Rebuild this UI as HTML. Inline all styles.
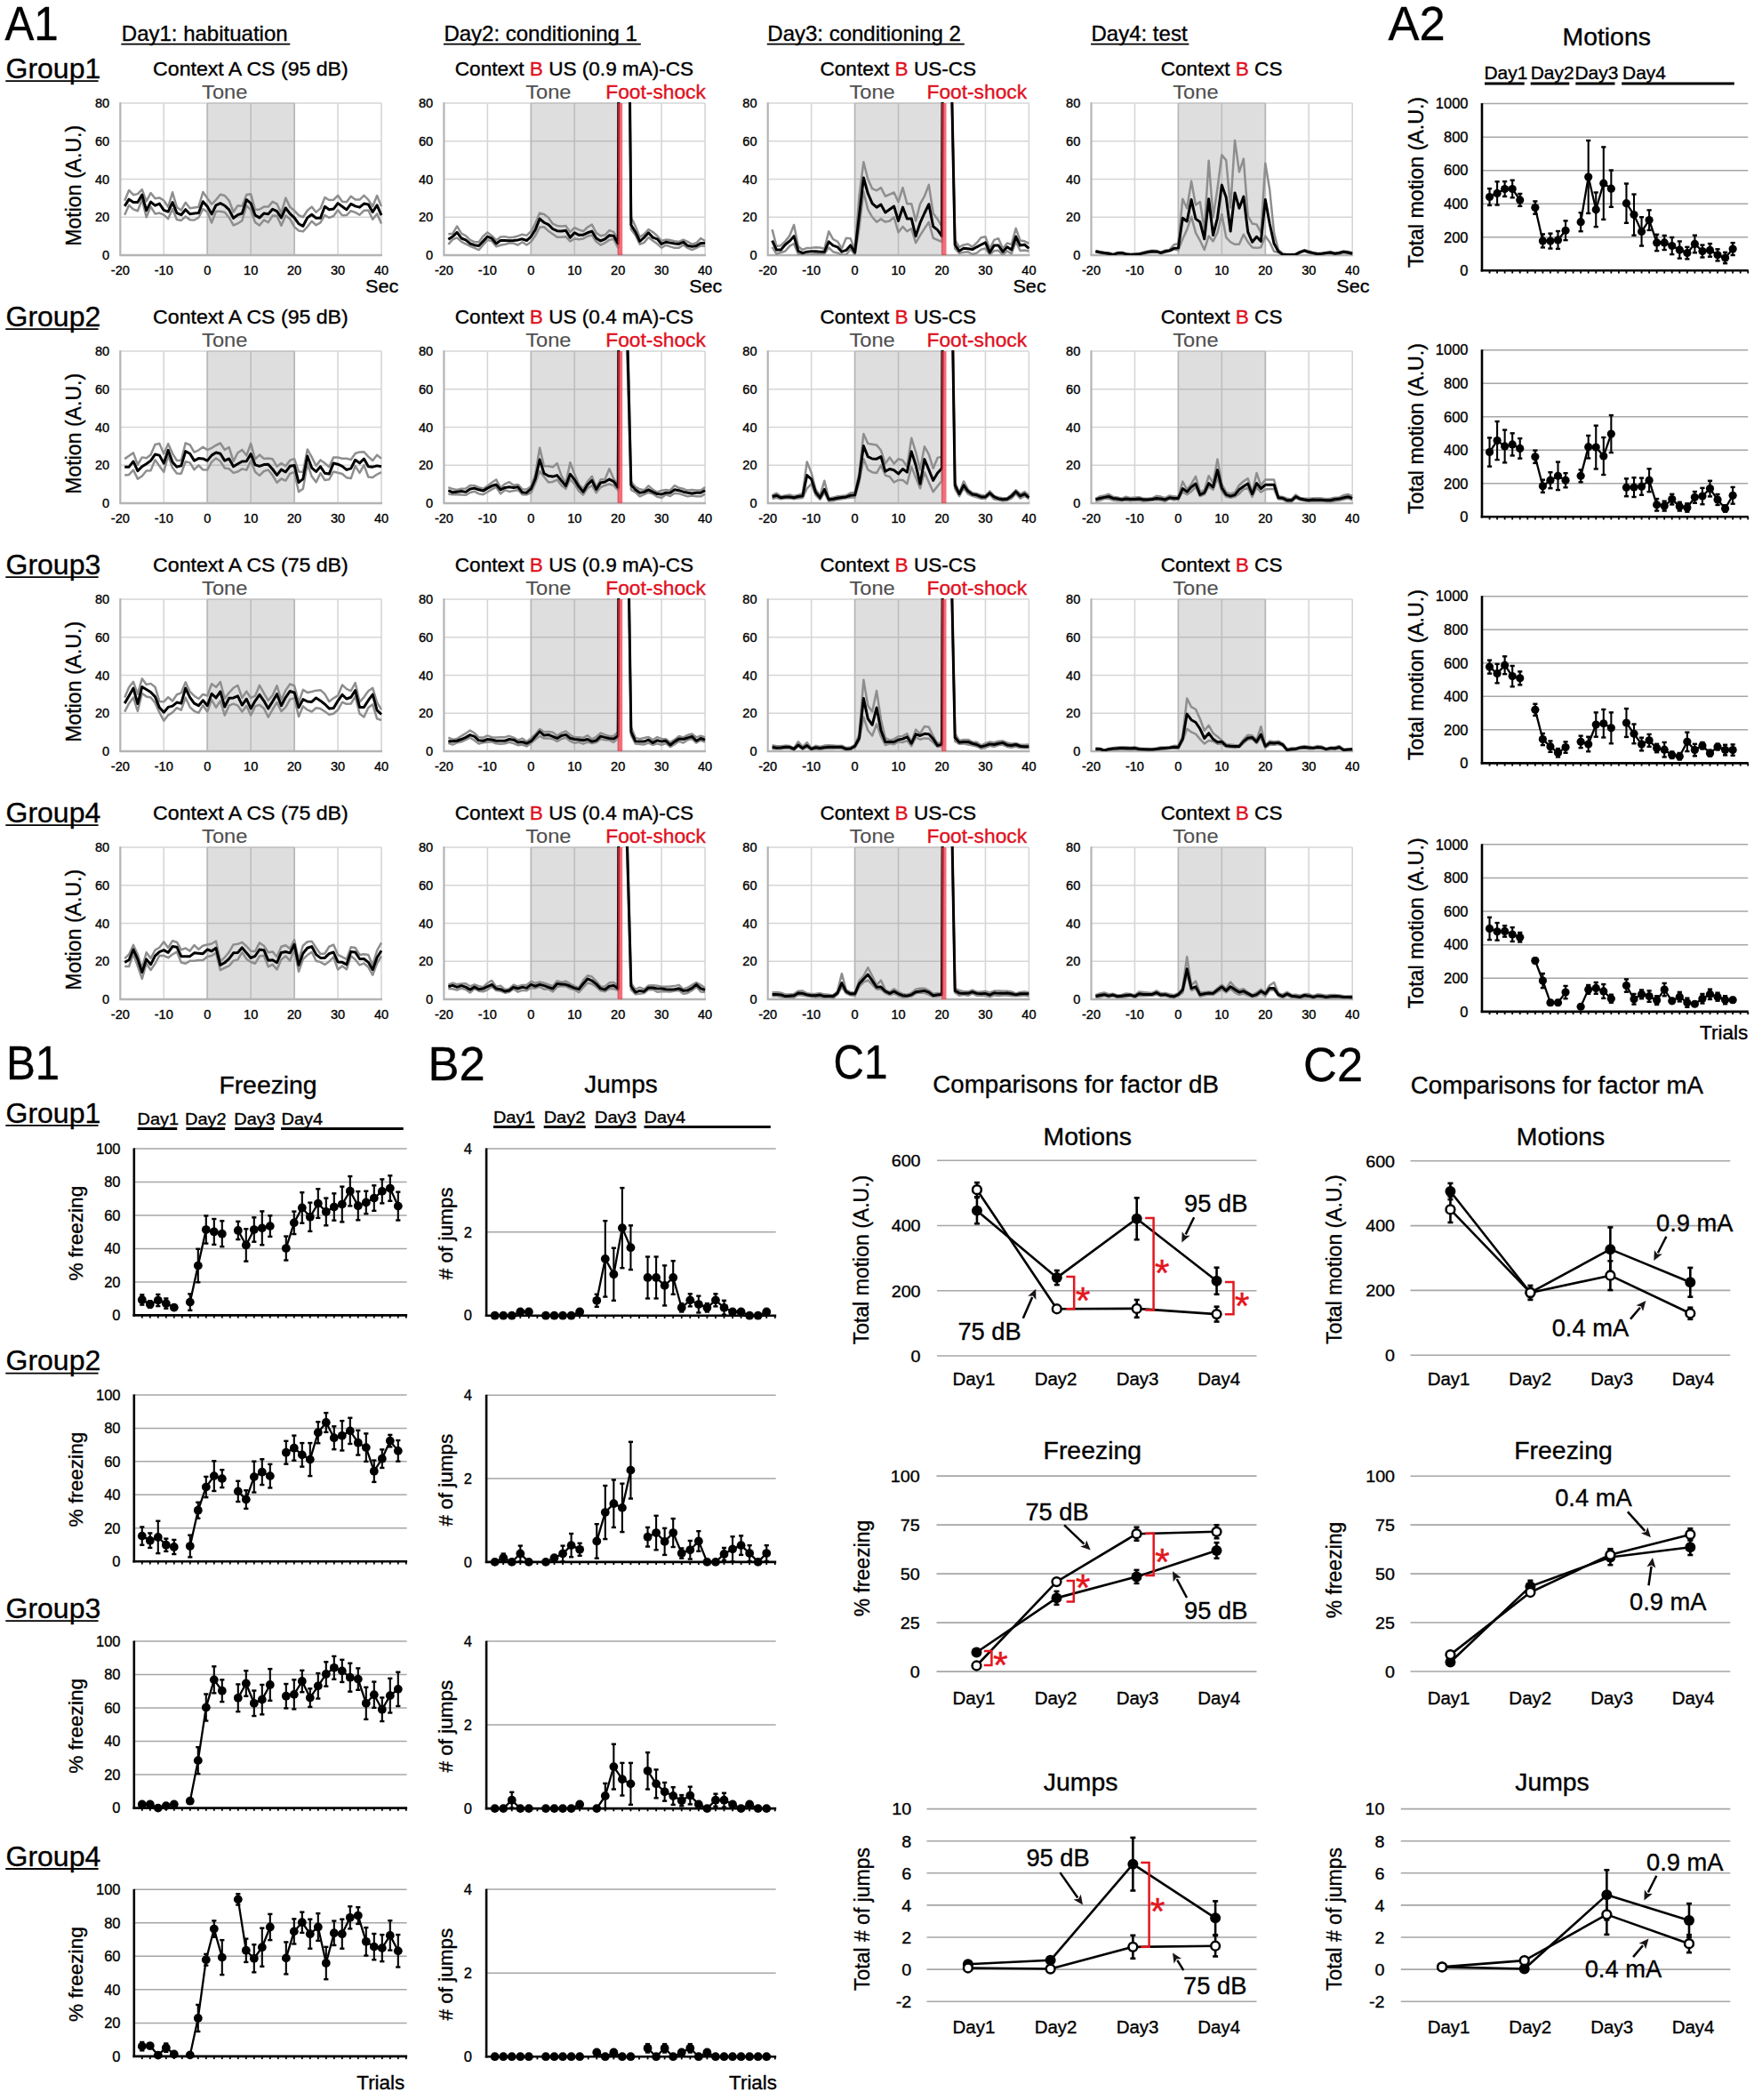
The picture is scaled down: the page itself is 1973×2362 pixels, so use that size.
<!DOCTYPE html>
<html><head><meta charset="utf-8"><title>Figure</title><style>html,body{margin:0;padding:0;background:#fff;}svg{display:block;}</style></head><body>
<svg width="1973" height="2362" viewBox="0 0 1973 2362" font-family="'Liberation Sans', Arial, Helvetica, sans-serif">
<rect x="0" y="0" width="1973" height="2362" fill="#fff"/>
<text transform="translate(5.5,45.4) scale(0.93,1)" font-size="53" text-anchor="start" fill="#000" stroke="#000" stroke-width="0.35">A1</text>
<text x="136.8" y="45.6" font-size="24" text-anchor="start" fill="#000" stroke="#000" stroke-width="0.35">Day1: habituation</text>
<line x1="136.3" y1="49.6" x2="326.3" y2="49.6" stroke="#000" stroke-width="1.6"/>
<text x="499.4" y="45.6" font-size="24" text-anchor="start" fill="#000" stroke="#000" stroke-width="0.35">Day2: conditioning 1</text>
<line x1="498.9" y1="49.6" x2="720.8" y2="49.6" stroke="#000" stroke-width="1.6"/>
<text x="863.3" y="45.6" font-size="24" text-anchor="start" fill="#000" stroke="#000" stroke-width="0.35">Day3: conditioning 2</text>
<line x1="862.8" y1="49.6" x2="1084.8" y2="49.6" stroke="#000" stroke-width="1.6"/>
<text x="1227.5" y="45.6" font-size="24" text-anchor="start" fill="#000" stroke="#000" stroke-width="0.35">Day4: test</text>
<line x1="1227" y1="49.6" x2="1337.4" y2="49.6" stroke="#000" stroke-width="1.6"/>
<text x="6.5" y="87.8" font-size="32" text-anchor="start" fill="#000" stroke="#000" stroke-width="0.35">Group1</text>
<line x1="6.3" y1="91.1" x2="110.6" y2="91.1" stroke="#000" stroke-width="1.8"/>
<rect x="233.2" y="116" width="97.9" height="171" fill="#dedede"/>
<line x1="184.25" y1="116" x2="184.25" y2="287" stroke="#d6d6d6" stroke-width="1.6"/>
<line x1="380.05" y1="116" x2="380.05" y2="287" stroke="#d6d6d6" stroke-width="1.6"/>
<line x1="282.15" y1="116" x2="282.15" y2="287" stroke="#bdbdbd" stroke-width="1.6"/>
<line x1="135.3" y1="244.25" x2="233.2" y2="244.25" stroke="#d6d6d6" stroke-width="1.6"/>
<line x1="233.2" y1="244.25" x2="331.1" y2="244.25" stroke="#bdbdbd" stroke-width="1.6"/>
<line x1="331.1" y1="244.25" x2="429" y2="244.25" stroke="#d6d6d6" stroke-width="1.6"/>
<line x1="135.3" y1="201.5" x2="233.2" y2="201.5" stroke="#d6d6d6" stroke-width="1.6"/>
<line x1="233.2" y1="201.5" x2="331.1" y2="201.5" stroke="#bdbdbd" stroke-width="1.6"/>
<line x1="331.1" y1="201.5" x2="429" y2="201.5" stroke="#d6d6d6" stroke-width="1.6"/>
<line x1="135.3" y1="158.75" x2="233.2" y2="158.75" stroke="#d6d6d6" stroke-width="1.6"/>
<line x1="233.2" y1="158.75" x2="331.1" y2="158.75" stroke="#bdbdbd" stroke-width="1.6"/>
<line x1="331.1" y1="158.75" x2="429" y2="158.75" stroke="#d6d6d6" stroke-width="1.6"/>
<line x1="135.3" y1="116" x2="233.2" y2="116" stroke="#d6d6d6" stroke-width="1.6"/>
<line x1="233.2" y1="116" x2="331.1" y2="116" stroke="#bdbdbd" stroke-width="1.6"/>
<line x1="331.1" y1="116" x2="429" y2="116" stroke="#d6d6d6" stroke-width="1.6"/>
<line x1="429" y1="116" x2="429" y2="287" stroke="#d6d6d6" stroke-width="1.6"/>
<line x1="233.2" y1="116" x2="233.2" y2="287" stroke="#b8b8b8" stroke-width="1.8"/>
<line x1="331.1" y1="116" x2="331.1" y2="287" stroke="#b8b8b8" stroke-width="1.8"/>
<line x1="135.3" y1="115.2" x2="135.3" y2="287" stroke="#b4b4b4" stroke-width="2.2"/>
<line x1="134.3" y1="287" x2="430" y2="287" stroke="#b4b4b4" stroke-width="2.4"/>
<clipPath id="cp00"><rect x="135.3" y="115" width="295.7" height="172"/></clipPath>
<polyline points="140.2,225.83 145.09,213.92 149.99,219.16 154.88,218.15 159.78,213.08 164.67,226.39 169.56,216.99 174.46,223.19 179.36,222.4 184.25,225.54 189.15,232.81 194.04,216.29 198.94,233.13 203.83,236.47 208.73,227.81 213.62,234.33 218.51,233.55 223.41,232.67 228.31,216.07 233.2,223.02 238.09,229.58 242.99,224.83 247.88,218.79 252.78,220.04 257.68,225.55 262.57,238.46 267.47,231.15 272.36,231.75 277.25,219.1 282.15,218.3 287.04,236.01 291.94,235.55 296.84,232.57 301.73,232.61 306.62,226.85 311.52,229.45 316.41,239.63 321.31,222.6 326.2,232.89 331.1,236.79 336,242.15 340.89,244.24 345.78,236.72 350.68,232.61 355.57,238.67 360.47,234.42 365.37,222.12 370.26,224.98 375.15,224.81 380.05,219.82 384.94,226.76 389.84,227.2 394.74,220.84 399.63,224.41 404.52,224.56 409.42,219.93 414.31,224.56 419.21,232.29 424.1,220.09 429,232.12" fill="none" stroke="#8e8e8e" stroke-width="2.5" stroke-linejoin="round" clip-path="url(#cp00)"/>
<polyline points="140.2,241.73 145.09,230.87 149.99,235.32 154.88,237.23 159.78,224.52 164.67,244.24 169.56,232.39 174.46,240.4 179.36,239.57 184.25,241.61 189.15,246.1 194.04,234.94 198.94,246.91 203.83,247.92 208.73,243.54 213.62,247.13 218.51,247.54 223.41,244.73 228.31,235.09 233.2,238.47 238.09,250.55 242.99,237.82 247.88,237.84 252.78,238.73 257.68,244.71 262.57,253.46 267.47,251.31 272.36,248.24 277.25,231.22 282.15,236.17 287.04,250.11 291.94,253.51 296.84,247.42 301.73,250.11 306.62,242.56 311.52,242.87 316.41,253.67 321.31,242.41 326.2,246.38 331.1,255.17 336,259.49 340.89,260.39 345.78,255.01 350.68,248.79 355.57,253.25 360.47,250.34 365.37,241.99 370.26,244.89 375.15,243.04 380.05,236.24 384.94,242.27 389.84,242.12 394.74,237.2 399.63,238.94 404.52,241.74 409.42,236.84 414.31,236.4 419.21,246.75 424.1,240.41 429,251.56" fill="none" stroke="#8e8e8e" stroke-width="2.5" stroke-linejoin="round" clip-path="url(#cp00)"/>
<polyline points="140.2,231.85 145.09,224.16 149.99,227.58 154.88,227.58 159.78,219.03 164.67,236.77 169.56,227.15 174.46,231.21 179.36,229.07 184.25,236.34 189.15,238.05 194.04,227.58 198.94,239.55 203.83,241.69 208.73,235.7 213.62,240.83 218.51,239.97 223.41,239.55 228.31,226.72 233.2,232.28 238.09,240.83 242.99,230.78 247.88,228.65 252.78,231.21 257.68,235.91 262.57,245.32 267.47,241.69 272.36,239.97 277.25,224.58 282.15,228.65 287.04,242.11 291.94,244.89 296.84,239.97 301.73,240.83 306.62,235.27 311.52,237.62 316.41,244.89 321.31,233.99 326.2,240.4 331.1,244.89 336,251.73 340.89,254.3 345.78,244.89 350.68,241.26 355.57,245.32 360.47,245.32 365.37,232.28 370.26,235.7 375.15,235.06 380.05,228.65 384.94,232.28 389.84,235.91 394.74,229.29 399.63,231.85 404.52,233.13 409.42,229.07 414.31,229.93 419.21,238.48 424.1,230.78 429,242.11" fill="none" stroke="#000" stroke-width="3.0" stroke-linejoin="round" clip-path="url(#cp00)"/>
<text transform="translate(123.1,292) scale(1.04,1)" font-size="14" text-anchor="end" fill="#000" stroke="#000" stroke-width="0.35">0</text>
<text transform="translate(123.1,249.25) scale(1.04,1)" font-size="14" text-anchor="end" fill="#000" stroke="#000" stroke-width="0.35">20</text>
<text transform="translate(123.1,206.5) scale(1.04,1)" font-size="14" text-anchor="end" fill="#000" stroke="#000" stroke-width="0.35">40</text>
<text transform="translate(123.1,163.75) scale(1.04,1)" font-size="14" text-anchor="end" fill="#000" stroke="#000" stroke-width="0.35">60</text>
<text transform="translate(123.1,121) scale(1.04,1)" font-size="14" text-anchor="end" fill="#000" stroke="#000" stroke-width="0.35">80</text>
<text transform="translate(135.3,308.7) scale(1.04,1)" font-size="14" text-anchor="middle" fill="#000" stroke="#000" stroke-width="0.35">-20</text>
<text transform="translate(184.25,308.7) scale(1.04,1)" font-size="14" text-anchor="middle" fill="#000" stroke="#000" stroke-width="0.35">-10</text>
<text transform="translate(233.2,308.7) scale(1.04,1)" font-size="14" text-anchor="middle" fill="#000" stroke="#000" stroke-width="0.35">0</text>
<text transform="translate(282.15,308.7) scale(1.04,1)" font-size="14" text-anchor="middle" fill="#000" stroke="#000" stroke-width="0.35">10</text>
<text transform="translate(331.1,308.7) scale(1.04,1)" font-size="14" text-anchor="middle" fill="#000" stroke="#000" stroke-width="0.35">20</text>
<text transform="translate(380.05,308.7) scale(1.04,1)" font-size="14" text-anchor="middle" fill="#000" stroke="#000" stroke-width="0.35">30</text>
<text transform="translate(429,308.7) scale(1.04,1)" font-size="14" text-anchor="middle" fill="#000" stroke="#000" stroke-width="0.35">40</text>
<text transform="translate(448.3,329.2) scale(1.03,1)" font-size="21" text-anchor="end" fill="#000" stroke="#000" stroke-width="0.35">Sec</text>
<text transform="translate(281.9,84.9) scale(1.075,1)" font-size="21.5" text-anchor="middle" fill="#000" stroke="#000" stroke-width="0.35">Context A CS (95 dB)</text>
<text transform="translate(227.1,110.9) scale(1.06,1)" font-size="22.3" text-anchor="start" fill="#4f4f4f" stroke="#4f4f4f" stroke-width="0.15">Tone</text>
<text transform="translate(91,208.8) rotate(-90) scale(1.0,1)" font-size="23.1" text-anchor="middle" fill="#000" stroke="#000" stroke-width="0.35">Motion (A.U.)</text>
<rect x="597.3" y="116" width="97.9" height="171" fill="#dedede"/>
<line x1="548.35" y1="116" x2="548.35" y2="287" stroke="#d6d6d6" stroke-width="1.6"/>
<line x1="744.15" y1="116" x2="744.15" y2="287" stroke="#d6d6d6" stroke-width="1.6"/>
<line x1="646.25" y1="116" x2="646.25" y2="287" stroke="#bdbdbd" stroke-width="1.6"/>
<line x1="499.4" y1="244.25" x2="597.3" y2="244.25" stroke="#d6d6d6" stroke-width="1.6"/>
<line x1="597.3" y1="244.25" x2="695.2" y2="244.25" stroke="#bdbdbd" stroke-width="1.6"/>
<line x1="695.2" y1="244.25" x2="793.1" y2="244.25" stroke="#d6d6d6" stroke-width="1.6"/>
<line x1="499.4" y1="201.5" x2="597.3" y2="201.5" stroke="#d6d6d6" stroke-width="1.6"/>
<line x1="597.3" y1="201.5" x2="695.2" y2="201.5" stroke="#bdbdbd" stroke-width="1.6"/>
<line x1="695.2" y1="201.5" x2="793.1" y2="201.5" stroke="#d6d6d6" stroke-width="1.6"/>
<line x1="499.4" y1="158.75" x2="597.3" y2="158.75" stroke="#d6d6d6" stroke-width="1.6"/>
<line x1="597.3" y1="158.75" x2="695.2" y2="158.75" stroke="#bdbdbd" stroke-width="1.6"/>
<line x1="695.2" y1="158.75" x2="793.1" y2="158.75" stroke="#d6d6d6" stroke-width="1.6"/>
<line x1="499.4" y1="116" x2="597.3" y2="116" stroke="#d6d6d6" stroke-width="1.6"/>
<line x1="597.3" y1="116" x2="695.2" y2="116" stroke="#bdbdbd" stroke-width="1.6"/>
<line x1="695.2" y1="116" x2="793.1" y2="116" stroke="#d6d6d6" stroke-width="1.6"/>
<line x1="793.1" y1="116" x2="793.1" y2="287" stroke="#d6d6d6" stroke-width="1.6"/>
<line x1="597.3" y1="116" x2="597.3" y2="287" stroke="#b8b8b8" stroke-width="1.8"/>
<line x1="695.2" y1="116" x2="695.2" y2="287" stroke="#b8b8b8" stroke-width="1.8"/>
<line x1="499.4" y1="115.2" x2="499.4" y2="287" stroke="#b4b4b4" stroke-width="2.2"/>
<line x1="498.4" y1="287" x2="794.1" y2="287" stroke="#b4b4b4" stroke-width="2.4"/>
<clipPath id="cp01"><rect x="499.4" y="115" width="295.7" height="172"/></clipPath>
<polyline points="504.29,263.2 509.19,262.82 514.08,254.45 518.98,262.72 523.88,265.13 528.77,269.82 533.66,272.19 538.56,272.34 543.45,265.73 548.35,261.36 553.25,265.21 558.14,270.17 563.03,266.61 567.93,266.13 572.82,267.32 577.72,266.79 582.62,265.46 587.51,263.68 592.4,264.91 597.3,260.28 602.19,251.31 607.09,239.6 611.99,240.91 616.88,244.71 621.77,251.7 626.67,253.98 631.56,254.41 636.46,254.1 641.36,260.91 646.25,256.06 651.14,258.36 656.04,260.08 660.93,255.51 665.83,252.65 670.72,261.86 675.62,265.2 680.51,264.27 685.41,259.13 690.3,260.91 695.2,270.03 700.1,-995.5 704.99,-253.79 709.88,244.43 714.78,254.34 719.67,266.68 724.57,263.36 729.46,257.98 734.36,261.07 739.25,265.29 744.15,270.77 749.04,269.61 753.94,270.11 758.84,271.31 763.73,271.94 768.62,269.64 773.52,271.85 778.41,274.75 783.31,273.27 788.2,268.1 793.1,270.98" fill="none" stroke="#8e8e8e" stroke-width="2.5" stroke-linejoin="round" clip-path="url(#cp01)"/>
<polyline points="504.29,274.86 509.19,269.35 514.08,267.43 518.98,271.8 523.88,274.4 528.77,276.78 533.66,278.91 538.56,281.1 543.45,275.53 548.35,269.95 553.25,271.13 558.14,277.19 563.03,275.78 567.93,274.83 572.82,273.48 577.72,273.61 582.62,275.55 587.51,272.19 592.4,275.51 597.3,272.03 602.19,265.06 607.09,255.58 611.99,255.23 616.88,259.8 621.77,263.3 626.67,266.67 631.56,266.68 636.46,266.15 641.36,271.52 646.25,268.46 651.14,269.15 656.04,268.41 660.93,265.73 665.83,264.57 670.72,271.81 675.62,275.62 680.51,273.2 685.41,269.87 690.3,268.98 695.2,278.79 700.1,-995.5 704.99,-253.79 709.88,257.89 714.78,264.56 719.67,274.77 724.57,272.83 729.46,267.02 734.36,270.84 739.25,274.3 744.15,278.59 749.04,275.78 753.94,277.37 758.84,278.84 763.73,278.63 768.62,275.49 773.52,278.91 778.41,281.11 783.31,278.84 788.2,276.37 793.1,276.88" fill="none" stroke="#8e8e8e" stroke-width="2.5" stroke-linejoin="round" clip-path="url(#cp01)"/>
<polyline points="504.29,269.26 509.19,266.05 514.08,261.35 518.98,267.98 523.88,269.9 528.77,273.96 533.66,275.67 538.56,276.53 543.45,271.4 548.35,266.05 553.25,268.19 558.14,273.96 563.03,270.54 567.93,270.54 572.82,270.75 577.72,270.54 582.62,269.9 587.51,268.83 592.4,270.54 597.3,266.05 602.19,258.36 607.09,246.17 611.99,250.24 616.88,252.59 621.77,257.5 626.67,259.64 631.56,260.07 636.46,259.21 641.36,267.12 646.25,261.78 651.14,264.34 656.04,264.13 660.93,261.78 665.83,260.07 670.72,267.98 675.62,270.97 680.51,268.83 685.41,264.77 690.3,265.2 695.2,273.96 700.1,-995.5 704.99,-253.79 709.88,253.01 714.78,260.92 719.67,271.4 724.57,267.12 729.46,261.78 734.36,267.12 739.25,268.83 744.15,274.39 749.04,272.25 753.94,273.11 758.84,273.96 763.73,274.39 768.62,272.25 773.52,276.31 778.41,277.38 783.31,276.53 788.2,273.53 793.1,273.53" fill="none" stroke="#000" stroke-width="3.0" stroke-linejoin="round" clip-path="url(#cp01)"/>
<rect x="694.8" y="116" width="5.4" height="171" fill="#ee3344" fill-opacity="0.72"/>
<text transform="translate(487.2,292) scale(1.04,1)" font-size="14" text-anchor="end" fill="#000" stroke="#000" stroke-width="0.35">0</text>
<text transform="translate(487.2,249.25) scale(1.04,1)" font-size="14" text-anchor="end" fill="#000" stroke="#000" stroke-width="0.35">20</text>
<text transform="translate(487.2,206.5) scale(1.04,1)" font-size="14" text-anchor="end" fill="#000" stroke="#000" stroke-width="0.35">40</text>
<text transform="translate(487.2,163.75) scale(1.04,1)" font-size="14" text-anchor="end" fill="#000" stroke="#000" stroke-width="0.35">60</text>
<text transform="translate(487.2,121) scale(1.04,1)" font-size="14" text-anchor="end" fill="#000" stroke="#000" stroke-width="0.35">80</text>
<text transform="translate(499.4,308.7) scale(1.04,1)" font-size="14" text-anchor="middle" fill="#000" stroke="#000" stroke-width="0.35">-20</text>
<text transform="translate(548.35,308.7) scale(1.04,1)" font-size="14" text-anchor="middle" fill="#000" stroke="#000" stroke-width="0.35">-10</text>
<text transform="translate(597.3,308.7) scale(1.04,1)" font-size="14" text-anchor="middle" fill="#000" stroke="#000" stroke-width="0.35">0</text>
<text transform="translate(646.25,308.7) scale(1.04,1)" font-size="14" text-anchor="middle" fill="#000" stroke="#000" stroke-width="0.35">10</text>
<text transform="translate(695.2,308.7) scale(1.04,1)" font-size="14" text-anchor="middle" fill="#000" stroke="#000" stroke-width="0.35">20</text>
<text transform="translate(744.15,308.7) scale(1.04,1)" font-size="14" text-anchor="middle" fill="#000" stroke="#000" stroke-width="0.35">30</text>
<text transform="translate(793.1,308.7) scale(1.04,1)" font-size="14" text-anchor="middle" fill="#000" stroke="#000" stroke-width="0.35">40</text>
<text transform="translate(812.4,329.2) scale(1.03,1)" font-size="21" text-anchor="end" fill="#000" stroke="#000" stroke-width="0.35">Sec</text>
<text transform="translate(646,84.9) scale(1.05,1)" font-size="21.5" text-anchor="middle" fill="#000" stroke="#000" stroke-width="0.35">Context <tspan fill="#e0101e" stroke="#e0101e">B</tspan> US (0.9 mA)-CS</text>
<text transform="translate(591.2,110.9) scale(1.06,1)" font-size="22.3" text-anchor="start" fill="#4f4f4f" stroke="#4f4f4f" stroke-width="0.15">Tone</text>
<text transform="translate(681.3,111.1) scale(1.035,1)" font-size="22" text-anchor="start" fill="#e0101e" stroke="#e0101e" stroke-width="0.35">Foot-shock</text>
<rect x="961.6" y="116" width="97.9" height="171" fill="#dedede"/>
<line x1="912.65" y1="116" x2="912.65" y2="287" stroke="#d6d6d6" stroke-width="1.6"/>
<line x1="1108.45" y1="116" x2="1108.45" y2="287" stroke="#d6d6d6" stroke-width="1.6"/>
<line x1="1010.55" y1="116" x2="1010.55" y2="287" stroke="#bdbdbd" stroke-width="1.6"/>
<line x1="863.7" y1="244.25" x2="961.6" y2="244.25" stroke="#d6d6d6" stroke-width="1.6"/>
<line x1="961.6" y1="244.25" x2="1059.5" y2="244.25" stroke="#bdbdbd" stroke-width="1.6"/>
<line x1="1059.5" y1="244.25" x2="1157.4" y2="244.25" stroke="#d6d6d6" stroke-width="1.6"/>
<line x1="863.7" y1="201.5" x2="961.6" y2="201.5" stroke="#d6d6d6" stroke-width="1.6"/>
<line x1="961.6" y1="201.5" x2="1059.5" y2="201.5" stroke="#bdbdbd" stroke-width="1.6"/>
<line x1="1059.5" y1="201.5" x2="1157.4" y2="201.5" stroke="#d6d6d6" stroke-width="1.6"/>
<line x1="863.7" y1="158.75" x2="961.6" y2="158.75" stroke="#d6d6d6" stroke-width="1.6"/>
<line x1="961.6" y1="158.75" x2="1059.5" y2="158.75" stroke="#bdbdbd" stroke-width="1.6"/>
<line x1="1059.5" y1="158.75" x2="1157.4" y2="158.75" stroke="#d6d6d6" stroke-width="1.6"/>
<line x1="863.7" y1="116" x2="961.6" y2="116" stroke="#d6d6d6" stroke-width="1.6"/>
<line x1="961.6" y1="116" x2="1059.5" y2="116" stroke="#bdbdbd" stroke-width="1.6"/>
<line x1="1059.5" y1="116" x2="1157.4" y2="116" stroke="#d6d6d6" stroke-width="1.6"/>
<line x1="1157.4" y1="116" x2="1157.4" y2="287" stroke="#d6d6d6" stroke-width="1.6"/>
<line x1="961.6" y1="116" x2="961.6" y2="287" stroke="#b8b8b8" stroke-width="1.8"/>
<line x1="1059.5" y1="116" x2="1059.5" y2="287" stroke="#b8b8b8" stroke-width="1.8"/>
<line x1="863.7" y1="115.2" x2="863.7" y2="287" stroke="#b4b4b4" stroke-width="2.2"/>
<line x1="862.7" y1="287" x2="1158.4" y2="287" stroke="#b4b4b4" stroke-width="2.4"/>
<clipPath id="cp02"><rect x="863.7" y="115" width="295.7" height="172"/></clipPath>
<polyline points="868.6,258.14 873.49,277 878.38,276.12 883.28,271.37 888.18,265.18 893.07,253.01 897.97,277.16 902.86,280.9 907.75,278.92 912.65,278.7 917.55,278.25 922.44,278.56 927.34,279.9 932.23,260.28 937.12,269.2 942.02,271.51 946.92,279.63 951.81,267.76 956.71,268.18 961.6,281.42 966.5,220.51 971.39,182.26 976.29,201.5 981.18,212.19 986.08,214.32 990.97,211.12 995.87,220.74 1000.76,218.6 1005.65,216.46 1010.55,227.15 1015.45,211.12 1020.34,229.29 1025.24,229.29 1030.13,248.53 1035.03,229.29 1039.92,220.74 1044.82,207.91 1049.71,239.97 1054.61,246.39 1059.5,254.94 1064.39,-995.5 1069.29,36.91 1074.18,269.98 1079.08,277.9 1083.97,275.49 1088.87,274.48 1093.77,277.6 1098.66,273.17 1103.56,267.21 1108.45,266.24 1113.35,280.03 1118.24,269.92 1123.13,268.19 1128.03,279.52 1132.92,273.49 1137.82,274.92 1142.72,256.85 1147.61,270.57 1152.51,271.34 1157.4,273.84" fill="none" stroke="#8e8e8e" stroke-width="2.5" stroke-linejoin="round" clip-path="url(#cp02)"/>
<polyline points="868.6,277.94 873.49,285.56 878.38,283.97 883.28,282.48 888.18,276.88 893.07,274 897.97,286.11 902.86,286.57 907.75,286.57 912.65,286.57 917.55,285.34 922.44,286.57 927.34,285.6 932.23,278.51 937.12,283.21 942.02,284.46 946.92,286.57 951.81,286.57 956.71,279.96 961.6,286.57 966.5,256.57 971.39,215.61 976.29,235.7 981.18,244.25 986.08,249.59 990.97,246.39 995.87,249.59 1000.76,248.53 1005.65,244.25 1010.55,261.35 1015.45,254.94 1020.34,260.28 1025.24,257.07 1030.13,273.11 1035.03,264.56 1039.92,257.07 1044.82,249.81 1049.71,267.76 1054.61,269.9 1059.5,272.04 1064.39,-995.5 1069.29,36.91 1074.18,279.37 1079.08,284.91 1083.97,283.72 1088.87,283.23 1093.77,286.07 1098.66,284.6 1103.56,280.6 1108.45,279.5 1113.35,286.57 1118.24,282.19 1123.13,281.74 1128.03,286.57 1132.92,282.23 1137.82,285.32 1142.72,271.6 1147.61,282.03 1152.51,281.58 1157.4,282.57" fill="none" stroke="#8e8e8e" stroke-width="2.5" stroke-linejoin="round" clip-path="url(#cp02)"/>
<polyline points="868.6,270.54 873.49,281.01 878.38,281.01 883.28,275.24 888.18,271.18 893.07,265.62 897.97,282.3 902.86,284.65 907.75,283.15 912.65,282.73 917.55,282.73 922.44,283.15 927.34,283.15 932.23,271.82 937.12,276.1 942.02,277.81 946.92,283.15 951.81,281.44 956.71,275.88 961.6,284.01 966.5,242.11 971.39,200 976.29,217.53 981.18,228.86 986.08,233.13 990.97,230.14 995.87,238.91 1000.76,235.49 1005.65,232.07 1010.55,248.53 1015.45,233.13 1020.34,245.96 1025.24,245.96 1030.13,265.62 1035.03,250.66 1039.92,239.76 1044.82,229.72 1049.71,254.72 1054.61,258.57 1059.5,265.62 1064.39,-995.5 1069.29,36.91 1074.18,275.24 1079.08,282.3 1083.97,279.31 1088.87,279.73 1093.77,280.59 1098.66,277.81 1103.56,275.24 1108.45,272.89 1113.35,284.01 1118.24,276.1 1123.13,276.1 1128.03,283.15 1132.92,277.81 1137.82,281.01 1142.72,266.05 1147.61,276.1 1152.51,275.24 1157.4,279.31" fill="none" stroke="#000" stroke-width="3.0" stroke-linejoin="round" clip-path="url(#cp02)"/>
<rect x="1059.1" y="116" width="5.4" height="171" fill="#ee3344" fill-opacity="0.72"/>
<text transform="translate(851.5,292) scale(1.04,1)" font-size="14" text-anchor="end" fill="#000" stroke="#000" stroke-width="0.35">0</text>
<text transform="translate(851.5,249.25) scale(1.04,1)" font-size="14" text-anchor="end" fill="#000" stroke="#000" stroke-width="0.35">20</text>
<text transform="translate(851.5,206.5) scale(1.04,1)" font-size="14" text-anchor="end" fill="#000" stroke="#000" stroke-width="0.35">40</text>
<text transform="translate(851.5,163.75) scale(1.04,1)" font-size="14" text-anchor="end" fill="#000" stroke="#000" stroke-width="0.35">60</text>
<text transform="translate(851.5,121) scale(1.04,1)" font-size="14" text-anchor="end" fill="#000" stroke="#000" stroke-width="0.35">80</text>
<text transform="translate(863.7,308.7) scale(1.04,1)" font-size="14" text-anchor="middle" fill="#000" stroke="#000" stroke-width="0.35">-20</text>
<text transform="translate(912.65,308.7) scale(1.04,1)" font-size="14" text-anchor="middle" fill="#000" stroke="#000" stroke-width="0.35">-10</text>
<text transform="translate(961.6,308.7) scale(1.04,1)" font-size="14" text-anchor="middle" fill="#000" stroke="#000" stroke-width="0.35">0</text>
<text transform="translate(1010.55,308.7) scale(1.04,1)" font-size="14" text-anchor="middle" fill="#000" stroke="#000" stroke-width="0.35">10</text>
<text transform="translate(1059.5,308.7) scale(1.04,1)" font-size="14" text-anchor="middle" fill="#000" stroke="#000" stroke-width="0.35">20</text>
<text transform="translate(1108.45,308.7) scale(1.04,1)" font-size="14" text-anchor="middle" fill="#000" stroke="#000" stroke-width="0.35">30</text>
<text transform="translate(1157.4,308.7) scale(1.04,1)" font-size="14" text-anchor="middle" fill="#000" stroke="#000" stroke-width="0.35">40</text>
<text transform="translate(1176.7,329.2) scale(1.03,1)" font-size="21" text-anchor="end" fill="#000" stroke="#000" stroke-width="0.35">Sec</text>
<text transform="translate(1010.3,84.9) scale(1.05,1)" font-size="21.5" text-anchor="middle" fill="#000" stroke="#000" stroke-width="0.35">Context <tspan fill="#e0101e" stroke="#e0101e">B</tspan> US-CS</text>
<text transform="translate(955.5,110.9) scale(1.06,1)" font-size="22.3" text-anchor="start" fill="#4f4f4f" stroke="#4f4f4f" stroke-width="0.15">Tone</text>
<text transform="translate(1042.5,111.1) scale(1.035,1)" font-size="22" text-anchor="start" fill="#e0101e" stroke="#e0101e" stroke-width="0.35">Foot-shock</text>
<rect x="1325.4" y="116" width="97.9" height="171" fill="#dedede"/>
<line x1="1276.45" y1="116" x2="1276.45" y2="287" stroke="#d6d6d6" stroke-width="1.6"/>
<line x1="1472.25" y1="116" x2="1472.25" y2="287" stroke="#d6d6d6" stroke-width="1.6"/>
<line x1="1374.35" y1="116" x2="1374.35" y2="287" stroke="#bdbdbd" stroke-width="1.6"/>
<line x1="1227.5" y1="244.25" x2="1325.4" y2="244.25" stroke="#d6d6d6" stroke-width="1.6"/>
<line x1="1325.4" y1="244.25" x2="1423.3" y2="244.25" stroke="#bdbdbd" stroke-width="1.6"/>
<line x1="1423.3" y1="244.25" x2="1521.2" y2="244.25" stroke="#d6d6d6" stroke-width="1.6"/>
<line x1="1227.5" y1="201.5" x2="1325.4" y2="201.5" stroke="#d6d6d6" stroke-width="1.6"/>
<line x1="1325.4" y1="201.5" x2="1423.3" y2="201.5" stroke="#bdbdbd" stroke-width="1.6"/>
<line x1="1423.3" y1="201.5" x2="1521.2" y2="201.5" stroke="#d6d6d6" stroke-width="1.6"/>
<line x1="1227.5" y1="158.75" x2="1325.4" y2="158.75" stroke="#d6d6d6" stroke-width="1.6"/>
<line x1="1325.4" y1="158.75" x2="1423.3" y2="158.75" stroke="#bdbdbd" stroke-width="1.6"/>
<line x1="1423.3" y1="158.75" x2="1521.2" y2="158.75" stroke="#d6d6d6" stroke-width="1.6"/>
<line x1="1227.5" y1="116" x2="1325.4" y2="116" stroke="#d6d6d6" stroke-width="1.6"/>
<line x1="1325.4" y1="116" x2="1423.3" y2="116" stroke="#bdbdbd" stroke-width="1.6"/>
<line x1="1423.3" y1="116" x2="1521.2" y2="116" stroke="#d6d6d6" stroke-width="1.6"/>
<line x1="1521.2" y1="116" x2="1521.2" y2="287" stroke="#d6d6d6" stroke-width="1.6"/>
<line x1="1325.4" y1="116" x2="1325.4" y2="287" stroke="#b8b8b8" stroke-width="1.8"/>
<line x1="1423.3" y1="116" x2="1423.3" y2="287" stroke="#b8b8b8" stroke-width="1.8"/>
<line x1="1227.5" y1="115.2" x2="1227.5" y2="287" stroke="#b4b4b4" stroke-width="2.2"/>
<line x1="1226.5" y1="287" x2="1522.2" y2="287" stroke="#b4b4b4" stroke-width="2.4"/>
<clipPath id="cp03"><rect x="1227.5" y="115" width="295.7" height="172"/></clipPath>
<polyline points="1232.39,282.01 1237.29,283.02 1242.18,283.89 1247.08,284.28 1251.97,285.73 1256.87,284.05 1261.77,283.83 1266.66,285.14 1271.56,285.7 1276.45,285.26 1281.35,285.08 1286.24,283.71 1291.13,282.48 1296.03,281.75 1300.92,282.05 1305.82,283.64 1310.71,281.53 1315.61,280.89 1320.51,275.24 1325.4,273.96 1330.3,223.73 1335.19,234.2 1340.09,203.85 1344.98,230.57 1349.88,227.15 1354.77,258.36 1359.66,180.77 1364.56,244.46 1369.45,212.19 1374.35,174.35 1379.24,180.34 1384.14,233.56 1389.04,157.89 1393.93,193.38 1398.83,178.63 1403.72,242.75 1408.62,251.52 1413.51,252.37 1418.4,261.78 1423.3,183.76 1428.19,213.26 1433.09,261.78 1437.98,281.01 1442.88,285.36 1447.78,285.99 1452.67,285.9 1457.57,285.49 1462.46,282.84 1467.36,281.25 1472.25,282.54 1477.14,283.98 1482.04,284.7 1486.93,284.7 1491.83,283.9 1496.72,283.06 1501.62,284.79 1506.51,283.78 1511.41,282.53 1516.3,283 1521.2,284.24" fill="none" stroke="#8e8e8e" stroke-width="2.5" stroke-linejoin="round" clip-path="url(#cp03)"/>
<polyline points="1232.39,283.34 1237.29,284.4 1242.18,285.15 1247.08,286.17 1251.97,286.57 1256.87,285.49 1261.77,284.99 1266.66,286.57 1271.56,286.57 1276.45,286.57 1281.35,286.49 1286.24,285.6 1291.13,284.16 1296.03,283.68 1300.92,283.59 1305.82,284.98 1310.71,283.8 1315.61,282.64 1320.51,280.38 1325.4,281.66 1330.3,268.83 1335.19,258.36 1340.09,243.61 1344.98,261.78 1349.88,270.54 1354.77,281.01 1359.66,265.41 1364.56,271.4 1369.45,261.78 1374.35,241.04 1379.24,267.12 1384.14,272.25 1389.04,274.82 1393.93,274.82 1398.83,263.7 1403.72,272.25 1408.62,278.24 1413.51,278.88 1418.4,278.24 1423.3,265.41 1428.19,272.25 1433.09,282.73 1437.98,283.85 1442.88,286.57 1447.78,286.57 1452.67,286.57 1457.57,286.57 1462.46,284.11 1467.36,282.56 1472.25,284.31 1477.14,285.19 1482.04,286.39 1486.93,285.79 1491.83,285.03 1496.72,284.6 1501.62,286.01 1506.51,285.47 1511.41,284 1516.3,284.75 1521.2,286.01" fill="none" stroke="#8e8e8e" stroke-width="2.5" stroke-linejoin="round" clip-path="url(#cp03)"/>
<polyline points="1232.39,282.73 1237.29,283.79 1242.18,284.44 1247.08,285.29 1251.97,286.57 1256.87,284.86 1261.77,284.44 1266.66,285.72 1271.56,286.57 1276.45,286.14 1281.35,285.72 1286.24,284.65 1291.13,283.58 1296.03,282.73 1300.92,282.94 1305.82,284.44 1310.71,282.73 1315.61,281.87 1320.51,279.31 1325.4,278.88 1330.3,245.32 1335.19,248.95 1340.09,224.58 1344.98,246.17 1349.88,249.81 1354.77,268.83 1359.66,223.73 1364.56,264.56 1369.45,245.32 1374.35,208.13 1379.24,222.02 1384.14,260.07 1389.04,216.89 1393.93,234.2 1398.83,221.16 1403.72,260.92 1408.62,272.25 1413.51,266.27 1418.4,271.4 1423.3,224.58 1428.19,251.52 1433.09,273.96 1437.98,282.73 1442.88,286.14 1447.78,286.57 1452.67,286.57 1457.57,286.14 1462.46,283.58 1467.36,281.87 1472.25,283.58 1477.14,284.65 1482.04,285.72 1486.93,285.29 1491.83,284.44 1496.72,284.01 1501.62,285.29 1506.51,284.44 1511.41,283.15 1516.3,284.01 1521.2,285.29" fill="none" stroke="#000" stroke-width="3.0" stroke-linejoin="round" clip-path="url(#cp03)"/>
<text transform="translate(1215.3,292) scale(1.04,1)" font-size="14" text-anchor="end" fill="#000" stroke="#000" stroke-width="0.35">0</text>
<text transform="translate(1215.3,249.25) scale(1.04,1)" font-size="14" text-anchor="end" fill="#000" stroke="#000" stroke-width="0.35">20</text>
<text transform="translate(1215.3,206.5) scale(1.04,1)" font-size="14" text-anchor="end" fill="#000" stroke="#000" stroke-width="0.35">40</text>
<text transform="translate(1215.3,163.75) scale(1.04,1)" font-size="14" text-anchor="end" fill="#000" stroke="#000" stroke-width="0.35">60</text>
<text transform="translate(1215.3,121) scale(1.04,1)" font-size="14" text-anchor="end" fill="#000" stroke="#000" stroke-width="0.35">80</text>
<text transform="translate(1227.5,308.7) scale(1.04,1)" font-size="14" text-anchor="middle" fill="#000" stroke="#000" stroke-width="0.35">-20</text>
<text transform="translate(1276.45,308.7) scale(1.04,1)" font-size="14" text-anchor="middle" fill="#000" stroke="#000" stroke-width="0.35">-10</text>
<text transform="translate(1325.4,308.7) scale(1.04,1)" font-size="14" text-anchor="middle" fill="#000" stroke="#000" stroke-width="0.35">0</text>
<text transform="translate(1374.35,308.7) scale(1.04,1)" font-size="14" text-anchor="middle" fill="#000" stroke="#000" stroke-width="0.35">10</text>
<text transform="translate(1423.3,308.7) scale(1.04,1)" font-size="14" text-anchor="middle" fill="#000" stroke="#000" stroke-width="0.35">20</text>
<text transform="translate(1472.25,308.7) scale(1.04,1)" font-size="14" text-anchor="middle" fill="#000" stroke="#000" stroke-width="0.35">30</text>
<text transform="translate(1521.2,308.7) scale(1.04,1)" font-size="14" text-anchor="middle" fill="#000" stroke="#000" stroke-width="0.35">40</text>
<text transform="translate(1540.5,329.2) scale(1.03,1)" font-size="21" text-anchor="end" fill="#000" stroke="#000" stroke-width="0.35">Sec</text>
<text transform="translate(1374.1,84.9) scale(1.05,1)" font-size="21.5" text-anchor="middle" fill="#000" stroke="#000" stroke-width="0.35">Context <tspan fill="#e0101e" stroke="#e0101e">B</tspan> CS</text>
<text transform="translate(1319.3,110.9) scale(1.06,1)" font-size="22.3" text-anchor="start" fill="#4f4f4f" stroke="#4f4f4f" stroke-width="0.15">Tone</text>
<text x="6.5" y="366.8" font-size="32" text-anchor="start" fill="#000" stroke="#000" stroke-width="0.35">Group2</text>
<line x1="6.3" y1="370.1" x2="110.6" y2="370.1" stroke="#000" stroke-width="1.8"/>
<rect x="233.2" y="395" width="97.9" height="171" fill="#dedede"/>
<line x1="184.25" y1="395" x2="184.25" y2="566" stroke="#d6d6d6" stroke-width="1.6"/>
<line x1="380.05" y1="395" x2="380.05" y2="566" stroke="#d6d6d6" stroke-width="1.6"/>
<line x1="282.15" y1="395" x2="282.15" y2="566" stroke="#bdbdbd" stroke-width="1.6"/>
<line x1="135.3" y1="523.25" x2="233.2" y2="523.25" stroke="#d6d6d6" stroke-width="1.6"/>
<line x1="233.2" y1="523.25" x2="331.1" y2="523.25" stroke="#bdbdbd" stroke-width="1.6"/>
<line x1="331.1" y1="523.25" x2="429" y2="523.25" stroke="#d6d6d6" stroke-width="1.6"/>
<line x1="135.3" y1="480.5" x2="233.2" y2="480.5" stroke="#d6d6d6" stroke-width="1.6"/>
<line x1="233.2" y1="480.5" x2="331.1" y2="480.5" stroke="#bdbdbd" stroke-width="1.6"/>
<line x1="331.1" y1="480.5" x2="429" y2="480.5" stroke="#d6d6d6" stroke-width="1.6"/>
<line x1="135.3" y1="437.75" x2="233.2" y2="437.75" stroke="#d6d6d6" stroke-width="1.6"/>
<line x1="233.2" y1="437.75" x2="331.1" y2="437.75" stroke="#bdbdbd" stroke-width="1.6"/>
<line x1="331.1" y1="437.75" x2="429" y2="437.75" stroke="#d6d6d6" stroke-width="1.6"/>
<line x1="135.3" y1="395" x2="233.2" y2="395" stroke="#d6d6d6" stroke-width="1.6"/>
<line x1="233.2" y1="395" x2="331.1" y2="395" stroke="#bdbdbd" stroke-width="1.6"/>
<line x1="331.1" y1="395" x2="429" y2="395" stroke="#d6d6d6" stroke-width="1.6"/>
<line x1="429" y1="395" x2="429" y2="566" stroke="#d6d6d6" stroke-width="1.6"/>
<line x1="233.2" y1="395" x2="233.2" y2="566" stroke="#b8b8b8" stroke-width="1.8"/>
<line x1="331.1" y1="395" x2="331.1" y2="566" stroke="#b8b8b8" stroke-width="1.8"/>
<line x1="135.3" y1="394.2" x2="135.3" y2="566" stroke="#b4b4b4" stroke-width="2.2"/>
<line x1="134.3" y1="566" x2="430" y2="566" stroke="#b4b4b4" stroke-width="2.4"/>
<clipPath id="cp10"><rect x="135.3" y="394" width="295.7" height="172"/></clipPath>
<polyline points="140.2,516.11 145.09,512.71 149.99,509.38 154.88,522.6 159.78,514.39 164.67,515.22 169.56,511.56 174.46,499.93 179.36,498.88 184.25,510.5 189.15,499.13 194.04,510.1 198.94,517.99 203.83,517.85 208.73,498.31 213.62,500.35 218.51,508.56 223.41,506.26 228.31,502.73 233.2,506.08 238.09,503.82 242.99,500.75 247.88,498.51 252.78,506.03 257.68,503.02 262.57,518.93 267.47,509.3 272.36,505.93 277.25,512.33 282.15,498.86 287.04,516.35 291.94,511.55 296.84,515.91 301.73,515.6 306.62,516.26 311.52,524.73 316.41,521.03 321.31,524.28 326.2,517.66 331.1,516.09 336,530.41 340.89,530.88 345.78,505.46 350.68,514.09 355.57,524.06 360.47,517.39 365.37,521.04 370.26,525.28 375.15,514.38 380.05,514.57 384.94,515.82 389.84,515.76 394.74,516.98 399.63,510.01 404.52,508.43 409.42,508.22 414.31,513.6 419.21,517.95 424.1,511.7 429,515.89" fill="none" stroke="#8e8e8e" stroke-width="2.5" stroke-linejoin="round" clip-path="url(#cp10)"/>
<polyline points="140.2,534.49 145.09,533.9 149.99,528.59 154.88,538.59 159.78,535.53 164.67,529.52 169.56,529.17 174.46,517.33 179.36,524.33 184.25,530.86 189.15,512.52 194.04,526.09 198.94,532.5 203.83,532.63 208.73,519.16 213.62,520.36 218.51,528.23 223.41,523.27 228.31,528.27 233.2,528.52 238.09,519.59 242.99,515.41 247.88,518.81 252.78,526.48 257.68,527.32 262.57,531.88 267.47,530.57 272.36,527.39 277.25,528.65 282.15,518.38 287.04,530.76 291.94,534.89 296.84,530 301.73,528.41 306.62,534.62 311.52,542.8 316.41,538.49 321.31,540.66 326.2,532.78 331.1,530.99 336,553.11 340.89,549.65 345.78,521.49 350.68,535.84 355.57,542.37 360.47,532.18 365.37,539.97 370.26,539.24 375.15,530.45 380.05,531.82 384.94,532.98 389.84,537.15 394.74,538.07 399.63,524.16 404.52,531.93 409.42,523.12 414.31,536.45 419.21,536.93 424.1,533.51 429,531.21" fill="none" stroke="#8e8e8e" stroke-width="2.5" stroke-linejoin="round" clip-path="url(#cp10)"/>
<polyline points="140.2,525.17 145.09,525.17 149.99,518.98 154.88,529.66 159.78,524.75 164.67,521.75 169.56,518.12 174.46,511.07 179.36,512.13 184.25,521.11 189.15,506.36 194.04,519.83 198.94,525.17 203.83,523.89 208.73,507.65 213.62,510.21 218.51,518.12 223.41,515.55 228.31,515.98 233.2,518.12 238.09,512.13 242.99,508.93 247.88,510.21 252.78,518.12 257.68,515.98 262.57,524.75 267.47,521.75 272.36,518.98 277.25,518.76 282.15,510.64 287.04,522.82 291.94,524.32 296.84,522.61 301.73,522.18 306.62,527.74 311.52,534.37 316.41,528.17 321.31,530.95 326.2,524.32 331.1,523.46 336,542.7 340.89,538.64 345.78,512.99 350.68,526.03 355.57,530.52 360.47,524.75 365.37,532.23 370.26,533.08 375.15,520.9 380.05,522.18 384.94,524.32 389.84,528.38 394.74,526.88 399.63,517.26 404.52,520.9 409.42,515.98 414.31,524.75 419.21,525.17 424.1,523.89 429,524.75" fill="none" stroke="#000" stroke-width="3.0" stroke-linejoin="round" clip-path="url(#cp10)"/>
<text transform="translate(123.1,571) scale(1.04,1)" font-size="14" text-anchor="end" fill="#000" stroke="#000" stroke-width="0.35">0</text>
<text transform="translate(123.1,528.25) scale(1.04,1)" font-size="14" text-anchor="end" fill="#000" stroke="#000" stroke-width="0.35">20</text>
<text transform="translate(123.1,485.5) scale(1.04,1)" font-size="14" text-anchor="end" fill="#000" stroke="#000" stroke-width="0.35">40</text>
<text transform="translate(123.1,442.75) scale(1.04,1)" font-size="14" text-anchor="end" fill="#000" stroke="#000" stroke-width="0.35">60</text>
<text transform="translate(123.1,400) scale(1.04,1)" font-size="14" text-anchor="end" fill="#000" stroke="#000" stroke-width="0.35">80</text>
<text transform="translate(135.3,587.7) scale(1.04,1)" font-size="14" text-anchor="middle" fill="#000" stroke="#000" stroke-width="0.35">-20</text>
<text transform="translate(184.25,587.7) scale(1.04,1)" font-size="14" text-anchor="middle" fill="#000" stroke="#000" stroke-width="0.35">-10</text>
<text transform="translate(233.2,587.7) scale(1.04,1)" font-size="14" text-anchor="middle" fill="#000" stroke="#000" stroke-width="0.35">0</text>
<text transform="translate(282.15,587.7) scale(1.04,1)" font-size="14" text-anchor="middle" fill="#000" stroke="#000" stroke-width="0.35">10</text>
<text transform="translate(331.1,587.7) scale(1.04,1)" font-size="14" text-anchor="middle" fill="#000" stroke="#000" stroke-width="0.35">20</text>
<text transform="translate(380.05,587.7) scale(1.04,1)" font-size="14" text-anchor="middle" fill="#000" stroke="#000" stroke-width="0.35">30</text>
<text transform="translate(429,587.7) scale(1.04,1)" font-size="14" text-anchor="middle" fill="#000" stroke="#000" stroke-width="0.35">40</text>
<text transform="translate(281.9,363.9) scale(1.075,1)" font-size="21.5" text-anchor="middle" fill="#000" stroke="#000" stroke-width="0.35">Context A CS (95 dB)</text>
<text transform="translate(227.1,389.9) scale(1.06,1)" font-size="22.3" text-anchor="start" fill="#4f4f4f" stroke="#4f4f4f" stroke-width="0.15">Tone</text>
<text transform="translate(91,487.8) rotate(-90) scale(1.0,1)" font-size="23.1" text-anchor="middle" fill="#000" stroke="#000" stroke-width="0.35">Motion (A.U.)</text>
<rect x="597.3" y="395" width="97.9" height="171" fill="#dedede"/>
<line x1="548.35" y1="395" x2="548.35" y2="566" stroke="#d6d6d6" stroke-width="1.6"/>
<line x1="744.15" y1="395" x2="744.15" y2="566" stroke="#d6d6d6" stroke-width="1.6"/>
<line x1="646.25" y1="395" x2="646.25" y2="566" stroke="#bdbdbd" stroke-width="1.6"/>
<line x1="499.4" y1="523.25" x2="597.3" y2="523.25" stroke="#d6d6d6" stroke-width="1.6"/>
<line x1="597.3" y1="523.25" x2="695.2" y2="523.25" stroke="#bdbdbd" stroke-width="1.6"/>
<line x1="695.2" y1="523.25" x2="793.1" y2="523.25" stroke="#d6d6d6" stroke-width="1.6"/>
<line x1="499.4" y1="480.5" x2="597.3" y2="480.5" stroke="#d6d6d6" stroke-width="1.6"/>
<line x1="597.3" y1="480.5" x2="695.2" y2="480.5" stroke="#bdbdbd" stroke-width="1.6"/>
<line x1="695.2" y1="480.5" x2="793.1" y2="480.5" stroke="#d6d6d6" stroke-width="1.6"/>
<line x1="499.4" y1="437.75" x2="597.3" y2="437.75" stroke="#d6d6d6" stroke-width="1.6"/>
<line x1="597.3" y1="437.75" x2="695.2" y2="437.75" stroke="#bdbdbd" stroke-width="1.6"/>
<line x1="695.2" y1="437.75" x2="793.1" y2="437.75" stroke="#d6d6d6" stroke-width="1.6"/>
<line x1="499.4" y1="395" x2="597.3" y2="395" stroke="#d6d6d6" stroke-width="1.6"/>
<line x1="597.3" y1="395" x2="695.2" y2="395" stroke="#bdbdbd" stroke-width="1.6"/>
<line x1="695.2" y1="395" x2="793.1" y2="395" stroke="#d6d6d6" stroke-width="1.6"/>
<line x1="793.1" y1="395" x2="793.1" y2="566" stroke="#d6d6d6" stroke-width="1.6"/>
<line x1="597.3" y1="395" x2="597.3" y2="566" stroke="#b8b8b8" stroke-width="1.8"/>
<line x1="695.2" y1="395" x2="695.2" y2="566" stroke="#b8b8b8" stroke-width="1.8"/>
<line x1="499.4" y1="394.2" x2="499.4" y2="566" stroke="#b4b4b4" stroke-width="2.2"/>
<line x1="498.4" y1="566" x2="794.1" y2="566" stroke="#b4b4b4" stroke-width="2.4"/>
<clipPath id="cp11"><rect x="499.4" y="394" width="295.7" height="172"/></clipPath>
<polyline points="504.29,548.14 509.19,550.05 514.08,551.03 518.98,549.64 523.88,549.5 528.77,545.97 533.66,546.25 538.56,548.07 543.45,549.75 548.35,546.46 553.25,542.82 558.14,539.44 563.03,548.36 567.93,544.43 572.82,542.21 577.72,545.65 582.62,544.88 587.51,550.17 592.4,550.46 597.3,547.11 602.19,533.78 607.09,503.8 611.99,524.32 616.88,524.32 621.77,525.39 626.67,521.11 631.56,535.07 636.46,543.55 641.36,520.26 646.25,533.13 651.14,544.75 656.04,549.94 660.93,541.55 665.83,535.74 670.72,547.77 675.62,539.36 680.51,538.95 685.41,527.31 690.3,538.43 695.2,545.12 700.1,-716.5 704.99,329.19 709.88,542.21 714.78,547.49 719.67,550.33 724.57,551.28 729.46,546.34 734.36,550.67 739.25,553.5 744.15,551.75 749.04,550.95 753.94,551.41 758.84,546.16 763.73,548.82 768.62,549.81 773.52,551.56 778.41,550.96 783.31,551.48 788.2,551.52 793.1,548.03" fill="none" stroke="#8e8e8e" stroke-width="2.5" stroke-linejoin="round" clip-path="url(#cp11)"/>
<polyline points="504.29,555.49 509.19,556.19 514.08,556.14 518.98,556.58 523.88,556.84 528.77,554.01 533.66,552.69 538.56,555.36 543.45,556.24 548.35,553.34 553.25,550.32 558.14,547.85 563.03,555.38 567.93,551.19 572.82,552.94 577.72,552.08 582.62,551.21 587.51,556.24 592.4,556.38 597.3,554.41 602.19,543.35 607.09,529.88 611.99,536.29 616.88,542.39 621.77,541.98 626.67,539.53 631.56,546.09 636.46,549.84 641.36,538.98 646.25,544.39 651.14,552.24 656.04,556.47 660.93,549.06 665.83,546.05 670.72,554.1 675.62,548.01 680.51,545.93 685.41,544.48 690.3,546.13 695.2,551.51 700.1,-716.5 704.99,381.57 709.88,550.89 714.78,553.59 719.67,558.26 724.57,556.09 729.46,553.96 734.36,555.5 739.25,558.74 744.15,559.89 749.04,556.32 753.94,557.99 758.84,554.7 763.73,555.17 768.62,556.71 773.52,558.34 778.41,557.4 783.31,558.18 788.2,558.33 793.1,555.58" fill="none" stroke="#8e8e8e" stroke-width="2.5" stroke-linejoin="round" clip-path="url(#cp11)"/>
<polyline points="504.29,551.68 509.19,553.82 514.08,553.17 518.98,552.53 523.88,553.39 528.77,549.97 533.66,549.11 538.56,550.82 543.45,552.11 548.35,549.11 553.25,546.55 558.14,545.05 563.03,550.82 567.93,548.47 572.82,547.83 577.72,548.47 582.62,547.83 587.51,553.82 592.4,554.24 597.3,549.97 602.19,538.64 607.09,516.84 611.99,532.44 616.88,535.22 621.77,536.08 626.67,534.58 631.56,540.78 636.46,546.55 641.36,533.3 646.25,539.5 651.14,547.4 656.04,553.17 660.93,545.05 665.83,540.35 670.72,550.4 675.62,542.91 680.51,542.06 685.41,539.07 690.3,541.63 695.2,548.26 700.1,-716.5 704.99,352.25 709.88,545.48 714.78,550.82 719.67,554.24 724.57,553.39 729.46,550.82 734.36,553.39 739.25,555.53 744.15,555.95 749.04,554.24 753.94,554.24 758.84,550.82 763.73,551.68 768.62,553.17 773.52,554.24 778.41,555.1 783.31,554.24 788.2,554.24 793.1,551.68" fill="none" stroke="#000" stroke-width="3.0" stroke-linejoin="round" clip-path="url(#cp11)"/>
<rect x="694.8" y="395" width="5.4" height="171" fill="#ee3344" fill-opacity="0.72"/>
<text transform="translate(487.2,571) scale(1.04,1)" font-size="14" text-anchor="end" fill="#000" stroke="#000" stroke-width="0.35">0</text>
<text transform="translate(487.2,528.25) scale(1.04,1)" font-size="14" text-anchor="end" fill="#000" stroke="#000" stroke-width="0.35">20</text>
<text transform="translate(487.2,485.5) scale(1.04,1)" font-size="14" text-anchor="end" fill="#000" stroke="#000" stroke-width="0.35">40</text>
<text transform="translate(487.2,442.75) scale(1.04,1)" font-size="14" text-anchor="end" fill="#000" stroke="#000" stroke-width="0.35">60</text>
<text transform="translate(487.2,400) scale(1.04,1)" font-size="14" text-anchor="end" fill="#000" stroke="#000" stroke-width="0.35">80</text>
<text transform="translate(499.4,587.7) scale(1.04,1)" font-size="14" text-anchor="middle" fill="#000" stroke="#000" stroke-width="0.35">-20</text>
<text transform="translate(548.35,587.7) scale(1.04,1)" font-size="14" text-anchor="middle" fill="#000" stroke="#000" stroke-width="0.35">-10</text>
<text transform="translate(597.3,587.7) scale(1.04,1)" font-size="14" text-anchor="middle" fill="#000" stroke="#000" stroke-width="0.35">0</text>
<text transform="translate(646.25,587.7) scale(1.04,1)" font-size="14" text-anchor="middle" fill="#000" stroke="#000" stroke-width="0.35">10</text>
<text transform="translate(695.2,587.7) scale(1.04,1)" font-size="14" text-anchor="middle" fill="#000" stroke="#000" stroke-width="0.35">20</text>
<text transform="translate(744.15,587.7) scale(1.04,1)" font-size="14" text-anchor="middle" fill="#000" stroke="#000" stroke-width="0.35">30</text>
<text transform="translate(793.1,587.7) scale(1.04,1)" font-size="14" text-anchor="middle" fill="#000" stroke="#000" stroke-width="0.35">40</text>
<text transform="translate(646,363.9) scale(1.05,1)" font-size="21.5" text-anchor="middle" fill="#000" stroke="#000" stroke-width="0.35">Context <tspan fill="#e0101e" stroke="#e0101e">B</tspan> US (0.4 mA)-CS</text>
<text transform="translate(591.2,389.9) scale(1.06,1)" font-size="22.3" text-anchor="start" fill="#4f4f4f" stroke="#4f4f4f" stroke-width="0.15">Tone</text>
<text transform="translate(681.3,390.1) scale(1.035,1)" font-size="22" text-anchor="start" fill="#e0101e" stroke="#e0101e" stroke-width="0.35">Foot-shock</text>
<rect x="961.6" y="395" width="97.9" height="171" fill="#dedede"/>
<line x1="912.65" y1="395" x2="912.65" y2="566" stroke="#d6d6d6" stroke-width="1.6"/>
<line x1="1108.45" y1="395" x2="1108.45" y2="566" stroke="#d6d6d6" stroke-width="1.6"/>
<line x1="1010.55" y1="395" x2="1010.55" y2="566" stroke="#bdbdbd" stroke-width="1.6"/>
<line x1="863.7" y1="523.25" x2="961.6" y2="523.25" stroke="#d6d6d6" stroke-width="1.6"/>
<line x1="961.6" y1="523.25" x2="1059.5" y2="523.25" stroke="#bdbdbd" stroke-width="1.6"/>
<line x1="1059.5" y1="523.25" x2="1157.4" y2="523.25" stroke="#d6d6d6" stroke-width="1.6"/>
<line x1="863.7" y1="480.5" x2="961.6" y2="480.5" stroke="#d6d6d6" stroke-width="1.6"/>
<line x1="961.6" y1="480.5" x2="1059.5" y2="480.5" stroke="#bdbdbd" stroke-width="1.6"/>
<line x1="1059.5" y1="480.5" x2="1157.4" y2="480.5" stroke="#d6d6d6" stroke-width="1.6"/>
<line x1="863.7" y1="437.75" x2="961.6" y2="437.75" stroke="#d6d6d6" stroke-width="1.6"/>
<line x1="961.6" y1="437.75" x2="1059.5" y2="437.75" stroke="#bdbdbd" stroke-width="1.6"/>
<line x1="1059.5" y1="437.75" x2="1157.4" y2="437.75" stroke="#d6d6d6" stroke-width="1.6"/>
<line x1="863.7" y1="395" x2="961.6" y2="395" stroke="#d6d6d6" stroke-width="1.6"/>
<line x1="961.6" y1="395" x2="1059.5" y2="395" stroke="#bdbdbd" stroke-width="1.6"/>
<line x1="1059.5" y1="395" x2="1157.4" y2="395" stroke="#d6d6d6" stroke-width="1.6"/>
<line x1="1157.4" y1="395" x2="1157.4" y2="566" stroke="#d6d6d6" stroke-width="1.6"/>
<line x1="961.6" y1="395" x2="961.6" y2="566" stroke="#b8b8b8" stroke-width="1.8"/>
<line x1="1059.5" y1="395" x2="1059.5" y2="566" stroke="#b8b8b8" stroke-width="1.8"/>
<line x1="863.7" y1="394.2" x2="863.7" y2="566" stroke="#b4b4b4" stroke-width="2.2"/>
<line x1="862.7" y1="566" x2="1158.4" y2="566" stroke="#b4b4b4" stroke-width="2.4"/>
<clipPath id="cp12"><rect x="863.7" y="394" width="295.7" height="172"/></clipPath>
<polyline points="868.6,557.07 873.49,554.69 878.38,558.35 883.28,557.47 888.18,556.57 893.07,557.85 897.97,556.77 902.86,555.17 907.75,519.4 912.65,531.8 917.55,550.52 922.44,557.42 927.34,540.78 932.23,560.37 937.12,559.6 942.02,558.28 946.92,557.85 951.81,557.22 956.71,554.46 961.6,553.67 966.5,532.18 971.39,487.98 976.29,498.88 981.18,499.74 986.08,500.59 990.97,506.58 995.87,521.54 1000.76,514.49 1005.65,521.54 1010.55,516.2 1015.45,517.69 1020.34,524.96 1025.24,492.68 1030.13,508.5 1035.03,528.38 1039.92,502.3 1044.82,511.07 1049.71,526.67 1054.61,514.91 1059.5,513.63 1064.39,-716.5 1069.29,226.14 1074.18,542.02 1079.08,554.24 1083.97,541.42 1088.87,550.43 1093.77,554.27 1098.66,555.28 1103.56,556.84 1108.45,557.64 1113.35,552.42 1118.24,557.7 1123.13,559.61 1128.03,560.35 1132.92,560.13 1137.82,556.18 1142.72,551.24 1147.61,555.73 1152.51,553.05 1157.4,557.4" fill="none" stroke="#8e8e8e" stroke-width="2.5" stroke-linejoin="round" clip-path="url(#cp12)"/>
<polyline points="868.6,560.93 873.49,559.88 878.38,561.27 883.28,560.49 888.18,560.37 893.07,561.25 897.97,560.39 902.86,560.08 907.75,549.33 912.65,544.3 917.55,556.89 922.44,561.92 927.34,553.94 932.23,563.69 937.12,563.22 942.02,561.9 946.92,561.34 951.81,560.35 956.71,559.8 961.6,559.27 966.5,542.46 971.39,516.2 976.29,528.38 981.18,531.16 986.08,532.01 990.97,523.25 995.87,534.58 1000.76,536.29 1005.65,542.49 1010.55,539.92 1015.45,539.92 1020.34,544.2 1025.24,524.96 1030.13,537.14 1035.03,549.33 1039.92,531.16 1044.82,542.49 1049.71,553.17 1054.61,546.76 1059.5,540.78 1064.39,-716.5 1069.29,226.14 1074.18,549.61 1079.08,558.22 1083.97,548.89 1088.87,555.56 1093.77,557.79 1098.66,559.2 1103.56,560.92 1108.45,560.78 1113.35,556.41 1118.24,561.53 1123.13,562.32 1128.03,563.41 1132.92,562.9 1137.82,560.58 1142.72,555.29 1147.61,560.59 1152.51,557.81 1157.4,561.16" fill="none" stroke="#8e8e8e" stroke-width="2.5" stroke-linejoin="round" clip-path="url(#cp12)"/>
<polyline points="868.6,558.73 873.49,557.24 878.38,559.8 883.28,558.95 888.18,558.95 893.07,559.8 897.97,558.52 902.86,557.88 907.75,534.58 912.65,538.85 917.55,553.82 922.44,559.8 927.34,550.4 932.23,561.73 937.12,561.3 942.02,560.23 946.92,559.59 951.81,558.95 956.71,557.24 961.6,556.81 966.5,537.14 971.39,501.45 976.29,513.63 981.18,515.98 986.08,516.2 990.97,513.63 995.87,530.3 1000.76,527.52 1005.65,528.81 1010.55,532.87 1015.45,527.52 1020.34,531.16 1025.24,507.86 1030.13,523.25 1035.03,544.2 1039.92,516.62 1044.82,528.38 1049.71,540.35 1054.61,532.01 1059.5,526.67 1064.39,-716.5 1069.29,226.14 1074.18,545.91 1079.08,555.53 1083.97,545.91 1088.87,552.53 1093.77,555.95 1098.66,556.81 1103.56,558.95 1108.45,558.95 1113.35,554.67 1118.24,558.95 1123.13,560.87 1128.03,561.73 1132.92,561.3 1137.82,558.09 1142.72,552.96 1147.61,557.88 1152.51,555.53 1157.4,559.59" fill="none" stroke="#000" stroke-width="3.0" stroke-linejoin="round" clip-path="url(#cp12)"/>
<rect x="1059.1" y="395" width="5.4" height="171" fill="#ee3344" fill-opacity="0.72"/>
<text transform="translate(851.5,571) scale(1.04,1)" font-size="14" text-anchor="end" fill="#000" stroke="#000" stroke-width="0.35">0</text>
<text transform="translate(851.5,528.25) scale(1.04,1)" font-size="14" text-anchor="end" fill="#000" stroke="#000" stroke-width="0.35">20</text>
<text transform="translate(851.5,485.5) scale(1.04,1)" font-size="14" text-anchor="end" fill="#000" stroke="#000" stroke-width="0.35">40</text>
<text transform="translate(851.5,442.75) scale(1.04,1)" font-size="14" text-anchor="end" fill="#000" stroke="#000" stroke-width="0.35">60</text>
<text transform="translate(851.5,400) scale(1.04,1)" font-size="14" text-anchor="end" fill="#000" stroke="#000" stroke-width="0.35">80</text>
<text transform="translate(863.7,587.7) scale(1.04,1)" font-size="14" text-anchor="middle" fill="#000" stroke="#000" stroke-width="0.35">-20</text>
<text transform="translate(912.65,587.7) scale(1.04,1)" font-size="14" text-anchor="middle" fill="#000" stroke="#000" stroke-width="0.35">-10</text>
<text transform="translate(961.6,587.7) scale(1.04,1)" font-size="14" text-anchor="middle" fill="#000" stroke="#000" stroke-width="0.35">0</text>
<text transform="translate(1010.55,587.7) scale(1.04,1)" font-size="14" text-anchor="middle" fill="#000" stroke="#000" stroke-width="0.35">10</text>
<text transform="translate(1059.5,587.7) scale(1.04,1)" font-size="14" text-anchor="middle" fill="#000" stroke="#000" stroke-width="0.35">20</text>
<text transform="translate(1108.45,587.7) scale(1.04,1)" font-size="14" text-anchor="middle" fill="#000" stroke="#000" stroke-width="0.35">30</text>
<text transform="translate(1157.4,587.7) scale(1.04,1)" font-size="14" text-anchor="middle" fill="#000" stroke="#000" stroke-width="0.35">40</text>
<text transform="translate(1010.3,363.9) scale(1.05,1)" font-size="21.5" text-anchor="middle" fill="#000" stroke="#000" stroke-width="0.35">Context <tspan fill="#e0101e" stroke="#e0101e">B</tspan> US-CS</text>
<text transform="translate(955.5,389.9) scale(1.06,1)" font-size="22.3" text-anchor="start" fill="#4f4f4f" stroke="#4f4f4f" stroke-width="0.15">Tone</text>
<text transform="translate(1042.5,390.1) scale(1.035,1)" font-size="22" text-anchor="start" fill="#e0101e" stroke="#e0101e" stroke-width="0.35">Foot-shock</text>
<rect x="1325.4" y="395" width="97.9" height="171" fill="#dedede"/>
<line x1="1276.45" y1="395" x2="1276.45" y2="566" stroke="#d6d6d6" stroke-width="1.6"/>
<line x1="1472.25" y1="395" x2="1472.25" y2="566" stroke="#d6d6d6" stroke-width="1.6"/>
<line x1="1374.35" y1="395" x2="1374.35" y2="566" stroke="#bdbdbd" stroke-width="1.6"/>
<line x1="1227.5" y1="523.25" x2="1325.4" y2="523.25" stroke="#d6d6d6" stroke-width="1.6"/>
<line x1="1325.4" y1="523.25" x2="1423.3" y2="523.25" stroke="#bdbdbd" stroke-width="1.6"/>
<line x1="1423.3" y1="523.25" x2="1521.2" y2="523.25" stroke="#d6d6d6" stroke-width="1.6"/>
<line x1="1227.5" y1="480.5" x2="1325.4" y2="480.5" stroke="#d6d6d6" stroke-width="1.6"/>
<line x1="1325.4" y1="480.5" x2="1423.3" y2="480.5" stroke="#bdbdbd" stroke-width="1.6"/>
<line x1="1423.3" y1="480.5" x2="1521.2" y2="480.5" stroke="#d6d6d6" stroke-width="1.6"/>
<line x1="1227.5" y1="437.75" x2="1325.4" y2="437.75" stroke="#d6d6d6" stroke-width="1.6"/>
<line x1="1325.4" y1="437.75" x2="1423.3" y2="437.75" stroke="#bdbdbd" stroke-width="1.6"/>
<line x1="1423.3" y1="437.75" x2="1521.2" y2="437.75" stroke="#d6d6d6" stroke-width="1.6"/>
<line x1="1227.5" y1="395" x2="1325.4" y2="395" stroke="#d6d6d6" stroke-width="1.6"/>
<line x1="1325.4" y1="395" x2="1423.3" y2="395" stroke="#bdbdbd" stroke-width="1.6"/>
<line x1="1423.3" y1="395" x2="1521.2" y2="395" stroke="#d6d6d6" stroke-width="1.6"/>
<line x1="1521.2" y1="395" x2="1521.2" y2="566" stroke="#d6d6d6" stroke-width="1.6"/>
<line x1="1325.4" y1="395" x2="1325.4" y2="566" stroke="#b8b8b8" stroke-width="1.8"/>
<line x1="1423.3" y1="395" x2="1423.3" y2="566" stroke="#b8b8b8" stroke-width="1.8"/>
<line x1="1227.5" y1="394.2" x2="1227.5" y2="566" stroke="#b4b4b4" stroke-width="2.2"/>
<line x1="1226.5" y1="566" x2="1522.2" y2="566" stroke="#b4b4b4" stroke-width="2.4"/>
<clipPath id="cp13"><rect x="1227.5" y="394" width="295.7" height="172"/></clipPath>
<polyline points="1232.39,560.77 1237.29,558.26 1242.18,557.6 1247.08,555.79 1251.97,558.78 1256.87,559.4 1261.77,560.76 1266.66,558.69 1271.56,560.08 1276.45,559.58 1281.35,559.18 1286.24,560.7 1291.13,560.75 1296.03,560.32 1300.92,557.78 1305.82,558.57 1310.71,560.13 1315.61,557.43 1320.51,558.36 1325.4,558.97 1330.3,541.63 1335.19,550.63 1340.09,544.43 1344.98,535.86 1349.88,553 1354.77,551.39 1359.66,535.22 1364.56,543.4 1369.45,516.62 1374.35,544.39 1379.24,553.69 1384.14,555.52 1389.04,553.97 1393.93,545.73 1398.83,541.21 1403.72,538.12 1408.62,553.94 1413.51,532.01 1418.4,545.99 1423.3,539.5 1428.19,539.5 1433.09,539.5 1437.98,558.11 1442.88,558.94 1447.78,560.73 1452.67,561.54 1457.57,556.45 1462.46,559.9 1467.36,560.65 1472.25,560.86 1477.14,560.59 1482.04,560.27 1486.93,560.46 1491.83,561.22 1496.72,560.78 1501.62,559.75 1506.51,559.44 1511.41,557 1516.3,555.98 1521.2,557.87" fill="none" stroke="#8e8e8e" stroke-width="2.5" stroke-linejoin="round" clip-path="url(#cp13)"/>
<polyline points="1232.39,563.75 1237.29,562.87 1242.18,561.07 1247.08,560.96 1251.97,562.54 1256.87,563.16 1261.77,563.22 1266.66,562.65 1271.56,563.53 1276.45,562.77 1281.35,563.02 1286.24,563.69 1291.13,563.34 1296.03,562.83 1300.92,562.17 1305.82,562.75 1310.71,563.94 1315.61,561.24 1320.51,562.47 1325.4,561.77 1330.3,553.4 1335.19,556.23 1340.09,552.82 1344.98,547.46 1349.88,558.22 1354.77,556.05 1359.66,547.13 1364.56,550.78 1369.45,537.17 1374.35,552.53 1379.24,558.85 1384.14,559.72 1389.04,558.67 1393.93,555.35 1398.83,550.19 1403.72,549.04 1408.62,558.83 1413.51,548.19 1418.4,553.54 1423.3,550.4 1428.19,549.97 1433.09,549.97 1437.98,561.62 1442.88,561.87 1447.78,564.31 1452.67,564.66 1457.57,560.34 1462.46,562.39 1467.36,563.23 1472.25,563.99 1477.14,563.64 1482.04,563.65 1486.93,563.74 1491.83,564.32 1496.72,564.48 1501.62,563.57 1506.51,562.68 1511.41,561.84 1516.3,560.61 1521.2,562.44" fill="none" stroke="#8e8e8e" stroke-width="2.5" stroke-linejoin="round" clip-path="url(#cp13)"/>
<polyline points="1232.39,561.94 1237.29,560.44 1242.18,559.37 1247.08,558.52 1251.97,560.44 1256.87,561.08 1261.77,561.94 1266.66,561.08 1271.56,561.51 1276.45,561.51 1281.35,561.08 1286.24,561.94 1291.13,561.94 1296.03,561.51 1300.92,560.44 1305.82,561.08 1310.71,561.94 1315.61,559.8 1320.51,560.44 1325.4,560.44 1330.3,549.54 1335.19,553.17 1340.09,547.83 1344.98,543.98 1349.88,556.38 1354.77,554.03 1359.66,543.56 1364.56,547.83 1369.45,528.59 1374.35,548.69 1379.24,556.38 1384.14,558.09 1389.04,556.6 1393.93,550.61 1398.83,546.98 1403.72,543.98 1408.62,555.74 1413.51,543.56 1418.4,549.54 1423.3,545.27 1428.19,545.27 1433.09,545.27 1437.98,559.8 1442.88,560.23 1447.78,562.79 1452.67,562.79 1457.57,558.52 1462.46,561.08 1467.36,561.94 1472.25,562.79 1477.14,561.94 1482.04,562.37 1486.93,562.37 1491.83,562.79 1496.72,562.79 1501.62,561.51 1506.51,561.08 1511.41,559.8 1516.3,558.73 1521.2,560.44" fill="none" stroke="#000" stroke-width="3.0" stroke-linejoin="round" clip-path="url(#cp13)"/>
<text transform="translate(1215.3,571) scale(1.04,1)" font-size="14" text-anchor="end" fill="#000" stroke="#000" stroke-width="0.35">0</text>
<text transform="translate(1215.3,528.25) scale(1.04,1)" font-size="14" text-anchor="end" fill="#000" stroke="#000" stroke-width="0.35">20</text>
<text transform="translate(1215.3,485.5) scale(1.04,1)" font-size="14" text-anchor="end" fill="#000" stroke="#000" stroke-width="0.35">40</text>
<text transform="translate(1215.3,442.75) scale(1.04,1)" font-size="14" text-anchor="end" fill="#000" stroke="#000" stroke-width="0.35">60</text>
<text transform="translate(1215.3,400) scale(1.04,1)" font-size="14" text-anchor="end" fill="#000" stroke="#000" stroke-width="0.35">80</text>
<text transform="translate(1227.5,587.7) scale(1.04,1)" font-size="14" text-anchor="middle" fill="#000" stroke="#000" stroke-width="0.35">-20</text>
<text transform="translate(1276.45,587.7) scale(1.04,1)" font-size="14" text-anchor="middle" fill="#000" stroke="#000" stroke-width="0.35">-10</text>
<text transform="translate(1325.4,587.7) scale(1.04,1)" font-size="14" text-anchor="middle" fill="#000" stroke="#000" stroke-width="0.35">0</text>
<text transform="translate(1374.35,587.7) scale(1.04,1)" font-size="14" text-anchor="middle" fill="#000" stroke="#000" stroke-width="0.35">10</text>
<text transform="translate(1423.3,587.7) scale(1.04,1)" font-size="14" text-anchor="middle" fill="#000" stroke="#000" stroke-width="0.35">20</text>
<text transform="translate(1472.25,587.7) scale(1.04,1)" font-size="14" text-anchor="middle" fill="#000" stroke="#000" stroke-width="0.35">30</text>
<text transform="translate(1521.2,587.7) scale(1.04,1)" font-size="14" text-anchor="middle" fill="#000" stroke="#000" stroke-width="0.35">40</text>
<text transform="translate(1374.1,363.9) scale(1.05,1)" font-size="21.5" text-anchor="middle" fill="#000" stroke="#000" stroke-width="0.35">Context <tspan fill="#e0101e" stroke="#e0101e">B</tspan> CS</text>
<text transform="translate(1319.3,389.9) scale(1.06,1)" font-size="22.3" text-anchor="start" fill="#4f4f4f" stroke="#4f4f4f" stroke-width="0.15">Tone</text>
<text x="6.5" y="645.8" font-size="32" text-anchor="start" fill="#000" stroke="#000" stroke-width="0.35">Group3</text>
<line x1="6.3" y1="649.1" x2="110.6" y2="649.1" stroke="#000" stroke-width="1.8"/>
<rect x="233.2" y="674" width="97.9" height="171" fill="#dedede"/>
<line x1="184.25" y1="674" x2="184.25" y2="845" stroke="#d6d6d6" stroke-width="1.6"/>
<line x1="380.05" y1="674" x2="380.05" y2="845" stroke="#d6d6d6" stroke-width="1.6"/>
<line x1="282.15" y1="674" x2="282.15" y2="845" stroke="#bdbdbd" stroke-width="1.6"/>
<line x1="135.3" y1="802.25" x2="233.2" y2="802.25" stroke="#d6d6d6" stroke-width="1.6"/>
<line x1="233.2" y1="802.25" x2="331.1" y2="802.25" stroke="#bdbdbd" stroke-width="1.6"/>
<line x1="331.1" y1="802.25" x2="429" y2="802.25" stroke="#d6d6d6" stroke-width="1.6"/>
<line x1="135.3" y1="759.5" x2="233.2" y2="759.5" stroke="#d6d6d6" stroke-width="1.6"/>
<line x1="233.2" y1="759.5" x2="331.1" y2="759.5" stroke="#bdbdbd" stroke-width="1.6"/>
<line x1="331.1" y1="759.5" x2="429" y2="759.5" stroke="#d6d6d6" stroke-width="1.6"/>
<line x1="135.3" y1="716.75" x2="233.2" y2="716.75" stroke="#d6d6d6" stroke-width="1.6"/>
<line x1="233.2" y1="716.75" x2="331.1" y2="716.75" stroke="#bdbdbd" stroke-width="1.6"/>
<line x1="331.1" y1="716.75" x2="429" y2="716.75" stroke="#d6d6d6" stroke-width="1.6"/>
<line x1="135.3" y1="674" x2="233.2" y2="674" stroke="#d6d6d6" stroke-width="1.6"/>
<line x1="233.2" y1="674" x2="331.1" y2="674" stroke="#bdbdbd" stroke-width="1.6"/>
<line x1="331.1" y1="674" x2="429" y2="674" stroke="#d6d6d6" stroke-width="1.6"/>
<line x1="429" y1="674" x2="429" y2="845" stroke="#d6d6d6" stroke-width="1.6"/>
<line x1="233.2" y1="674" x2="233.2" y2="845" stroke="#b8b8b8" stroke-width="1.8"/>
<line x1="331.1" y1="674" x2="331.1" y2="845" stroke="#b8b8b8" stroke-width="1.8"/>
<line x1="135.3" y1="673.2" x2="135.3" y2="845" stroke="#b4b4b4" stroke-width="2.2"/>
<line x1="134.3" y1="845" x2="430" y2="845" stroke="#b4b4b4" stroke-width="2.4"/>
<clipPath id="cp20"><rect x="135.3" y="673" width="295.7" height="172"/></clipPath>
<polyline points="140.2,784.6 145.09,772.92 149.99,766.88 154.88,780.72 159.78,763.33 164.67,769.88 169.56,768.88 174.46,772.7 179.36,788.93 184.25,789.35 189.15,784.22 194.04,788.52 198.94,781.28 203.83,779.32 208.73,767.31 213.62,777.93 218.51,782.67 223.41,786.02 228.31,780.98 233.2,782.53 238.09,769.29 242.99,772.83 247.88,767.05 252.78,785.74 257.68,779.03 262.57,773.79 267.47,770.94 272.36,784.92 277.25,777.66 282.15,784.97 287.04,782.71 291.94,770.81 296.84,779.54 301.73,787.91 306.62,782.05 311.52,771.27 316.41,787.1 321.31,776.4 326.2,769.45 331.1,771.25 336,790.04 340.89,775.89 345.78,778.93 350.68,777.92 355.57,776.66 360.47,776.17 365.37,780.66 370.26,789.07 375.15,785.31 380.05,782.43 384.94,770.43 389.84,774.82 394.74,777.02 399.63,768.07 404.52,789.58 409.42,784.06 414.31,777.2 419.21,773.8 424.1,790.04 429,798.09" fill="none" stroke="#8e8e8e" stroke-width="2.5" stroke-linejoin="round" clip-path="url(#cp20)"/>
<polyline points="140.2,800.59 145.09,791.19 149.99,784.5 154.88,799.97 159.78,779.64 164.67,783.41 169.56,784.53 174.46,790.56 179.36,801.44 184.25,810.69 189.15,804.34 194.04,801.42 198.94,796.18 203.83,798.71 208.73,784.65 213.62,795.32 218.51,799.78 223.41,801.9 228.31,793.4 233.2,800.45 238.09,787.05 242.99,795.74 247.88,788.08 252.78,804.58 257.68,793.68 262.57,791.63 267.47,793.62 272.36,800.58 277.25,793.99 282.15,804.48 287.04,794.36 291.94,792.79 296.84,796.71 301.73,806.57 306.62,798.02 311.52,789.95 316.41,800.08 321.31,795.31 326.2,786.66 331.1,785.15 336,805.9 340.89,794.34 345.78,798.42 350.68,800.49 355.57,796.3 360.47,797.08 365.37,800.26 370.26,803.68 375.15,802.77 380.05,798.55 384.94,789.74 389.84,791.8 394.74,791.53 399.63,783.24 404.52,802.73 409.42,806.46 414.31,796 419.21,792.38 424.1,808.33 429,810" fill="none" stroke="#8e8e8e" stroke-width="2.5" stroke-linejoin="round" clip-path="url(#cp20)"/>
<polyline points="140.2,791.13 145.09,782.8 149.99,774.03 154.88,791.56 159.78,772.54 164.67,775.53 169.56,778.52 174.46,783.65 179.36,795.84 184.25,801.18 189.15,795.41 194.04,794.13 198.94,790.07 203.83,791.13 208.73,774.03 213.62,784.29 218.51,791.13 223.41,793.7 228.31,787.72 233.2,793.7 238.09,780.23 242.99,784.94 247.88,777.88 252.78,794.98 257.68,785.36 262.57,784.94 267.47,782.8 272.36,793.06 277.25,786.22 282.15,796.91 287.04,788.36 291.94,781.3 296.84,788.36 301.73,796.91 306.62,789 311.52,780.66 316.41,793.7 321.31,784.29 326.2,777.46 331.1,778.95 336,795.84 340.89,786.65 345.78,789 350.68,789.42 355.57,784.94 360.47,788.14 365.37,791.99 370.26,796.91 375.15,796.48 380.05,788.36 384.94,781.3 389.84,786 394.74,784.29 399.63,776.6 404.52,795.41 409.42,795.41 414.31,787.72 419.21,781.09 424.1,798.83 429,803.53" fill="none" stroke="#000" stroke-width="3.0" stroke-linejoin="round" clip-path="url(#cp20)"/>
<text transform="translate(123.1,850) scale(1.04,1)" font-size="14" text-anchor="end" fill="#000" stroke="#000" stroke-width="0.35">0</text>
<text transform="translate(123.1,807.25) scale(1.04,1)" font-size="14" text-anchor="end" fill="#000" stroke="#000" stroke-width="0.35">20</text>
<text transform="translate(123.1,764.5) scale(1.04,1)" font-size="14" text-anchor="end" fill="#000" stroke="#000" stroke-width="0.35">40</text>
<text transform="translate(123.1,721.75) scale(1.04,1)" font-size="14" text-anchor="end" fill="#000" stroke="#000" stroke-width="0.35">60</text>
<text transform="translate(123.1,679) scale(1.04,1)" font-size="14" text-anchor="end" fill="#000" stroke="#000" stroke-width="0.35">80</text>
<text transform="translate(135.3,866.7) scale(1.04,1)" font-size="14" text-anchor="middle" fill="#000" stroke="#000" stroke-width="0.35">-20</text>
<text transform="translate(184.25,866.7) scale(1.04,1)" font-size="14" text-anchor="middle" fill="#000" stroke="#000" stroke-width="0.35">-10</text>
<text transform="translate(233.2,866.7) scale(1.04,1)" font-size="14" text-anchor="middle" fill="#000" stroke="#000" stroke-width="0.35">0</text>
<text transform="translate(282.15,866.7) scale(1.04,1)" font-size="14" text-anchor="middle" fill="#000" stroke="#000" stroke-width="0.35">10</text>
<text transform="translate(331.1,866.7) scale(1.04,1)" font-size="14" text-anchor="middle" fill="#000" stroke="#000" stroke-width="0.35">20</text>
<text transform="translate(380.05,866.7) scale(1.04,1)" font-size="14" text-anchor="middle" fill="#000" stroke="#000" stroke-width="0.35">30</text>
<text transform="translate(429,866.7) scale(1.04,1)" font-size="14" text-anchor="middle" fill="#000" stroke="#000" stroke-width="0.35">40</text>
<text transform="translate(281.9,642.9) scale(1.075,1)" font-size="21.5" text-anchor="middle" fill="#000" stroke="#000" stroke-width="0.35">Context A CS (75 dB)</text>
<text transform="translate(227.1,668.9) scale(1.06,1)" font-size="22.3" text-anchor="start" fill="#4f4f4f" stroke="#4f4f4f" stroke-width="0.15">Tone</text>
<text transform="translate(91,766.8) rotate(-90) scale(1.0,1)" font-size="23.1" text-anchor="middle" fill="#000" stroke="#000" stroke-width="0.35">Motion (A.U.)</text>
<rect x="597.3" y="674" width="97.9" height="171" fill="#dedede"/>
<line x1="548.35" y1="674" x2="548.35" y2="845" stroke="#d6d6d6" stroke-width="1.6"/>
<line x1="744.15" y1="674" x2="744.15" y2="845" stroke="#d6d6d6" stroke-width="1.6"/>
<line x1="646.25" y1="674" x2="646.25" y2="845" stroke="#bdbdbd" stroke-width="1.6"/>
<line x1="499.4" y1="802.25" x2="597.3" y2="802.25" stroke="#d6d6d6" stroke-width="1.6"/>
<line x1="597.3" y1="802.25" x2="695.2" y2="802.25" stroke="#bdbdbd" stroke-width="1.6"/>
<line x1="695.2" y1="802.25" x2="793.1" y2="802.25" stroke="#d6d6d6" stroke-width="1.6"/>
<line x1="499.4" y1="759.5" x2="597.3" y2="759.5" stroke="#d6d6d6" stroke-width="1.6"/>
<line x1="597.3" y1="759.5" x2="695.2" y2="759.5" stroke="#bdbdbd" stroke-width="1.6"/>
<line x1="695.2" y1="759.5" x2="793.1" y2="759.5" stroke="#d6d6d6" stroke-width="1.6"/>
<line x1="499.4" y1="716.75" x2="597.3" y2="716.75" stroke="#d6d6d6" stroke-width="1.6"/>
<line x1="597.3" y1="716.75" x2="695.2" y2="716.75" stroke="#bdbdbd" stroke-width="1.6"/>
<line x1="695.2" y1="716.75" x2="793.1" y2="716.75" stroke="#d6d6d6" stroke-width="1.6"/>
<line x1="499.4" y1="674" x2="597.3" y2="674" stroke="#d6d6d6" stroke-width="1.6"/>
<line x1="597.3" y1="674" x2="695.2" y2="674" stroke="#bdbdbd" stroke-width="1.6"/>
<line x1="695.2" y1="674" x2="793.1" y2="674" stroke="#d6d6d6" stroke-width="1.6"/>
<line x1="793.1" y1="674" x2="793.1" y2="845" stroke="#d6d6d6" stroke-width="1.6"/>
<line x1="597.3" y1="674" x2="597.3" y2="845" stroke="#b8b8b8" stroke-width="1.8"/>
<line x1="695.2" y1="674" x2="695.2" y2="845" stroke="#b8b8b8" stroke-width="1.8"/>
<line x1="499.4" y1="673.2" x2="499.4" y2="845" stroke="#b4b4b4" stroke-width="2.2"/>
<line x1="498.4" y1="845" x2="794.1" y2="845" stroke="#b4b4b4" stroke-width="2.4"/>
<clipPath id="cp21"><rect x="499.4" y="673" width="295.7" height="172"/></clipPath>
<polyline points="504.29,829.63 509.19,831.77 514.08,830.94 518.98,827.94 523.88,824.93 528.77,821.57 533.66,824.5 538.56,829.3 543.45,829.72 548.35,827.38 553.25,829.25 558.14,829.39 563.03,829.19 567.93,829.14 572.82,827.83 577.72,829.61 582.62,832.51 587.51,830.61 592.4,834.26 597.3,830.3 602.19,826 607.09,820.11 611.99,823.34 616.88,822.91 621.77,823.64 626.67,827.46 631.56,824.39 636.46,822.52 641.36,826.46 646.25,829.33 651.14,829.14 656.04,829.96 660.93,827.2 665.83,831.38 670.72,828.8 675.62,824.41 680.51,826.41 685.41,827.92 690.3,827.76 695.2,823.42 700.1,-437.5 704.99,505.14 709.88,817.78 714.78,829.89 719.67,831.1 724.57,830.04 729.46,829.09 734.36,832.26 739.25,829.06 744.15,830.91 749.04,831.33 753.94,835.14 758.84,831.89 763.73,828.01 768.62,829.44 773.52,826.81 778.41,825.54 783.31,829.36 788.2,827.7 793.1,829.1" fill="none" stroke="#8e8e8e" stroke-width="2.5" stroke-linejoin="round" clip-path="url(#cp21)"/>
<polyline points="504.29,835.8 509.19,837.51 514.08,835.36 518.98,834.26 523.88,832.05 528.77,829.72 533.66,832.73 538.56,836.61 543.45,835.22 548.35,834.78 553.25,834.32 558.14,836.3 563.03,836.68 567.93,836.26 572.82,834.83 577.72,836.12 582.62,838.2 587.51,837.57 592.4,839.41 597.3,835.89 602.19,831.78 607.09,827.87 611.99,830.59 616.88,830.38 621.77,831.25 626.67,833.81 631.56,831.17 636.46,829.81 641.36,833.5 646.25,835.65 651.14,834.83 656.04,836.63 660.93,834.62 665.83,836.11 670.72,835.07 675.62,831.15 680.51,832.34 685.41,832.6 690.3,834.85 695.2,830.21 700.1,-437.5 704.99,505.14 709.88,826.98 714.78,836.51 719.67,837.06 724.57,837.38 729.46,835.64 734.36,837.78 739.25,836.4 744.15,837.77 749.04,836.13 753.94,840.09 758.84,837.28 763.73,833.7 768.62,835.59 773.52,832.19 778.41,831.13 783.31,835.48 788.2,832.74 793.1,834.56" fill="none" stroke="#8e8e8e" stroke-width="2.5" stroke-linejoin="round" clip-path="url(#cp21)"/>
<polyline points="504.29,833.67 509.19,833.67 514.08,833.24 518.98,831.53 523.88,829.4 528.77,826.62 533.66,828.33 538.56,832.82 543.45,833.24 548.35,831.53 553.25,831.96 558.14,833.24 563.03,833.24 567.93,833.24 572.82,831.53 577.72,832.17 582.62,834.95 587.51,834.53 592.4,836.24 597.3,833.67 602.19,828.33 607.09,822.77 611.99,827.04 616.88,826.4 621.77,828.33 626.67,830.47 631.56,827.47 636.46,826.4 641.36,830.25 646.25,831.53 651.14,831.96 656.04,832.82 660.93,831.53 665.83,834.1 670.72,832.82 675.62,828.11 680.51,829.4 685.41,830.47 690.3,831.11 695.2,827.47 700.1,-437.5 704.99,505.14 709.88,823.2 714.78,833.67 719.67,834.1 724.57,834.1 729.46,832.17 734.36,835.38 739.25,832.82 744.15,834.1 749.04,833.24 753.94,837.95 758.84,834.1 763.73,831.11 768.62,831.53 773.52,829.82 778.41,828.33 783.31,833.24 788.2,830.47 793.1,832.17" fill="none" stroke="#000" stroke-width="3.0" stroke-linejoin="round" clip-path="url(#cp21)"/>
<rect x="694.8" y="674" width="5.4" height="171" fill="#ee3344" fill-opacity="0.72"/>
<text transform="translate(487.2,850) scale(1.04,1)" font-size="14" text-anchor="end" fill="#000" stroke="#000" stroke-width="0.35">0</text>
<text transform="translate(487.2,807.25) scale(1.04,1)" font-size="14" text-anchor="end" fill="#000" stroke="#000" stroke-width="0.35">20</text>
<text transform="translate(487.2,764.5) scale(1.04,1)" font-size="14" text-anchor="end" fill="#000" stroke="#000" stroke-width="0.35">40</text>
<text transform="translate(487.2,721.75) scale(1.04,1)" font-size="14" text-anchor="end" fill="#000" stroke="#000" stroke-width="0.35">60</text>
<text transform="translate(487.2,679) scale(1.04,1)" font-size="14" text-anchor="end" fill="#000" stroke="#000" stroke-width="0.35">80</text>
<text transform="translate(499.4,866.7) scale(1.04,1)" font-size="14" text-anchor="middle" fill="#000" stroke="#000" stroke-width="0.35">-20</text>
<text transform="translate(548.35,866.7) scale(1.04,1)" font-size="14" text-anchor="middle" fill="#000" stroke="#000" stroke-width="0.35">-10</text>
<text transform="translate(597.3,866.7) scale(1.04,1)" font-size="14" text-anchor="middle" fill="#000" stroke="#000" stroke-width="0.35">0</text>
<text transform="translate(646.25,866.7) scale(1.04,1)" font-size="14" text-anchor="middle" fill="#000" stroke="#000" stroke-width="0.35">10</text>
<text transform="translate(695.2,866.7) scale(1.04,1)" font-size="14" text-anchor="middle" fill="#000" stroke="#000" stroke-width="0.35">20</text>
<text transform="translate(744.15,866.7) scale(1.04,1)" font-size="14" text-anchor="middle" fill="#000" stroke="#000" stroke-width="0.35">30</text>
<text transform="translate(793.1,866.7) scale(1.04,1)" font-size="14" text-anchor="middle" fill="#000" stroke="#000" stroke-width="0.35">40</text>
<text transform="translate(646,642.9) scale(1.05,1)" font-size="21.5" text-anchor="middle" fill="#000" stroke="#000" stroke-width="0.35">Context <tspan fill="#e0101e" stroke="#e0101e">B</tspan> US (0.9 mA)-CS</text>
<text transform="translate(591.2,668.9) scale(1.06,1)" font-size="22.3" text-anchor="start" fill="#4f4f4f" stroke="#4f4f4f" stroke-width="0.15">Tone</text>
<text transform="translate(681.3,669.1) scale(1.035,1)" font-size="22" text-anchor="start" fill="#e0101e" stroke="#e0101e" stroke-width="0.35">Foot-shock</text>
<rect x="961.6" y="674" width="97.9" height="171" fill="#dedede"/>
<line x1="912.65" y1="674" x2="912.65" y2="845" stroke="#d6d6d6" stroke-width="1.6"/>
<line x1="1108.45" y1="674" x2="1108.45" y2="845" stroke="#d6d6d6" stroke-width="1.6"/>
<line x1="1010.55" y1="674" x2="1010.55" y2="845" stroke="#bdbdbd" stroke-width="1.6"/>
<line x1="863.7" y1="802.25" x2="961.6" y2="802.25" stroke="#d6d6d6" stroke-width="1.6"/>
<line x1="961.6" y1="802.25" x2="1059.5" y2="802.25" stroke="#bdbdbd" stroke-width="1.6"/>
<line x1="1059.5" y1="802.25" x2="1157.4" y2="802.25" stroke="#d6d6d6" stroke-width="1.6"/>
<line x1="863.7" y1="759.5" x2="961.6" y2="759.5" stroke="#d6d6d6" stroke-width="1.6"/>
<line x1="961.6" y1="759.5" x2="1059.5" y2="759.5" stroke="#bdbdbd" stroke-width="1.6"/>
<line x1="1059.5" y1="759.5" x2="1157.4" y2="759.5" stroke="#d6d6d6" stroke-width="1.6"/>
<line x1="863.7" y1="716.75" x2="961.6" y2="716.75" stroke="#d6d6d6" stroke-width="1.6"/>
<line x1="961.6" y1="716.75" x2="1059.5" y2="716.75" stroke="#bdbdbd" stroke-width="1.6"/>
<line x1="1059.5" y1="716.75" x2="1157.4" y2="716.75" stroke="#d6d6d6" stroke-width="1.6"/>
<line x1="863.7" y1="674" x2="961.6" y2="674" stroke="#d6d6d6" stroke-width="1.6"/>
<line x1="961.6" y1="674" x2="1059.5" y2="674" stroke="#bdbdbd" stroke-width="1.6"/>
<line x1="1059.5" y1="674" x2="1157.4" y2="674" stroke="#d6d6d6" stroke-width="1.6"/>
<line x1="1157.4" y1="674" x2="1157.4" y2="845" stroke="#d6d6d6" stroke-width="1.6"/>
<line x1="961.6" y1="674" x2="961.6" y2="845" stroke="#b8b8b8" stroke-width="1.8"/>
<line x1="1059.5" y1="674" x2="1059.5" y2="845" stroke="#b8b8b8" stroke-width="1.8"/>
<line x1="863.7" y1="673.2" x2="863.7" y2="845" stroke="#b4b4b4" stroke-width="2.2"/>
<line x1="862.7" y1="845" x2="1158.4" y2="845" stroke="#b4b4b4" stroke-width="2.4"/>
<clipPath id="cp22"><rect x="863.7" y="673" width="295.7" height="172"/></clipPath>
<polyline points="868.6,838.12 873.49,839.19 878.38,839.29 883.28,838.62 888.18,839.04 893.07,841.41 897.97,834.31 902.86,839.91 907.75,835.17 912.65,841.27 917.55,838.81 922.44,839.97 927.34,838.58 932.23,838.33 937.12,838.56 942.02,838.89 946.92,838.69 951.81,841.04 956.71,840.49 961.6,837.86 966.5,826.24 971.39,764.63 976.29,793.7 981.18,800.54 986.08,777.03 990.97,809.3 995.87,830.25 1000.76,832.44 1005.65,831.42 1010.55,828.26 1015.45,827.91 1020.34,825.04 1025.24,834.53 1030.13,820.63 1035.03,825.14 1039.92,817 1044.82,817.85 1049.71,827.92 1054.61,836.31 1059.5,834.16 1064.39,-437.5 1069.29,597.05 1074.18,824.92 1079.08,833.01 1083.97,831.92 1088.87,831.89 1093.77,834.38 1098.66,834.8 1103.56,838.37 1108.45,836.22 1113.35,834.38 1118.24,835.13 1123.13,833.71 1128.03,833.34 1132.92,835.51 1137.82,836.6 1142.72,836.06 1147.61,837.65 1152.51,837.72 1157.4,837.57" fill="none" stroke="#8e8e8e" stroke-width="2.5" stroke-linejoin="round" clip-path="url(#cp22)"/>
<polyline points="868.6,842.35 873.49,842.17 878.38,842.32 883.28,841.45 888.18,841.8 893.07,843.64 897.97,839.3 902.86,842.87 907.75,840.7 912.65,843.29 917.55,842.31 922.44,843.06 927.34,842.08 932.23,841.71 937.12,842.03 942.02,841.41 946.92,842.1 951.81,843.63 956.71,843.02 961.6,840.74 966.5,832.66 971.39,806.52 976.29,821.49 981.18,827.47 986.08,814.43 990.97,828.33 995.87,837.95 1000.76,836.29 1005.65,837.3 1010.55,834.26 1015.45,834.91 1020.34,833.07 1025.24,839.13 1030.13,829.28 1035.03,831.71 1039.92,830.4 1044.82,830.68 1049.71,835.05 1054.61,840.21 1059.5,838.96 1064.39,-437.5 1069.29,597.05 1074.18,833.6 1079.08,836.66 1083.97,836.39 1088.87,837.48 1093.77,838.29 1098.66,839.42 1103.56,841.94 1108.45,840.91 1113.35,838.82 1118.24,839.95 1123.13,838.01 1128.03,837.53 1132.92,839.94 1137.82,840.82 1142.72,839.68 1147.61,841.02 1152.51,841.21 1157.4,841.02" fill="none" stroke="#8e8e8e" stroke-width="2.5" stroke-linejoin="round" clip-path="url(#cp22)"/>
<polyline points="868.6,840.3 873.49,841.15 878.38,840.94 883.28,840.3 888.18,840.3 893.07,842.43 897.97,837.95 902.86,841.58 907.75,838.59 912.65,842.43 917.55,840.73 922.44,841.58 927.34,840.73 932.23,840.3 937.12,840.3 942.02,840.3 946.92,840.3 951.81,842.43 956.71,842.01 961.6,839.23 966.5,830.25 971.39,785.58 976.29,808.45 981.18,815.29 986.08,796.05 990.97,821.49 995.87,834.53 1000.76,834.53 1005.65,834.53 1010.55,831.96 1015.45,831.11 1020.34,828.75 1025.24,836.24 1030.13,825.76 1035.03,827.47 1039.92,825.34 1044.82,825.76 1049.71,831.11 1054.61,838.59 1059.5,837.09 1064.39,-437.5 1069.29,597.05 1074.18,829.4 1079.08,834.95 1083.97,834.53 1088.87,834.53 1093.77,836.24 1098.66,837.52 1103.56,839.87 1108.45,838.59 1113.35,836.88 1118.24,837.52 1123.13,836.24 1128.03,835.38 1132.92,837.95 1137.82,838.59 1142.72,837.52 1147.61,839.23 1152.51,839.87 1157.4,839.87" fill="none" stroke="#000" stroke-width="3.0" stroke-linejoin="round" clip-path="url(#cp22)"/>
<rect x="1059.1" y="674" width="5.4" height="171" fill="#ee3344" fill-opacity="0.72"/>
<text transform="translate(851.5,850) scale(1.04,1)" font-size="14" text-anchor="end" fill="#000" stroke="#000" stroke-width="0.35">0</text>
<text transform="translate(851.5,807.25) scale(1.04,1)" font-size="14" text-anchor="end" fill="#000" stroke="#000" stroke-width="0.35">20</text>
<text transform="translate(851.5,764.5) scale(1.04,1)" font-size="14" text-anchor="end" fill="#000" stroke="#000" stroke-width="0.35">40</text>
<text transform="translate(851.5,721.75) scale(1.04,1)" font-size="14" text-anchor="end" fill="#000" stroke="#000" stroke-width="0.35">60</text>
<text transform="translate(851.5,679) scale(1.04,1)" font-size="14" text-anchor="end" fill="#000" stroke="#000" stroke-width="0.35">80</text>
<text transform="translate(863.7,866.7) scale(1.04,1)" font-size="14" text-anchor="middle" fill="#000" stroke="#000" stroke-width="0.35">-20</text>
<text transform="translate(912.65,866.7) scale(1.04,1)" font-size="14" text-anchor="middle" fill="#000" stroke="#000" stroke-width="0.35">-10</text>
<text transform="translate(961.6,866.7) scale(1.04,1)" font-size="14" text-anchor="middle" fill="#000" stroke="#000" stroke-width="0.35">0</text>
<text transform="translate(1010.55,866.7) scale(1.04,1)" font-size="14" text-anchor="middle" fill="#000" stroke="#000" stroke-width="0.35">10</text>
<text transform="translate(1059.5,866.7) scale(1.04,1)" font-size="14" text-anchor="middle" fill="#000" stroke="#000" stroke-width="0.35">20</text>
<text transform="translate(1108.45,866.7) scale(1.04,1)" font-size="14" text-anchor="middle" fill="#000" stroke="#000" stroke-width="0.35">30</text>
<text transform="translate(1157.4,866.7) scale(1.04,1)" font-size="14" text-anchor="middle" fill="#000" stroke="#000" stroke-width="0.35">40</text>
<text transform="translate(1010.3,642.9) scale(1.05,1)" font-size="21.5" text-anchor="middle" fill="#000" stroke="#000" stroke-width="0.35">Context <tspan fill="#e0101e" stroke="#e0101e">B</tspan> US-CS</text>
<text transform="translate(955.5,668.9) scale(1.06,1)" font-size="22.3" text-anchor="start" fill="#4f4f4f" stroke="#4f4f4f" stroke-width="0.15">Tone</text>
<text transform="translate(1042.5,669.1) scale(1.035,1)" font-size="22" text-anchor="start" fill="#e0101e" stroke="#e0101e" stroke-width="0.35">Foot-shock</text>
<rect x="1325.4" y="674" width="97.9" height="171" fill="#dedede"/>
<line x1="1276.45" y1="674" x2="1276.45" y2="845" stroke="#d6d6d6" stroke-width="1.6"/>
<line x1="1472.25" y1="674" x2="1472.25" y2="845" stroke="#d6d6d6" stroke-width="1.6"/>
<line x1="1374.35" y1="674" x2="1374.35" y2="845" stroke="#bdbdbd" stroke-width="1.6"/>
<line x1="1227.5" y1="802.25" x2="1325.4" y2="802.25" stroke="#d6d6d6" stroke-width="1.6"/>
<line x1="1325.4" y1="802.25" x2="1423.3" y2="802.25" stroke="#bdbdbd" stroke-width="1.6"/>
<line x1="1423.3" y1="802.25" x2="1521.2" y2="802.25" stroke="#d6d6d6" stroke-width="1.6"/>
<line x1="1227.5" y1="759.5" x2="1325.4" y2="759.5" stroke="#d6d6d6" stroke-width="1.6"/>
<line x1="1325.4" y1="759.5" x2="1423.3" y2="759.5" stroke="#bdbdbd" stroke-width="1.6"/>
<line x1="1423.3" y1="759.5" x2="1521.2" y2="759.5" stroke="#d6d6d6" stroke-width="1.6"/>
<line x1="1227.5" y1="716.75" x2="1325.4" y2="716.75" stroke="#d6d6d6" stroke-width="1.6"/>
<line x1="1325.4" y1="716.75" x2="1423.3" y2="716.75" stroke="#bdbdbd" stroke-width="1.6"/>
<line x1="1423.3" y1="716.75" x2="1521.2" y2="716.75" stroke="#d6d6d6" stroke-width="1.6"/>
<line x1="1227.5" y1="674" x2="1325.4" y2="674" stroke="#d6d6d6" stroke-width="1.6"/>
<line x1="1325.4" y1="674" x2="1423.3" y2="674" stroke="#bdbdbd" stroke-width="1.6"/>
<line x1="1423.3" y1="674" x2="1521.2" y2="674" stroke="#d6d6d6" stroke-width="1.6"/>
<line x1="1521.2" y1="674" x2="1521.2" y2="845" stroke="#d6d6d6" stroke-width="1.6"/>
<line x1="1325.4" y1="674" x2="1325.4" y2="845" stroke="#b8b8b8" stroke-width="1.8"/>
<line x1="1423.3" y1="674" x2="1423.3" y2="845" stroke="#b8b8b8" stroke-width="1.8"/>
<line x1="1227.5" y1="673.2" x2="1227.5" y2="845" stroke="#b4b4b4" stroke-width="2.2"/>
<line x1="1226.5" y1="845" x2="1522.2" y2="845" stroke="#b4b4b4" stroke-width="2.4"/>
<clipPath id="cp23"><rect x="1227.5" y="673" width="295.7" height="172"/></clipPath>
<polyline points="1232.39,841.27 1237.29,841.68 1242.18,843.55 1247.08,841.98 1251.97,841.24 1256.87,840.53 1261.77,840.28 1266.66,840.31 1271.56,840.7 1276.45,840.27 1281.35,841.59 1286.24,841.99 1291.13,841.92 1296.03,842.28 1300.92,841.4 1305.82,840.39 1310.71,840.39 1315.61,840.14 1320.51,838.87 1325.4,838.97 1330.3,828.26 1335.19,785.58 1340.09,795.2 1344.98,797.76 1349.88,808.45 1354.77,821.7 1359.66,815.93 1364.56,824.69 1369.45,828.54 1374.35,832.66 1379.24,837.18 1384.14,837.51 1389.04,838.1 1393.93,838.33 1398.83,831.69 1403.72,826.74 1408.62,827.25 1413.51,832.36 1418.4,817.21 1423.3,838.32 1428.19,833.43 1433.09,834.16 1437.98,833.62 1442.88,836.24 1447.78,842.78 1452.67,841.37 1457.57,841.33 1462.46,839.97 1467.36,839.09 1472.25,839.63 1477.14,840.43 1482.04,839.02 1486.93,839.55 1491.83,842.03 1496.72,840.61 1501.62,840.43 1506.51,838.89 1511.41,842.68 1516.3,842.48 1521.2,842.01" fill="none" stroke="#8e8e8e" stroke-width="2.5" stroke-linejoin="round" clip-path="url(#cp23)"/>
<polyline points="1232.39,843.61 1237.29,843.72 1242.18,844.57 1247.08,843.74 1251.97,843.15 1256.87,843.01 1261.77,842.72 1266.66,842.54 1271.56,843.15 1276.45,842.59 1281.35,843.69 1286.24,843.74 1291.13,843.74 1296.03,843.83 1300.92,843.3 1305.82,843.12 1310.71,842.74 1315.61,841.75 1320.51,841.76 1325.4,842.1 1330.3,833.23 1335.19,819.78 1340.09,823.41 1344.98,825.55 1349.88,831.32 1354.77,836.45 1359.66,833.03 1364.56,833.65 1369.45,836.78 1374.35,836.43 1379.24,840.08 1384.14,840.47 1389.04,841.05 1393.93,840.46 1398.83,835.77 1403.72,832.05 1408.62,831.33 1413.51,835.98 1418.4,829.44 1423.3,841.02 1428.19,837.75 1433.09,837.83 1437.98,837.05 1442.88,838.85 1447.78,844.23 1452.67,843.77 1457.57,843.06 1462.46,842.1 1467.36,841.62 1472.25,842.39 1477.14,842.35 1482.04,841.54 1486.93,841.99 1491.83,843.55 1496.72,842.66 1501.62,842.84 1506.51,841.45 1511.41,844.14 1516.3,844.15 1521.2,843.85" fill="none" stroke="#8e8e8e" stroke-width="2.5" stroke-linejoin="round" clip-path="url(#cp23)"/>
<polyline points="1232.39,842.43 1237.29,842.43 1242.18,844.14 1247.08,842.65 1251.97,842.01 1256.87,841.79 1261.77,841.37 1266.66,841.79 1271.56,841.79 1276.45,841.58 1281.35,842.43 1286.24,842.65 1291.13,843.08 1296.03,843.08 1300.92,842.43 1305.82,841.79 1310.71,841.37 1315.61,840.94 1320.51,840.3 1325.4,840.51 1330.3,831.32 1335.19,803.11 1340.09,809.73 1344.98,812.51 1349.88,819.78 1354.77,830.47 1359.66,824.69 1364.56,831.32 1369.45,834.74 1374.35,834.31 1379.24,838.8 1384.14,839.23 1389.04,839.44 1393.93,839.44 1398.83,833.88 1403.72,830.04 1408.62,829.61 1413.51,834.31 1418.4,825.98 1423.3,839.23 1428.19,835.6 1433.09,836.02 1437.98,835.38 1442.88,837.52 1447.78,843.5 1452.67,842.65 1457.57,842.43 1462.46,840.94 1467.36,840.51 1472.25,840.94 1477.14,841.37 1482.04,840.51 1486.93,840.94 1491.83,842.65 1496.72,841.37 1501.62,841.79 1506.51,840.51 1511.41,843.5 1516.3,843.08 1521.2,842.65" fill="none" stroke="#000" stroke-width="3.0" stroke-linejoin="round" clip-path="url(#cp23)"/>
<text transform="translate(1215.3,850) scale(1.04,1)" font-size="14" text-anchor="end" fill="#000" stroke="#000" stroke-width="0.35">0</text>
<text transform="translate(1215.3,807.25) scale(1.04,1)" font-size="14" text-anchor="end" fill="#000" stroke="#000" stroke-width="0.35">20</text>
<text transform="translate(1215.3,764.5) scale(1.04,1)" font-size="14" text-anchor="end" fill="#000" stroke="#000" stroke-width="0.35">40</text>
<text transform="translate(1215.3,721.75) scale(1.04,1)" font-size="14" text-anchor="end" fill="#000" stroke="#000" stroke-width="0.35">60</text>
<text transform="translate(1215.3,679) scale(1.04,1)" font-size="14" text-anchor="end" fill="#000" stroke="#000" stroke-width="0.35">80</text>
<text transform="translate(1227.5,866.7) scale(1.04,1)" font-size="14" text-anchor="middle" fill="#000" stroke="#000" stroke-width="0.35">-20</text>
<text transform="translate(1276.45,866.7) scale(1.04,1)" font-size="14" text-anchor="middle" fill="#000" stroke="#000" stroke-width="0.35">-10</text>
<text transform="translate(1325.4,866.7) scale(1.04,1)" font-size="14" text-anchor="middle" fill="#000" stroke="#000" stroke-width="0.35">0</text>
<text transform="translate(1374.35,866.7) scale(1.04,1)" font-size="14" text-anchor="middle" fill="#000" stroke="#000" stroke-width="0.35">10</text>
<text transform="translate(1423.3,866.7) scale(1.04,1)" font-size="14" text-anchor="middle" fill="#000" stroke="#000" stroke-width="0.35">20</text>
<text transform="translate(1472.25,866.7) scale(1.04,1)" font-size="14" text-anchor="middle" fill="#000" stroke="#000" stroke-width="0.35">30</text>
<text transform="translate(1521.2,866.7) scale(1.04,1)" font-size="14" text-anchor="middle" fill="#000" stroke="#000" stroke-width="0.35">40</text>
<text transform="translate(1374.1,642.9) scale(1.05,1)" font-size="21.5" text-anchor="middle" fill="#000" stroke="#000" stroke-width="0.35">Context <tspan fill="#e0101e" stroke="#e0101e">B</tspan> CS</text>
<text transform="translate(1319.3,668.9) scale(1.06,1)" font-size="22.3" text-anchor="start" fill="#4f4f4f" stroke="#4f4f4f" stroke-width="0.15">Tone</text>
<text x="6.5" y="924.8" font-size="32" text-anchor="start" fill="#000" stroke="#000" stroke-width="0.35">Group4</text>
<line x1="6.3" y1="928.1" x2="110.6" y2="928.1" stroke="#000" stroke-width="1.8"/>
<rect x="233.2" y="953" width="97.9" height="171" fill="#dedede"/>
<line x1="184.25" y1="953" x2="184.25" y2="1124" stroke="#d6d6d6" stroke-width="1.6"/>
<line x1="380.05" y1="953" x2="380.05" y2="1124" stroke="#d6d6d6" stroke-width="1.6"/>
<line x1="282.15" y1="953" x2="282.15" y2="1124" stroke="#bdbdbd" stroke-width="1.6"/>
<line x1="135.3" y1="1081.25" x2="233.2" y2="1081.25" stroke="#d6d6d6" stroke-width="1.6"/>
<line x1="233.2" y1="1081.25" x2="331.1" y2="1081.25" stroke="#bdbdbd" stroke-width="1.6"/>
<line x1="331.1" y1="1081.25" x2="429" y2="1081.25" stroke="#d6d6d6" stroke-width="1.6"/>
<line x1="135.3" y1="1038.5" x2="233.2" y2="1038.5" stroke="#d6d6d6" stroke-width="1.6"/>
<line x1="233.2" y1="1038.5" x2="331.1" y2="1038.5" stroke="#bdbdbd" stroke-width="1.6"/>
<line x1="331.1" y1="1038.5" x2="429" y2="1038.5" stroke="#d6d6d6" stroke-width="1.6"/>
<line x1="135.3" y1="995.75" x2="233.2" y2="995.75" stroke="#d6d6d6" stroke-width="1.6"/>
<line x1="233.2" y1="995.75" x2="331.1" y2="995.75" stroke="#bdbdbd" stroke-width="1.6"/>
<line x1="331.1" y1="995.75" x2="429" y2="995.75" stroke="#d6d6d6" stroke-width="1.6"/>
<line x1="135.3" y1="953" x2="233.2" y2="953" stroke="#d6d6d6" stroke-width="1.6"/>
<line x1="233.2" y1="953" x2="331.1" y2="953" stroke="#bdbdbd" stroke-width="1.6"/>
<line x1="331.1" y1="953" x2="429" y2="953" stroke="#d6d6d6" stroke-width="1.6"/>
<line x1="429" y1="953" x2="429" y2="1124" stroke="#d6d6d6" stroke-width="1.6"/>
<line x1="233.2" y1="953" x2="233.2" y2="1124" stroke="#b8b8b8" stroke-width="1.8"/>
<line x1="331.1" y1="953" x2="331.1" y2="1124" stroke="#b8b8b8" stroke-width="1.8"/>
<line x1="135.3" y1="952.2" x2="135.3" y2="1124" stroke="#b4b4b4" stroke-width="2.2"/>
<line x1="134.3" y1="1124" x2="430" y2="1124" stroke="#b4b4b4" stroke-width="2.4"/>
<clipPath id="cp30"><rect x="135.3" y="952" width="295.7" height="172"/></clipPath>
<polyline points="140.2,1078.1 145.09,1073.53 149.99,1062.91 154.88,1073.49 159.78,1088.91 164.67,1071.26 169.56,1078.03 174.46,1068.63 179.36,1065.76 184.25,1059.26 189.15,1066.07 194.04,1058.21 198.94,1059.7 203.83,1068.38 208.73,1066.44 213.62,1069.59 218.51,1063.11 223.41,1067.83 228.31,1063.82 233.2,1062.48 238.09,1061.49 242.99,1058.46 247.88,1081.2 252.78,1076.88 257.68,1070.9 262.57,1062.45 267.47,1061.84 272.36,1059.83 277.25,1064.24 282.15,1069.66 287.04,1070.01 291.94,1060.42 296.84,1063.79 301.73,1071.29 306.62,1070.42 311.52,1076.26 316.41,1064.76 321.31,1063.26 326.2,1067.03 331.1,1057.16 336,1079.71 340.89,1063.46 345.78,1059.23 350.68,1058.68 355.57,1066.05 360.47,1072.99 365.37,1072.46 370.26,1064.75 375.15,1062.6 380.05,1073.79 384.94,1076.37 389.84,1078.85 394.74,1065.32 399.63,1066.02 404.52,1074.01 409.42,1073.19 414.31,1073.94 419.21,1085.69 424.1,1069.12 429,1060.35" fill="none" stroke="#8e8e8e" stroke-width="2.5" stroke-linejoin="round" clip-path="url(#cp30)"/>
<polyline points="140.2,1086.98 145.09,1087.03 149.99,1072.86 154.88,1086.52 159.78,1100.85 164.67,1083.72 169.56,1090.99 174.46,1083.86 179.36,1074.96 184.25,1074.85 189.15,1077.24 194.04,1073.47 198.94,1070.62 203.83,1082.43 208.73,1083.76 213.62,1080.86 218.51,1080.7 223.41,1079.95 228.31,1079.98 233.2,1076.06 238.09,1074.93 242.99,1071.68 247.88,1091.13 252.78,1088.66 257.68,1086.46 262.57,1080.65 267.47,1079.37 272.36,1071.06 277.25,1078.66 282.15,1082.05 287.04,1083.72 291.94,1075.59 296.84,1074.83 301.73,1087.29 306.62,1084.83 311.52,1090.47 316.41,1079.36 321.31,1075.42 326.2,1080.68 331.1,1067.56 336,1092.8 340.89,1078.75 345.78,1074.35 350.68,1070.72 355.57,1080.75 360.47,1082.13 365.37,1084.91 370.26,1081.46 375.15,1076.47 380.05,1090.46 384.94,1086.52 389.84,1090.26 394.74,1075.08 399.63,1079.3 404.52,1085.46 409.42,1083.55 414.31,1087.81 419.21,1096.68 424.1,1083.58 429,1075.47" fill="none" stroke="#8e8e8e" stroke-width="2.5" stroke-linejoin="round" clip-path="url(#cp30)"/>
<polyline points="140.2,1082.32 145.09,1079.75 149.99,1068 154.88,1078.9 159.78,1093.65 164.67,1078.9 169.56,1084.88 174.46,1075.05 179.36,1070.56 184.25,1068.64 189.15,1071.42 194.04,1064.58 198.94,1065.22 203.83,1075.69 208.73,1075.69 213.62,1075.69 218.51,1071.85 223.41,1072.27 228.31,1072.7 233.2,1068 238.09,1069.71 242.99,1066.29 247.88,1085.53 252.78,1082.75 257.68,1078.47 262.57,1071.85 267.47,1071.42 272.36,1065.86 277.25,1071.85 282.15,1077.4 287.04,1075.27 291.94,1068 296.84,1068.64 301.73,1080.18 306.62,1079.75 311.52,1082.75 316.41,1071.42 321.31,1070.56 326.2,1071.85 331.1,1062.23 336,1085.53 340.89,1072.27 345.78,1066.29 350.68,1064.58 355.57,1073.56 360.47,1077.4 365.37,1077.4 370.26,1072.7 375.15,1070.99 380.05,1081.89 384.94,1082.32 389.84,1084.88 394.74,1070.56 399.63,1070.99 404.52,1078.47 409.42,1078.47 414.31,1082.32 419.21,1090.65 424.1,1076.97 429,1069.28" fill="none" stroke="#000" stroke-width="3.0" stroke-linejoin="round" clip-path="url(#cp30)"/>
<text transform="translate(123.1,1129) scale(1.04,1)" font-size="14" text-anchor="end" fill="#000" stroke="#000" stroke-width="0.35">0</text>
<text transform="translate(123.1,1086.25) scale(1.04,1)" font-size="14" text-anchor="end" fill="#000" stroke="#000" stroke-width="0.35">20</text>
<text transform="translate(123.1,1043.5) scale(1.04,1)" font-size="14" text-anchor="end" fill="#000" stroke="#000" stroke-width="0.35">40</text>
<text transform="translate(123.1,1000.75) scale(1.04,1)" font-size="14" text-anchor="end" fill="#000" stroke="#000" stroke-width="0.35">60</text>
<text transform="translate(123.1,958) scale(1.04,1)" font-size="14" text-anchor="end" fill="#000" stroke="#000" stroke-width="0.35">80</text>
<text transform="translate(135.3,1145.7) scale(1.04,1)" font-size="14" text-anchor="middle" fill="#000" stroke="#000" stroke-width="0.35">-20</text>
<text transform="translate(184.25,1145.7) scale(1.04,1)" font-size="14" text-anchor="middle" fill="#000" stroke="#000" stroke-width="0.35">-10</text>
<text transform="translate(233.2,1145.7) scale(1.04,1)" font-size="14" text-anchor="middle" fill="#000" stroke="#000" stroke-width="0.35">0</text>
<text transform="translate(282.15,1145.7) scale(1.04,1)" font-size="14" text-anchor="middle" fill="#000" stroke="#000" stroke-width="0.35">10</text>
<text transform="translate(331.1,1145.7) scale(1.04,1)" font-size="14" text-anchor="middle" fill="#000" stroke="#000" stroke-width="0.35">20</text>
<text transform="translate(380.05,1145.7) scale(1.04,1)" font-size="14" text-anchor="middle" fill="#000" stroke="#000" stroke-width="0.35">30</text>
<text transform="translate(429,1145.7) scale(1.04,1)" font-size="14" text-anchor="middle" fill="#000" stroke="#000" stroke-width="0.35">40</text>
<text transform="translate(281.9,921.9) scale(1.075,1)" font-size="21.5" text-anchor="middle" fill="#000" stroke="#000" stroke-width="0.35">Context A CS (75 dB)</text>
<text transform="translate(227.1,947.9) scale(1.06,1)" font-size="22.3" text-anchor="start" fill="#4f4f4f" stroke="#4f4f4f" stroke-width="0.15">Tone</text>
<text transform="translate(91,1045.8) rotate(-90) scale(1.0,1)" font-size="23.1" text-anchor="middle" fill="#000" stroke="#000" stroke-width="0.35">Motion (A.U.)</text>
<rect x="597.3" y="953" width="97.9" height="171" fill="#dedede"/>
<line x1="548.35" y1="953" x2="548.35" y2="1124" stroke="#d6d6d6" stroke-width="1.6"/>
<line x1="744.15" y1="953" x2="744.15" y2="1124" stroke="#d6d6d6" stroke-width="1.6"/>
<line x1="646.25" y1="953" x2="646.25" y2="1124" stroke="#bdbdbd" stroke-width="1.6"/>
<line x1="499.4" y1="1081.25" x2="597.3" y2="1081.25" stroke="#d6d6d6" stroke-width="1.6"/>
<line x1="597.3" y1="1081.25" x2="695.2" y2="1081.25" stroke="#bdbdbd" stroke-width="1.6"/>
<line x1="695.2" y1="1081.25" x2="793.1" y2="1081.25" stroke="#d6d6d6" stroke-width="1.6"/>
<line x1="499.4" y1="1038.5" x2="597.3" y2="1038.5" stroke="#d6d6d6" stroke-width="1.6"/>
<line x1="597.3" y1="1038.5" x2="695.2" y2="1038.5" stroke="#bdbdbd" stroke-width="1.6"/>
<line x1="695.2" y1="1038.5" x2="793.1" y2="1038.5" stroke="#d6d6d6" stroke-width="1.6"/>
<line x1="499.4" y1="995.75" x2="597.3" y2="995.75" stroke="#d6d6d6" stroke-width="1.6"/>
<line x1="597.3" y1="995.75" x2="695.2" y2="995.75" stroke="#bdbdbd" stroke-width="1.6"/>
<line x1="695.2" y1="995.75" x2="793.1" y2="995.75" stroke="#d6d6d6" stroke-width="1.6"/>
<line x1="499.4" y1="953" x2="597.3" y2="953" stroke="#d6d6d6" stroke-width="1.6"/>
<line x1="597.3" y1="953" x2="695.2" y2="953" stroke="#bdbdbd" stroke-width="1.6"/>
<line x1="695.2" y1="953" x2="793.1" y2="953" stroke="#d6d6d6" stroke-width="1.6"/>
<line x1="793.1" y1="953" x2="793.1" y2="1124" stroke="#d6d6d6" stroke-width="1.6"/>
<line x1="597.3" y1="953" x2="597.3" y2="1124" stroke="#b8b8b8" stroke-width="1.8"/>
<line x1="695.2" y1="953" x2="695.2" y2="1124" stroke="#b8b8b8" stroke-width="1.8"/>
<line x1="499.4" y1="952.2" x2="499.4" y2="1124" stroke="#b4b4b4" stroke-width="2.2"/>
<line x1="498.4" y1="1124" x2="794.1" y2="1124" stroke="#b4b4b4" stroke-width="2.4"/>
<clipPath id="cp31"><rect x="499.4" y="952" width="295.7" height="172"/></clipPath>
<polyline points="504.29,1107.59 509.19,1105.7 514.08,1107.3 518.98,1106.42 523.88,1106.26 528.77,1109.31 533.66,1107.36 538.56,1109.25 543.45,1110.21 548.35,1105.79 553.25,1102.95 558.14,1110.05 563.03,1108.77 567.93,1113.04 572.82,1112.14 577.72,1107.63 582.62,1109.55 587.51,1108.06 592.4,1107.9 597.3,1103.89 602.19,1105.93 607.09,1104.5 611.99,1105.69 616.88,1107.46 621.77,1109.18 626.67,1103.29 631.56,1104.64 636.46,1103.67 641.36,1106.61 646.25,1109.13 651.14,1110.89 656.04,1102.68 660.93,1097.21 665.83,1098.5 670.72,1103.55 675.62,1109.51 680.51,1109.79 685.41,1105.31 690.3,1104.97 695.2,1108.8 700.1,-158.5 704.99,922.29 709.88,1105.92 714.78,1112.92 719.67,1110.67 724.57,1112.66 729.46,1108.39 734.36,1108.28 739.25,1108.65 744.15,1109.77 749.04,1109.63 753.94,1109.39 758.84,1109.11 763.73,1107.85 768.62,1112.69 773.52,1110.72 778.41,1107.83 783.31,1105.03 788.2,1107.88 793.1,1111.31" fill="none" stroke="#8e8e8e" stroke-width="2.5" stroke-linejoin="round" clip-path="url(#cp31)"/>
<polyline points="504.29,1112.02 509.19,1112.26 514.08,1113.65 518.98,1111.63 523.88,1113.05 528.77,1116.5 533.66,1111.99 538.56,1114.68 543.45,1115.24 548.35,1113.29 553.25,1109.77 558.14,1114.06 563.03,1114.65 567.93,1116.72 572.82,1115.73 577.72,1112.52 582.62,1115.62 587.51,1113.84 592.4,1114.33 597.3,1111 602.19,1111.65 607.09,1109.86 611.99,1112.63 616.88,1112.33 621.77,1115.4 626.67,1110.07 631.56,1109.06 636.46,1109.44 641.36,1111.97 646.25,1113.28 651.14,1116.25 656.04,1110.62 660.93,1105.58 665.83,1106.72 670.72,1110.04 675.62,1114.35 680.51,1115.21 685.41,1112.23 690.3,1112.09 695.2,1114.09 700.1,-158.5 704.99,949.91 709.88,1113.18 714.78,1118.25 719.67,1117.75 724.57,1117.03 729.46,1113.14 734.36,1112.97 739.25,1115.72 744.15,1115.33 749.04,1115.36 753.94,1115.55 758.84,1114.5 763.73,1113.98 768.62,1117.67 773.52,1116.9 778.41,1113.95 783.31,1110.02 788.2,1115.53 793.1,1116.08" fill="none" stroke="#8e8e8e" stroke-width="2.5" stroke-linejoin="round" clip-path="url(#cp31)"/>
<polyline points="504.29,1109.68 509.19,1108.4 514.08,1110.32 518.98,1108.61 523.88,1110.11 528.77,1113.1 533.66,1110.11 538.56,1112.67 543.45,1112.03 548.35,1109.68 553.25,1107.33 558.14,1112.03 563.03,1112.67 567.93,1115.02 572.82,1113.95 577.72,1110.32 582.62,1112.03 587.51,1110.32 592.4,1111.39 597.3,1107.33 602.19,1109.25 607.09,1107.33 611.99,1108.61 616.88,1110.32 621.77,1112.03 626.67,1106.47 631.56,1106.9 636.46,1107.33 641.36,1109.25 646.25,1111.39 651.14,1112.67 656.04,1106.47 660.93,1100.91 665.83,1103.05 670.72,1106.9 675.62,1111.82 680.51,1113.1 685.41,1109.25 690.3,1108.4 695.2,1112.03 700.1,-158.5 704.99,931.62 709.88,1109.25 714.78,1116.09 719.67,1114.38 724.57,1115.24 729.46,1110.96 734.36,1110.96 739.25,1112.03 744.15,1112.03 749.04,1112.67 753.94,1113.1 758.84,1112.67 763.73,1111.82 768.62,1114.38 773.52,1113.95 778.41,1111.39 783.31,1107.33 788.2,1111.82 793.1,1113.53" fill="none" stroke="#000" stroke-width="3.0" stroke-linejoin="round" clip-path="url(#cp31)"/>
<rect x="694.8" y="953" width="5.4" height="171" fill="#ee3344" fill-opacity="0.72"/>
<text transform="translate(487.2,1129) scale(1.04,1)" font-size="14" text-anchor="end" fill="#000" stroke="#000" stroke-width="0.35">0</text>
<text transform="translate(487.2,1086.25) scale(1.04,1)" font-size="14" text-anchor="end" fill="#000" stroke="#000" stroke-width="0.35">20</text>
<text transform="translate(487.2,1043.5) scale(1.04,1)" font-size="14" text-anchor="end" fill="#000" stroke="#000" stroke-width="0.35">40</text>
<text transform="translate(487.2,1000.75) scale(1.04,1)" font-size="14" text-anchor="end" fill="#000" stroke="#000" stroke-width="0.35">60</text>
<text transform="translate(487.2,958) scale(1.04,1)" font-size="14" text-anchor="end" fill="#000" stroke="#000" stroke-width="0.35">80</text>
<text transform="translate(499.4,1145.7) scale(1.04,1)" font-size="14" text-anchor="middle" fill="#000" stroke="#000" stroke-width="0.35">-20</text>
<text transform="translate(548.35,1145.7) scale(1.04,1)" font-size="14" text-anchor="middle" fill="#000" stroke="#000" stroke-width="0.35">-10</text>
<text transform="translate(597.3,1145.7) scale(1.04,1)" font-size="14" text-anchor="middle" fill="#000" stroke="#000" stroke-width="0.35">0</text>
<text transform="translate(646.25,1145.7) scale(1.04,1)" font-size="14" text-anchor="middle" fill="#000" stroke="#000" stroke-width="0.35">10</text>
<text transform="translate(695.2,1145.7) scale(1.04,1)" font-size="14" text-anchor="middle" fill="#000" stroke="#000" stroke-width="0.35">20</text>
<text transform="translate(744.15,1145.7) scale(1.04,1)" font-size="14" text-anchor="middle" fill="#000" stroke="#000" stroke-width="0.35">30</text>
<text transform="translate(793.1,1145.7) scale(1.04,1)" font-size="14" text-anchor="middle" fill="#000" stroke="#000" stroke-width="0.35">40</text>
<text transform="translate(646,921.9) scale(1.05,1)" font-size="21.5" text-anchor="middle" fill="#000" stroke="#000" stroke-width="0.35">Context <tspan fill="#e0101e" stroke="#e0101e">B</tspan> US (0.4 mA)-CS</text>
<text transform="translate(591.2,947.9) scale(1.06,1)" font-size="22.3" text-anchor="start" fill="#4f4f4f" stroke="#4f4f4f" stroke-width="0.15">Tone</text>
<text transform="translate(681.3,948.1) scale(1.035,1)" font-size="22" text-anchor="start" fill="#e0101e" stroke="#e0101e" stroke-width="0.35">Foot-shock</text>
<rect x="961.6" y="953" width="97.9" height="171" fill="#dedede"/>
<line x1="912.65" y1="953" x2="912.65" y2="1124" stroke="#d6d6d6" stroke-width="1.6"/>
<line x1="1108.45" y1="953" x2="1108.45" y2="1124" stroke="#d6d6d6" stroke-width="1.6"/>
<line x1="1010.55" y1="953" x2="1010.55" y2="1124" stroke="#bdbdbd" stroke-width="1.6"/>
<line x1="863.7" y1="1081.25" x2="961.6" y2="1081.25" stroke="#d6d6d6" stroke-width="1.6"/>
<line x1="961.6" y1="1081.25" x2="1059.5" y2="1081.25" stroke="#bdbdbd" stroke-width="1.6"/>
<line x1="1059.5" y1="1081.25" x2="1157.4" y2="1081.25" stroke="#d6d6d6" stroke-width="1.6"/>
<line x1="863.7" y1="1038.5" x2="961.6" y2="1038.5" stroke="#d6d6d6" stroke-width="1.6"/>
<line x1="961.6" y1="1038.5" x2="1059.5" y2="1038.5" stroke="#bdbdbd" stroke-width="1.6"/>
<line x1="1059.5" y1="1038.5" x2="1157.4" y2="1038.5" stroke="#d6d6d6" stroke-width="1.6"/>
<line x1="863.7" y1="995.75" x2="961.6" y2="995.75" stroke="#d6d6d6" stroke-width="1.6"/>
<line x1="961.6" y1="995.75" x2="1059.5" y2="995.75" stroke="#bdbdbd" stroke-width="1.6"/>
<line x1="1059.5" y1="995.75" x2="1157.4" y2="995.75" stroke="#d6d6d6" stroke-width="1.6"/>
<line x1="863.7" y1="953" x2="961.6" y2="953" stroke="#d6d6d6" stroke-width="1.6"/>
<line x1="961.6" y1="953" x2="1059.5" y2="953" stroke="#bdbdbd" stroke-width="1.6"/>
<line x1="1059.5" y1="953" x2="1157.4" y2="953" stroke="#d6d6d6" stroke-width="1.6"/>
<line x1="1157.4" y1="953" x2="1157.4" y2="1124" stroke="#d6d6d6" stroke-width="1.6"/>
<line x1="961.6" y1="953" x2="961.6" y2="1124" stroke="#b8b8b8" stroke-width="1.8"/>
<line x1="1059.5" y1="953" x2="1059.5" y2="1124" stroke="#b8b8b8" stroke-width="1.8"/>
<line x1="863.7" y1="952.2" x2="863.7" y2="1124" stroke="#b4b4b4" stroke-width="2.2"/>
<line x1="862.7" y1="1124" x2="1158.4" y2="1124" stroke="#b4b4b4" stroke-width="2.4"/>
<clipPath id="cp32"><rect x="863.7" y="952" width="295.7" height="172"/></clipPath>
<polyline points="868.6,1116.33 873.49,1115.95 878.38,1116.71 883.28,1118.39 888.18,1118.22 893.07,1117.92 897.97,1114.66 902.86,1114.47 907.75,1117.23 912.65,1117.93 917.55,1117.78 922.44,1117.29 927.34,1118.37 932.23,1118.68 937.12,1119.48 942.02,1115.08 946.92,1095.14 951.81,1113.45 956.71,1116.11 961.6,1116.49 966.5,1103.16 971.39,1097.77 976.29,1088.3 981.18,1097.78 986.08,1107.98 990.97,1102.62 995.87,1113.34 1000.76,1115.7 1005.65,1112.18 1010.55,1115.74 1015.45,1117.87 1020.34,1118.67 1025.24,1116.96 1030.13,1112.7 1035.03,1111.76 1039.92,1111.65 1044.82,1114.05 1049.71,1117.65 1054.61,1116.94 1059.5,1117.15 1064.39,-158.5 1069.29,850.4 1074.18,1111.72 1079.08,1114.06 1083.97,1115.23 1088.87,1115.37 1093.77,1113.55 1098.66,1115.73 1103.56,1115.5 1108.45,1115 1113.35,1116.51 1118.24,1114.58 1123.13,1114.5 1128.03,1114.79 1132.92,1114.69 1137.82,1115.5 1142.72,1117.34 1147.61,1116.07 1152.51,1115.58 1157.4,1116.2" fill="none" stroke="#8e8e8e" stroke-width="2.5" stroke-linejoin="round" clip-path="url(#cp32)"/>
<polyline points="868.6,1120.52 873.49,1120.05 878.38,1121.21 883.28,1121.81 888.18,1121.93 893.07,1121.99 897.97,1118.99 902.86,1119.63 907.75,1120.46 912.65,1120.9 917.55,1121.72 922.44,1121.33 927.34,1122.22 932.23,1121.74 937.12,1122.69 942.02,1118.65 946.92,1110.11 951.81,1117.32 956.71,1119.48 961.6,1119.83 966.5,1109.9 971.39,1104.59 976.29,1102.64 981.18,1107.44 986.08,1112.67 990.97,1112.85 995.87,1117.06 1000.76,1118.99 1005.65,1117.37 1010.55,1119.6 1015.45,1121.78 1020.34,1121.3 1025.24,1120.55 1030.13,1117.35 1035.03,1116.62 1039.92,1116.79 1044.82,1118.96 1049.71,1121.03 1054.61,1120.85 1059.5,1119.8 1064.39,-158.5 1069.29,850.4 1074.18,1116.47 1079.08,1119.76 1083.97,1118.74 1088.87,1119.87 1093.77,1117.34 1098.66,1119.74 1103.56,1119.5 1108.45,1119.81 1113.35,1121.31 1118.24,1119.36 1123.13,1119.97 1128.03,1119.56 1132.92,1119.59 1137.82,1120.11 1142.72,1120.18 1147.61,1119.92 1152.51,1119.38 1157.4,1120.43" fill="none" stroke="#8e8e8e" stroke-width="2.5" stroke-linejoin="round" clip-path="url(#cp32)"/>
<polyline points="868.6,1118.44 873.49,1118.44 878.38,1118.87 883.28,1120.58 888.18,1120.15 893.07,1119.72 897.97,1116.95 902.86,1117.37 907.75,1118.87 912.65,1119.72 917.55,1119.72 922.44,1119.08 927.34,1120.58 932.23,1120.58 937.12,1120.58 942.02,1116.95 946.92,1105.62 951.81,1115.24 956.71,1117.8 961.6,1117.8 966.5,1106.47 971.39,1101.34 976.29,1096 981.18,1103.05 986.08,1110.32 990.97,1110.11 995.87,1115.02 1000.76,1117.37 1005.65,1115.02 1010.55,1117.8 1015.45,1119.72 1020.34,1120.15 1025.24,1118.87 1030.13,1115.66 1035.03,1115.02 1039.92,1114.38 1044.82,1116.09 1049.71,1119.72 1054.61,1118.87 1059.5,1118.44 1064.39,-158.5 1069.29,850.4 1074.18,1114.38 1079.08,1116.95 1083.97,1117.37 1088.87,1117.37 1093.77,1115.66 1098.66,1117.37 1103.56,1117.8 1108.45,1117.37 1113.35,1119.08 1118.24,1116.73 1123.13,1117.37 1128.03,1117.37 1132.92,1116.95 1137.82,1117.8 1142.72,1118.87 1147.61,1117.8 1152.51,1117.8 1157.4,1117.8" fill="none" stroke="#000" stroke-width="3.0" stroke-linejoin="round" clip-path="url(#cp32)"/>
<rect x="1059.1" y="953" width="5.4" height="171" fill="#ee3344" fill-opacity="0.72"/>
<text transform="translate(851.5,1129) scale(1.04,1)" font-size="14" text-anchor="end" fill="#000" stroke="#000" stroke-width="0.35">0</text>
<text transform="translate(851.5,1086.25) scale(1.04,1)" font-size="14" text-anchor="end" fill="#000" stroke="#000" stroke-width="0.35">20</text>
<text transform="translate(851.5,1043.5) scale(1.04,1)" font-size="14" text-anchor="end" fill="#000" stroke="#000" stroke-width="0.35">40</text>
<text transform="translate(851.5,1000.75) scale(1.04,1)" font-size="14" text-anchor="end" fill="#000" stroke="#000" stroke-width="0.35">60</text>
<text transform="translate(851.5,958) scale(1.04,1)" font-size="14" text-anchor="end" fill="#000" stroke="#000" stroke-width="0.35">80</text>
<text transform="translate(863.7,1145.7) scale(1.04,1)" font-size="14" text-anchor="middle" fill="#000" stroke="#000" stroke-width="0.35">-20</text>
<text transform="translate(912.65,1145.7) scale(1.04,1)" font-size="14" text-anchor="middle" fill="#000" stroke="#000" stroke-width="0.35">-10</text>
<text transform="translate(961.6,1145.7) scale(1.04,1)" font-size="14" text-anchor="middle" fill="#000" stroke="#000" stroke-width="0.35">0</text>
<text transform="translate(1010.55,1145.7) scale(1.04,1)" font-size="14" text-anchor="middle" fill="#000" stroke="#000" stroke-width="0.35">10</text>
<text transform="translate(1059.5,1145.7) scale(1.04,1)" font-size="14" text-anchor="middle" fill="#000" stroke="#000" stroke-width="0.35">20</text>
<text transform="translate(1108.45,1145.7) scale(1.04,1)" font-size="14" text-anchor="middle" fill="#000" stroke="#000" stroke-width="0.35">30</text>
<text transform="translate(1157.4,1145.7) scale(1.04,1)" font-size="14" text-anchor="middle" fill="#000" stroke="#000" stroke-width="0.35">40</text>
<text transform="translate(1010.3,921.9) scale(1.05,1)" font-size="21.5" text-anchor="middle" fill="#000" stroke="#000" stroke-width="0.35">Context <tspan fill="#e0101e" stroke="#e0101e">B</tspan> US-CS</text>
<text transform="translate(955.5,947.9) scale(1.06,1)" font-size="22.3" text-anchor="start" fill="#4f4f4f" stroke="#4f4f4f" stroke-width="0.15">Tone</text>
<text transform="translate(1042.5,948.1) scale(1.035,1)" font-size="22" text-anchor="start" fill="#e0101e" stroke="#e0101e" stroke-width="0.35">Foot-shock</text>
<rect x="1325.4" y="953" width="97.9" height="171" fill="#dedede"/>
<line x1="1276.45" y1="953" x2="1276.45" y2="1124" stroke="#d6d6d6" stroke-width="1.6"/>
<line x1="1472.25" y1="953" x2="1472.25" y2="1124" stroke="#d6d6d6" stroke-width="1.6"/>
<line x1="1374.35" y1="953" x2="1374.35" y2="1124" stroke="#bdbdbd" stroke-width="1.6"/>
<line x1="1227.5" y1="1081.25" x2="1325.4" y2="1081.25" stroke="#d6d6d6" stroke-width="1.6"/>
<line x1="1325.4" y1="1081.25" x2="1423.3" y2="1081.25" stroke="#bdbdbd" stroke-width="1.6"/>
<line x1="1423.3" y1="1081.25" x2="1521.2" y2="1081.25" stroke="#d6d6d6" stroke-width="1.6"/>
<line x1="1227.5" y1="1038.5" x2="1325.4" y2="1038.5" stroke="#d6d6d6" stroke-width="1.6"/>
<line x1="1325.4" y1="1038.5" x2="1423.3" y2="1038.5" stroke="#bdbdbd" stroke-width="1.6"/>
<line x1="1423.3" y1="1038.5" x2="1521.2" y2="1038.5" stroke="#d6d6d6" stroke-width="1.6"/>
<line x1="1227.5" y1="995.75" x2="1325.4" y2="995.75" stroke="#d6d6d6" stroke-width="1.6"/>
<line x1="1325.4" y1="995.75" x2="1423.3" y2="995.75" stroke="#bdbdbd" stroke-width="1.6"/>
<line x1="1423.3" y1="995.75" x2="1521.2" y2="995.75" stroke="#d6d6d6" stroke-width="1.6"/>
<line x1="1227.5" y1="953" x2="1325.4" y2="953" stroke="#d6d6d6" stroke-width="1.6"/>
<line x1="1325.4" y1="953" x2="1423.3" y2="953" stroke="#bdbdbd" stroke-width="1.6"/>
<line x1="1423.3" y1="953" x2="1521.2" y2="953" stroke="#d6d6d6" stroke-width="1.6"/>
<line x1="1521.2" y1="953" x2="1521.2" y2="1124" stroke="#d6d6d6" stroke-width="1.6"/>
<line x1="1325.4" y1="953" x2="1325.4" y2="1124" stroke="#b8b8b8" stroke-width="1.8"/>
<line x1="1423.3" y1="953" x2="1423.3" y2="1124" stroke="#b8b8b8" stroke-width="1.8"/>
<line x1="1227.5" y1="952.2" x2="1227.5" y2="1124" stroke="#b4b4b4" stroke-width="2.2"/>
<line x1="1226.5" y1="1124" x2="1522.2" y2="1124" stroke="#b4b4b4" stroke-width="2.4"/>
<clipPath id="cp33"><rect x="1227.5" y="952" width="295.7" height="172"/></clipPath>
<polyline points="1232.39,1119.11 1237.29,1117.48 1242.18,1116.4 1247.08,1118.13 1251.97,1117.66 1256.87,1119.38 1261.77,1118.91 1266.66,1117.56 1271.56,1117.94 1276.45,1119.41 1281.35,1115.44 1286.24,1116.08 1291.13,1116.48 1296.03,1116.92 1300.92,1114.38 1305.82,1117.31 1310.71,1117.01 1315.61,1118.28 1320.51,1119.12 1325.4,1117.2 1330.3,1111.4 1335.19,1076.12 1340.09,1108.14 1344.98,1103.69 1349.88,1116.59 1354.77,1116.04 1359.66,1115.5 1364.56,1115.82 1369.45,1111.82 1374.35,1107.71 1379.24,1112.14 1384.14,1104.55 1389.04,1110.41 1393.93,1113.52 1398.83,1112.26 1403.72,1116.08 1408.62,1118.83 1413.51,1116.55 1418.4,1112.74 1423.3,1116.24 1428.19,1108.24 1433.09,1104.98 1437.98,1117.22 1442.88,1118.62 1447.78,1115.85 1452.67,1118.93 1457.57,1118.85 1462.46,1119.7 1467.36,1118.07 1472.25,1118.08 1477.14,1120.17 1482.04,1118.31 1486.93,1118.86 1491.83,1119.77 1496.72,1119 1501.62,1119.09 1506.51,1119.49 1511.41,1120.14 1516.3,1120.48 1521.2,1120.2" fill="none" stroke="#8e8e8e" stroke-width="2.5" stroke-linejoin="round" clip-path="url(#cp33)"/>
<polyline points="1232.39,1122.03 1237.29,1121.47 1242.18,1120.16 1247.08,1121.51 1251.97,1120.22 1256.87,1121.81 1261.77,1121.7 1266.66,1121.31 1271.56,1120.19 1276.45,1122 1281.35,1119.96 1286.24,1120.24 1291.13,1119.89 1296.03,1119.78 1300.92,1118.64 1305.82,1120.56 1310.71,1120.02 1315.61,1121.67 1320.51,1122.42 1325.4,1119.87 1330.3,1116.64 1335.19,1095.39 1340.09,1114.02 1344.98,1112.01 1349.88,1120.87 1354.77,1119.54 1359.66,1118.56 1364.56,1118.96 1369.45,1115.61 1374.35,1112.91 1379.24,1116.24 1384.14,1112.28 1389.04,1116.28 1393.93,1118.8 1398.83,1117.62 1403.72,1119.53 1408.62,1121.41 1413.51,1120.59 1418.4,1116.83 1423.3,1120.13 1428.19,1113.67 1433.09,1113.48 1437.98,1120.31 1442.88,1122.29 1447.78,1119.91 1452.67,1121.78 1457.57,1121.81 1462.46,1123.1 1467.36,1121.38 1472.25,1121.23 1477.14,1122.76 1482.04,1121.35 1486.93,1122.14 1491.83,1122.88 1496.72,1122.23 1501.62,1121.91 1506.51,1122.09 1511.41,1122.58 1516.3,1122.59 1521.2,1122.88" fill="none" stroke="#8e8e8e" stroke-width="2.5" stroke-linejoin="round" clip-path="url(#cp33)"/>
<polyline points="1232.39,1120.58 1237.29,1119.51 1242.18,1118.66 1247.08,1120.15 1251.97,1119.08 1256.87,1120.79 1261.77,1120.15 1266.66,1119.51 1271.56,1119.08 1276.45,1120.58 1281.35,1117.8 1286.24,1118.44 1291.13,1118.44 1296.03,1118.44 1300.92,1116.52 1305.82,1119.08 1310.71,1118.66 1315.61,1120.15 1320.51,1120.79 1325.4,1118.66 1330.3,1113.53 1335.19,1089.8 1340.09,1111.6 1344.98,1109.89 1349.88,1118.66 1354.77,1117.8 1359.66,1116.95 1364.56,1117.37 1369.45,1113.53 1374.35,1109.89 1379.24,1114.38 1384.14,1109.68 1389.04,1113.1 1393.93,1116.09 1398.83,1114.81 1403.72,1117.37 1408.62,1120.15 1413.51,1118.66 1418.4,1114.81 1423.3,1117.8 1428.19,1111.39 1433.09,1111.6 1437.98,1118.66 1442.88,1120.58 1447.78,1117.8 1452.67,1120.15 1457.57,1120.79 1462.46,1121.43 1467.36,1119.51 1472.25,1120.15 1477.14,1121.43 1482.04,1120.15 1486.93,1120.58 1491.83,1121.43 1496.72,1120.79 1501.62,1120.58 1506.51,1120.79 1511.41,1121.43 1516.3,1121.43 1521.2,1121.86" fill="none" stroke="#000" stroke-width="3.0" stroke-linejoin="round" clip-path="url(#cp33)"/>
<text transform="translate(1215.3,1129) scale(1.04,1)" font-size="14" text-anchor="end" fill="#000" stroke="#000" stroke-width="0.35">0</text>
<text transform="translate(1215.3,1086.25) scale(1.04,1)" font-size="14" text-anchor="end" fill="#000" stroke="#000" stroke-width="0.35">20</text>
<text transform="translate(1215.3,1043.5) scale(1.04,1)" font-size="14" text-anchor="end" fill="#000" stroke="#000" stroke-width="0.35">40</text>
<text transform="translate(1215.3,1000.75) scale(1.04,1)" font-size="14" text-anchor="end" fill="#000" stroke="#000" stroke-width="0.35">60</text>
<text transform="translate(1215.3,958) scale(1.04,1)" font-size="14" text-anchor="end" fill="#000" stroke="#000" stroke-width="0.35">80</text>
<text transform="translate(1227.5,1145.7) scale(1.04,1)" font-size="14" text-anchor="middle" fill="#000" stroke="#000" stroke-width="0.35">-20</text>
<text transform="translate(1276.45,1145.7) scale(1.04,1)" font-size="14" text-anchor="middle" fill="#000" stroke="#000" stroke-width="0.35">-10</text>
<text transform="translate(1325.4,1145.7) scale(1.04,1)" font-size="14" text-anchor="middle" fill="#000" stroke="#000" stroke-width="0.35">0</text>
<text transform="translate(1374.35,1145.7) scale(1.04,1)" font-size="14" text-anchor="middle" fill="#000" stroke="#000" stroke-width="0.35">10</text>
<text transform="translate(1423.3,1145.7) scale(1.04,1)" font-size="14" text-anchor="middle" fill="#000" stroke="#000" stroke-width="0.35">20</text>
<text transform="translate(1472.25,1145.7) scale(1.04,1)" font-size="14" text-anchor="middle" fill="#000" stroke="#000" stroke-width="0.35">30</text>
<text transform="translate(1521.2,1145.7) scale(1.04,1)" font-size="14" text-anchor="middle" fill="#000" stroke="#000" stroke-width="0.35">40</text>
<text transform="translate(1374.1,921.9) scale(1.05,1)" font-size="21.5" text-anchor="middle" fill="#000" stroke="#000" stroke-width="0.35">Context <tspan fill="#e0101e" stroke="#e0101e">B</tspan> CS</text>
<text transform="translate(1319.3,947.9) scale(1.06,1)" font-size="22.3" text-anchor="start" fill="#4f4f4f" stroke="#4f4f4f" stroke-width="0.15">Tone</text>
<text transform="translate(1561.5,45.3) scale(0.99,1)" font-size="53" text-anchor="start" fill="#000" stroke="#000" stroke-width="0.35">A2</text>
<text transform="translate(1807.2,51.1) scale(1.05,1)" font-size="27" text-anchor="middle" fill="#000" stroke="#000" stroke-width="0.35">Motions</text>
<text transform="translate(1669.4,88.7) scale(1.05,1)" font-size="20" text-anchor="start" fill="#000" stroke="#000" stroke-width="0.35">Day1</text>
<line x1="1670" y1="94" x2="1714.7" y2="94" stroke="#000" stroke-width="3.0"/>
<text transform="translate(1721.7,88.7) scale(1.05,1)" font-size="20" text-anchor="start" fill="#000" stroke="#000" stroke-width="0.35">Day2</text>
<line x1="1721.7" y1="94" x2="1765.3" y2="94" stroke="#000" stroke-width="3.0"/>
<text transform="translate(1771.4,88.7) scale(1.05,1)" font-size="20" text-anchor="start" fill="#000" stroke="#000" stroke-width="0.35">Day3</text>
<line x1="1772.3" y1="94" x2="1816.5" y2="94" stroke="#000" stroke-width="3.0"/>
<text transform="translate(1825,88.7) scale(1.05,1)" font-size="20" text-anchor="start" fill="#000" stroke="#000" stroke-width="0.35">Day4</text>
<line x1="1824.2" y1="94" x2="1950.8" y2="94" stroke="#000" stroke-width="3.0"/>
<line x1="1667" y1="266.76" x2="1966.2" y2="266.76" stroke="#a6a6a6" stroke-width="1.5"/>
<line x1="1667" y1="229.22" x2="1966.2" y2="229.22" stroke="#a6a6a6" stroke-width="1.5"/>
<line x1="1667" y1="191.68" x2="1966.2" y2="191.68" stroke="#a6a6a6" stroke-width="1.5"/>
<line x1="1667" y1="154.14" x2="1966.2" y2="154.14" stroke="#a6a6a6" stroke-width="1.5"/>
<line x1="1667" y1="116.6" x2="1966.2" y2="116.6" stroke="#a6a6a6" stroke-width="1.5"/>
<text transform="translate(1651.5,310.06) scale(1.03,1)" font-size="16" text-anchor="end" fill="#000" stroke="#000" stroke-width="0.35">0</text>
<text transform="translate(1651.5,272.52) scale(1.03,1)" font-size="16" text-anchor="end" fill="#000" stroke="#000" stroke-width="0.35">200</text>
<text transform="translate(1651.5,234.98) scale(1.03,1)" font-size="16" text-anchor="end" fill="#000" stroke="#000" stroke-width="0.35">400</text>
<text transform="translate(1651.5,197.44) scale(1.03,1)" font-size="16" text-anchor="end" fill="#000" stroke="#000" stroke-width="0.35">600</text>
<text transform="translate(1651.5,159.9) scale(1.03,1)" font-size="16" text-anchor="end" fill="#000" stroke="#000" stroke-width="0.35">800</text>
<text transform="translate(1651.5,122.36) scale(1.03,1)" font-size="16" text-anchor="end" fill="#000" stroke="#000" stroke-width="0.35">1000</text>
<line x1="1667" y1="116.1" x2="1667" y2="305.5" stroke="#000" stroke-width="2.6"/>
<line x1="1665.7" y1="304.3" x2="1966.7" y2="304.3" stroke="#000" stroke-width="2.6"/>
<line x1="1675.55" y1="304.3" x2="1675.55" y2="307.5" stroke="#000" stroke-width="1.8"/>
<line x1="1684.1" y1="304.3" x2="1684.1" y2="307.5" stroke="#000" stroke-width="1.8"/>
<line x1="1692.65" y1="304.3" x2="1692.65" y2="307.5" stroke="#000" stroke-width="1.8"/>
<line x1="1701.2" y1="304.3" x2="1701.2" y2="307.5" stroke="#000" stroke-width="1.8"/>
<line x1="1709.75" y1="304.3" x2="1709.75" y2="307.5" stroke="#000" stroke-width="1.8"/>
<line x1="1718.3" y1="304.3" x2="1718.3" y2="307.5" stroke="#000" stroke-width="1.8"/>
<line x1="1726.85" y1="304.3" x2="1726.85" y2="307.5" stroke="#000" stroke-width="1.8"/>
<line x1="1735.4" y1="304.3" x2="1735.4" y2="307.5" stroke="#000" stroke-width="1.8"/>
<line x1="1743.95" y1="304.3" x2="1743.95" y2="307.5" stroke="#000" stroke-width="1.8"/>
<line x1="1752.5" y1="304.3" x2="1752.5" y2="307.5" stroke="#000" stroke-width="1.8"/>
<line x1="1761.05" y1="304.3" x2="1761.05" y2="307.5" stroke="#000" stroke-width="1.8"/>
<line x1="1769.6" y1="304.3" x2="1769.6" y2="307.5" stroke="#000" stroke-width="1.8"/>
<line x1="1778.15" y1="304.3" x2="1778.15" y2="307.5" stroke="#000" stroke-width="1.8"/>
<line x1="1786.7" y1="304.3" x2="1786.7" y2="307.5" stroke="#000" stroke-width="1.8"/>
<line x1="1795.25" y1="304.3" x2="1795.25" y2="307.5" stroke="#000" stroke-width="1.8"/>
<line x1="1803.8" y1="304.3" x2="1803.8" y2="307.5" stroke="#000" stroke-width="1.8"/>
<line x1="1812.35" y1="304.3" x2="1812.35" y2="307.5" stroke="#000" stroke-width="1.8"/>
<line x1="1820.9" y1="304.3" x2="1820.9" y2="307.5" stroke="#000" stroke-width="1.8"/>
<line x1="1829.45" y1="304.3" x2="1829.45" y2="307.5" stroke="#000" stroke-width="1.8"/>
<line x1="1838" y1="304.3" x2="1838" y2="307.5" stroke="#000" stroke-width="1.8"/>
<line x1="1846.55" y1="304.3" x2="1846.55" y2="307.5" stroke="#000" stroke-width="1.8"/>
<line x1="1855.1" y1="304.3" x2="1855.1" y2="307.5" stroke="#000" stroke-width="1.8"/>
<line x1="1863.65" y1="304.3" x2="1863.65" y2="307.5" stroke="#000" stroke-width="1.8"/>
<line x1="1872.2" y1="304.3" x2="1872.2" y2="307.5" stroke="#000" stroke-width="1.8"/>
<line x1="1880.75" y1="304.3" x2="1880.75" y2="307.5" stroke="#000" stroke-width="1.8"/>
<line x1="1889.3" y1="304.3" x2="1889.3" y2="307.5" stroke="#000" stroke-width="1.8"/>
<line x1="1897.85" y1="304.3" x2="1897.85" y2="307.5" stroke="#000" stroke-width="1.8"/>
<line x1="1906.4" y1="304.3" x2="1906.4" y2="307.5" stroke="#000" stroke-width="1.8"/>
<line x1="1914.95" y1="304.3" x2="1914.95" y2="307.5" stroke="#000" stroke-width="1.8"/>
<line x1="1923.5" y1="304.3" x2="1923.5" y2="307.5" stroke="#000" stroke-width="1.8"/>
<line x1="1932.05" y1="304.3" x2="1932.05" y2="307.5" stroke="#000" stroke-width="1.8"/>
<line x1="1940.6" y1="304.3" x2="1940.6" y2="307.5" stroke="#000" stroke-width="1.8"/>
<line x1="1949.15" y1="304.3" x2="1949.15" y2="307.5" stroke="#000" stroke-width="1.8"/>
<line x1="1957.7" y1="304.3" x2="1957.7" y2="307.5" stroke="#000" stroke-width="1.8"/>
<line x1="1966.25" y1="304.3" x2="1966.25" y2="307.5" stroke="#000" stroke-width="1.8"/>
<polyline points="1675.55,221.52 1684.1,217.39 1692.65,212.51 1701.2,212.51 1709.75,224.9" fill="none" stroke="#000" stroke-width="2.3" stroke-linejoin="round"/>
<polyline points="1726.85,233.54 1735.4,270.89 1743.95,271.08 1752.5,269.95 1761.05,259.25" fill="none" stroke="#000" stroke-width="2.3" stroke-linejoin="round"/>
<polyline points="1778.15,249.68 1786.7,199 1795.25,235.79 1803.8,206.13 1812.35,212.14" fill="none" stroke="#000" stroke-width="2.3" stroke-linejoin="round"/>
<polyline points="1829.45,228.66 1838,241.61 1846.55,260.38 1855.1,247.61 1863.65,272.95 1872.2,272.95 1880.75,276.52 1889.3,281.03 1897.85,284.59 1906.4,274.46 1914.95,282.53 1923.5,281.4 1932.05,286.84 1940.6,290.03 1949.15,280.09" fill="none" stroke="#000" stroke-width="2.3" stroke-linejoin="round"/>
<line x1="1675.55" y1="212.14" x2="1675.55" y2="230.91" stroke="#000" stroke-width="2.1"/>
<line x1="1672.95" y1="212.14" x2="1678.15" y2="212.14" stroke="#000" stroke-width="2.4"/>
<line x1="1672.95" y1="230.91" x2="1678.15" y2="230.91" stroke="#000" stroke-width="2.4"/>
<circle cx="1675.55" cy="221.52" r="4.6" fill="#000"/>
<line x1="1684.1" y1="204.26" x2="1684.1" y2="230.53" stroke="#000" stroke-width="2.1"/>
<line x1="1681.5" y1="204.26" x2="1686.7" y2="204.26" stroke="#000" stroke-width="2.4"/>
<line x1="1681.5" y1="230.53" x2="1686.7" y2="230.53" stroke="#000" stroke-width="2.4"/>
<circle cx="1684.1" cy="217.39" r="4.6" fill="#000"/>
<line x1="1692.65" y1="204.07" x2="1692.65" y2="220.96" stroke="#000" stroke-width="2.1"/>
<line x1="1690.05" y1="204.07" x2="1695.25" y2="204.07" stroke="#000" stroke-width="2.4"/>
<line x1="1690.05" y1="220.96" x2="1695.25" y2="220.96" stroke="#000" stroke-width="2.4"/>
<circle cx="1692.65" cy="212.51" r="4.6" fill="#000"/>
<line x1="1701.2" y1="202.75" x2="1701.2" y2="222.28" stroke="#000" stroke-width="2.1"/>
<line x1="1698.6" y1="202.75" x2="1703.8" y2="202.75" stroke="#000" stroke-width="2.4"/>
<line x1="1698.6" y1="222.28" x2="1703.8" y2="222.28" stroke="#000" stroke-width="2.4"/>
<circle cx="1701.2" cy="212.51" r="4.6" fill="#000"/>
<line x1="1709.75" y1="217.96" x2="1709.75" y2="231.85" stroke="#000" stroke-width="2.1"/>
<line x1="1707.15" y1="217.96" x2="1712.35" y2="217.96" stroke="#000" stroke-width="2.4"/>
<line x1="1707.15" y1="231.85" x2="1712.35" y2="231.85" stroke="#000" stroke-width="2.4"/>
<circle cx="1709.75" cy="224.9" r="4.6" fill="#000"/>
<line x1="1726.85" y1="226.4" x2="1726.85" y2="240.67" stroke="#000" stroke-width="2.1"/>
<line x1="1724.25" y1="226.4" x2="1729.45" y2="226.4" stroke="#000" stroke-width="2.4"/>
<line x1="1724.25" y1="240.67" x2="1729.45" y2="240.67" stroke="#000" stroke-width="2.4"/>
<circle cx="1726.85" cy="233.54" r="4.6" fill="#000"/>
<line x1="1735.4" y1="263.38" x2="1735.4" y2="278.4" stroke="#000" stroke-width="2.1"/>
<line x1="1732.8" y1="263.38" x2="1738" y2="263.38" stroke="#000" stroke-width="2.4"/>
<line x1="1732.8" y1="278.4" x2="1738" y2="278.4" stroke="#000" stroke-width="2.4"/>
<circle cx="1735.4" cy="270.89" r="4.6" fill="#000"/>
<line x1="1743.95" y1="262.63" x2="1743.95" y2="279.52" stroke="#000" stroke-width="2.1"/>
<line x1="1741.35" y1="262.63" x2="1746.55" y2="262.63" stroke="#000" stroke-width="2.4"/>
<line x1="1741.35" y1="279.52" x2="1746.55" y2="279.52" stroke="#000" stroke-width="2.4"/>
<circle cx="1743.95" cy="271.08" r="4.6" fill="#000"/>
<line x1="1752.5" y1="260" x2="1752.5" y2="279.9" stroke="#000" stroke-width="2.1"/>
<line x1="1749.9" y1="260" x2="1755.1" y2="260" stroke="#000" stroke-width="2.4"/>
<line x1="1749.9" y1="279.9" x2="1755.1" y2="279.9" stroke="#000" stroke-width="2.4"/>
<circle cx="1752.5" cy="269.95" r="4.6" fill="#000"/>
<line x1="1761.05" y1="248.37" x2="1761.05" y2="270.14" stroke="#000" stroke-width="2.1"/>
<line x1="1758.45" y1="248.37" x2="1763.65" y2="248.37" stroke="#000" stroke-width="2.4"/>
<line x1="1758.45" y1="270.14" x2="1763.65" y2="270.14" stroke="#000" stroke-width="2.4"/>
<circle cx="1761.05" cy="259.25" r="4.6" fill="#000"/>
<line x1="1778.15" y1="239.17" x2="1778.15" y2="260.19" stroke="#000" stroke-width="2.1"/>
<line x1="1775.55" y1="239.17" x2="1780.75" y2="239.17" stroke="#000" stroke-width="2.4"/>
<line x1="1775.55" y1="260.19" x2="1780.75" y2="260.19" stroke="#000" stroke-width="2.4"/>
<circle cx="1778.15" cy="249.68" r="4.6" fill="#000"/>
<line x1="1786.7" y1="158.08" x2="1786.7" y2="239.92" stroke="#000" stroke-width="2.1"/>
<line x1="1784.1" y1="158.08" x2="1789.3" y2="158.08" stroke="#000" stroke-width="2.4"/>
<line x1="1784.1" y1="239.92" x2="1789.3" y2="239.92" stroke="#000" stroke-width="2.4"/>
<circle cx="1786.7" cy="199" r="4.6" fill="#000"/>
<line x1="1795.25" y1="216.46" x2="1795.25" y2="255.12" stroke="#000" stroke-width="2.1"/>
<line x1="1792.65" y1="216.46" x2="1797.85" y2="216.46" stroke="#000" stroke-width="2.4"/>
<line x1="1792.65" y1="255.12" x2="1797.85" y2="255.12" stroke="#000" stroke-width="2.4"/>
<circle cx="1795.25" cy="235.79" r="4.6" fill="#000"/>
<line x1="1803.8" y1="165.4" x2="1803.8" y2="246.86" stroke="#000" stroke-width="2.1"/>
<line x1="1801.2" y1="165.4" x2="1806.4" y2="165.4" stroke="#000" stroke-width="2.4"/>
<line x1="1801.2" y1="246.86" x2="1806.4" y2="246.86" stroke="#000" stroke-width="2.4"/>
<circle cx="1803.8" cy="206.13" r="4.6" fill="#000"/>
<line x1="1812.35" y1="191.49" x2="1812.35" y2="232.79" stroke="#000" stroke-width="2.1"/>
<line x1="1809.75" y1="191.49" x2="1814.95" y2="191.49" stroke="#000" stroke-width="2.4"/>
<line x1="1809.75" y1="232.79" x2="1814.95" y2="232.79" stroke="#000" stroke-width="2.4"/>
<circle cx="1812.35" cy="212.14" r="4.6" fill="#000"/>
<line x1="1829.45" y1="206.51" x2="1829.45" y2="250.81" stroke="#000" stroke-width="2.1"/>
<line x1="1826.85" y1="206.51" x2="1832.05" y2="206.51" stroke="#000" stroke-width="2.4"/>
<line x1="1826.85" y1="250.81" x2="1832.05" y2="250.81" stroke="#000" stroke-width="2.4"/>
<circle cx="1829.45" cy="228.66" r="4.6" fill="#000"/>
<line x1="1838" y1="218.52" x2="1838" y2="264.7" stroke="#000" stroke-width="2.1"/>
<line x1="1835.4" y1="218.52" x2="1840.6" y2="218.52" stroke="#000" stroke-width="2.4"/>
<line x1="1835.4" y1="264.7" x2="1840.6" y2="264.7" stroke="#000" stroke-width="2.4"/>
<circle cx="1838" cy="241.61" r="4.6" fill="#000"/>
<line x1="1846.55" y1="244.24" x2="1846.55" y2="276.52" stroke="#000" stroke-width="2.1"/>
<line x1="1843.95" y1="244.24" x2="1849.15" y2="244.24" stroke="#000" stroke-width="2.4"/>
<line x1="1843.95" y1="276.52" x2="1849.15" y2="276.52" stroke="#000" stroke-width="2.4"/>
<circle cx="1846.55" cy="260.38" r="4.6" fill="#000"/>
<line x1="1855.1" y1="236.35" x2="1855.1" y2="258.88" stroke="#000" stroke-width="2.1"/>
<line x1="1852.5" y1="236.35" x2="1857.7" y2="236.35" stroke="#000" stroke-width="2.4"/>
<line x1="1852.5" y1="258.88" x2="1857.7" y2="258.88" stroke="#000" stroke-width="2.4"/>
<circle cx="1855.1" cy="247.61" r="4.6" fill="#000"/>
<line x1="1863.65" y1="263.76" x2="1863.65" y2="282.15" stroke="#000" stroke-width="2.1"/>
<line x1="1861.05" y1="263.76" x2="1866.25" y2="263.76" stroke="#000" stroke-width="2.4"/>
<line x1="1861.05" y1="282.15" x2="1866.25" y2="282.15" stroke="#000" stroke-width="2.4"/>
<circle cx="1863.65" cy="272.95" r="4.6" fill="#000"/>
<line x1="1872.2" y1="264.88" x2="1872.2" y2="281.03" stroke="#000" stroke-width="2.1"/>
<line x1="1869.6" y1="264.88" x2="1874.8" y2="264.88" stroke="#000" stroke-width="2.4"/>
<line x1="1869.6" y1="281.03" x2="1874.8" y2="281.03" stroke="#000" stroke-width="2.4"/>
<circle cx="1872.2" cy="272.95" r="4.6" fill="#000"/>
<line x1="1880.75" y1="266.95" x2="1880.75" y2="286.09" stroke="#000" stroke-width="2.1"/>
<line x1="1878.15" y1="266.95" x2="1883.35" y2="266.95" stroke="#000" stroke-width="2.4"/>
<line x1="1878.15" y1="286.09" x2="1883.35" y2="286.09" stroke="#000" stroke-width="2.4"/>
<circle cx="1880.75" cy="276.52" r="4.6" fill="#000"/>
<line x1="1889.3" y1="271.45" x2="1889.3" y2="290.6" stroke="#000" stroke-width="2.1"/>
<line x1="1886.7" y1="271.45" x2="1891.9" y2="271.45" stroke="#000" stroke-width="2.4"/>
<line x1="1886.7" y1="290.6" x2="1891.9" y2="290.6" stroke="#000" stroke-width="2.4"/>
<circle cx="1889.3" cy="281.03" r="4.6" fill="#000"/>
<line x1="1897.85" y1="277.83" x2="1897.85" y2="291.35" stroke="#000" stroke-width="2.1"/>
<line x1="1895.25" y1="277.83" x2="1900.45" y2="277.83" stroke="#000" stroke-width="2.4"/>
<line x1="1895.25" y1="291.35" x2="1900.45" y2="291.35" stroke="#000" stroke-width="2.4"/>
<circle cx="1897.85" cy="284.59" r="4.6" fill="#000"/>
<line x1="1906.4" y1="264.7" x2="1906.4" y2="284.22" stroke="#000" stroke-width="2.1"/>
<line x1="1903.8" y1="264.7" x2="1909" y2="264.7" stroke="#000" stroke-width="2.4"/>
<line x1="1903.8" y1="284.22" x2="1909" y2="284.22" stroke="#000" stroke-width="2.4"/>
<circle cx="1906.4" cy="274.46" r="4.6" fill="#000"/>
<line x1="1914.95" y1="275.58" x2="1914.95" y2="289.47" stroke="#000" stroke-width="2.1"/>
<line x1="1912.35" y1="275.58" x2="1917.55" y2="275.58" stroke="#000" stroke-width="2.4"/>
<line x1="1912.35" y1="289.47" x2="1917.55" y2="289.47" stroke="#000" stroke-width="2.4"/>
<circle cx="1914.95" cy="282.53" r="4.6" fill="#000"/>
<line x1="1923.5" y1="274.08" x2="1923.5" y2="288.72" stroke="#000" stroke-width="2.1"/>
<line x1="1920.9" y1="274.08" x2="1926.1" y2="274.08" stroke="#000" stroke-width="2.4"/>
<line x1="1920.9" y1="288.72" x2="1926.1" y2="288.72" stroke="#000" stroke-width="2.4"/>
<circle cx="1923.5" cy="281.4" r="4.6" fill="#000"/>
<line x1="1932.05" y1="280.27" x2="1932.05" y2="293.41" stroke="#000" stroke-width="2.1"/>
<line x1="1929.45" y1="280.27" x2="1934.65" y2="280.27" stroke="#000" stroke-width="2.4"/>
<line x1="1929.45" y1="293.41" x2="1934.65" y2="293.41" stroke="#000" stroke-width="2.4"/>
<circle cx="1932.05" cy="286.84" r="4.6" fill="#000"/>
<line x1="1940.6" y1="283.84" x2="1940.6" y2="296.23" stroke="#000" stroke-width="2.1"/>
<line x1="1938" y1="283.84" x2="1943.2" y2="283.84" stroke="#000" stroke-width="2.4"/>
<line x1="1938" y1="296.23" x2="1943.2" y2="296.23" stroke="#000" stroke-width="2.4"/>
<circle cx="1940.6" cy="290.03" r="4.6" fill="#000"/>
<line x1="1949.15" y1="273.14" x2="1949.15" y2="287.03" stroke="#000" stroke-width="2.1"/>
<line x1="1946.55" y1="273.14" x2="1951.75" y2="273.14" stroke="#000" stroke-width="2.4"/>
<line x1="1946.55" y1="287.03" x2="1951.75" y2="287.03" stroke="#000" stroke-width="2.4"/>
<circle cx="1949.15" cy="280.09" r="4.6" fill="#000"/>
<text transform="translate(1600.9,204.95) rotate(-90) scale(1.0,1)" font-size="23.2" text-anchor="middle" fill="#000" stroke="#000" stroke-width="0.35">Total motion (A.U.)</text>
<line x1="1667" y1="543.78" x2="1966.2" y2="543.78" stroke="#a6a6a6" stroke-width="1.5"/>
<line x1="1667" y1="506.26" x2="1966.2" y2="506.26" stroke="#a6a6a6" stroke-width="1.5"/>
<line x1="1667" y1="468.74" x2="1966.2" y2="468.74" stroke="#a6a6a6" stroke-width="1.5"/>
<line x1="1667" y1="431.22" x2="1966.2" y2="431.22" stroke="#a6a6a6" stroke-width="1.5"/>
<line x1="1667" y1="393.7" x2="1966.2" y2="393.7" stroke="#a6a6a6" stroke-width="1.5"/>
<text transform="translate(1651.5,587.06) scale(1.03,1)" font-size="16" text-anchor="end" fill="#000" stroke="#000" stroke-width="0.35">0</text>
<text transform="translate(1651.5,549.54) scale(1.03,1)" font-size="16" text-anchor="end" fill="#000" stroke="#000" stroke-width="0.35">200</text>
<text transform="translate(1651.5,512.02) scale(1.03,1)" font-size="16" text-anchor="end" fill="#000" stroke="#000" stroke-width="0.35">400</text>
<text transform="translate(1651.5,474.5) scale(1.03,1)" font-size="16" text-anchor="end" fill="#000" stroke="#000" stroke-width="0.35">600</text>
<text transform="translate(1651.5,436.98) scale(1.03,1)" font-size="16" text-anchor="end" fill="#000" stroke="#000" stroke-width="0.35">800</text>
<text transform="translate(1651.5,399.46) scale(1.03,1)" font-size="16" text-anchor="end" fill="#000" stroke="#000" stroke-width="0.35">1000</text>
<line x1="1667" y1="393.2" x2="1667" y2="582.5" stroke="#000" stroke-width="2.6"/>
<line x1="1665.7" y1="581.3" x2="1966.7" y2="581.3" stroke="#000" stroke-width="2.6"/>
<line x1="1675.55" y1="581.3" x2="1675.55" y2="584.5" stroke="#000" stroke-width="1.8"/>
<line x1="1684.1" y1="581.3" x2="1684.1" y2="584.5" stroke="#000" stroke-width="1.8"/>
<line x1="1692.65" y1="581.3" x2="1692.65" y2="584.5" stroke="#000" stroke-width="1.8"/>
<line x1="1701.2" y1="581.3" x2="1701.2" y2="584.5" stroke="#000" stroke-width="1.8"/>
<line x1="1709.75" y1="581.3" x2="1709.75" y2="584.5" stroke="#000" stroke-width="1.8"/>
<line x1="1718.3" y1="581.3" x2="1718.3" y2="584.5" stroke="#000" stroke-width="1.8"/>
<line x1="1726.85" y1="581.3" x2="1726.85" y2="584.5" stroke="#000" stroke-width="1.8"/>
<line x1="1735.4" y1="581.3" x2="1735.4" y2="584.5" stroke="#000" stroke-width="1.8"/>
<line x1="1743.95" y1="581.3" x2="1743.95" y2="584.5" stroke="#000" stroke-width="1.8"/>
<line x1="1752.5" y1="581.3" x2="1752.5" y2="584.5" stroke="#000" stroke-width="1.8"/>
<line x1="1761.05" y1="581.3" x2="1761.05" y2="584.5" stroke="#000" stroke-width="1.8"/>
<line x1="1769.6" y1="581.3" x2="1769.6" y2="584.5" stroke="#000" stroke-width="1.8"/>
<line x1="1778.15" y1="581.3" x2="1778.15" y2="584.5" stroke="#000" stroke-width="1.8"/>
<line x1="1786.7" y1="581.3" x2="1786.7" y2="584.5" stroke="#000" stroke-width="1.8"/>
<line x1="1795.25" y1="581.3" x2="1795.25" y2="584.5" stroke="#000" stroke-width="1.8"/>
<line x1="1803.8" y1="581.3" x2="1803.8" y2="584.5" stroke="#000" stroke-width="1.8"/>
<line x1="1812.35" y1="581.3" x2="1812.35" y2="584.5" stroke="#000" stroke-width="1.8"/>
<line x1="1820.9" y1="581.3" x2="1820.9" y2="584.5" stroke="#000" stroke-width="1.8"/>
<line x1="1829.45" y1="581.3" x2="1829.45" y2="584.5" stroke="#000" stroke-width="1.8"/>
<line x1="1838" y1="581.3" x2="1838" y2="584.5" stroke="#000" stroke-width="1.8"/>
<line x1="1846.55" y1="581.3" x2="1846.55" y2="584.5" stroke="#000" stroke-width="1.8"/>
<line x1="1855.1" y1="581.3" x2="1855.1" y2="584.5" stroke="#000" stroke-width="1.8"/>
<line x1="1863.65" y1="581.3" x2="1863.65" y2="584.5" stroke="#000" stroke-width="1.8"/>
<line x1="1872.2" y1="581.3" x2="1872.2" y2="584.5" stroke="#000" stroke-width="1.8"/>
<line x1="1880.75" y1="581.3" x2="1880.75" y2="584.5" stroke="#000" stroke-width="1.8"/>
<line x1="1889.3" y1="581.3" x2="1889.3" y2="584.5" stroke="#000" stroke-width="1.8"/>
<line x1="1897.85" y1="581.3" x2="1897.85" y2="584.5" stroke="#000" stroke-width="1.8"/>
<line x1="1906.4" y1="581.3" x2="1906.4" y2="584.5" stroke="#000" stroke-width="1.8"/>
<line x1="1914.95" y1="581.3" x2="1914.95" y2="584.5" stroke="#000" stroke-width="1.8"/>
<line x1="1923.5" y1="581.3" x2="1923.5" y2="584.5" stroke="#000" stroke-width="1.8"/>
<line x1="1932.05" y1="581.3" x2="1932.05" y2="584.5" stroke="#000" stroke-width="1.8"/>
<line x1="1940.6" y1="581.3" x2="1940.6" y2="584.5" stroke="#000" stroke-width="1.8"/>
<line x1="1949.15" y1="581.3" x2="1949.15" y2="584.5" stroke="#000" stroke-width="1.8"/>
<line x1="1957.7" y1="581.3" x2="1957.7" y2="584.5" stroke="#000" stroke-width="1.8"/>
<line x1="1966.25" y1="581.3" x2="1966.25" y2="584.5" stroke="#000" stroke-width="1.8"/>
<polyline points="1675.55,508.51 1684.1,495.57 1692.65,501.95 1701.2,499.88 1709.75,504.38" fill="none" stroke="#000" stroke-width="2.3" stroke-linejoin="round"/>
<polyline points="1726.85,513.76 1735.4,546.78 1743.95,540.22 1752.5,535.34 1761.05,540.22" fill="none" stroke="#000" stroke-width="2.3" stroke-linejoin="round"/>
<polyline points="1778.15,535.34 1786.7,502.7 1795.25,503.07 1803.8,513.01 1812.35,488.06" fill="none" stroke="#000" stroke-width="2.3" stroke-linejoin="round"/>
<polyline points="1829.45,548.28 1838,548.09 1846.55,547.16 1855.1,540.22 1863.65,567.79 1872.2,569.11 1880.75,561.6 1889.3,569.67 1897.85,570.98 1906.4,559.35 1914.95,558.04 1923.5,549.6 1932.05,561.98 1940.6,571.92 1949.15,557.29" fill="none" stroke="#000" stroke-width="2.3" stroke-linejoin="round"/>
<line x1="1675.55" y1="492.38" x2="1675.55" y2="524.64" stroke="#000" stroke-width="2.1"/>
<line x1="1672.95" y1="492.38" x2="1678.15" y2="492.38" stroke="#000" stroke-width="2.4"/>
<line x1="1672.95" y1="524.64" x2="1678.15" y2="524.64" stroke="#000" stroke-width="2.4"/>
<circle cx="1675.55" cy="508.51" r="4.6" fill="#000"/>
<line x1="1684.1" y1="473.99" x2="1684.1" y2="517.14" stroke="#000" stroke-width="2.1"/>
<line x1="1681.5" y1="473.99" x2="1686.7" y2="473.99" stroke="#000" stroke-width="2.4"/>
<line x1="1681.5" y1="517.14" x2="1686.7" y2="517.14" stroke="#000" stroke-width="2.4"/>
<circle cx="1684.1" cy="495.57" r="4.6" fill="#000"/>
<line x1="1692.65" y1="483.56" x2="1692.65" y2="520.33" stroke="#000" stroke-width="2.1"/>
<line x1="1690.05" y1="483.56" x2="1695.25" y2="483.56" stroke="#000" stroke-width="2.4"/>
<line x1="1690.05" y1="520.33" x2="1695.25" y2="520.33" stroke="#000" stroke-width="2.4"/>
<circle cx="1692.65" cy="501.95" r="4.6" fill="#000"/>
<line x1="1701.2" y1="487.31" x2="1701.2" y2="512.45" stroke="#000" stroke-width="2.1"/>
<line x1="1698.6" y1="487.31" x2="1703.8" y2="487.31" stroke="#000" stroke-width="2.4"/>
<line x1="1698.6" y1="512.45" x2="1703.8" y2="512.45" stroke="#000" stroke-width="2.4"/>
<circle cx="1701.2" cy="499.88" r="4.6" fill="#000"/>
<line x1="1709.75" y1="493.13" x2="1709.75" y2="515.64" stroke="#000" stroke-width="2.1"/>
<line x1="1707.15" y1="493.13" x2="1712.35" y2="493.13" stroke="#000" stroke-width="2.4"/>
<line x1="1707.15" y1="515.64" x2="1712.35" y2="515.64" stroke="#000" stroke-width="2.4"/>
<circle cx="1709.75" cy="504.38" r="4.6" fill="#000"/>
<line x1="1726.85" y1="506.64" x2="1726.85" y2="520.89" stroke="#000" stroke-width="2.1"/>
<line x1="1724.25" y1="506.64" x2="1729.45" y2="506.64" stroke="#000" stroke-width="2.4"/>
<line x1="1724.25" y1="520.89" x2="1729.45" y2="520.89" stroke="#000" stroke-width="2.4"/>
<circle cx="1726.85" cy="513.76" r="4.6" fill="#000"/>
<line x1="1735.4" y1="539.65" x2="1735.4" y2="553.91" stroke="#000" stroke-width="2.1"/>
<line x1="1732.8" y1="539.65" x2="1738" y2="539.65" stroke="#000" stroke-width="2.4"/>
<line x1="1732.8" y1="553.91" x2="1738" y2="553.91" stroke="#000" stroke-width="2.4"/>
<circle cx="1735.4" cy="546.78" r="4.6" fill="#000"/>
<line x1="1743.95" y1="531.21" x2="1743.95" y2="549.22" stroke="#000" stroke-width="2.1"/>
<line x1="1741.35" y1="531.21" x2="1746.55" y2="531.21" stroke="#000" stroke-width="2.4"/>
<line x1="1741.35" y1="549.22" x2="1746.55" y2="549.22" stroke="#000" stroke-width="2.4"/>
<circle cx="1743.95" cy="540.22" r="4.6" fill="#000"/>
<line x1="1752.5" y1="519.58" x2="1752.5" y2="551.1" stroke="#000" stroke-width="2.1"/>
<line x1="1749.9" y1="519.58" x2="1755.1" y2="519.58" stroke="#000" stroke-width="2.4"/>
<line x1="1749.9" y1="551.1" x2="1755.1" y2="551.1" stroke="#000" stroke-width="2.4"/>
<circle cx="1752.5" cy="535.34" r="4.6" fill="#000"/>
<line x1="1761.05" y1="532.15" x2="1761.05" y2="548.28" stroke="#000" stroke-width="2.1"/>
<line x1="1758.45" y1="532.15" x2="1763.65" y2="532.15" stroke="#000" stroke-width="2.4"/>
<line x1="1758.45" y1="548.28" x2="1763.65" y2="548.28" stroke="#000" stroke-width="2.4"/>
<circle cx="1761.05" cy="540.22" r="4.6" fill="#000"/>
<line x1="1778.15" y1="528.4" x2="1778.15" y2="542.28" stroke="#000" stroke-width="2.1"/>
<line x1="1775.55" y1="528.4" x2="1780.75" y2="528.4" stroke="#000" stroke-width="2.4"/>
<line x1="1775.55" y1="542.28" x2="1780.75" y2="542.28" stroke="#000" stroke-width="2.4"/>
<circle cx="1778.15" cy="535.34" r="4.6" fill="#000"/>
<line x1="1786.7" y1="489.94" x2="1786.7" y2="515.45" stroke="#000" stroke-width="2.1"/>
<line x1="1784.1" y1="489.94" x2="1789.3" y2="489.94" stroke="#000" stroke-width="2.4"/>
<line x1="1784.1" y1="515.45" x2="1789.3" y2="515.45" stroke="#000" stroke-width="2.4"/>
<circle cx="1786.7" cy="502.7" r="4.6" fill="#000"/>
<line x1="1795.25" y1="478.68" x2="1795.25" y2="527.46" stroke="#000" stroke-width="2.1"/>
<line x1="1792.65" y1="478.68" x2="1797.85" y2="478.68" stroke="#000" stroke-width="2.4"/>
<line x1="1792.65" y1="527.46" x2="1797.85" y2="527.46" stroke="#000" stroke-width="2.4"/>
<circle cx="1795.25" cy="503.07" r="4.6" fill="#000"/>
<line x1="1803.8" y1="492" x2="1803.8" y2="534.02" stroke="#000" stroke-width="2.1"/>
<line x1="1801.2" y1="492" x2="1806.4" y2="492" stroke="#000" stroke-width="2.4"/>
<line x1="1801.2" y1="534.02" x2="1806.4" y2="534.02" stroke="#000" stroke-width="2.4"/>
<circle cx="1803.8" cy="513.01" r="4.6" fill="#000"/>
<line x1="1812.35" y1="467.05" x2="1812.35" y2="509.07" stroke="#000" stroke-width="2.1"/>
<line x1="1809.75" y1="467.05" x2="1814.95" y2="467.05" stroke="#000" stroke-width="2.4"/>
<line x1="1809.75" y1="509.07" x2="1814.95" y2="509.07" stroke="#000" stroke-width="2.4"/>
<circle cx="1812.35" cy="488.06" r="4.6" fill="#000"/>
<line x1="1829.45" y1="538.34" x2="1829.45" y2="558.23" stroke="#000" stroke-width="2.1"/>
<line x1="1826.85" y1="538.34" x2="1832.05" y2="538.34" stroke="#000" stroke-width="2.4"/>
<line x1="1826.85" y1="558.23" x2="1832.05" y2="558.23" stroke="#000" stroke-width="2.4"/>
<circle cx="1829.45" cy="548.28" r="4.6" fill="#000"/>
<line x1="1838" y1="537.21" x2="1838" y2="558.98" stroke="#000" stroke-width="2.1"/>
<line x1="1835.4" y1="537.21" x2="1840.6" y2="537.21" stroke="#000" stroke-width="2.4"/>
<line x1="1835.4" y1="558.98" x2="1840.6" y2="558.98" stroke="#000" stroke-width="2.4"/>
<circle cx="1838" cy="548.09" r="4.6" fill="#000"/>
<line x1="1846.55" y1="537.59" x2="1846.55" y2="556.72" stroke="#000" stroke-width="2.1"/>
<line x1="1843.95" y1="537.59" x2="1849.15" y2="537.59" stroke="#000" stroke-width="2.4"/>
<line x1="1843.95" y1="556.72" x2="1849.15" y2="556.72" stroke="#000" stroke-width="2.4"/>
<circle cx="1846.55" cy="547.16" r="4.6" fill="#000"/>
<line x1="1855.1" y1="527.27" x2="1855.1" y2="553.16" stroke="#000" stroke-width="2.1"/>
<line x1="1852.5" y1="527.27" x2="1857.7" y2="527.27" stroke="#000" stroke-width="2.4"/>
<line x1="1852.5" y1="553.16" x2="1857.7" y2="553.16" stroke="#000" stroke-width="2.4"/>
<circle cx="1855.1" cy="540.22" r="4.6" fill="#000"/>
<line x1="1863.65" y1="561.04" x2="1863.65" y2="574.55" stroke="#000" stroke-width="2.1"/>
<line x1="1861.05" y1="561.04" x2="1866.25" y2="561.04" stroke="#000" stroke-width="2.4"/>
<line x1="1861.05" y1="574.55" x2="1866.25" y2="574.55" stroke="#000" stroke-width="2.4"/>
<circle cx="1863.65" cy="567.79" r="4.6" fill="#000"/>
<line x1="1872.2" y1="563.67" x2="1872.2" y2="574.55" stroke="#000" stroke-width="2.1"/>
<line x1="1869.6" y1="563.67" x2="1874.8" y2="563.67" stroke="#000" stroke-width="2.4"/>
<line x1="1869.6" y1="574.55" x2="1874.8" y2="574.55" stroke="#000" stroke-width="2.4"/>
<circle cx="1872.2" cy="569.11" r="4.6" fill="#000"/>
<line x1="1880.75" y1="555.79" x2="1880.75" y2="567.42" stroke="#000" stroke-width="2.1"/>
<line x1="1878.15" y1="555.79" x2="1883.35" y2="555.79" stroke="#000" stroke-width="2.4"/>
<line x1="1878.15" y1="567.42" x2="1883.35" y2="567.42" stroke="#000" stroke-width="2.4"/>
<circle cx="1880.75" cy="561.6" r="4.6" fill="#000"/>
<line x1="1889.3" y1="564.79" x2="1889.3" y2="574.55" stroke="#000" stroke-width="2.1"/>
<line x1="1886.7" y1="564.79" x2="1891.9" y2="564.79" stroke="#000" stroke-width="2.4"/>
<line x1="1886.7" y1="574.55" x2="1891.9" y2="574.55" stroke="#000" stroke-width="2.4"/>
<circle cx="1889.3" cy="569.67" r="4.6" fill="#000"/>
<line x1="1897.85" y1="566.29" x2="1897.85" y2="575.67" stroke="#000" stroke-width="2.1"/>
<line x1="1895.25" y1="566.29" x2="1900.45" y2="566.29" stroke="#000" stroke-width="2.4"/>
<line x1="1895.25" y1="575.67" x2="1900.45" y2="575.67" stroke="#000" stroke-width="2.4"/>
<circle cx="1897.85" cy="570.98" r="4.6" fill="#000"/>
<line x1="1906.4" y1="552.97" x2="1906.4" y2="565.73" stroke="#000" stroke-width="2.1"/>
<line x1="1903.8" y1="552.97" x2="1909" y2="552.97" stroke="#000" stroke-width="2.4"/>
<line x1="1903.8" y1="565.73" x2="1909" y2="565.73" stroke="#000" stroke-width="2.4"/>
<circle cx="1906.4" cy="559.35" r="4.6" fill="#000"/>
<line x1="1914.95" y1="548.85" x2="1914.95" y2="567.23" stroke="#000" stroke-width="2.1"/>
<line x1="1912.35" y1="548.85" x2="1917.55" y2="548.85" stroke="#000" stroke-width="2.4"/>
<line x1="1912.35" y1="567.23" x2="1917.55" y2="567.23" stroke="#000" stroke-width="2.4"/>
<circle cx="1914.95" cy="558.04" r="4.6" fill="#000"/>
<line x1="1923.5" y1="540.78" x2="1923.5" y2="558.41" stroke="#000" stroke-width="2.1"/>
<line x1="1920.9" y1="540.78" x2="1926.1" y2="540.78" stroke="#000" stroke-width="2.4"/>
<line x1="1920.9" y1="558.41" x2="1926.1" y2="558.41" stroke="#000" stroke-width="2.4"/>
<circle cx="1923.5" cy="549.6" r="4.6" fill="#000"/>
<line x1="1932.05" y1="555.97" x2="1932.05" y2="567.98" stroke="#000" stroke-width="2.1"/>
<line x1="1929.45" y1="555.97" x2="1934.65" y2="555.97" stroke="#000" stroke-width="2.4"/>
<line x1="1929.45" y1="567.98" x2="1934.65" y2="567.98" stroke="#000" stroke-width="2.4"/>
<circle cx="1932.05" cy="561.98" r="4.6" fill="#000"/>
<line x1="1940.6" y1="568.17" x2="1940.6" y2="575.67" stroke="#000" stroke-width="2.1"/>
<line x1="1938" y1="568.17" x2="1943.2" y2="568.17" stroke="#000" stroke-width="2.4"/>
<line x1="1938" y1="575.67" x2="1943.2" y2="575.67" stroke="#000" stroke-width="2.4"/>
<circle cx="1940.6" cy="571.92" r="4.6" fill="#000"/>
<line x1="1949.15" y1="547.91" x2="1949.15" y2="566.67" stroke="#000" stroke-width="2.1"/>
<line x1="1946.55" y1="547.91" x2="1951.75" y2="547.91" stroke="#000" stroke-width="2.4"/>
<line x1="1946.55" y1="566.67" x2="1951.75" y2="566.67" stroke="#000" stroke-width="2.4"/>
<circle cx="1949.15" cy="557.29" r="4.6" fill="#000"/>
<text transform="translate(1600.9,482) rotate(-90) scale(1.0,1)" font-size="23.2" text-anchor="middle" fill="#000" stroke="#000" stroke-width="0.35">Total motion (A.U.)</text>
<line x1="1667" y1="820.86" x2="1966.2" y2="820.86" stroke="#a6a6a6" stroke-width="1.5"/>
<line x1="1667" y1="783.32" x2="1966.2" y2="783.32" stroke="#a6a6a6" stroke-width="1.5"/>
<line x1="1667" y1="745.78" x2="1966.2" y2="745.78" stroke="#a6a6a6" stroke-width="1.5"/>
<line x1="1667" y1="708.24" x2="1966.2" y2="708.24" stroke="#a6a6a6" stroke-width="1.5"/>
<line x1="1667" y1="670.7" x2="1966.2" y2="670.7" stroke="#a6a6a6" stroke-width="1.5"/>
<text transform="translate(1651.5,864.16) scale(1.03,1)" font-size="16" text-anchor="end" fill="#000" stroke="#000" stroke-width="0.35">0</text>
<text transform="translate(1651.5,826.62) scale(1.03,1)" font-size="16" text-anchor="end" fill="#000" stroke="#000" stroke-width="0.35">200</text>
<text transform="translate(1651.5,789.08) scale(1.03,1)" font-size="16" text-anchor="end" fill="#000" stroke="#000" stroke-width="0.35">400</text>
<text transform="translate(1651.5,751.54) scale(1.03,1)" font-size="16" text-anchor="end" fill="#000" stroke="#000" stroke-width="0.35">600</text>
<text transform="translate(1651.5,714) scale(1.03,1)" font-size="16" text-anchor="end" fill="#000" stroke="#000" stroke-width="0.35">800</text>
<text transform="translate(1651.5,676.46) scale(1.03,1)" font-size="16" text-anchor="end" fill="#000" stroke="#000" stroke-width="0.35">1000</text>
<line x1="1667" y1="670.2" x2="1667" y2="859.6" stroke="#000" stroke-width="2.6"/>
<line x1="1665.7" y1="858.4" x2="1966.7" y2="858.4" stroke="#000" stroke-width="2.6"/>
<line x1="1675.55" y1="858.4" x2="1675.55" y2="861.6" stroke="#000" stroke-width="1.8"/>
<line x1="1684.1" y1="858.4" x2="1684.1" y2="861.6" stroke="#000" stroke-width="1.8"/>
<line x1="1692.65" y1="858.4" x2="1692.65" y2="861.6" stroke="#000" stroke-width="1.8"/>
<line x1="1701.2" y1="858.4" x2="1701.2" y2="861.6" stroke="#000" stroke-width="1.8"/>
<line x1="1709.75" y1="858.4" x2="1709.75" y2="861.6" stroke="#000" stroke-width="1.8"/>
<line x1="1718.3" y1="858.4" x2="1718.3" y2="861.6" stroke="#000" stroke-width="1.8"/>
<line x1="1726.85" y1="858.4" x2="1726.85" y2="861.6" stroke="#000" stroke-width="1.8"/>
<line x1="1735.4" y1="858.4" x2="1735.4" y2="861.6" stroke="#000" stroke-width="1.8"/>
<line x1="1743.95" y1="858.4" x2="1743.95" y2="861.6" stroke="#000" stroke-width="1.8"/>
<line x1="1752.5" y1="858.4" x2="1752.5" y2="861.6" stroke="#000" stroke-width="1.8"/>
<line x1="1761.05" y1="858.4" x2="1761.05" y2="861.6" stroke="#000" stroke-width="1.8"/>
<line x1="1769.6" y1="858.4" x2="1769.6" y2="861.6" stroke="#000" stroke-width="1.8"/>
<line x1="1778.15" y1="858.4" x2="1778.15" y2="861.6" stroke="#000" stroke-width="1.8"/>
<line x1="1786.7" y1="858.4" x2="1786.7" y2="861.6" stroke="#000" stroke-width="1.8"/>
<line x1="1795.25" y1="858.4" x2="1795.25" y2="861.6" stroke="#000" stroke-width="1.8"/>
<line x1="1803.8" y1="858.4" x2="1803.8" y2="861.6" stroke="#000" stroke-width="1.8"/>
<line x1="1812.35" y1="858.4" x2="1812.35" y2="861.6" stroke="#000" stroke-width="1.8"/>
<line x1="1820.9" y1="858.4" x2="1820.9" y2="861.6" stroke="#000" stroke-width="1.8"/>
<line x1="1829.45" y1="858.4" x2="1829.45" y2="861.6" stroke="#000" stroke-width="1.8"/>
<line x1="1838" y1="858.4" x2="1838" y2="861.6" stroke="#000" stroke-width="1.8"/>
<line x1="1846.55" y1="858.4" x2="1846.55" y2="861.6" stroke="#000" stroke-width="1.8"/>
<line x1="1855.1" y1="858.4" x2="1855.1" y2="861.6" stroke="#000" stroke-width="1.8"/>
<line x1="1863.65" y1="858.4" x2="1863.65" y2="861.6" stroke="#000" stroke-width="1.8"/>
<line x1="1872.2" y1="858.4" x2="1872.2" y2="861.6" stroke="#000" stroke-width="1.8"/>
<line x1="1880.75" y1="858.4" x2="1880.75" y2="861.6" stroke="#000" stroke-width="1.8"/>
<line x1="1889.3" y1="858.4" x2="1889.3" y2="861.6" stroke="#000" stroke-width="1.8"/>
<line x1="1897.85" y1="858.4" x2="1897.85" y2="861.6" stroke="#000" stroke-width="1.8"/>
<line x1="1906.4" y1="858.4" x2="1906.4" y2="861.6" stroke="#000" stroke-width="1.8"/>
<line x1="1914.95" y1="858.4" x2="1914.95" y2="861.6" stroke="#000" stroke-width="1.8"/>
<line x1="1923.5" y1="858.4" x2="1923.5" y2="861.6" stroke="#000" stroke-width="1.8"/>
<line x1="1932.05" y1="858.4" x2="1932.05" y2="861.6" stroke="#000" stroke-width="1.8"/>
<line x1="1940.6" y1="858.4" x2="1940.6" y2="861.6" stroke="#000" stroke-width="1.8"/>
<line x1="1949.15" y1="858.4" x2="1949.15" y2="861.6" stroke="#000" stroke-width="1.8"/>
<line x1="1957.7" y1="858.4" x2="1957.7" y2="861.6" stroke="#000" stroke-width="1.8"/>
<line x1="1966.25" y1="858.4" x2="1966.25" y2="861.6" stroke="#000" stroke-width="1.8"/>
<polyline points="1675.55,750.1 1684.1,757.61 1692.65,748.22 1701.2,760.61 1709.75,762.86" fill="none" stroke="#000" stroke-width="2.3" stroke-linejoin="round"/>
<polyline points="1726.85,798.34 1735.4,831.56 1743.95,839.63 1752.5,846.76 1761.05,840.57" fill="none" stroke="#000" stroke-width="2.3" stroke-linejoin="round"/>
<polyline points="1778.15,834.37 1786.7,837 1795.25,815.04 1803.8,813.73 1812.35,818.8" fill="none" stroke="#000" stroke-width="2.3" stroke-linejoin="round"/>
<polyline points="1829.45,812.98 1838,825.36 1846.55,837 1855.1,832.87 1863.65,841.51 1872.2,843.2 1880.75,849.2 1889.3,850.7 1897.85,834.37 1906.4,843.57 1914.95,838.69 1923.5,847.14 1932.05,840.01 1940.6,843.57 1949.15,843.57" fill="none" stroke="#000" stroke-width="2.3" stroke-linejoin="round"/>
<line x1="1675.55" y1="742.59" x2="1675.55" y2="757.61" stroke="#000" stroke-width="2.1"/>
<line x1="1672.95" y1="742.59" x2="1678.15" y2="742.59" stroke="#000" stroke-width="2.4"/>
<line x1="1672.95" y1="757.61" x2="1678.15" y2="757.61" stroke="#000" stroke-width="2.4"/>
<circle cx="1675.55" cy="750.1" r="4.6" fill="#000"/>
<line x1="1684.1" y1="746.91" x2="1684.1" y2="768.3" stroke="#000" stroke-width="2.1"/>
<line x1="1681.5" y1="746.91" x2="1686.7" y2="746.91" stroke="#000" stroke-width="2.4"/>
<line x1="1681.5" y1="768.3" x2="1686.7" y2="768.3" stroke="#000" stroke-width="2.4"/>
<circle cx="1684.1" cy="757.61" r="4.6" fill="#000"/>
<line x1="1692.65" y1="738.27" x2="1692.65" y2="758.17" stroke="#000" stroke-width="2.1"/>
<line x1="1690.05" y1="738.27" x2="1695.25" y2="738.27" stroke="#000" stroke-width="2.4"/>
<line x1="1690.05" y1="758.17" x2="1695.25" y2="758.17" stroke="#000" stroke-width="2.4"/>
<circle cx="1692.65" cy="748.22" r="4.6" fill="#000"/>
<line x1="1701.2" y1="748.97" x2="1701.2" y2="772.25" stroke="#000" stroke-width="2.1"/>
<line x1="1698.6" y1="748.97" x2="1703.8" y2="748.97" stroke="#000" stroke-width="2.4"/>
<line x1="1698.6" y1="772.25" x2="1703.8" y2="772.25" stroke="#000" stroke-width="2.4"/>
<circle cx="1701.2" cy="760.61" r="4.6" fill="#000"/>
<line x1="1709.75" y1="755.35" x2="1709.75" y2="770.37" stroke="#000" stroke-width="2.1"/>
<line x1="1707.15" y1="755.35" x2="1712.35" y2="755.35" stroke="#000" stroke-width="2.4"/>
<line x1="1707.15" y1="770.37" x2="1712.35" y2="770.37" stroke="#000" stroke-width="2.4"/>
<circle cx="1709.75" cy="762.86" r="4.6" fill="#000"/>
<line x1="1726.85" y1="791.77" x2="1726.85" y2="804.91" stroke="#000" stroke-width="2.1"/>
<line x1="1724.25" y1="791.77" x2="1729.45" y2="791.77" stroke="#000" stroke-width="2.4"/>
<line x1="1724.25" y1="804.91" x2="1729.45" y2="804.91" stroke="#000" stroke-width="2.4"/>
<circle cx="1726.85" cy="798.34" r="4.6" fill="#000"/>
<line x1="1735.4" y1="824.99" x2="1735.4" y2="838.13" stroke="#000" stroke-width="2.1"/>
<line x1="1732.8" y1="824.99" x2="1738" y2="824.99" stroke="#000" stroke-width="2.4"/>
<line x1="1732.8" y1="838.13" x2="1738" y2="838.13" stroke="#000" stroke-width="2.4"/>
<circle cx="1735.4" cy="831.56" r="4.6" fill="#000"/>
<line x1="1743.95" y1="833.44" x2="1743.95" y2="845.82" stroke="#000" stroke-width="2.1"/>
<line x1="1741.35" y1="833.44" x2="1746.55" y2="833.44" stroke="#000" stroke-width="2.4"/>
<line x1="1741.35" y1="845.82" x2="1746.55" y2="845.82" stroke="#000" stroke-width="2.4"/>
<circle cx="1743.95" cy="839.63" r="4.6" fill="#000"/>
<line x1="1752.5" y1="842.07" x2="1752.5" y2="851.46" stroke="#000" stroke-width="2.1"/>
<line x1="1749.9" y1="842.07" x2="1755.1" y2="842.07" stroke="#000" stroke-width="2.4"/>
<line x1="1749.9" y1="851.46" x2="1755.1" y2="851.46" stroke="#000" stroke-width="2.4"/>
<circle cx="1752.5" cy="846.76" r="4.6" fill="#000"/>
<line x1="1761.05" y1="834.37" x2="1761.05" y2="846.76" stroke="#000" stroke-width="2.1"/>
<line x1="1758.45" y1="834.37" x2="1763.65" y2="834.37" stroke="#000" stroke-width="2.4"/>
<line x1="1758.45" y1="846.76" x2="1763.65" y2="846.76" stroke="#000" stroke-width="2.4"/>
<circle cx="1761.05" cy="840.57" r="4.6" fill="#000"/>
<line x1="1778.15" y1="827.62" x2="1778.15" y2="841.13" stroke="#000" stroke-width="2.1"/>
<line x1="1775.55" y1="827.62" x2="1780.75" y2="827.62" stroke="#000" stroke-width="2.4"/>
<line x1="1775.55" y1="841.13" x2="1780.75" y2="841.13" stroke="#000" stroke-width="2.4"/>
<circle cx="1778.15" cy="834.37" r="4.6" fill="#000"/>
<line x1="1786.7" y1="828.74" x2="1786.7" y2="845.26" stroke="#000" stroke-width="2.1"/>
<line x1="1784.1" y1="828.74" x2="1789.3" y2="828.74" stroke="#000" stroke-width="2.4"/>
<line x1="1784.1" y1="845.26" x2="1789.3" y2="845.26" stroke="#000" stroke-width="2.4"/>
<circle cx="1786.7" cy="837" r="4.6" fill="#000"/>
<line x1="1795.25" y1="801.34" x2="1795.25" y2="828.74" stroke="#000" stroke-width="2.1"/>
<line x1="1792.65" y1="801.34" x2="1797.85" y2="801.34" stroke="#000" stroke-width="2.4"/>
<line x1="1792.65" y1="828.74" x2="1797.85" y2="828.74" stroke="#000" stroke-width="2.4"/>
<circle cx="1795.25" cy="815.04" r="4.6" fill="#000"/>
<line x1="1803.8" y1="797.96" x2="1803.8" y2="829.49" stroke="#000" stroke-width="2.1"/>
<line x1="1801.2" y1="797.96" x2="1806.4" y2="797.96" stroke="#000" stroke-width="2.4"/>
<line x1="1801.2" y1="829.49" x2="1806.4" y2="829.49" stroke="#000" stroke-width="2.4"/>
<circle cx="1803.8" cy="813.73" r="4.6" fill="#000"/>
<line x1="1812.35" y1="801.34" x2="1812.35" y2="836.25" stroke="#000" stroke-width="2.1"/>
<line x1="1809.75" y1="801.34" x2="1814.95" y2="801.34" stroke="#000" stroke-width="2.4"/>
<line x1="1809.75" y1="836.25" x2="1814.95" y2="836.25" stroke="#000" stroke-width="2.4"/>
<circle cx="1812.35" cy="818.8" r="4.6" fill="#000"/>
<line x1="1829.45" y1="797.02" x2="1829.45" y2="828.93" stroke="#000" stroke-width="2.1"/>
<line x1="1826.85" y1="797.02" x2="1832.05" y2="797.02" stroke="#000" stroke-width="2.4"/>
<line x1="1826.85" y1="828.93" x2="1832.05" y2="828.93" stroke="#000" stroke-width="2.4"/>
<circle cx="1829.45" cy="812.98" r="4.6" fill="#000"/>
<line x1="1838" y1="814.48" x2="1838" y2="836.25" stroke="#000" stroke-width="2.1"/>
<line x1="1835.4" y1="814.48" x2="1840.6" y2="814.48" stroke="#000" stroke-width="2.4"/>
<line x1="1835.4" y1="836.25" x2="1840.6" y2="836.25" stroke="#000" stroke-width="2.4"/>
<circle cx="1838" cy="825.36" r="4.6" fill="#000"/>
<line x1="1846.55" y1="829.68" x2="1846.55" y2="844.32" stroke="#000" stroke-width="2.1"/>
<line x1="1843.95" y1="829.68" x2="1849.15" y2="829.68" stroke="#000" stroke-width="2.4"/>
<line x1="1843.95" y1="844.32" x2="1849.15" y2="844.32" stroke="#000" stroke-width="2.4"/>
<circle cx="1846.55" cy="837" r="4.6" fill="#000"/>
<line x1="1855.1" y1="825.93" x2="1855.1" y2="839.82" stroke="#000" stroke-width="2.1"/>
<line x1="1852.5" y1="825.93" x2="1857.7" y2="825.93" stroke="#000" stroke-width="2.4"/>
<line x1="1852.5" y1="839.82" x2="1857.7" y2="839.82" stroke="#000" stroke-width="2.4"/>
<circle cx="1855.1" cy="832.87" r="4.6" fill="#000"/>
<line x1="1863.65" y1="836.81" x2="1863.65" y2="846.2" stroke="#000" stroke-width="2.1"/>
<line x1="1861.05" y1="836.81" x2="1866.25" y2="836.81" stroke="#000" stroke-width="2.4"/>
<line x1="1861.05" y1="846.2" x2="1866.25" y2="846.2" stroke="#000" stroke-width="2.4"/>
<circle cx="1863.65" cy="841.51" r="4.6" fill="#000"/>
<line x1="1872.2" y1="834.94" x2="1872.2" y2="851.46" stroke="#000" stroke-width="2.1"/>
<line x1="1869.6" y1="834.94" x2="1874.8" y2="834.94" stroke="#000" stroke-width="2.4"/>
<line x1="1869.6" y1="851.46" x2="1874.8" y2="851.46" stroke="#000" stroke-width="2.4"/>
<circle cx="1872.2" cy="843.2" r="4.6" fill="#000"/>
<line x1="1880.75" y1="845.45" x2="1880.75" y2="852.96" stroke="#000" stroke-width="2.1"/>
<line x1="1878.15" y1="845.45" x2="1883.35" y2="845.45" stroke="#000" stroke-width="2.4"/>
<line x1="1878.15" y1="852.96" x2="1883.35" y2="852.96" stroke="#000" stroke-width="2.4"/>
<circle cx="1880.75" cy="849.2" r="4.6" fill="#000"/>
<line x1="1889.3" y1="846.95" x2="1889.3" y2="854.46" stroke="#000" stroke-width="2.1"/>
<line x1="1886.7" y1="846.95" x2="1891.9" y2="846.95" stroke="#000" stroke-width="2.4"/>
<line x1="1886.7" y1="854.46" x2="1891.9" y2="854.46" stroke="#000" stroke-width="2.4"/>
<circle cx="1889.3" cy="850.7" r="4.6" fill="#000"/>
<line x1="1897.85" y1="823.68" x2="1897.85" y2="845.07" stroke="#000" stroke-width="2.1"/>
<line x1="1895.25" y1="823.68" x2="1900.45" y2="823.68" stroke="#000" stroke-width="2.4"/>
<line x1="1895.25" y1="845.07" x2="1900.45" y2="845.07" stroke="#000" stroke-width="2.4"/>
<circle cx="1897.85" cy="834.37" r="4.6" fill="#000"/>
<line x1="1906.4" y1="836.81" x2="1906.4" y2="850.33" stroke="#000" stroke-width="2.1"/>
<line x1="1903.8" y1="836.81" x2="1909" y2="836.81" stroke="#000" stroke-width="2.4"/>
<line x1="1903.8" y1="850.33" x2="1909" y2="850.33" stroke="#000" stroke-width="2.4"/>
<circle cx="1906.4" cy="843.57" r="4.6" fill="#000"/>
<line x1="1914.95" y1="834.94" x2="1914.95" y2="842.45" stroke="#000" stroke-width="2.1"/>
<line x1="1912.35" y1="834.94" x2="1917.55" y2="834.94" stroke="#000" stroke-width="2.4"/>
<line x1="1912.35" y1="842.45" x2="1917.55" y2="842.45" stroke="#000" stroke-width="2.4"/>
<circle cx="1914.95" cy="838.69" r="4.6" fill="#000"/>
<line x1="1923.5" y1="843.76" x2="1923.5" y2="850.52" stroke="#000" stroke-width="2.1"/>
<line x1="1920.9" y1="843.76" x2="1926.1" y2="843.76" stroke="#000" stroke-width="2.4"/>
<line x1="1920.9" y1="850.52" x2="1926.1" y2="850.52" stroke="#000" stroke-width="2.4"/>
<circle cx="1923.5" cy="847.14" r="4.6" fill="#000"/>
<line x1="1932.05" y1="836.63" x2="1932.05" y2="843.38" stroke="#000" stroke-width="2.1"/>
<line x1="1929.45" y1="836.63" x2="1934.65" y2="836.63" stroke="#000" stroke-width="2.4"/>
<line x1="1929.45" y1="843.38" x2="1934.65" y2="843.38" stroke="#000" stroke-width="2.4"/>
<circle cx="1932.05" cy="840.01" r="4.6" fill="#000"/>
<line x1="1940.6" y1="837.75" x2="1940.6" y2="849.39" stroke="#000" stroke-width="2.1"/>
<line x1="1938" y1="837.75" x2="1943.2" y2="837.75" stroke="#000" stroke-width="2.4"/>
<line x1="1938" y1="849.39" x2="1943.2" y2="849.39" stroke="#000" stroke-width="2.4"/>
<circle cx="1940.6" cy="843.57" r="4.6" fill="#000"/>
<line x1="1949.15" y1="837.38" x2="1949.15" y2="849.77" stroke="#000" stroke-width="2.1"/>
<line x1="1946.55" y1="837.38" x2="1951.75" y2="837.38" stroke="#000" stroke-width="2.4"/>
<line x1="1946.55" y1="849.77" x2="1951.75" y2="849.77" stroke="#000" stroke-width="2.4"/>
<circle cx="1949.15" cy="843.57" r="4.6" fill="#000"/>
<text transform="translate(1600.9,759.05) rotate(-90) scale(1.0,1)" font-size="23.2" text-anchor="middle" fill="#000" stroke="#000" stroke-width="0.35">Total motion (A.U.)</text>
<line x1="1667" y1="1100.28" x2="1966.2" y2="1100.28" stroke="#a6a6a6" stroke-width="1.5"/>
<line x1="1667" y1="1062.66" x2="1966.2" y2="1062.66" stroke="#a6a6a6" stroke-width="1.5"/>
<line x1="1667" y1="1025.04" x2="1966.2" y2="1025.04" stroke="#a6a6a6" stroke-width="1.5"/>
<line x1="1667" y1="987.42" x2="1966.2" y2="987.42" stroke="#a6a6a6" stroke-width="1.5"/>
<line x1="1667" y1="949.8" x2="1966.2" y2="949.8" stroke="#a6a6a6" stroke-width="1.5"/>
<text transform="translate(1651.5,1143.66) scale(1.03,1)" font-size="16" text-anchor="end" fill="#000" stroke="#000" stroke-width="0.35">0</text>
<text transform="translate(1651.5,1106.04) scale(1.03,1)" font-size="16" text-anchor="end" fill="#000" stroke="#000" stroke-width="0.35">200</text>
<text transform="translate(1651.5,1068.42) scale(1.03,1)" font-size="16" text-anchor="end" fill="#000" stroke="#000" stroke-width="0.35">400</text>
<text transform="translate(1651.5,1030.8) scale(1.03,1)" font-size="16" text-anchor="end" fill="#000" stroke="#000" stroke-width="0.35">600</text>
<text transform="translate(1651.5,993.18) scale(1.03,1)" font-size="16" text-anchor="end" fill="#000" stroke="#000" stroke-width="0.35">800</text>
<text transform="translate(1651.5,955.56) scale(1.03,1)" font-size="16" text-anchor="end" fill="#000" stroke="#000" stroke-width="0.35">1000</text>
<line x1="1667" y1="949.3" x2="1667" y2="1139.1" stroke="#000" stroke-width="2.6"/>
<line x1="1665.7" y1="1137.9" x2="1966.7" y2="1137.9" stroke="#000" stroke-width="2.6"/>
<line x1="1675.55" y1="1137.9" x2="1675.55" y2="1141.1" stroke="#000" stroke-width="1.8"/>
<line x1="1684.1" y1="1137.9" x2="1684.1" y2="1141.1" stroke="#000" stroke-width="1.8"/>
<line x1="1692.65" y1="1137.9" x2="1692.65" y2="1141.1" stroke="#000" stroke-width="1.8"/>
<line x1="1701.2" y1="1137.9" x2="1701.2" y2="1141.1" stroke="#000" stroke-width="1.8"/>
<line x1="1709.75" y1="1137.9" x2="1709.75" y2="1141.1" stroke="#000" stroke-width="1.8"/>
<line x1="1718.3" y1="1137.9" x2="1718.3" y2="1141.1" stroke="#000" stroke-width="1.8"/>
<line x1="1726.85" y1="1137.9" x2="1726.85" y2="1141.1" stroke="#000" stroke-width="1.8"/>
<line x1="1735.4" y1="1137.9" x2="1735.4" y2="1141.1" stroke="#000" stroke-width="1.8"/>
<line x1="1743.95" y1="1137.9" x2="1743.95" y2="1141.1" stroke="#000" stroke-width="1.8"/>
<line x1="1752.5" y1="1137.9" x2="1752.5" y2="1141.1" stroke="#000" stroke-width="1.8"/>
<line x1="1761.05" y1="1137.9" x2="1761.05" y2="1141.1" stroke="#000" stroke-width="1.8"/>
<line x1="1769.6" y1="1137.9" x2="1769.6" y2="1141.1" stroke="#000" stroke-width="1.8"/>
<line x1="1778.15" y1="1137.9" x2="1778.15" y2="1141.1" stroke="#000" stroke-width="1.8"/>
<line x1="1786.7" y1="1137.9" x2="1786.7" y2="1141.1" stroke="#000" stroke-width="1.8"/>
<line x1="1795.25" y1="1137.9" x2="1795.25" y2="1141.1" stroke="#000" stroke-width="1.8"/>
<line x1="1803.8" y1="1137.9" x2="1803.8" y2="1141.1" stroke="#000" stroke-width="1.8"/>
<line x1="1812.35" y1="1137.9" x2="1812.35" y2="1141.1" stroke="#000" stroke-width="1.8"/>
<line x1="1820.9" y1="1137.9" x2="1820.9" y2="1141.1" stroke="#000" stroke-width="1.8"/>
<line x1="1829.45" y1="1137.9" x2="1829.45" y2="1141.1" stroke="#000" stroke-width="1.8"/>
<line x1="1838" y1="1137.9" x2="1838" y2="1141.1" stroke="#000" stroke-width="1.8"/>
<line x1="1846.55" y1="1137.9" x2="1846.55" y2="1141.1" stroke="#000" stroke-width="1.8"/>
<line x1="1855.1" y1="1137.9" x2="1855.1" y2="1141.1" stroke="#000" stroke-width="1.8"/>
<line x1="1863.65" y1="1137.9" x2="1863.65" y2="1141.1" stroke="#000" stroke-width="1.8"/>
<line x1="1872.2" y1="1137.9" x2="1872.2" y2="1141.1" stroke="#000" stroke-width="1.8"/>
<line x1="1880.75" y1="1137.9" x2="1880.75" y2="1141.1" stroke="#000" stroke-width="1.8"/>
<line x1="1889.3" y1="1137.9" x2="1889.3" y2="1141.1" stroke="#000" stroke-width="1.8"/>
<line x1="1897.85" y1="1137.9" x2="1897.85" y2="1141.1" stroke="#000" stroke-width="1.8"/>
<line x1="1906.4" y1="1137.9" x2="1906.4" y2="1141.1" stroke="#000" stroke-width="1.8"/>
<line x1="1914.95" y1="1137.9" x2="1914.95" y2="1141.1" stroke="#000" stroke-width="1.8"/>
<line x1="1923.5" y1="1137.9" x2="1923.5" y2="1141.1" stroke="#000" stroke-width="1.8"/>
<line x1="1932.05" y1="1137.9" x2="1932.05" y2="1141.1" stroke="#000" stroke-width="1.8"/>
<line x1="1940.6" y1="1137.9" x2="1940.6" y2="1141.1" stroke="#000" stroke-width="1.8"/>
<line x1="1949.15" y1="1137.9" x2="1949.15" y2="1141.1" stroke="#000" stroke-width="1.8"/>
<line x1="1957.7" y1="1137.9" x2="1957.7" y2="1141.1" stroke="#000" stroke-width="1.8"/>
<line x1="1966.25" y1="1137.9" x2="1966.25" y2="1141.1" stroke="#000" stroke-width="1.8"/>
<polyline points="1675.55,1044.41 1684.1,1047.8 1692.65,1047.42 1701.2,1051 1709.75,1054.2" fill="none" stroke="#000" stroke-width="2.3" stroke-linejoin="round"/>
<polyline points="1726.85,1080.53 1735.4,1103.1 1743.95,1127.74 1752.5,1127.74 1761.05,1116.08" fill="none" stroke="#000" stroke-width="2.3" stroke-linejoin="round"/>
<polyline points="1778.15,1132.26 1786.7,1112.88 1795.25,1111.38 1803.8,1114.95 1812.35,1123.23" fill="none" stroke="#000" stroke-width="2.3" stroke-linejoin="round"/>
<polyline points="1829.45,1108.56 1838,1123.79 1846.55,1118.34 1855.1,1120.59 1863.65,1125.11 1872.2,1113.07 1880.75,1125.86 1889.3,1121.16 1897.85,1127.74 1906.4,1129.25 1914.95,1123.23 1923.5,1118.34 1932.05,1121.16 1940.6,1124.73 1949.15,1124.73" fill="none" stroke="#000" stroke-width="2.3" stroke-linejoin="round"/>
<line x1="1675.55" y1="1031.81" x2="1675.55" y2="1057.02" stroke="#000" stroke-width="2.1"/>
<line x1="1672.95" y1="1031.81" x2="1678.15" y2="1031.81" stroke="#000" stroke-width="2.4"/>
<line x1="1672.95" y1="1057.02" x2="1678.15" y2="1057.02" stroke="#000" stroke-width="2.4"/>
<circle cx="1675.55" cy="1044.41" r="4.6" fill="#000"/>
<line x1="1684.1" y1="1038.02" x2="1684.1" y2="1057.58" stroke="#000" stroke-width="2.1"/>
<line x1="1681.5" y1="1038.02" x2="1686.7" y2="1038.02" stroke="#000" stroke-width="2.4"/>
<line x1="1681.5" y1="1057.58" x2="1686.7" y2="1057.58" stroke="#000" stroke-width="2.4"/>
<circle cx="1684.1" cy="1047.8" r="4.6" fill="#000"/>
<line x1="1692.65" y1="1041.22" x2="1692.65" y2="1053.63" stroke="#000" stroke-width="2.1"/>
<line x1="1690.05" y1="1041.22" x2="1695.25" y2="1041.22" stroke="#000" stroke-width="2.4"/>
<line x1="1690.05" y1="1053.63" x2="1695.25" y2="1053.63" stroke="#000" stroke-width="2.4"/>
<circle cx="1692.65" cy="1047.42" r="4.6" fill="#000"/>
<line x1="1701.2" y1="1043.1" x2="1701.2" y2="1058.9" stroke="#000" stroke-width="2.1"/>
<line x1="1698.6" y1="1043.1" x2="1703.8" y2="1043.1" stroke="#000" stroke-width="2.4"/>
<line x1="1698.6" y1="1058.9" x2="1703.8" y2="1058.9" stroke="#000" stroke-width="2.4"/>
<circle cx="1701.2" cy="1051" r="4.6" fill="#000"/>
<line x1="1709.75" y1="1048.93" x2="1709.75" y2="1059.46" stroke="#000" stroke-width="2.1"/>
<line x1="1707.15" y1="1048.93" x2="1712.35" y2="1048.93" stroke="#000" stroke-width="2.4"/>
<line x1="1707.15" y1="1059.46" x2="1712.35" y2="1059.46" stroke="#000" stroke-width="2.4"/>
<circle cx="1709.75" cy="1054.2" r="4.6" fill="#000"/>
<line x1="1726.85" y1="1077.71" x2="1726.85" y2="1083.35" stroke="#000" stroke-width="2.1"/>
<line x1="1724.25" y1="1077.71" x2="1729.45" y2="1077.71" stroke="#000" stroke-width="2.4"/>
<line x1="1724.25" y1="1083.35" x2="1729.45" y2="1083.35" stroke="#000" stroke-width="2.4"/>
<circle cx="1726.85" cy="1080.53" r="4.6" fill="#000"/>
<line x1="1735.4" y1="1095.01" x2="1735.4" y2="1111.19" stroke="#000" stroke-width="2.1"/>
<line x1="1732.8" y1="1095.01" x2="1738" y2="1095.01" stroke="#000" stroke-width="2.4"/>
<line x1="1732.8" y1="1111.19" x2="1738" y2="1111.19" stroke="#000" stroke-width="2.4"/>
<circle cx="1735.4" cy="1103.1" r="4.6" fill="#000"/>
<line x1="1743.95" y1="1124.92" x2="1743.95" y2="1130.56" stroke="#000" stroke-width="2.1"/>
<line x1="1741.35" y1="1124.92" x2="1746.55" y2="1124.92" stroke="#000" stroke-width="2.4"/>
<line x1="1741.35" y1="1130.56" x2="1746.55" y2="1130.56" stroke="#000" stroke-width="2.4"/>
<circle cx="1743.95" cy="1127.74" r="4.6" fill="#000"/>
<line x1="1752.5" y1="1124.92" x2="1752.5" y2="1130.56" stroke="#000" stroke-width="2.1"/>
<line x1="1749.9" y1="1124.92" x2="1755.1" y2="1124.92" stroke="#000" stroke-width="2.4"/>
<line x1="1749.9" y1="1130.56" x2="1755.1" y2="1130.56" stroke="#000" stroke-width="2.4"/>
<circle cx="1752.5" cy="1127.74" r="4.6" fill="#000"/>
<line x1="1761.05" y1="1108.93" x2="1761.05" y2="1123.23" stroke="#000" stroke-width="2.1"/>
<line x1="1758.45" y1="1108.93" x2="1763.65" y2="1108.93" stroke="#000" stroke-width="2.4"/>
<line x1="1758.45" y1="1123.23" x2="1763.65" y2="1123.23" stroke="#000" stroke-width="2.4"/>
<circle cx="1761.05" cy="1116.08" r="4.6" fill="#000"/>
<line x1="1778.15" y1="1130.38" x2="1778.15" y2="1134.14" stroke="#000" stroke-width="2.1"/>
<line x1="1775.55" y1="1130.38" x2="1780.75" y2="1130.38" stroke="#000" stroke-width="2.4"/>
<line x1="1775.55" y1="1134.14" x2="1780.75" y2="1134.14" stroke="#000" stroke-width="2.4"/>
<circle cx="1778.15" cy="1132.26" r="4.6" fill="#000"/>
<line x1="1786.7" y1="1107.99" x2="1786.7" y2="1117.77" stroke="#000" stroke-width="2.1"/>
<line x1="1784.1" y1="1107.99" x2="1789.3" y2="1107.99" stroke="#000" stroke-width="2.4"/>
<line x1="1784.1" y1="1117.77" x2="1789.3" y2="1117.77" stroke="#000" stroke-width="2.4"/>
<circle cx="1786.7" cy="1112.88" r="4.6" fill="#000"/>
<line x1="1795.25" y1="1104.98" x2="1795.25" y2="1117.77" stroke="#000" stroke-width="2.1"/>
<line x1="1792.65" y1="1104.98" x2="1797.85" y2="1104.98" stroke="#000" stroke-width="2.4"/>
<line x1="1792.65" y1="1117.77" x2="1797.85" y2="1117.77" stroke="#000" stroke-width="2.4"/>
<circle cx="1795.25" cy="1111.38" r="4.6" fill="#000"/>
<line x1="1803.8" y1="1107.05" x2="1803.8" y2="1122.85" stroke="#000" stroke-width="2.1"/>
<line x1="1801.2" y1="1107.05" x2="1806.4" y2="1107.05" stroke="#000" stroke-width="2.4"/>
<line x1="1801.2" y1="1122.85" x2="1806.4" y2="1122.85" stroke="#000" stroke-width="2.4"/>
<circle cx="1803.8" cy="1114.95" r="4.6" fill="#000"/>
<line x1="1812.35" y1="1118.71" x2="1812.35" y2="1127.74" stroke="#000" stroke-width="2.1"/>
<line x1="1809.75" y1="1118.71" x2="1814.95" y2="1118.71" stroke="#000" stroke-width="2.4"/>
<line x1="1809.75" y1="1127.74" x2="1814.95" y2="1127.74" stroke="#000" stroke-width="2.4"/>
<circle cx="1812.35" cy="1123.23" r="4.6" fill="#000"/>
<line x1="1829.45" y1="1101.41" x2="1829.45" y2="1115.7" stroke="#000" stroke-width="2.1"/>
<line x1="1826.85" y1="1101.41" x2="1832.05" y2="1101.41" stroke="#000" stroke-width="2.4"/>
<line x1="1826.85" y1="1115.7" x2="1832.05" y2="1115.7" stroke="#000" stroke-width="2.4"/>
<circle cx="1829.45" cy="1108.56" r="4.6" fill="#000"/>
<line x1="1838" y1="1117.96" x2="1838" y2="1129.62" stroke="#000" stroke-width="2.1"/>
<line x1="1835.4" y1="1117.96" x2="1840.6" y2="1117.96" stroke="#000" stroke-width="2.4"/>
<line x1="1835.4" y1="1129.62" x2="1840.6" y2="1129.62" stroke="#000" stroke-width="2.4"/>
<circle cx="1838" cy="1123.79" r="4.6" fill="#000"/>
<line x1="1846.55" y1="1113.45" x2="1846.55" y2="1123.23" stroke="#000" stroke-width="2.1"/>
<line x1="1843.95" y1="1113.45" x2="1849.15" y2="1113.45" stroke="#000" stroke-width="2.4"/>
<line x1="1843.95" y1="1123.23" x2="1849.15" y2="1123.23" stroke="#000" stroke-width="2.4"/>
<circle cx="1846.55" cy="1118.34" r="4.6" fill="#000"/>
<line x1="1855.1" y1="1114.39" x2="1855.1" y2="1126.8" stroke="#000" stroke-width="2.1"/>
<line x1="1852.5" y1="1114.39" x2="1857.7" y2="1114.39" stroke="#000" stroke-width="2.4"/>
<line x1="1852.5" y1="1126.8" x2="1857.7" y2="1126.8" stroke="#000" stroke-width="2.4"/>
<circle cx="1855.1" cy="1120.59" r="4.6" fill="#000"/>
<line x1="1863.65" y1="1120.22" x2="1863.65" y2="1130" stroke="#000" stroke-width="2.1"/>
<line x1="1861.05" y1="1120.22" x2="1866.25" y2="1120.22" stroke="#000" stroke-width="2.4"/>
<line x1="1861.05" y1="1130" x2="1866.25" y2="1130" stroke="#000" stroke-width="2.4"/>
<circle cx="1863.65" cy="1125.11" r="4.6" fill="#000"/>
<line x1="1872.2" y1="1105.92" x2="1872.2" y2="1120.22" stroke="#000" stroke-width="2.1"/>
<line x1="1869.6" y1="1105.92" x2="1874.8" y2="1105.92" stroke="#000" stroke-width="2.4"/>
<line x1="1869.6" y1="1120.22" x2="1874.8" y2="1120.22" stroke="#000" stroke-width="2.4"/>
<circle cx="1872.2" cy="1113.07" r="4.6" fill="#000"/>
<line x1="1880.75" y1="1123.04" x2="1880.75" y2="1128.68" stroke="#000" stroke-width="2.1"/>
<line x1="1878.15" y1="1123.04" x2="1883.35" y2="1123.04" stroke="#000" stroke-width="2.4"/>
<line x1="1878.15" y1="1128.68" x2="1883.35" y2="1128.68" stroke="#000" stroke-width="2.4"/>
<circle cx="1880.75" cy="1125.86" r="4.6" fill="#000"/>
<line x1="1889.3" y1="1115.89" x2="1889.3" y2="1126.43" stroke="#000" stroke-width="2.1"/>
<line x1="1886.7" y1="1115.89" x2="1891.9" y2="1115.89" stroke="#000" stroke-width="2.4"/>
<line x1="1886.7" y1="1126.43" x2="1891.9" y2="1126.43" stroke="#000" stroke-width="2.4"/>
<circle cx="1889.3" cy="1121.16" r="4.6" fill="#000"/>
<line x1="1897.85" y1="1122.66" x2="1897.85" y2="1132.82" stroke="#000" stroke-width="2.1"/>
<line x1="1895.25" y1="1122.66" x2="1900.45" y2="1122.66" stroke="#000" stroke-width="2.4"/>
<line x1="1895.25" y1="1132.82" x2="1900.45" y2="1132.82" stroke="#000" stroke-width="2.4"/>
<circle cx="1897.85" cy="1127.74" r="4.6" fill="#000"/>
<line x1="1906.4" y1="1126.99" x2="1906.4" y2="1131.5" stroke="#000" stroke-width="2.1"/>
<line x1="1903.8" y1="1126.99" x2="1909" y2="1126.99" stroke="#000" stroke-width="2.4"/>
<line x1="1903.8" y1="1131.5" x2="1909" y2="1131.5" stroke="#000" stroke-width="2.4"/>
<circle cx="1906.4" cy="1129.25" r="4.6" fill="#000"/>
<line x1="1914.95" y1="1117.96" x2="1914.95" y2="1128.5" stroke="#000" stroke-width="2.1"/>
<line x1="1912.35" y1="1117.96" x2="1917.55" y2="1117.96" stroke="#000" stroke-width="2.4"/>
<line x1="1912.35" y1="1128.5" x2="1917.55" y2="1128.5" stroke="#000" stroke-width="2.4"/>
<circle cx="1914.95" cy="1123.23" r="4.6" fill="#000"/>
<line x1="1923.5" y1="1112.69" x2="1923.5" y2="1123.98" stroke="#000" stroke-width="2.1"/>
<line x1="1920.9" y1="1112.69" x2="1926.1" y2="1112.69" stroke="#000" stroke-width="2.4"/>
<line x1="1920.9" y1="1123.98" x2="1926.1" y2="1123.98" stroke="#000" stroke-width="2.4"/>
<circle cx="1923.5" cy="1118.34" r="4.6" fill="#000"/>
<line x1="1932.05" y1="1116.64" x2="1932.05" y2="1125.67" stroke="#000" stroke-width="2.1"/>
<line x1="1929.45" y1="1116.64" x2="1934.65" y2="1116.64" stroke="#000" stroke-width="2.4"/>
<line x1="1929.45" y1="1125.67" x2="1934.65" y2="1125.67" stroke="#000" stroke-width="2.4"/>
<circle cx="1932.05" cy="1121.16" r="4.6" fill="#000"/>
<line x1="1940.6" y1="1120.22" x2="1940.6" y2="1129.25" stroke="#000" stroke-width="2.1"/>
<line x1="1938" y1="1120.22" x2="1943.2" y2="1120.22" stroke="#000" stroke-width="2.4"/>
<line x1="1938" y1="1129.25" x2="1943.2" y2="1129.25" stroke="#000" stroke-width="2.4"/>
<circle cx="1940.6" cy="1124.73" r="4.6" fill="#000"/>
<line x1="1949.15" y1="1121.91" x2="1949.15" y2="1127.55" stroke="#000" stroke-width="2.1"/>
<line x1="1946.55" y1="1121.91" x2="1951.75" y2="1121.91" stroke="#000" stroke-width="2.4"/>
<line x1="1946.55" y1="1127.55" x2="1951.75" y2="1127.55" stroke="#000" stroke-width="2.4"/>
<circle cx="1949.15" cy="1124.73" r="4.6" fill="#000"/>
<text transform="translate(1600.9,1038.35) rotate(-90) scale(1.0,1)" font-size="23.2" text-anchor="middle" fill="#000" stroke="#000" stroke-width="0.35">Total motion (A.U.)</text>
<text x="1966.4" y="1168.9" font-size="22.6" text-anchor="end" fill="#000" stroke="#000" stroke-width="0.35">Trials</text>
<text transform="translate(7,1214.2) scale(0.93,1)" font-size="53" text-anchor="start" fill="#000" stroke="#000" stroke-width="0.35">B1</text>
<text transform="translate(301.5,1229.8) scale(1.05,1)" font-size="27" text-anchor="middle" fill="#000" stroke="#000" stroke-width="0.35">Freezing</text>
<text transform="translate(154.6,1264.5) scale(1.05,1)" font-size="19" text-anchor="start" fill="#000" stroke="#000" stroke-width="0.35">Day1</text>
<line x1="154.6" y1="1269.5" x2="199.2" y2="1269.5" stroke="#000" stroke-width="3.0"/>
<text transform="translate(208,1264.5) scale(1.05,1)" font-size="19" text-anchor="start" fill="#000" stroke="#000" stroke-width="0.35">Day2</text>
<line x1="209.4" y1="1269.5" x2="253.1" y2="1269.5" stroke="#000" stroke-width="3.0"/>
<text transform="translate(263.3,1264.5) scale(1.05,1)" font-size="19" text-anchor="start" fill="#000" stroke="#000" stroke-width="0.35">Day3</text>
<line x1="264.1" y1="1269.5" x2="307.9" y2="1269.5" stroke="#000" stroke-width="3.0"/>
<text transform="translate(316.6,1264.5) scale(1.05,1)" font-size="19" text-anchor="start" fill="#000" stroke="#000" stroke-width="0.35">Day4</text>
<line x1="316.1" y1="1269.5" x2="453.7" y2="1269.5" stroke="#000" stroke-width="3.0"/>
<text x="6.5" y="1262.6" font-size="32" text-anchor="start" fill="#000" stroke="#000" stroke-width="0.35">Group1</text>
<line x1="6.3" y1="1265.9" x2="110.6" y2="1265.9" stroke="#000" stroke-width="1.8"/>
<line x1="150.8" y1="1441.9" x2="457.6" y2="1441.9" stroke="#a6a6a6" stroke-width="1.5"/>
<line x1="150.8" y1="1404.4" x2="457.6" y2="1404.4" stroke="#a6a6a6" stroke-width="1.5"/>
<line x1="150.8" y1="1366.9" x2="457.6" y2="1366.9" stroke="#a6a6a6" stroke-width="1.5"/>
<line x1="150.8" y1="1329.4" x2="457.6" y2="1329.4" stroke="#a6a6a6" stroke-width="1.5"/>
<line x1="150.8" y1="1291.9" x2="457.6" y2="1291.9" stroke="#a6a6a6" stroke-width="1.5"/>
<text transform="translate(135.5,1485.16) scale(1.03,1)" font-size="16" text-anchor="end" fill="#000" stroke="#000" stroke-width="0.35">0</text>
<text transform="translate(135.5,1447.66) scale(1.03,1)" font-size="16" text-anchor="end" fill="#000" stroke="#000" stroke-width="0.35">20</text>
<text transform="translate(135.5,1410.16) scale(1.03,1)" font-size="16" text-anchor="end" fill="#000" stroke="#000" stroke-width="0.35">40</text>
<text transform="translate(135.5,1372.66) scale(1.03,1)" font-size="16" text-anchor="end" fill="#000" stroke="#000" stroke-width="0.35">60</text>
<text transform="translate(135.5,1335.16) scale(1.03,1)" font-size="16" text-anchor="end" fill="#000" stroke="#000" stroke-width="0.35">80</text>
<text transform="translate(135.5,1297.66) scale(1.03,1)" font-size="16" text-anchor="end" fill="#000" stroke="#000" stroke-width="0.35">100</text>
<line x1="150.8" y1="1291.4" x2="150.8" y2="1480.6" stroke="#000" stroke-width="2.6"/>
<line x1="149.5" y1="1479.4" x2="458.1" y2="1479.4" stroke="#000" stroke-width="2.6"/>
<line x1="159.8" y1="1479.4" x2="159.8" y2="1482.6" stroke="#000" stroke-width="1.8"/>
<line x1="168.8" y1="1479.4" x2="168.8" y2="1482.6" stroke="#000" stroke-width="1.8"/>
<line x1="177.8" y1="1479.4" x2="177.8" y2="1482.6" stroke="#000" stroke-width="1.8"/>
<line x1="186.8" y1="1479.4" x2="186.8" y2="1482.6" stroke="#000" stroke-width="1.8"/>
<line x1="195.8" y1="1479.4" x2="195.8" y2="1482.6" stroke="#000" stroke-width="1.8"/>
<line x1="204.8" y1="1479.4" x2="204.8" y2="1482.6" stroke="#000" stroke-width="1.8"/>
<line x1="213.8" y1="1479.4" x2="213.8" y2="1482.6" stroke="#000" stroke-width="1.8"/>
<line x1="222.8" y1="1479.4" x2="222.8" y2="1482.6" stroke="#000" stroke-width="1.8"/>
<line x1="231.8" y1="1479.4" x2="231.8" y2="1482.6" stroke="#000" stroke-width="1.8"/>
<line x1="240.8" y1="1479.4" x2="240.8" y2="1482.6" stroke="#000" stroke-width="1.8"/>
<line x1="249.8" y1="1479.4" x2="249.8" y2="1482.6" stroke="#000" stroke-width="1.8"/>
<line x1="258.8" y1="1479.4" x2="258.8" y2="1482.6" stroke="#000" stroke-width="1.8"/>
<line x1="267.8" y1="1479.4" x2="267.8" y2="1482.6" stroke="#000" stroke-width="1.8"/>
<line x1="276.8" y1="1479.4" x2="276.8" y2="1482.6" stroke="#000" stroke-width="1.8"/>
<line x1="285.8" y1="1479.4" x2="285.8" y2="1482.6" stroke="#000" stroke-width="1.8"/>
<line x1="294.8" y1="1479.4" x2="294.8" y2="1482.6" stroke="#000" stroke-width="1.8"/>
<line x1="303.8" y1="1479.4" x2="303.8" y2="1482.6" stroke="#000" stroke-width="1.8"/>
<line x1="312.8" y1="1479.4" x2="312.8" y2="1482.6" stroke="#000" stroke-width="1.8"/>
<line x1="321.8" y1="1479.4" x2="321.8" y2="1482.6" stroke="#000" stroke-width="1.8"/>
<line x1="330.8" y1="1479.4" x2="330.8" y2="1482.6" stroke="#000" stroke-width="1.8"/>
<line x1="339.8" y1="1479.4" x2="339.8" y2="1482.6" stroke="#000" stroke-width="1.8"/>
<line x1="348.8" y1="1479.4" x2="348.8" y2="1482.6" stroke="#000" stroke-width="1.8"/>
<line x1="357.8" y1="1479.4" x2="357.8" y2="1482.6" stroke="#000" stroke-width="1.8"/>
<line x1="366.8" y1="1479.4" x2="366.8" y2="1482.6" stroke="#000" stroke-width="1.8"/>
<line x1="375.8" y1="1479.4" x2="375.8" y2="1482.6" stroke="#000" stroke-width="1.8"/>
<line x1="384.8" y1="1479.4" x2="384.8" y2="1482.6" stroke="#000" stroke-width="1.8"/>
<line x1="393.8" y1="1479.4" x2="393.8" y2="1482.6" stroke="#000" stroke-width="1.8"/>
<line x1="402.8" y1="1479.4" x2="402.8" y2="1482.6" stroke="#000" stroke-width="1.8"/>
<line x1="411.8" y1="1479.4" x2="411.8" y2="1482.6" stroke="#000" stroke-width="1.8"/>
<line x1="420.8" y1="1479.4" x2="420.8" y2="1482.6" stroke="#000" stroke-width="1.8"/>
<line x1="429.8" y1="1479.4" x2="429.8" y2="1482.6" stroke="#000" stroke-width="1.8"/>
<line x1="438.8" y1="1479.4" x2="438.8" y2="1482.6" stroke="#000" stroke-width="1.8"/>
<line x1="447.8" y1="1479.4" x2="447.8" y2="1482.6" stroke="#000" stroke-width="1.8"/>
<line x1="456.8" y1="1479.4" x2="456.8" y2="1482.6" stroke="#000" stroke-width="1.8"/>
<polyline points="159.8,1461.96 168.8,1467.03 177.8,1462.53 186.8,1466.09 195.8,1470.59" fill="none" stroke="#000" stroke-width="2.3" stroke-linejoin="round"/>
<polyline points="213.8,1464.59 222.8,1423.53 231.8,1383.03 240.8,1385.46 249.8,1387.71" fill="none" stroke="#000" stroke-width="2.3" stroke-linejoin="round"/>
<polyline points="267.8,1383.96 276.8,1400.46 285.8,1383.03 294.8,1381.34 303.8,1379.09" fill="none" stroke="#000" stroke-width="2.3" stroke-linejoin="round"/>
<polyline points="321.8,1404.03 330.8,1375.34 339.8,1358.46 348.8,1368.78 357.8,1353.59 366.8,1362.96 375.8,1357.53 384.8,1354.53 393.8,1339.71 402.8,1356.21 411.8,1352.46 420.8,1347.59 429.8,1339.9 438.8,1336.53 447.8,1356.59" fill="none" stroke="#000" stroke-width="2.3" stroke-linejoin="round"/>
<line x1="159.8" y1="1456.34" x2="159.8" y2="1467.59" stroke="#000" stroke-width="2.1"/>
<line x1="157.2" y1="1456.34" x2="162.4" y2="1456.34" stroke="#000" stroke-width="2.4"/>
<line x1="157.2" y1="1467.59" x2="162.4" y2="1467.59" stroke="#000" stroke-width="2.4"/>
<circle cx="159.8" cy="1461.96" r="4.9" fill="#000"/>
<line x1="168.8" y1="1463.28" x2="168.8" y2="1470.78" stroke="#000" stroke-width="2.1"/>
<line x1="166.2" y1="1463.28" x2="171.4" y2="1463.28" stroke="#000" stroke-width="2.4"/>
<line x1="166.2" y1="1470.78" x2="171.4" y2="1470.78" stroke="#000" stroke-width="2.4"/>
<circle cx="168.8" cy="1467.03" r="4.9" fill="#000"/>
<line x1="177.8" y1="1455.96" x2="177.8" y2="1469.09" stroke="#000" stroke-width="2.1"/>
<line x1="175.2" y1="1455.96" x2="180.4" y2="1455.96" stroke="#000" stroke-width="2.4"/>
<line x1="175.2" y1="1469.09" x2="180.4" y2="1469.09" stroke="#000" stroke-width="2.4"/>
<circle cx="177.8" cy="1462.53" r="4.9" fill="#000"/>
<line x1="186.8" y1="1460.46" x2="186.8" y2="1471.71" stroke="#000" stroke-width="2.1"/>
<line x1="184.2" y1="1460.46" x2="189.4" y2="1460.46" stroke="#000" stroke-width="2.4"/>
<line x1="184.2" y1="1471.71" x2="189.4" y2="1471.71" stroke="#000" stroke-width="2.4"/>
<circle cx="186.8" cy="1466.09" r="4.9" fill="#000"/>
<line x1="195.8" y1="1467.78" x2="195.8" y2="1473.4" stroke="#000" stroke-width="2.1"/>
<line x1="193.2" y1="1467.78" x2="198.4" y2="1467.78" stroke="#000" stroke-width="2.4"/>
<line x1="193.2" y1="1473.4" x2="198.4" y2="1473.4" stroke="#000" stroke-width="2.4"/>
<circle cx="195.8" cy="1470.59" r="4.9" fill="#000"/>
<line x1="213.8" y1="1455.4" x2="213.8" y2="1473.78" stroke="#000" stroke-width="2.1"/>
<line x1="211.2" y1="1455.4" x2="216.4" y2="1455.4" stroke="#000" stroke-width="2.4"/>
<line x1="211.2" y1="1473.78" x2="216.4" y2="1473.78" stroke="#000" stroke-width="2.4"/>
<circle cx="213.8" cy="1464.59" r="4.9" fill="#000"/>
<line x1="222.8" y1="1404.78" x2="222.8" y2="1442.28" stroke="#000" stroke-width="2.1"/>
<line x1="220.2" y1="1404.78" x2="225.4" y2="1404.78" stroke="#000" stroke-width="2.4"/>
<line x1="220.2" y1="1442.28" x2="225.4" y2="1442.28" stroke="#000" stroke-width="2.4"/>
<circle cx="222.8" cy="1423.53" r="4.9" fill="#000"/>
<line x1="231.8" y1="1367.46" x2="231.8" y2="1398.59" stroke="#000" stroke-width="2.1"/>
<line x1="229.2" y1="1367.46" x2="234.4" y2="1367.46" stroke="#000" stroke-width="2.4"/>
<line x1="229.2" y1="1398.59" x2="234.4" y2="1398.59" stroke="#000" stroke-width="2.4"/>
<circle cx="231.8" cy="1383.03" r="4.9" fill="#000"/>
<line x1="240.8" y1="1371.03" x2="240.8" y2="1399.9" stroke="#000" stroke-width="2.1"/>
<line x1="238.2" y1="1371.03" x2="243.4" y2="1371.03" stroke="#000" stroke-width="2.4"/>
<line x1="238.2" y1="1399.9" x2="243.4" y2="1399.9" stroke="#000" stroke-width="2.4"/>
<circle cx="240.8" cy="1385.46" r="4.9" fill="#000"/>
<line x1="249.8" y1="1373.28" x2="249.8" y2="1402.15" stroke="#000" stroke-width="2.1"/>
<line x1="247.2" y1="1373.28" x2="252.4" y2="1373.28" stroke="#000" stroke-width="2.4"/>
<line x1="247.2" y1="1402.15" x2="252.4" y2="1402.15" stroke="#000" stroke-width="2.4"/>
<circle cx="249.8" cy="1387.71" r="4.9" fill="#000"/>
<line x1="267.8" y1="1373.84" x2="267.8" y2="1394.09" stroke="#000" stroke-width="2.1"/>
<line x1="265.2" y1="1373.84" x2="270.4" y2="1373.84" stroke="#000" stroke-width="2.4"/>
<line x1="265.2" y1="1394.09" x2="270.4" y2="1394.09" stroke="#000" stroke-width="2.4"/>
<circle cx="267.8" cy="1383.96" r="4.9" fill="#000"/>
<line x1="276.8" y1="1382.28" x2="276.8" y2="1418.65" stroke="#000" stroke-width="2.1"/>
<line x1="274.2" y1="1382.28" x2="279.4" y2="1382.28" stroke="#000" stroke-width="2.4"/>
<line x1="274.2" y1="1418.65" x2="279.4" y2="1418.65" stroke="#000" stroke-width="2.4"/>
<circle cx="276.8" cy="1400.46" r="4.9" fill="#000"/>
<line x1="285.8" y1="1369.34" x2="285.8" y2="1396.71" stroke="#000" stroke-width="2.1"/>
<line x1="283.2" y1="1369.34" x2="288.4" y2="1369.34" stroke="#000" stroke-width="2.4"/>
<line x1="283.2" y1="1396.71" x2="288.4" y2="1396.71" stroke="#000" stroke-width="2.4"/>
<circle cx="285.8" cy="1383.03" r="4.9" fill="#000"/>
<line x1="294.8" y1="1362.4" x2="294.8" y2="1400.28" stroke="#000" stroke-width="2.1"/>
<line x1="292.2" y1="1362.4" x2="297.4" y2="1362.4" stroke="#000" stroke-width="2.4"/>
<line x1="292.2" y1="1400.28" x2="297.4" y2="1400.28" stroke="#000" stroke-width="2.4"/>
<circle cx="294.8" cy="1381.34" r="4.9" fill="#000"/>
<line x1="303.8" y1="1367.28" x2="303.8" y2="1390.9" stroke="#000" stroke-width="2.1"/>
<line x1="301.2" y1="1367.28" x2="306.4" y2="1367.28" stroke="#000" stroke-width="2.4"/>
<line x1="301.2" y1="1390.9" x2="306.4" y2="1390.9" stroke="#000" stroke-width="2.4"/>
<circle cx="303.8" cy="1379.09" r="4.9" fill="#000"/>
<line x1="321.8" y1="1390.53" x2="321.8" y2="1417.53" stroke="#000" stroke-width="2.1"/>
<line x1="319.2" y1="1390.53" x2="324.4" y2="1390.53" stroke="#000" stroke-width="2.4"/>
<line x1="319.2" y1="1417.53" x2="324.4" y2="1417.53" stroke="#000" stroke-width="2.4"/>
<circle cx="321.8" cy="1404.03" r="4.9" fill="#000"/>
<line x1="330.8" y1="1362.59" x2="330.8" y2="1388.09" stroke="#000" stroke-width="2.1"/>
<line x1="328.2" y1="1362.59" x2="333.4" y2="1362.59" stroke="#000" stroke-width="2.4"/>
<line x1="328.2" y1="1388.09" x2="333.4" y2="1388.09" stroke="#000" stroke-width="2.4"/>
<circle cx="330.8" cy="1375.34" r="4.9" fill="#000"/>
<line x1="339.8" y1="1341.21" x2="339.8" y2="1375.71" stroke="#000" stroke-width="2.1"/>
<line x1="337.2" y1="1341.21" x2="342.4" y2="1341.21" stroke="#000" stroke-width="2.4"/>
<line x1="337.2" y1="1375.71" x2="342.4" y2="1375.71" stroke="#000" stroke-width="2.4"/>
<circle cx="339.8" cy="1358.46" r="4.9" fill="#000"/>
<line x1="348.8" y1="1352.65" x2="348.8" y2="1384.9" stroke="#000" stroke-width="2.1"/>
<line x1="346.2" y1="1352.65" x2="351.4" y2="1352.65" stroke="#000" stroke-width="2.4"/>
<line x1="346.2" y1="1384.9" x2="351.4" y2="1384.9" stroke="#000" stroke-width="2.4"/>
<circle cx="348.8" cy="1368.78" r="4.9" fill="#000"/>
<line x1="357.8" y1="1337.28" x2="357.8" y2="1369.9" stroke="#000" stroke-width="2.1"/>
<line x1="355.2" y1="1337.28" x2="360.4" y2="1337.28" stroke="#000" stroke-width="2.4"/>
<line x1="355.2" y1="1369.9" x2="360.4" y2="1369.9" stroke="#000" stroke-width="2.4"/>
<circle cx="357.8" cy="1353.59" r="4.9" fill="#000"/>
<line x1="366.8" y1="1347.59" x2="366.8" y2="1378.34" stroke="#000" stroke-width="2.1"/>
<line x1="364.2" y1="1347.59" x2="369.4" y2="1347.59" stroke="#000" stroke-width="2.4"/>
<line x1="364.2" y1="1378.34" x2="369.4" y2="1378.34" stroke="#000" stroke-width="2.4"/>
<circle cx="366.8" cy="1362.96" r="4.9" fill="#000"/>
<line x1="375.8" y1="1342.34" x2="375.8" y2="1372.71" stroke="#000" stroke-width="2.1"/>
<line x1="373.2" y1="1342.34" x2="378.4" y2="1342.34" stroke="#000" stroke-width="2.4"/>
<line x1="373.2" y1="1372.71" x2="378.4" y2="1372.71" stroke="#000" stroke-width="2.4"/>
<circle cx="375.8" cy="1357.53" r="4.9" fill="#000"/>
<line x1="384.8" y1="1334.65" x2="384.8" y2="1374.4" stroke="#000" stroke-width="2.1"/>
<line x1="382.2" y1="1334.65" x2="387.4" y2="1334.65" stroke="#000" stroke-width="2.4"/>
<line x1="382.2" y1="1374.4" x2="387.4" y2="1374.4" stroke="#000" stroke-width="2.4"/>
<circle cx="384.8" cy="1354.53" r="4.9" fill="#000"/>
<line x1="393.8" y1="1323.03" x2="393.8" y2="1356.4" stroke="#000" stroke-width="2.1"/>
<line x1="391.2" y1="1323.03" x2="396.4" y2="1323.03" stroke="#000" stroke-width="2.4"/>
<line x1="391.2" y1="1356.4" x2="396.4" y2="1356.4" stroke="#000" stroke-width="2.4"/>
<circle cx="393.8" cy="1339.71" r="4.9" fill="#000"/>
<line x1="402.8" y1="1340.09" x2="402.8" y2="1372.34" stroke="#000" stroke-width="2.1"/>
<line x1="400.2" y1="1340.09" x2="405.4" y2="1340.09" stroke="#000" stroke-width="2.4"/>
<line x1="400.2" y1="1372.34" x2="405.4" y2="1372.34" stroke="#000" stroke-width="2.4"/>
<circle cx="402.8" cy="1356.21" r="4.9" fill="#000"/>
<line x1="411.8" y1="1339.71" x2="411.8" y2="1365.21" stroke="#000" stroke-width="2.1"/>
<line x1="409.2" y1="1339.71" x2="414.4" y2="1339.71" stroke="#000" stroke-width="2.4"/>
<line x1="409.2" y1="1365.21" x2="414.4" y2="1365.21" stroke="#000" stroke-width="2.4"/>
<circle cx="411.8" cy="1352.46" r="4.9" fill="#000"/>
<line x1="420.8" y1="1333.34" x2="420.8" y2="1361.84" stroke="#000" stroke-width="2.1"/>
<line x1="418.2" y1="1333.34" x2="423.4" y2="1333.34" stroke="#000" stroke-width="2.4"/>
<line x1="418.2" y1="1361.84" x2="423.4" y2="1361.84" stroke="#000" stroke-width="2.4"/>
<circle cx="420.8" cy="1347.59" r="4.9" fill="#000"/>
<line x1="429.8" y1="1326.4" x2="429.8" y2="1353.4" stroke="#000" stroke-width="2.1"/>
<line x1="427.2" y1="1326.4" x2="432.4" y2="1326.4" stroke="#000" stroke-width="2.4"/>
<line x1="427.2" y1="1353.4" x2="432.4" y2="1353.4" stroke="#000" stroke-width="2.4"/>
<circle cx="429.8" cy="1339.9" r="4.9" fill="#000"/>
<line x1="438.8" y1="1322.28" x2="438.8" y2="1350.78" stroke="#000" stroke-width="2.1"/>
<line x1="436.2" y1="1322.28" x2="441.4" y2="1322.28" stroke="#000" stroke-width="2.4"/>
<line x1="436.2" y1="1350.78" x2="441.4" y2="1350.78" stroke="#000" stroke-width="2.4"/>
<circle cx="438.8" cy="1336.53" r="4.9" fill="#000"/>
<line x1="447.8" y1="1340.65" x2="447.8" y2="1372.53" stroke="#000" stroke-width="2.1"/>
<line x1="445.2" y1="1340.65" x2="450.4" y2="1340.65" stroke="#000" stroke-width="2.4"/>
<line x1="445.2" y1="1372.53" x2="450.4" y2="1372.53" stroke="#000" stroke-width="2.4"/>
<circle cx="447.8" cy="1356.59" r="4.9" fill="#000"/>
<text transform="translate(93.2,1387.15) rotate(-90) scale(1.0,1)" font-size="22.6" text-anchor="middle" fill="#000" stroke="#000" stroke-width="0.35">% freezing</text>
<text x="6.5" y="1541.3" font-size="32" text-anchor="start" fill="#000" stroke="#000" stroke-width="0.35">Group2</text>
<line x1="6.3" y1="1544.6" x2="110.6" y2="1544.6" stroke="#000" stroke-width="1.8"/>
<line x1="150.8" y1="1718.82" x2="457.6" y2="1718.82" stroke="#a6a6a6" stroke-width="1.5"/>
<line x1="150.8" y1="1681.34" x2="457.6" y2="1681.34" stroke="#a6a6a6" stroke-width="1.5"/>
<line x1="150.8" y1="1643.86" x2="457.6" y2="1643.86" stroke="#a6a6a6" stroke-width="1.5"/>
<line x1="150.8" y1="1606.38" x2="457.6" y2="1606.38" stroke="#a6a6a6" stroke-width="1.5"/>
<line x1="150.8" y1="1568.9" x2="457.6" y2="1568.9" stroke="#a6a6a6" stroke-width="1.5"/>
<text transform="translate(135.5,1762.06) scale(1.03,1)" font-size="16" text-anchor="end" fill="#000" stroke="#000" stroke-width="0.35">0</text>
<text transform="translate(135.5,1724.58) scale(1.03,1)" font-size="16" text-anchor="end" fill="#000" stroke="#000" stroke-width="0.35">20</text>
<text transform="translate(135.5,1687.1) scale(1.03,1)" font-size="16" text-anchor="end" fill="#000" stroke="#000" stroke-width="0.35">40</text>
<text transform="translate(135.5,1649.62) scale(1.03,1)" font-size="16" text-anchor="end" fill="#000" stroke="#000" stroke-width="0.35">60</text>
<text transform="translate(135.5,1612.14) scale(1.03,1)" font-size="16" text-anchor="end" fill="#000" stroke="#000" stroke-width="0.35">80</text>
<text transform="translate(135.5,1574.66) scale(1.03,1)" font-size="16" text-anchor="end" fill="#000" stroke="#000" stroke-width="0.35">100</text>
<line x1="150.8" y1="1568.4" x2="150.8" y2="1757.5" stroke="#000" stroke-width="2.6"/>
<line x1="149.5" y1="1756.3" x2="458.1" y2="1756.3" stroke="#000" stroke-width="2.6"/>
<line x1="159.8" y1="1756.3" x2="159.8" y2="1759.5" stroke="#000" stroke-width="1.8"/>
<line x1="168.8" y1="1756.3" x2="168.8" y2="1759.5" stroke="#000" stroke-width="1.8"/>
<line x1="177.8" y1="1756.3" x2="177.8" y2="1759.5" stroke="#000" stroke-width="1.8"/>
<line x1="186.8" y1="1756.3" x2="186.8" y2="1759.5" stroke="#000" stroke-width="1.8"/>
<line x1="195.8" y1="1756.3" x2="195.8" y2="1759.5" stroke="#000" stroke-width="1.8"/>
<line x1="204.8" y1="1756.3" x2="204.8" y2="1759.5" stroke="#000" stroke-width="1.8"/>
<line x1="213.8" y1="1756.3" x2="213.8" y2="1759.5" stroke="#000" stroke-width="1.8"/>
<line x1="222.8" y1="1756.3" x2="222.8" y2="1759.5" stroke="#000" stroke-width="1.8"/>
<line x1="231.8" y1="1756.3" x2="231.8" y2="1759.5" stroke="#000" stroke-width="1.8"/>
<line x1="240.8" y1="1756.3" x2="240.8" y2="1759.5" stroke="#000" stroke-width="1.8"/>
<line x1="249.8" y1="1756.3" x2="249.8" y2="1759.5" stroke="#000" stroke-width="1.8"/>
<line x1="258.8" y1="1756.3" x2="258.8" y2="1759.5" stroke="#000" stroke-width="1.8"/>
<line x1="267.8" y1="1756.3" x2="267.8" y2="1759.5" stroke="#000" stroke-width="1.8"/>
<line x1="276.8" y1="1756.3" x2="276.8" y2="1759.5" stroke="#000" stroke-width="1.8"/>
<line x1="285.8" y1="1756.3" x2="285.8" y2="1759.5" stroke="#000" stroke-width="1.8"/>
<line x1="294.8" y1="1756.3" x2="294.8" y2="1759.5" stroke="#000" stroke-width="1.8"/>
<line x1="303.8" y1="1756.3" x2="303.8" y2="1759.5" stroke="#000" stroke-width="1.8"/>
<line x1="312.8" y1="1756.3" x2="312.8" y2="1759.5" stroke="#000" stroke-width="1.8"/>
<line x1="321.8" y1="1756.3" x2="321.8" y2="1759.5" stroke="#000" stroke-width="1.8"/>
<line x1="330.8" y1="1756.3" x2="330.8" y2="1759.5" stroke="#000" stroke-width="1.8"/>
<line x1="339.8" y1="1756.3" x2="339.8" y2="1759.5" stroke="#000" stroke-width="1.8"/>
<line x1="348.8" y1="1756.3" x2="348.8" y2="1759.5" stroke="#000" stroke-width="1.8"/>
<line x1="357.8" y1="1756.3" x2="357.8" y2="1759.5" stroke="#000" stroke-width="1.8"/>
<line x1="366.8" y1="1756.3" x2="366.8" y2="1759.5" stroke="#000" stroke-width="1.8"/>
<line x1="375.8" y1="1756.3" x2="375.8" y2="1759.5" stroke="#000" stroke-width="1.8"/>
<line x1="384.8" y1="1756.3" x2="384.8" y2="1759.5" stroke="#000" stroke-width="1.8"/>
<line x1="393.8" y1="1756.3" x2="393.8" y2="1759.5" stroke="#000" stroke-width="1.8"/>
<line x1="402.8" y1="1756.3" x2="402.8" y2="1759.5" stroke="#000" stroke-width="1.8"/>
<line x1="411.8" y1="1756.3" x2="411.8" y2="1759.5" stroke="#000" stroke-width="1.8"/>
<line x1="420.8" y1="1756.3" x2="420.8" y2="1759.5" stroke="#000" stroke-width="1.8"/>
<line x1="429.8" y1="1756.3" x2="429.8" y2="1759.5" stroke="#000" stroke-width="1.8"/>
<line x1="438.8" y1="1756.3" x2="438.8" y2="1759.5" stroke="#000" stroke-width="1.8"/>
<line x1="447.8" y1="1756.3" x2="447.8" y2="1759.5" stroke="#000" stroke-width="1.8"/>
<line x1="456.8" y1="1756.3" x2="456.8" y2="1759.5" stroke="#000" stroke-width="1.8"/>
<polyline points="159.8,1727.63 168.8,1732.69 177.8,1728.94 186.8,1737.75 195.8,1740" fill="none" stroke="#000" stroke-width="2.3" stroke-linejoin="round"/>
<polyline points="213.8,1739.06 222.8,1698.77 231.8,1672.53 240.8,1660.16 249.8,1663.16" fill="none" stroke="#000" stroke-width="2.3" stroke-linejoin="round"/>
<polyline points="267.8,1677.4 276.8,1686.59 285.8,1661.1 294.8,1655.67 303.8,1660.16" fill="none" stroke="#000" stroke-width="2.3" stroke-linejoin="round"/>
<polyline points="321.8,1633.74 330.8,1628.68 339.8,1636.36 348.8,1641.61 357.8,1611.25 366.8,1600.01 375.8,1617.25 384.8,1614.81 393.8,1609.38 402.8,1622.68 411.8,1628.12 420.8,1654.73 429.8,1640.67 438.8,1620.62 447.8,1631.87" fill="none" stroke="#000" stroke-width="2.3" stroke-linejoin="round"/>
<line x1="159.8" y1="1717.51" x2="159.8" y2="1737.75" stroke="#000" stroke-width="2.1"/>
<line x1="157.2" y1="1717.51" x2="162.4" y2="1717.51" stroke="#000" stroke-width="2.4"/>
<line x1="157.2" y1="1737.75" x2="162.4" y2="1737.75" stroke="#000" stroke-width="2.4"/>
<circle cx="159.8" cy="1727.63" r="4.9" fill="#000"/>
<line x1="168.8" y1="1724.44" x2="168.8" y2="1740.93" stroke="#000" stroke-width="2.1"/>
<line x1="166.2" y1="1724.44" x2="171.4" y2="1724.44" stroke="#000" stroke-width="2.4"/>
<line x1="166.2" y1="1740.93" x2="171.4" y2="1740.93" stroke="#000" stroke-width="2.4"/>
<circle cx="168.8" cy="1732.69" r="4.9" fill="#000"/>
<line x1="177.8" y1="1710.76" x2="177.8" y2="1747.12" stroke="#000" stroke-width="2.1"/>
<line x1="175.2" y1="1710.76" x2="180.4" y2="1710.76" stroke="#000" stroke-width="2.4"/>
<line x1="175.2" y1="1747.12" x2="180.4" y2="1747.12" stroke="#000" stroke-width="2.4"/>
<circle cx="177.8" cy="1728.94" r="4.9" fill="#000"/>
<line x1="186.8" y1="1730.63" x2="186.8" y2="1744.87" stroke="#000" stroke-width="2.1"/>
<line x1="184.2" y1="1730.63" x2="189.4" y2="1730.63" stroke="#000" stroke-width="2.4"/>
<line x1="184.2" y1="1744.87" x2="189.4" y2="1744.87" stroke="#000" stroke-width="2.4"/>
<circle cx="186.8" cy="1737.75" r="4.9" fill="#000"/>
<line x1="195.8" y1="1731.94" x2="195.8" y2="1748.05" stroke="#000" stroke-width="2.1"/>
<line x1="193.2" y1="1731.94" x2="198.4" y2="1731.94" stroke="#000" stroke-width="2.4"/>
<line x1="193.2" y1="1748.05" x2="198.4" y2="1748.05" stroke="#000" stroke-width="2.4"/>
<circle cx="195.8" cy="1740" r="4.9" fill="#000"/>
<line x1="213.8" y1="1726.69" x2="213.8" y2="1751.43" stroke="#000" stroke-width="2.1"/>
<line x1="211.2" y1="1726.69" x2="216.4" y2="1726.69" stroke="#000" stroke-width="2.4"/>
<line x1="211.2" y1="1751.43" x2="216.4" y2="1751.43" stroke="#000" stroke-width="2.4"/>
<circle cx="213.8" cy="1739.06" r="4.9" fill="#000"/>
<line x1="222.8" y1="1689.77" x2="222.8" y2="1707.76" stroke="#000" stroke-width="2.1"/>
<line x1="220.2" y1="1689.77" x2="225.4" y2="1689.77" stroke="#000" stroke-width="2.4"/>
<line x1="220.2" y1="1707.76" x2="225.4" y2="1707.76" stroke="#000" stroke-width="2.4"/>
<circle cx="222.8" cy="1698.77" r="4.9" fill="#000"/>
<line x1="231.8" y1="1660.91" x2="231.8" y2="1684.15" stroke="#000" stroke-width="2.1"/>
<line x1="229.2" y1="1660.91" x2="234.4" y2="1660.91" stroke="#000" stroke-width="2.4"/>
<line x1="229.2" y1="1684.15" x2="234.4" y2="1684.15" stroke="#000" stroke-width="2.4"/>
<circle cx="231.8" cy="1672.53" r="4.9" fill="#000"/>
<line x1="240.8" y1="1643.3" x2="240.8" y2="1677.03" stroke="#000" stroke-width="2.1"/>
<line x1="238.2" y1="1643.3" x2="243.4" y2="1643.3" stroke="#000" stroke-width="2.4"/>
<line x1="238.2" y1="1677.03" x2="243.4" y2="1677.03" stroke="#000" stroke-width="2.4"/>
<circle cx="240.8" cy="1660.16" r="4.9" fill="#000"/>
<line x1="249.8" y1="1653.23" x2="249.8" y2="1673.09" stroke="#000" stroke-width="2.1"/>
<line x1="247.2" y1="1653.23" x2="252.4" y2="1653.23" stroke="#000" stroke-width="2.4"/>
<line x1="247.2" y1="1673.09" x2="252.4" y2="1673.09" stroke="#000" stroke-width="2.4"/>
<circle cx="249.8" cy="1663.16" r="4.9" fill="#000"/>
<line x1="267.8" y1="1665.79" x2="267.8" y2="1689.02" stroke="#000" stroke-width="2.1"/>
<line x1="265.2" y1="1665.79" x2="270.4" y2="1665.79" stroke="#000" stroke-width="2.4"/>
<line x1="265.2" y1="1689.02" x2="270.4" y2="1689.02" stroke="#000" stroke-width="2.4"/>
<circle cx="267.8" cy="1677.4" r="4.9" fill="#000"/>
<line x1="276.8" y1="1676.28" x2="276.8" y2="1696.89" stroke="#000" stroke-width="2.1"/>
<line x1="274.2" y1="1676.28" x2="279.4" y2="1676.28" stroke="#000" stroke-width="2.4"/>
<line x1="274.2" y1="1696.89" x2="279.4" y2="1696.89" stroke="#000" stroke-width="2.4"/>
<circle cx="276.8" cy="1686.59" r="4.9" fill="#000"/>
<line x1="285.8" y1="1643.67" x2="285.8" y2="1678.53" stroke="#000" stroke-width="2.1"/>
<line x1="283.2" y1="1643.67" x2="288.4" y2="1643.67" stroke="#000" stroke-width="2.4"/>
<line x1="283.2" y1="1678.53" x2="288.4" y2="1678.53" stroke="#000" stroke-width="2.4"/>
<circle cx="285.8" cy="1661.1" r="4.9" fill="#000"/>
<line x1="294.8" y1="1641.24" x2="294.8" y2="1670.1" stroke="#000" stroke-width="2.1"/>
<line x1="292.2" y1="1641.24" x2="297.4" y2="1641.24" stroke="#000" stroke-width="2.4"/>
<line x1="292.2" y1="1670.1" x2="297.4" y2="1670.1" stroke="#000" stroke-width="2.4"/>
<circle cx="294.8" cy="1655.67" r="4.9" fill="#000"/>
<line x1="303.8" y1="1646.86" x2="303.8" y2="1673.47" stroke="#000" stroke-width="2.1"/>
<line x1="301.2" y1="1646.86" x2="306.4" y2="1646.86" stroke="#000" stroke-width="2.4"/>
<line x1="301.2" y1="1673.47" x2="306.4" y2="1673.47" stroke="#000" stroke-width="2.4"/>
<circle cx="303.8" cy="1660.16" r="4.9" fill="#000"/>
<line x1="321.8" y1="1620.81" x2="321.8" y2="1646.67" stroke="#000" stroke-width="2.1"/>
<line x1="319.2" y1="1620.81" x2="324.4" y2="1620.81" stroke="#000" stroke-width="2.4"/>
<line x1="319.2" y1="1646.67" x2="324.4" y2="1646.67" stroke="#000" stroke-width="2.4"/>
<circle cx="321.8" cy="1633.74" r="4.9" fill="#000"/>
<line x1="330.8" y1="1614.63" x2="330.8" y2="1642.74" stroke="#000" stroke-width="2.1"/>
<line x1="328.2" y1="1614.63" x2="333.4" y2="1614.63" stroke="#000" stroke-width="2.4"/>
<line x1="328.2" y1="1642.74" x2="333.4" y2="1642.74" stroke="#000" stroke-width="2.4"/>
<circle cx="330.8" cy="1628.68" r="4.9" fill="#000"/>
<line x1="339.8" y1="1623.06" x2="339.8" y2="1649.67" stroke="#000" stroke-width="2.1"/>
<line x1="337.2" y1="1623.06" x2="342.4" y2="1623.06" stroke="#000" stroke-width="2.4"/>
<line x1="337.2" y1="1649.67" x2="342.4" y2="1649.67" stroke="#000" stroke-width="2.4"/>
<circle cx="339.8" cy="1636.36" r="4.9" fill="#000"/>
<line x1="348.8" y1="1623.06" x2="348.8" y2="1660.16" stroke="#000" stroke-width="2.1"/>
<line x1="346.2" y1="1623.06" x2="351.4" y2="1623.06" stroke="#000" stroke-width="2.4"/>
<line x1="346.2" y1="1660.16" x2="351.4" y2="1660.16" stroke="#000" stroke-width="2.4"/>
<circle cx="348.8" cy="1641.61" r="4.9" fill="#000"/>
<line x1="357.8" y1="1599.26" x2="357.8" y2="1623.25" stroke="#000" stroke-width="2.1"/>
<line x1="355.2" y1="1599.26" x2="360.4" y2="1599.26" stroke="#000" stroke-width="2.4"/>
<line x1="355.2" y1="1623.25" x2="360.4" y2="1623.25" stroke="#000" stroke-width="2.4"/>
<circle cx="357.8" cy="1611.25" r="4.9" fill="#000"/>
<line x1="366.8" y1="1589.14" x2="366.8" y2="1610.88" stroke="#000" stroke-width="2.1"/>
<line x1="364.2" y1="1589.14" x2="369.4" y2="1589.14" stroke="#000" stroke-width="2.4"/>
<line x1="364.2" y1="1610.88" x2="369.4" y2="1610.88" stroke="#000" stroke-width="2.4"/>
<circle cx="366.8" cy="1600.01" r="4.9" fill="#000"/>
<line x1="375.8" y1="1604.32" x2="375.8" y2="1630.18" stroke="#000" stroke-width="2.1"/>
<line x1="373.2" y1="1604.32" x2="378.4" y2="1604.32" stroke="#000" stroke-width="2.4"/>
<line x1="373.2" y1="1630.18" x2="378.4" y2="1630.18" stroke="#000" stroke-width="2.4"/>
<circle cx="375.8" cy="1617.25" r="4.9" fill="#000"/>
<line x1="384.8" y1="1598.13" x2="384.8" y2="1631.49" stroke="#000" stroke-width="2.1"/>
<line x1="382.2" y1="1598.13" x2="387.4" y2="1598.13" stroke="#000" stroke-width="2.4"/>
<line x1="382.2" y1="1631.49" x2="387.4" y2="1631.49" stroke="#000" stroke-width="2.4"/>
<circle cx="384.8" cy="1614.81" r="4.9" fill="#000"/>
<line x1="393.8" y1="1594.76" x2="393.8" y2="1624" stroke="#000" stroke-width="2.1"/>
<line x1="391.2" y1="1594.76" x2="396.4" y2="1594.76" stroke="#000" stroke-width="2.4"/>
<line x1="391.2" y1="1624" x2="396.4" y2="1624" stroke="#000" stroke-width="2.4"/>
<circle cx="393.8" cy="1609.38" r="4.9" fill="#000"/>
<line x1="402.8" y1="1608.82" x2="402.8" y2="1636.55" stroke="#000" stroke-width="2.1"/>
<line x1="400.2" y1="1608.82" x2="405.4" y2="1608.82" stroke="#000" stroke-width="2.4"/>
<line x1="400.2" y1="1636.55" x2="405.4" y2="1636.55" stroke="#000" stroke-width="2.4"/>
<circle cx="402.8" cy="1622.68" r="4.9" fill="#000"/>
<line x1="411.8" y1="1612.38" x2="411.8" y2="1643.86" stroke="#000" stroke-width="2.1"/>
<line x1="409.2" y1="1612.38" x2="414.4" y2="1612.38" stroke="#000" stroke-width="2.4"/>
<line x1="409.2" y1="1643.86" x2="414.4" y2="1643.86" stroke="#000" stroke-width="2.4"/>
<circle cx="411.8" cy="1628.12" r="4.9" fill="#000"/>
<line x1="420.8" y1="1642.55" x2="420.8" y2="1666.91" stroke="#000" stroke-width="2.1"/>
<line x1="418.2" y1="1642.55" x2="423.4" y2="1642.55" stroke="#000" stroke-width="2.4"/>
<line x1="418.2" y1="1666.91" x2="423.4" y2="1666.91" stroke="#000" stroke-width="2.4"/>
<circle cx="420.8" cy="1654.73" r="4.9" fill="#000"/>
<line x1="429.8" y1="1630.37" x2="429.8" y2="1650.98" stroke="#000" stroke-width="2.1"/>
<line x1="427.2" y1="1630.37" x2="432.4" y2="1630.37" stroke="#000" stroke-width="2.4"/>
<line x1="427.2" y1="1650.98" x2="432.4" y2="1650.98" stroke="#000" stroke-width="2.4"/>
<circle cx="429.8" cy="1640.67" r="4.9" fill="#000"/>
<line x1="438.8" y1="1613.88" x2="438.8" y2="1627.37" stroke="#000" stroke-width="2.1"/>
<line x1="436.2" y1="1613.88" x2="441.4" y2="1613.88" stroke="#000" stroke-width="2.4"/>
<line x1="436.2" y1="1627.37" x2="441.4" y2="1627.37" stroke="#000" stroke-width="2.4"/>
<circle cx="438.8" cy="1620.62" r="4.9" fill="#000"/>
<line x1="447.8" y1="1620.06" x2="447.8" y2="1643.67" stroke="#000" stroke-width="2.1"/>
<line x1="445.2" y1="1620.06" x2="450.4" y2="1620.06" stroke="#000" stroke-width="2.4"/>
<line x1="445.2" y1="1643.67" x2="450.4" y2="1643.67" stroke="#000" stroke-width="2.4"/>
<circle cx="447.8" cy="1631.87" r="4.9" fill="#000"/>
<text transform="translate(93.2,1664.1) rotate(-90) scale(1.0,1)" font-size="22.6" text-anchor="middle" fill="#000" stroke="#000" stroke-width="0.35">% freezing</text>
<text x="6.5" y="1819.9" font-size="32" text-anchor="start" fill="#000" stroke="#000" stroke-width="0.35">Group3</text>
<line x1="6.3" y1="1823.2" x2="110.6" y2="1823.2" stroke="#000" stroke-width="1.8"/>
<line x1="150.8" y1="1996.08" x2="457.6" y2="1996.08" stroke="#a6a6a6" stroke-width="1.5"/>
<line x1="150.8" y1="1958.56" x2="457.6" y2="1958.56" stroke="#a6a6a6" stroke-width="1.5"/>
<line x1="150.8" y1="1921.04" x2="457.6" y2="1921.04" stroke="#a6a6a6" stroke-width="1.5"/>
<line x1="150.8" y1="1883.52" x2="457.6" y2="1883.52" stroke="#a6a6a6" stroke-width="1.5"/>
<line x1="150.8" y1="1846" x2="457.6" y2="1846" stroke="#a6a6a6" stroke-width="1.5"/>
<text transform="translate(135.5,2039.36) scale(1.03,1)" font-size="16" text-anchor="end" fill="#000" stroke="#000" stroke-width="0.35">0</text>
<text transform="translate(135.5,2001.84) scale(1.03,1)" font-size="16" text-anchor="end" fill="#000" stroke="#000" stroke-width="0.35">20</text>
<text transform="translate(135.5,1964.32) scale(1.03,1)" font-size="16" text-anchor="end" fill="#000" stroke="#000" stroke-width="0.35">40</text>
<text transform="translate(135.5,1926.8) scale(1.03,1)" font-size="16" text-anchor="end" fill="#000" stroke="#000" stroke-width="0.35">60</text>
<text transform="translate(135.5,1889.28) scale(1.03,1)" font-size="16" text-anchor="end" fill="#000" stroke="#000" stroke-width="0.35">80</text>
<text transform="translate(135.5,1851.76) scale(1.03,1)" font-size="16" text-anchor="end" fill="#000" stroke="#000" stroke-width="0.35">100</text>
<line x1="150.8" y1="1845.5" x2="150.8" y2="2034.8" stroke="#000" stroke-width="2.6"/>
<line x1="149.5" y1="2033.6" x2="458.1" y2="2033.6" stroke="#000" stroke-width="2.6"/>
<line x1="159.8" y1="2033.6" x2="159.8" y2="2036.8" stroke="#000" stroke-width="1.8"/>
<line x1="168.8" y1="2033.6" x2="168.8" y2="2036.8" stroke="#000" stroke-width="1.8"/>
<line x1="177.8" y1="2033.6" x2="177.8" y2="2036.8" stroke="#000" stroke-width="1.8"/>
<line x1="186.8" y1="2033.6" x2="186.8" y2="2036.8" stroke="#000" stroke-width="1.8"/>
<line x1="195.8" y1="2033.6" x2="195.8" y2="2036.8" stroke="#000" stroke-width="1.8"/>
<line x1="204.8" y1="2033.6" x2="204.8" y2="2036.8" stroke="#000" stroke-width="1.8"/>
<line x1="213.8" y1="2033.6" x2="213.8" y2="2036.8" stroke="#000" stroke-width="1.8"/>
<line x1="222.8" y1="2033.6" x2="222.8" y2="2036.8" stroke="#000" stroke-width="1.8"/>
<line x1="231.8" y1="2033.6" x2="231.8" y2="2036.8" stroke="#000" stroke-width="1.8"/>
<line x1="240.8" y1="2033.6" x2="240.8" y2="2036.8" stroke="#000" stroke-width="1.8"/>
<line x1="249.8" y1="2033.6" x2="249.8" y2="2036.8" stroke="#000" stroke-width="1.8"/>
<line x1="258.8" y1="2033.6" x2="258.8" y2="2036.8" stroke="#000" stroke-width="1.8"/>
<line x1="267.8" y1="2033.6" x2="267.8" y2="2036.8" stroke="#000" stroke-width="1.8"/>
<line x1="276.8" y1="2033.6" x2="276.8" y2="2036.8" stroke="#000" stroke-width="1.8"/>
<line x1="285.8" y1="2033.6" x2="285.8" y2="2036.8" stroke="#000" stroke-width="1.8"/>
<line x1="294.8" y1="2033.6" x2="294.8" y2="2036.8" stroke="#000" stroke-width="1.8"/>
<line x1="303.8" y1="2033.6" x2="303.8" y2="2036.8" stroke="#000" stroke-width="1.8"/>
<line x1="312.8" y1="2033.6" x2="312.8" y2="2036.8" stroke="#000" stroke-width="1.8"/>
<line x1="321.8" y1="2033.6" x2="321.8" y2="2036.8" stroke="#000" stroke-width="1.8"/>
<line x1="330.8" y1="2033.6" x2="330.8" y2="2036.8" stroke="#000" stroke-width="1.8"/>
<line x1="339.8" y1="2033.6" x2="339.8" y2="2036.8" stroke="#000" stroke-width="1.8"/>
<line x1="348.8" y1="2033.6" x2="348.8" y2="2036.8" stroke="#000" stroke-width="1.8"/>
<line x1="357.8" y1="2033.6" x2="357.8" y2="2036.8" stroke="#000" stroke-width="1.8"/>
<line x1="366.8" y1="2033.6" x2="366.8" y2="2036.8" stroke="#000" stroke-width="1.8"/>
<line x1="375.8" y1="2033.6" x2="375.8" y2="2036.8" stroke="#000" stroke-width="1.8"/>
<line x1="384.8" y1="2033.6" x2="384.8" y2="2036.8" stroke="#000" stroke-width="1.8"/>
<line x1="393.8" y1="2033.6" x2="393.8" y2="2036.8" stroke="#000" stroke-width="1.8"/>
<line x1="402.8" y1="2033.6" x2="402.8" y2="2036.8" stroke="#000" stroke-width="1.8"/>
<line x1="411.8" y1="2033.6" x2="411.8" y2="2036.8" stroke="#000" stroke-width="1.8"/>
<line x1="420.8" y1="2033.6" x2="420.8" y2="2036.8" stroke="#000" stroke-width="1.8"/>
<line x1="429.8" y1="2033.6" x2="429.8" y2="2036.8" stroke="#000" stroke-width="1.8"/>
<line x1="438.8" y1="2033.6" x2="438.8" y2="2036.8" stroke="#000" stroke-width="1.8"/>
<line x1="447.8" y1="2033.6" x2="447.8" y2="2036.8" stroke="#000" stroke-width="1.8"/>
<line x1="456.8" y1="2033.6" x2="456.8" y2="2036.8" stroke="#000" stroke-width="1.8"/>
<polyline points="159.8,2029.47 168.8,2029.47 177.8,2033.6 186.8,2031.16 195.8,2029.47" fill="none" stroke="#000" stroke-width="2.3" stroke-linejoin="round"/>
<polyline points="213.8,2025.72 222.8,1980.13 231.8,1920.48 240.8,1889.34 249.8,1901.72" fill="none" stroke="#000" stroke-width="2.3" stroke-linejoin="round"/>
<polyline points="267.8,1909.78 276.8,1893.46 285.8,1915.79 294.8,1911.66 303.8,1894.96" fill="none" stroke="#000" stroke-width="2.3" stroke-linejoin="round"/>
<polyline points="321.8,1907.72 330.8,1905.84 339.8,1891.02 348.8,1909.6 357.8,1896.28 366.8,1882.96 375.8,1875.83 384.8,1879.39 393.8,1886.71 402.8,1888.59 411.8,1915.79 420.8,1906.22 429.8,1922.73 438.8,1907.16 447.8,1899.84" fill="none" stroke="#000" stroke-width="2.3" stroke-linejoin="round"/>
<line x1="159.8" y1="2027.6" x2="159.8" y2="2031.35" stroke="#000" stroke-width="2.1"/>
<line x1="157.2" y1="2027.6" x2="162.4" y2="2027.6" stroke="#000" stroke-width="2.4"/>
<line x1="157.2" y1="2031.35" x2="162.4" y2="2031.35" stroke="#000" stroke-width="2.4"/>
<circle cx="159.8" cy="2029.47" r="4.9" fill="#000"/>
<line x1="168.8" y1="2027.6" x2="168.8" y2="2031.35" stroke="#000" stroke-width="2.1"/>
<line x1="166.2" y1="2027.6" x2="171.4" y2="2027.6" stroke="#000" stroke-width="2.4"/>
<line x1="166.2" y1="2031.35" x2="171.4" y2="2031.35" stroke="#000" stroke-width="2.4"/>
<circle cx="168.8" cy="2029.47" r="4.9" fill="#000"/>
<line x1="177.8" y1="2032.66" x2="177.8" y2="2034.54" stroke="#000" stroke-width="2.1"/>
<line x1="175.2" y1="2032.66" x2="180.4" y2="2032.66" stroke="#000" stroke-width="2.4"/>
<line x1="175.2" y1="2034.54" x2="180.4" y2="2034.54" stroke="#000" stroke-width="2.4"/>
<circle cx="177.8" cy="2033.6" r="4.9" fill="#000"/>
<line x1="186.8" y1="2029.29" x2="186.8" y2="2033.04" stroke="#000" stroke-width="2.1"/>
<line x1="184.2" y1="2029.29" x2="189.4" y2="2029.29" stroke="#000" stroke-width="2.4"/>
<line x1="184.2" y1="2033.04" x2="189.4" y2="2033.04" stroke="#000" stroke-width="2.4"/>
<circle cx="186.8" cy="2031.16" r="4.9" fill="#000"/>
<line x1="195.8" y1="2027.6" x2="195.8" y2="2031.35" stroke="#000" stroke-width="2.1"/>
<line x1="193.2" y1="2027.6" x2="198.4" y2="2027.6" stroke="#000" stroke-width="2.4"/>
<line x1="193.2" y1="2031.35" x2="198.4" y2="2031.35" stroke="#000" stroke-width="2.4"/>
<circle cx="195.8" cy="2029.47" r="4.9" fill="#000"/>
<line x1="213.8" y1="2023.84" x2="213.8" y2="2027.6" stroke="#000" stroke-width="2.1"/>
<line x1="211.2" y1="2023.84" x2="216.4" y2="2023.84" stroke="#000" stroke-width="2.4"/>
<line x1="211.2" y1="2027.6" x2="216.4" y2="2027.6" stroke="#000" stroke-width="2.4"/>
<circle cx="213.8" cy="2025.72" r="4.9" fill="#000"/>
<line x1="222.8" y1="1965.13" x2="222.8" y2="1995.14" stroke="#000" stroke-width="2.1"/>
<line x1="220.2" y1="1965.13" x2="225.4" y2="1965.13" stroke="#000" stroke-width="2.4"/>
<line x1="220.2" y1="1995.14" x2="225.4" y2="1995.14" stroke="#000" stroke-width="2.4"/>
<circle cx="222.8" cy="1980.13" r="4.9" fill="#000"/>
<line x1="231.8" y1="1905.47" x2="231.8" y2="1935.49" stroke="#000" stroke-width="2.1"/>
<line x1="229.2" y1="1905.47" x2="234.4" y2="1905.47" stroke="#000" stroke-width="2.4"/>
<line x1="229.2" y1="1935.49" x2="234.4" y2="1935.49" stroke="#000" stroke-width="2.4"/>
<circle cx="231.8" cy="1920.48" r="4.9" fill="#000"/>
<line x1="240.8" y1="1874.33" x2="240.8" y2="1904.34" stroke="#000" stroke-width="2.1"/>
<line x1="238.2" y1="1874.33" x2="243.4" y2="1874.33" stroke="#000" stroke-width="2.4"/>
<line x1="238.2" y1="1904.34" x2="243.4" y2="1904.34" stroke="#000" stroke-width="2.4"/>
<circle cx="240.8" cy="1889.34" r="4.9" fill="#000"/>
<line x1="249.8" y1="1889.34" x2="249.8" y2="1914.1" stroke="#000" stroke-width="2.1"/>
<line x1="247.2" y1="1889.34" x2="252.4" y2="1889.34" stroke="#000" stroke-width="2.4"/>
<line x1="247.2" y1="1914.1" x2="252.4" y2="1914.1" stroke="#000" stroke-width="2.4"/>
<circle cx="249.8" cy="1901.72" r="4.9" fill="#000"/>
<line x1="267.8" y1="1894.4" x2="267.8" y2="1925.17" stroke="#000" stroke-width="2.1"/>
<line x1="265.2" y1="1894.4" x2="270.4" y2="1894.4" stroke="#000" stroke-width="2.4"/>
<line x1="265.2" y1="1925.17" x2="270.4" y2="1925.17" stroke="#000" stroke-width="2.4"/>
<circle cx="267.8" cy="1909.78" r="4.9" fill="#000"/>
<line x1="276.8" y1="1879.21" x2="276.8" y2="1907.72" stroke="#000" stroke-width="2.1"/>
<line x1="274.2" y1="1879.21" x2="279.4" y2="1879.21" stroke="#000" stroke-width="2.4"/>
<line x1="274.2" y1="1907.72" x2="279.4" y2="1907.72" stroke="#000" stroke-width="2.4"/>
<circle cx="276.8" cy="1893.46" r="4.9" fill="#000"/>
<line x1="285.8" y1="1901.53" x2="285.8" y2="1930.04" stroke="#000" stroke-width="2.1"/>
<line x1="283.2" y1="1901.53" x2="288.4" y2="1901.53" stroke="#000" stroke-width="2.4"/>
<line x1="283.2" y1="1930.04" x2="288.4" y2="1930.04" stroke="#000" stroke-width="2.4"/>
<circle cx="285.8" cy="1915.79" r="4.9" fill="#000"/>
<line x1="294.8" y1="1894.96" x2="294.8" y2="1928.36" stroke="#000" stroke-width="2.1"/>
<line x1="292.2" y1="1894.96" x2="297.4" y2="1894.96" stroke="#000" stroke-width="2.4"/>
<line x1="292.2" y1="1928.36" x2="297.4" y2="1928.36" stroke="#000" stroke-width="2.4"/>
<circle cx="294.8" cy="1911.66" r="4.9" fill="#000"/>
<line x1="303.8" y1="1877.14" x2="303.8" y2="1912.79" stroke="#000" stroke-width="2.1"/>
<line x1="301.2" y1="1877.14" x2="306.4" y2="1877.14" stroke="#000" stroke-width="2.4"/>
<line x1="301.2" y1="1912.79" x2="306.4" y2="1912.79" stroke="#000" stroke-width="2.4"/>
<circle cx="303.8" cy="1894.96" r="4.9" fill="#000"/>
<line x1="321.8" y1="1894.03" x2="321.8" y2="1921.42" stroke="#000" stroke-width="2.1"/>
<line x1="319.2" y1="1894.03" x2="324.4" y2="1894.03" stroke="#000" stroke-width="2.4"/>
<line x1="319.2" y1="1921.42" x2="324.4" y2="1921.42" stroke="#000" stroke-width="2.4"/>
<circle cx="321.8" cy="1907.72" r="4.9" fill="#000"/>
<line x1="330.8" y1="1889.34" x2="330.8" y2="1922.35" stroke="#000" stroke-width="2.1"/>
<line x1="328.2" y1="1889.34" x2="333.4" y2="1889.34" stroke="#000" stroke-width="2.4"/>
<line x1="328.2" y1="1922.35" x2="333.4" y2="1922.35" stroke="#000" stroke-width="2.4"/>
<circle cx="330.8" cy="1905.84" r="4.9" fill="#000"/>
<line x1="339.8" y1="1878.83" x2="339.8" y2="1903.22" stroke="#000" stroke-width="2.1"/>
<line x1="337.2" y1="1878.83" x2="342.4" y2="1878.83" stroke="#000" stroke-width="2.4"/>
<line x1="337.2" y1="1903.22" x2="342.4" y2="1903.22" stroke="#000" stroke-width="2.4"/>
<circle cx="339.8" cy="1891.02" r="4.9" fill="#000"/>
<line x1="348.8" y1="1899.28" x2="348.8" y2="1919.91" stroke="#000" stroke-width="2.1"/>
<line x1="346.2" y1="1899.28" x2="351.4" y2="1899.28" stroke="#000" stroke-width="2.4"/>
<line x1="346.2" y1="1919.91" x2="351.4" y2="1919.91" stroke="#000" stroke-width="2.4"/>
<circle cx="348.8" cy="1909.6" r="4.9" fill="#000"/>
<line x1="357.8" y1="1882.02" x2="357.8" y2="1910.53" stroke="#000" stroke-width="2.1"/>
<line x1="355.2" y1="1882.02" x2="360.4" y2="1882.02" stroke="#000" stroke-width="2.4"/>
<line x1="355.2" y1="1910.53" x2="360.4" y2="1910.53" stroke="#000" stroke-width="2.4"/>
<circle cx="357.8" cy="1896.28" r="4.9" fill="#000"/>
<line x1="366.8" y1="1869.26" x2="366.8" y2="1896.65" stroke="#000" stroke-width="2.1"/>
<line x1="364.2" y1="1869.26" x2="369.4" y2="1869.26" stroke="#000" stroke-width="2.4"/>
<line x1="364.2" y1="1896.65" x2="369.4" y2="1896.65" stroke="#000" stroke-width="2.4"/>
<circle cx="366.8" cy="1882.96" r="4.9" fill="#000"/>
<line x1="375.8" y1="1862.88" x2="375.8" y2="1888.77" stroke="#000" stroke-width="2.1"/>
<line x1="373.2" y1="1862.88" x2="378.4" y2="1862.88" stroke="#000" stroke-width="2.4"/>
<line x1="373.2" y1="1888.77" x2="378.4" y2="1888.77" stroke="#000" stroke-width="2.4"/>
<circle cx="375.8" cy="1875.83" r="4.9" fill="#000"/>
<line x1="384.8" y1="1866.82" x2="384.8" y2="1891.96" stroke="#000" stroke-width="2.1"/>
<line x1="382.2" y1="1866.82" x2="387.4" y2="1866.82" stroke="#000" stroke-width="2.4"/>
<line x1="382.2" y1="1891.96" x2="387.4" y2="1891.96" stroke="#000" stroke-width="2.4"/>
<circle cx="384.8" cy="1879.39" r="4.9" fill="#000"/>
<line x1="393.8" y1="1870.76" x2="393.8" y2="1902.66" stroke="#000" stroke-width="2.1"/>
<line x1="391.2" y1="1870.76" x2="396.4" y2="1870.76" stroke="#000" stroke-width="2.4"/>
<line x1="391.2" y1="1902.66" x2="396.4" y2="1902.66" stroke="#000" stroke-width="2.4"/>
<circle cx="393.8" cy="1886.71" r="4.9" fill="#000"/>
<line x1="402.8" y1="1876.39" x2="402.8" y2="1900.78" stroke="#000" stroke-width="2.1"/>
<line x1="400.2" y1="1876.39" x2="405.4" y2="1876.39" stroke="#000" stroke-width="2.4"/>
<line x1="400.2" y1="1900.78" x2="405.4" y2="1900.78" stroke="#000" stroke-width="2.4"/>
<circle cx="402.8" cy="1888.59" r="4.9" fill="#000"/>
<line x1="411.8" y1="1897.78" x2="411.8" y2="1933.8" stroke="#000" stroke-width="2.1"/>
<line x1="409.2" y1="1897.78" x2="414.4" y2="1897.78" stroke="#000" stroke-width="2.4"/>
<line x1="409.2" y1="1933.8" x2="414.4" y2="1933.8" stroke="#000" stroke-width="2.4"/>
<circle cx="411.8" cy="1915.79" r="4.9" fill="#000"/>
<line x1="420.8" y1="1891.59" x2="420.8" y2="1920.85" stroke="#000" stroke-width="2.1"/>
<line x1="418.2" y1="1891.59" x2="423.4" y2="1891.59" stroke="#000" stroke-width="2.4"/>
<line x1="418.2" y1="1920.85" x2="423.4" y2="1920.85" stroke="#000" stroke-width="2.4"/>
<circle cx="420.8" cy="1906.22" r="4.9" fill="#000"/>
<line x1="429.8" y1="1909.41" x2="429.8" y2="1936.05" stroke="#000" stroke-width="2.1"/>
<line x1="427.2" y1="1909.41" x2="432.4" y2="1909.41" stroke="#000" stroke-width="2.4"/>
<line x1="427.2" y1="1936.05" x2="432.4" y2="1936.05" stroke="#000" stroke-width="2.4"/>
<circle cx="429.8" cy="1922.73" r="4.9" fill="#000"/>
<line x1="438.8" y1="1887.83" x2="438.8" y2="1926.48" stroke="#000" stroke-width="2.1"/>
<line x1="436.2" y1="1887.83" x2="441.4" y2="1887.83" stroke="#000" stroke-width="2.4"/>
<line x1="436.2" y1="1926.48" x2="441.4" y2="1926.48" stroke="#000" stroke-width="2.4"/>
<circle cx="438.8" cy="1907.16" r="4.9" fill="#000"/>
<line x1="447.8" y1="1880.71" x2="447.8" y2="1918.98" stroke="#000" stroke-width="2.1"/>
<line x1="445.2" y1="1880.71" x2="450.4" y2="1880.71" stroke="#000" stroke-width="2.4"/>
<line x1="445.2" y1="1918.98" x2="450.4" y2="1918.98" stroke="#000" stroke-width="2.4"/>
<circle cx="447.8" cy="1899.84" r="4.9" fill="#000"/>
<text transform="translate(93.2,1941.3) rotate(-90) scale(1.0,1)" font-size="22.6" text-anchor="middle" fill="#000" stroke="#000" stroke-width="0.35">% freezing</text>
<text x="6.5" y="2098.7" font-size="32" text-anchor="start" fill="#000" stroke="#000" stroke-width="0.35">Group4</text>
<line x1="6.3" y1="2102" x2="110.6" y2="2102" stroke="#000" stroke-width="1.8"/>
<line x1="150.8" y1="2275.38" x2="457.6" y2="2275.38" stroke="#a6a6a6" stroke-width="1.5"/>
<line x1="150.8" y1="2237.86" x2="457.6" y2="2237.86" stroke="#a6a6a6" stroke-width="1.5"/>
<line x1="150.8" y1="2200.34" x2="457.6" y2="2200.34" stroke="#a6a6a6" stroke-width="1.5"/>
<line x1="150.8" y1="2162.82" x2="457.6" y2="2162.82" stroke="#a6a6a6" stroke-width="1.5"/>
<line x1="150.8" y1="2125.3" x2="457.6" y2="2125.3" stroke="#a6a6a6" stroke-width="1.5"/>
<text transform="translate(135.5,2318.66) scale(1.03,1)" font-size="16" text-anchor="end" fill="#000" stroke="#000" stroke-width="0.35">0</text>
<text transform="translate(135.5,2281.14) scale(1.03,1)" font-size="16" text-anchor="end" fill="#000" stroke="#000" stroke-width="0.35">20</text>
<text transform="translate(135.5,2243.62) scale(1.03,1)" font-size="16" text-anchor="end" fill="#000" stroke="#000" stroke-width="0.35">40</text>
<text transform="translate(135.5,2206.1) scale(1.03,1)" font-size="16" text-anchor="end" fill="#000" stroke="#000" stroke-width="0.35">60</text>
<text transform="translate(135.5,2168.58) scale(1.03,1)" font-size="16" text-anchor="end" fill="#000" stroke="#000" stroke-width="0.35">80</text>
<text transform="translate(135.5,2131.06) scale(1.03,1)" font-size="16" text-anchor="end" fill="#000" stroke="#000" stroke-width="0.35">100</text>
<line x1="150.8" y1="2124.8" x2="150.8" y2="2314.1" stroke="#000" stroke-width="2.6"/>
<line x1="149.5" y1="2312.9" x2="458.1" y2="2312.9" stroke="#000" stroke-width="2.6"/>
<line x1="159.8" y1="2312.9" x2="159.8" y2="2316.1" stroke="#000" stroke-width="1.8"/>
<line x1="168.8" y1="2312.9" x2="168.8" y2="2316.1" stroke="#000" stroke-width="1.8"/>
<line x1="177.8" y1="2312.9" x2="177.8" y2="2316.1" stroke="#000" stroke-width="1.8"/>
<line x1="186.8" y1="2312.9" x2="186.8" y2="2316.1" stroke="#000" stroke-width="1.8"/>
<line x1="195.8" y1="2312.9" x2="195.8" y2="2316.1" stroke="#000" stroke-width="1.8"/>
<line x1="204.8" y1="2312.9" x2="204.8" y2="2316.1" stroke="#000" stroke-width="1.8"/>
<line x1="213.8" y1="2312.9" x2="213.8" y2="2316.1" stroke="#000" stroke-width="1.8"/>
<line x1="222.8" y1="2312.9" x2="222.8" y2="2316.1" stroke="#000" stroke-width="1.8"/>
<line x1="231.8" y1="2312.9" x2="231.8" y2="2316.1" stroke="#000" stroke-width="1.8"/>
<line x1="240.8" y1="2312.9" x2="240.8" y2="2316.1" stroke="#000" stroke-width="1.8"/>
<line x1="249.8" y1="2312.9" x2="249.8" y2="2316.1" stroke="#000" stroke-width="1.8"/>
<line x1="258.8" y1="2312.9" x2="258.8" y2="2316.1" stroke="#000" stroke-width="1.8"/>
<line x1="267.8" y1="2312.9" x2="267.8" y2="2316.1" stroke="#000" stroke-width="1.8"/>
<line x1="276.8" y1="2312.9" x2="276.8" y2="2316.1" stroke="#000" stroke-width="1.8"/>
<line x1="285.8" y1="2312.9" x2="285.8" y2="2316.1" stroke="#000" stroke-width="1.8"/>
<line x1="294.8" y1="2312.9" x2="294.8" y2="2316.1" stroke="#000" stroke-width="1.8"/>
<line x1="303.8" y1="2312.9" x2="303.8" y2="2316.1" stroke="#000" stroke-width="1.8"/>
<line x1="312.8" y1="2312.9" x2="312.8" y2="2316.1" stroke="#000" stroke-width="1.8"/>
<line x1="321.8" y1="2312.9" x2="321.8" y2="2316.1" stroke="#000" stroke-width="1.8"/>
<line x1="330.8" y1="2312.9" x2="330.8" y2="2316.1" stroke="#000" stroke-width="1.8"/>
<line x1="339.8" y1="2312.9" x2="339.8" y2="2316.1" stroke="#000" stroke-width="1.8"/>
<line x1="348.8" y1="2312.9" x2="348.8" y2="2316.1" stroke="#000" stroke-width="1.8"/>
<line x1="357.8" y1="2312.9" x2="357.8" y2="2316.1" stroke="#000" stroke-width="1.8"/>
<line x1="366.8" y1="2312.9" x2="366.8" y2="2316.1" stroke="#000" stroke-width="1.8"/>
<line x1="375.8" y1="2312.9" x2="375.8" y2="2316.1" stroke="#000" stroke-width="1.8"/>
<line x1="384.8" y1="2312.9" x2="384.8" y2="2316.1" stroke="#000" stroke-width="1.8"/>
<line x1="393.8" y1="2312.9" x2="393.8" y2="2316.1" stroke="#000" stroke-width="1.8"/>
<line x1="402.8" y1="2312.9" x2="402.8" y2="2316.1" stroke="#000" stroke-width="1.8"/>
<line x1="411.8" y1="2312.9" x2="411.8" y2="2316.1" stroke="#000" stroke-width="1.8"/>
<line x1="420.8" y1="2312.9" x2="420.8" y2="2316.1" stroke="#000" stroke-width="1.8"/>
<line x1="429.8" y1="2312.9" x2="429.8" y2="2316.1" stroke="#000" stroke-width="1.8"/>
<line x1="438.8" y1="2312.9" x2="438.8" y2="2316.1" stroke="#000" stroke-width="1.8"/>
<line x1="447.8" y1="2312.9" x2="447.8" y2="2316.1" stroke="#000" stroke-width="1.8"/>
<line x1="456.8" y1="2312.9" x2="456.8" y2="2316.1" stroke="#000" stroke-width="1.8"/>
<polyline points="159.8,2301.64 168.8,2301.08 177.8,2311.59 186.8,2303.14 195.8,2310.46" fill="none" stroke="#000" stroke-width="2.3" stroke-linejoin="round"/>
<polyline points="213.8,2311.4 222.8,2269.94 231.8,2204.28 240.8,2169.57 249.8,2201.65" fill="none" stroke="#000" stroke-width="2.3" stroke-linejoin="round"/>
<polyline points="267.8,2136.37 276.8,2193.77 285.8,2202.78 294.8,2190.21 303.8,2167.51" fill="none" stroke="#000" stroke-width="2.3" stroke-linejoin="round"/>
<polyline points="321.8,2202.4 330.8,2172.39 339.8,2162.26 348.8,2175.2 357.8,2167.51 366.8,2208.03 375.8,2174.26 384.8,2175.2 393.8,2156.82 402.8,2154.57 411.8,2183.83 420.8,2189.65 429.8,2191.15 438.8,2176.89 447.8,2194.34" fill="none" stroke="#000" stroke-width="2.3" stroke-linejoin="round"/>
<line x1="159.8" y1="2296.95" x2="159.8" y2="2306.33" stroke="#000" stroke-width="2.1"/>
<line x1="157.2" y1="2296.95" x2="162.4" y2="2296.95" stroke="#000" stroke-width="2.4"/>
<line x1="157.2" y1="2306.33" x2="162.4" y2="2306.33" stroke="#000" stroke-width="2.4"/>
<circle cx="159.8" cy="2301.64" r="4.9" fill="#000"/>
<line x1="168.8" y1="2298.27" x2="168.8" y2="2303.9" stroke="#000" stroke-width="2.1"/>
<line x1="166.2" y1="2298.27" x2="171.4" y2="2298.27" stroke="#000" stroke-width="2.4"/>
<line x1="166.2" y1="2303.9" x2="171.4" y2="2303.9" stroke="#000" stroke-width="2.4"/>
<circle cx="168.8" cy="2301.08" r="4.9" fill="#000"/>
<line x1="177.8" y1="2309.71" x2="177.8" y2="2313.46" stroke="#000" stroke-width="2.1"/>
<line x1="175.2" y1="2309.71" x2="180.4" y2="2309.71" stroke="#000" stroke-width="2.4"/>
<line x1="175.2" y1="2313.46" x2="180.4" y2="2313.46" stroke="#000" stroke-width="2.4"/>
<circle cx="177.8" cy="2311.59" r="4.9" fill="#000"/>
<line x1="186.8" y1="2298.45" x2="186.8" y2="2307.83" stroke="#000" stroke-width="2.1"/>
<line x1="184.2" y1="2298.45" x2="189.4" y2="2298.45" stroke="#000" stroke-width="2.4"/>
<line x1="184.2" y1="2307.83" x2="189.4" y2="2307.83" stroke="#000" stroke-width="2.4"/>
<circle cx="186.8" cy="2303.14" r="4.9" fill="#000"/>
<line x1="195.8" y1="2308.59" x2="195.8" y2="2312.34" stroke="#000" stroke-width="2.1"/>
<line x1="193.2" y1="2308.59" x2="198.4" y2="2308.59" stroke="#000" stroke-width="2.4"/>
<line x1="193.2" y1="2312.34" x2="198.4" y2="2312.34" stroke="#000" stroke-width="2.4"/>
<circle cx="195.8" cy="2310.46" r="4.9" fill="#000"/>
<line x1="213.8" y1="2309.52" x2="213.8" y2="2313.28" stroke="#000" stroke-width="2.1"/>
<line x1="211.2" y1="2309.52" x2="216.4" y2="2309.52" stroke="#000" stroke-width="2.4"/>
<line x1="211.2" y1="2313.28" x2="216.4" y2="2313.28" stroke="#000" stroke-width="2.4"/>
<circle cx="213.8" cy="2311.4" r="4.9" fill="#000"/>
<line x1="222.8" y1="2254.93" x2="222.8" y2="2284.95" stroke="#000" stroke-width="2.1"/>
<line x1="220.2" y1="2254.93" x2="225.4" y2="2254.93" stroke="#000" stroke-width="2.4"/>
<line x1="220.2" y1="2284.95" x2="225.4" y2="2284.95" stroke="#000" stroke-width="2.4"/>
<circle cx="222.8" cy="2269.94" r="4.9" fill="#000"/>
<line x1="231.8" y1="2197.9" x2="231.8" y2="2210.66" stroke="#000" stroke-width="2.1"/>
<line x1="229.2" y1="2197.9" x2="234.4" y2="2197.9" stroke="#000" stroke-width="2.4"/>
<line x1="229.2" y1="2210.66" x2="234.4" y2="2210.66" stroke="#000" stroke-width="2.4"/>
<circle cx="231.8" cy="2204.28" r="4.9" fill="#000"/>
<line x1="240.8" y1="2160.38" x2="240.8" y2="2178.77" stroke="#000" stroke-width="2.1"/>
<line x1="238.2" y1="2160.38" x2="243.4" y2="2160.38" stroke="#000" stroke-width="2.4"/>
<line x1="238.2" y1="2178.77" x2="243.4" y2="2178.77" stroke="#000" stroke-width="2.4"/>
<circle cx="240.8" cy="2169.57" r="4.9" fill="#000"/>
<line x1="249.8" y1="2182.14" x2="249.8" y2="2221.16" stroke="#000" stroke-width="2.1"/>
<line x1="247.2" y1="2182.14" x2="252.4" y2="2182.14" stroke="#000" stroke-width="2.4"/>
<line x1="247.2" y1="2221.16" x2="252.4" y2="2221.16" stroke="#000" stroke-width="2.4"/>
<circle cx="249.8" cy="2201.65" r="4.9" fill="#000"/>
<line x1="267.8" y1="2130.18" x2="267.8" y2="2142.56" stroke="#000" stroke-width="2.1"/>
<line x1="265.2" y1="2130.18" x2="270.4" y2="2130.18" stroke="#000" stroke-width="2.4"/>
<line x1="265.2" y1="2142.56" x2="270.4" y2="2142.56" stroke="#000" stroke-width="2.4"/>
<circle cx="267.8" cy="2136.37" r="4.9" fill="#000"/>
<line x1="276.8" y1="2180.64" x2="276.8" y2="2206.91" stroke="#000" stroke-width="2.1"/>
<line x1="274.2" y1="2180.64" x2="279.4" y2="2180.64" stroke="#000" stroke-width="2.4"/>
<line x1="274.2" y1="2206.91" x2="279.4" y2="2206.91" stroke="#000" stroke-width="2.4"/>
<circle cx="276.8" cy="2193.77" r="4.9" fill="#000"/>
<line x1="285.8" y1="2187.21" x2="285.8" y2="2218.35" stroke="#000" stroke-width="2.1"/>
<line x1="283.2" y1="2187.21" x2="288.4" y2="2187.21" stroke="#000" stroke-width="2.4"/>
<line x1="283.2" y1="2218.35" x2="288.4" y2="2218.35" stroke="#000" stroke-width="2.4"/>
<circle cx="285.8" cy="2202.78" r="4.9" fill="#000"/>
<line x1="294.8" y1="2168.64" x2="294.8" y2="2211.78" stroke="#000" stroke-width="2.1"/>
<line x1="292.2" y1="2168.64" x2="297.4" y2="2168.64" stroke="#000" stroke-width="2.4"/>
<line x1="292.2" y1="2211.78" x2="297.4" y2="2211.78" stroke="#000" stroke-width="2.4"/>
<circle cx="294.8" cy="2190.21" r="4.9" fill="#000"/>
<line x1="303.8" y1="2152.88" x2="303.8" y2="2182.14" stroke="#000" stroke-width="2.1"/>
<line x1="301.2" y1="2152.88" x2="306.4" y2="2152.88" stroke="#000" stroke-width="2.4"/>
<line x1="301.2" y1="2182.14" x2="306.4" y2="2182.14" stroke="#000" stroke-width="2.4"/>
<circle cx="303.8" cy="2167.51" r="4.9" fill="#000"/>
<line x1="321.8" y1="2184.39" x2="321.8" y2="2220.41" stroke="#000" stroke-width="2.1"/>
<line x1="319.2" y1="2184.39" x2="324.4" y2="2184.39" stroke="#000" stroke-width="2.4"/>
<line x1="319.2" y1="2220.41" x2="324.4" y2="2220.41" stroke="#000" stroke-width="2.4"/>
<circle cx="321.8" cy="2202.4" r="4.9" fill="#000"/>
<line x1="330.8" y1="2158.32" x2="330.8" y2="2186.46" stroke="#000" stroke-width="2.1"/>
<line x1="328.2" y1="2158.32" x2="333.4" y2="2158.32" stroke="#000" stroke-width="2.4"/>
<line x1="328.2" y1="2186.46" x2="333.4" y2="2186.46" stroke="#000" stroke-width="2.4"/>
<circle cx="330.8" cy="2172.39" r="4.9" fill="#000"/>
<line x1="339.8" y1="2150.63" x2="339.8" y2="2173.89" stroke="#000" stroke-width="2.1"/>
<line x1="337.2" y1="2150.63" x2="342.4" y2="2150.63" stroke="#000" stroke-width="2.4"/>
<line x1="337.2" y1="2173.89" x2="342.4" y2="2173.89" stroke="#000" stroke-width="2.4"/>
<circle cx="339.8" cy="2162.26" r="4.9" fill="#000"/>
<line x1="348.8" y1="2158.69" x2="348.8" y2="2191.71" stroke="#000" stroke-width="2.1"/>
<line x1="346.2" y1="2158.69" x2="351.4" y2="2158.69" stroke="#000" stroke-width="2.4"/>
<line x1="346.2" y1="2191.71" x2="351.4" y2="2191.71" stroke="#000" stroke-width="2.4"/>
<circle cx="348.8" cy="2175.2" r="4.9" fill="#000"/>
<line x1="357.8" y1="2152.13" x2="357.8" y2="2182.89" stroke="#000" stroke-width="2.1"/>
<line x1="355.2" y1="2152.13" x2="360.4" y2="2152.13" stroke="#000" stroke-width="2.4"/>
<line x1="355.2" y1="2182.89" x2="360.4" y2="2182.89" stroke="#000" stroke-width="2.4"/>
<circle cx="357.8" cy="2167.51" r="4.9" fill="#000"/>
<line x1="366.8" y1="2189.83" x2="366.8" y2="2226.23" stroke="#000" stroke-width="2.1"/>
<line x1="364.2" y1="2189.83" x2="369.4" y2="2189.83" stroke="#000" stroke-width="2.4"/>
<line x1="364.2" y1="2226.23" x2="369.4" y2="2226.23" stroke="#000" stroke-width="2.4"/>
<circle cx="366.8" cy="2208.03" r="4.9" fill="#000"/>
<line x1="375.8" y1="2160.57" x2="375.8" y2="2187.96" stroke="#000" stroke-width="2.1"/>
<line x1="373.2" y1="2160.57" x2="378.4" y2="2160.57" stroke="#000" stroke-width="2.4"/>
<line x1="373.2" y1="2187.96" x2="378.4" y2="2187.96" stroke="#000" stroke-width="2.4"/>
<circle cx="375.8" cy="2174.26" r="4.9" fill="#000"/>
<line x1="384.8" y1="2158.69" x2="384.8" y2="2191.71" stroke="#000" stroke-width="2.1"/>
<line x1="382.2" y1="2158.69" x2="387.4" y2="2158.69" stroke="#000" stroke-width="2.4"/>
<line x1="382.2" y1="2191.71" x2="387.4" y2="2191.71" stroke="#000" stroke-width="2.4"/>
<circle cx="384.8" cy="2175.2" r="4.9" fill="#000"/>
<line x1="393.8" y1="2144.25" x2="393.8" y2="2169.39" stroke="#000" stroke-width="2.1"/>
<line x1="391.2" y1="2144.25" x2="396.4" y2="2144.25" stroke="#000" stroke-width="2.4"/>
<line x1="391.2" y1="2169.39" x2="396.4" y2="2169.39" stroke="#000" stroke-width="2.4"/>
<circle cx="393.8" cy="2156.82" r="4.9" fill="#000"/>
<line x1="402.8" y1="2145.19" x2="402.8" y2="2163.95" stroke="#000" stroke-width="2.1"/>
<line x1="400.2" y1="2145.19" x2="405.4" y2="2145.19" stroke="#000" stroke-width="2.4"/>
<line x1="400.2" y1="2163.95" x2="405.4" y2="2163.95" stroke="#000" stroke-width="2.4"/>
<circle cx="402.8" cy="2154.57" r="4.9" fill="#000"/>
<line x1="411.8" y1="2168.07" x2="411.8" y2="2199.59" stroke="#000" stroke-width="2.1"/>
<line x1="409.2" y1="2168.07" x2="414.4" y2="2168.07" stroke="#000" stroke-width="2.4"/>
<line x1="409.2" y1="2199.59" x2="414.4" y2="2199.59" stroke="#000" stroke-width="2.4"/>
<circle cx="411.8" cy="2183.83" r="4.9" fill="#000"/>
<line x1="420.8" y1="2175.01" x2="420.8" y2="2204.28" stroke="#000" stroke-width="2.1"/>
<line x1="418.2" y1="2175.01" x2="423.4" y2="2175.01" stroke="#000" stroke-width="2.4"/>
<line x1="418.2" y1="2204.28" x2="423.4" y2="2204.28" stroke="#000" stroke-width="2.4"/>
<circle cx="420.8" cy="2189.65" r="4.9" fill="#000"/>
<line x1="429.8" y1="2176.14" x2="429.8" y2="2206.16" stroke="#000" stroke-width="2.1"/>
<line x1="427.2" y1="2176.14" x2="432.4" y2="2176.14" stroke="#000" stroke-width="2.4"/>
<line x1="427.2" y1="2206.16" x2="432.4" y2="2206.16" stroke="#000" stroke-width="2.4"/>
<circle cx="429.8" cy="2191.15" r="4.9" fill="#000"/>
<line x1="438.8" y1="2160.19" x2="438.8" y2="2193.59" stroke="#000" stroke-width="2.1"/>
<line x1="436.2" y1="2160.19" x2="441.4" y2="2160.19" stroke="#000" stroke-width="2.4"/>
<line x1="436.2" y1="2193.59" x2="441.4" y2="2193.59" stroke="#000" stroke-width="2.4"/>
<circle cx="438.8" cy="2176.89" r="4.9" fill="#000"/>
<line x1="447.8" y1="2176.14" x2="447.8" y2="2212.53" stroke="#000" stroke-width="2.1"/>
<line x1="445.2" y1="2176.14" x2="450.4" y2="2176.14" stroke="#000" stroke-width="2.4"/>
<line x1="445.2" y1="2212.53" x2="450.4" y2="2212.53" stroke="#000" stroke-width="2.4"/>
<circle cx="447.8" cy="2194.34" r="4.9" fill="#000"/>
<text transform="translate(93.2,2220.6) rotate(-90) scale(1.0,1)" font-size="22.6" text-anchor="middle" fill="#000" stroke="#000" stroke-width="0.35">% freezing</text>
<text x="455.2" y="2350" font-size="22.4" text-anchor="end" fill="#000" stroke="#000" stroke-width="0.35">Trials</text>
<text transform="translate(481.5,1214.7) scale(0.99,1)" font-size="53" text-anchor="start" fill="#000" stroke="#000" stroke-width="0.35">B2</text>
<text transform="translate(698.5,1229) scale(1.035,1)" font-size="27" text-anchor="middle" fill="#000" stroke="#000" stroke-width="0.35">Jumps</text>
<text transform="translate(554.9,1262.5) scale(1.05,1)" font-size="19" text-anchor="start" fill="#000" stroke="#000" stroke-width="0.35">Day1</text>
<line x1="554.9" y1="1267.4" x2="601.7" y2="1267.4" stroke="#000" stroke-width="3.0"/>
<text transform="translate(611.7,1262.5) scale(1.05,1)" font-size="19" text-anchor="start" fill="#000" stroke="#000" stroke-width="0.35">Day2</text>
<line x1="611.7" y1="1267.4" x2="658.7" y2="1267.4" stroke="#000" stroke-width="3.0"/>
<text transform="translate(669,1262.5) scale(1.05,1)" font-size="19" text-anchor="start" fill="#000" stroke="#000" stroke-width="0.35">Day3</text>
<line x1="669" y1="1267.4" x2="716" y2="1267.4" stroke="#000" stroke-width="3.0"/>
<text transform="translate(724.5,1262.5) scale(1.05,1)" font-size="19" text-anchor="start" fill="#000" stroke="#000" stroke-width="0.35">Day4</text>
<line x1="724.5" y1="1267.4" x2="866.8" y2="1267.4" stroke="#000" stroke-width="3.0"/>
<line x1="547.1" y1="1385.85" x2="872.7" y2="1385.85" stroke="#a6a6a6" stroke-width="1.5"/>
<line x1="547.1" y1="1292" x2="872.7" y2="1292" stroke="#a6a6a6" stroke-width="1.5"/>
<text transform="translate(531,1485.46) scale(1.03,1)" font-size="16" text-anchor="end" fill="#000" stroke="#000" stroke-width="0.35">0</text>
<text transform="translate(531,1391.61) scale(1.03,1)" font-size="16" text-anchor="end" fill="#000" stroke="#000" stroke-width="0.35">2</text>
<text transform="translate(531,1297.76) scale(1.03,1)" font-size="16" text-anchor="end" fill="#000" stroke="#000" stroke-width="0.35">4</text>
<line x1="547.1" y1="1291.5" x2="547.1" y2="1480.9" stroke="#000" stroke-width="2.6"/>
<line x1="545.8" y1="1479.7" x2="873.2" y2="1479.7" stroke="#000" stroke-width="2.6"/>
<line x1="556.65" y1="1479.7" x2="556.65" y2="1482.9" stroke="#000" stroke-width="1.8"/>
<line x1="566.2" y1="1479.7" x2="566.2" y2="1482.9" stroke="#000" stroke-width="1.8"/>
<line x1="575.75" y1="1479.7" x2="575.75" y2="1482.9" stroke="#000" stroke-width="1.8"/>
<line x1="585.3" y1="1479.7" x2="585.3" y2="1482.9" stroke="#000" stroke-width="1.8"/>
<line x1="594.85" y1="1479.7" x2="594.85" y2="1482.9" stroke="#000" stroke-width="1.8"/>
<line x1="604.4" y1="1479.7" x2="604.4" y2="1482.9" stroke="#000" stroke-width="1.8"/>
<line x1="613.95" y1="1479.7" x2="613.95" y2="1482.9" stroke="#000" stroke-width="1.8"/>
<line x1="623.5" y1="1479.7" x2="623.5" y2="1482.9" stroke="#000" stroke-width="1.8"/>
<line x1="633.05" y1="1479.7" x2="633.05" y2="1482.9" stroke="#000" stroke-width="1.8"/>
<line x1="642.6" y1="1479.7" x2="642.6" y2="1482.9" stroke="#000" stroke-width="1.8"/>
<line x1="652.15" y1="1479.7" x2="652.15" y2="1482.9" stroke="#000" stroke-width="1.8"/>
<line x1="661.7" y1="1479.7" x2="661.7" y2="1482.9" stroke="#000" stroke-width="1.8"/>
<line x1="671.25" y1="1479.7" x2="671.25" y2="1482.9" stroke="#000" stroke-width="1.8"/>
<line x1="680.8" y1="1479.7" x2="680.8" y2="1482.9" stroke="#000" stroke-width="1.8"/>
<line x1="690.35" y1="1479.7" x2="690.35" y2="1482.9" stroke="#000" stroke-width="1.8"/>
<line x1="699.9" y1="1479.7" x2="699.9" y2="1482.9" stroke="#000" stroke-width="1.8"/>
<line x1="709.45" y1="1479.7" x2="709.45" y2="1482.9" stroke="#000" stroke-width="1.8"/>
<line x1="719" y1="1479.7" x2="719" y2="1482.9" stroke="#000" stroke-width="1.8"/>
<line x1="728.55" y1="1479.7" x2="728.55" y2="1482.9" stroke="#000" stroke-width="1.8"/>
<line x1="738.1" y1="1479.7" x2="738.1" y2="1482.9" stroke="#000" stroke-width="1.8"/>
<line x1="747.65" y1="1479.7" x2="747.65" y2="1482.9" stroke="#000" stroke-width="1.8"/>
<line x1="757.2" y1="1479.7" x2="757.2" y2="1482.9" stroke="#000" stroke-width="1.8"/>
<line x1="766.75" y1="1479.7" x2="766.75" y2="1482.9" stroke="#000" stroke-width="1.8"/>
<line x1="776.3" y1="1479.7" x2="776.3" y2="1482.9" stroke="#000" stroke-width="1.8"/>
<line x1="785.85" y1="1479.7" x2="785.85" y2="1482.9" stroke="#000" stroke-width="1.8"/>
<line x1="795.4" y1="1479.7" x2="795.4" y2="1482.9" stroke="#000" stroke-width="1.8"/>
<line x1="804.95" y1="1479.7" x2="804.95" y2="1482.9" stroke="#000" stroke-width="1.8"/>
<line x1="814.5" y1="1479.7" x2="814.5" y2="1482.9" stroke="#000" stroke-width="1.8"/>
<line x1="824.05" y1="1479.7" x2="824.05" y2="1482.9" stroke="#000" stroke-width="1.8"/>
<line x1="833.6" y1="1479.7" x2="833.6" y2="1482.9" stroke="#000" stroke-width="1.8"/>
<line x1="843.15" y1="1479.7" x2="843.15" y2="1482.9" stroke="#000" stroke-width="1.8"/>
<line x1="852.7" y1="1479.7" x2="852.7" y2="1482.9" stroke="#000" stroke-width="1.8"/>
<line x1="862.25" y1="1479.7" x2="862.25" y2="1482.9" stroke="#000" stroke-width="1.8"/>
<line x1="871.8" y1="1479.7" x2="871.8" y2="1482.9" stroke="#000" stroke-width="1.8"/>
<polyline points="556.65,1479.7 566.2,1479.7 575.75,1479.7 585.3,1475.48 594.85,1475.48" fill="none" stroke="#000" stroke-width="2.3" stroke-linejoin="round"/>
<polyline points="613.95,1479.7 623.5,1479.7 633.05,1479.7 642.6,1479.7 652.15,1475.48" fill="none" stroke="#000" stroke-width="2.3" stroke-linejoin="round"/>
<polyline points="671.25,1462.81 680.8,1415.88 690.35,1433.24 699.9,1381.16 709.45,1403.21" fill="none" stroke="#000" stroke-width="2.3" stroke-linejoin="round"/>
<polyline points="728.55,1437 738.1,1437 747.65,1445.91 757.2,1437 766.75,1470.78 776.3,1462.34 785.85,1467.03 795.4,1470.78 804.95,1462.34 814.5,1470.78 824.05,1475.48 833.6,1475.48 843.15,1479.7 852.7,1479.7 862.25,1475.48" fill="none" stroke="#000" stroke-width="2.3" stroke-linejoin="round"/>
<circle cx="556.65" cy="1479.7" r="4.9" fill="#000"/>
<circle cx="566.2" cy="1479.7" r="4.9" fill="#000"/>
<circle cx="575.75" cy="1479.7" r="4.9" fill="#000"/>
<line x1="585.3" y1="1473.13" x2="585.3" y2="1477.82" stroke="#000" stroke-width="2.1"/>
<line x1="582.7" y1="1473.13" x2="587.9" y2="1473.13" stroke="#000" stroke-width="2.4"/>
<line x1="582.7" y1="1477.82" x2="587.9" y2="1477.82" stroke="#000" stroke-width="2.4"/>
<circle cx="585.3" cy="1475.48" r="4.9" fill="#000"/>
<line x1="594.85" y1="1473.13" x2="594.85" y2="1477.82" stroke="#000" stroke-width="2.1"/>
<line x1="592.25" y1="1473.13" x2="597.45" y2="1473.13" stroke="#000" stroke-width="2.4"/>
<line x1="592.25" y1="1477.82" x2="597.45" y2="1477.82" stroke="#000" stroke-width="2.4"/>
<circle cx="594.85" cy="1475.48" r="4.9" fill="#000"/>
<circle cx="613.95" cy="1479.7" r="4.9" fill="#000"/>
<circle cx="623.5" cy="1479.7" r="4.9" fill="#000"/>
<circle cx="633.05" cy="1479.7" r="4.9" fill="#000"/>
<circle cx="642.6" cy="1479.7" r="4.9" fill="#000"/>
<line x1="652.15" y1="1473.13" x2="652.15" y2="1477.82" stroke="#000" stroke-width="2.1"/>
<line x1="649.55" y1="1473.13" x2="654.75" y2="1473.13" stroke="#000" stroke-width="2.4"/>
<line x1="649.55" y1="1477.82" x2="654.75" y2="1477.82" stroke="#000" stroke-width="2.4"/>
<circle cx="652.15" cy="1475.48" r="4.9" fill="#000"/>
<line x1="671.25" y1="1455.77" x2="671.25" y2="1469.85" stroke="#000" stroke-width="2.1"/>
<line x1="668.65" y1="1455.77" x2="673.85" y2="1455.77" stroke="#000" stroke-width="2.4"/>
<line x1="668.65" y1="1469.85" x2="673.85" y2="1469.85" stroke="#000" stroke-width="2.4"/>
<circle cx="671.25" cy="1462.81" r="4.9" fill="#000"/>
<line x1="680.8" y1="1373.18" x2="680.8" y2="1458.58" stroke="#000" stroke-width="2.1"/>
<line x1="678.2" y1="1373.18" x2="683.4" y2="1373.18" stroke="#000" stroke-width="2.4"/>
<line x1="678.2" y1="1458.58" x2="683.4" y2="1458.58" stroke="#000" stroke-width="2.4"/>
<circle cx="680.8" cy="1415.88" r="4.9" fill="#000"/>
<line x1="690.35" y1="1403.68" x2="690.35" y2="1462.81" stroke="#000" stroke-width="2.1"/>
<line x1="687.75" y1="1403.68" x2="692.95" y2="1403.68" stroke="#000" stroke-width="2.4"/>
<line x1="687.75" y1="1462.81" x2="692.95" y2="1462.81" stroke="#000" stroke-width="2.4"/>
<circle cx="690.35" cy="1433.24" r="4.9" fill="#000"/>
<line x1="699.9" y1="1336.11" x2="699.9" y2="1426.21" stroke="#000" stroke-width="2.1"/>
<line x1="697.3" y1="1336.11" x2="702.5" y2="1336.11" stroke="#000" stroke-width="2.4"/>
<line x1="697.3" y1="1426.21" x2="702.5" y2="1426.21" stroke="#000" stroke-width="2.4"/>
<circle cx="699.9" cy="1381.16" r="4.9" fill="#000"/>
<line x1="709.45" y1="1378.34" x2="709.45" y2="1428.08" stroke="#000" stroke-width="2.1"/>
<line x1="706.85" y1="1378.34" x2="712.05" y2="1378.34" stroke="#000" stroke-width="2.4"/>
<line x1="706.85" y1="1428.08" x2="712.05" y2="1428.08" stroke="#000" stroke-width="2.4"/>
<circle cx="709.45" cy="1403.21" r="4.9" fill="#000"/>
<line x1="728.55" y1="1413.54" x2="728.55" y2="1460.46" stroke="#000" stroke-width="2.1"/>
<line x1="725.95" y1="1413.54" x2="731.15" y2="1413.54" stroke="#000" stroke-width="2.4"/>
<line x1="725.95" y1="1460.46" x2="731.15" y2="1460.46" stroke="#000" stroke-width="2.4"/>
<circle cx="728.55" cy="1437" r="4.9" fill="#000"/>
<line x1="738.1" y1="1413.54" x2="738.1" y2="1460.46" stroke="#000" stroke-width="2.1"/>
<line x1="735.5" y1="1413.54" x2="740.7" y2="1413.54" stroke="#000" stroke-width="2.4"/>
<line x1="735.5" y1="1460.46" x2="740.7" y2="1460.46" stroke="#000" stroke-width="2.4"/>
<circle cx="738.1" cy="1437" r="4.9" fill="#000"/>
<line x1="747.65" y1="1423.39" x2="747.65" y2="1468.44" stroke="#000" stroke-width="2.1"/>
<line x1="745.05" y1="1423.39" x2="750.25" y2="1423.39" stroke="#000" stroke-width="2.4"/>
<line x1="745.05" y1="1468.44" x2="750.25" y2="1468.44" stroke="#000" stroke-width="2.4"/>
<circle cx="747.65" cy="1445.91" r="4.9" fill="#000"/>
<line x1="757.2" y1="1418.23" x2="757.2" y2="1455.77" stroke="#000" stroke-width="2.1"/>
<line x1="754.6" y1="1418.23" x2="759.8" y2="1418.23" stroke="#000" stroke-width="2.4"/>
<line x1="754.6" y1="1455.77" x2="759.8" y2="1455.77" stroke="#000" stroke-width="2.4"/>
<circle cx="757.2" cy="1437" r="4.9" fill="#000"/>
<line x1="766.75" y1="1466.09" x2="766.75" y2="1475.48" stroke="#000" stroke-width="2.1"/>
<line x1="764.15" y1="1466.09" x2="769.35" y2="1466.09" stroke="#000" stroke-width="2.4"/>
<line x1="764.15" y1="1475.48" x2="769.35" y2="1475.48" stroke="#000" stroke-width="2.4"/>
<circle cx="766.75" cy="1470.78" r="4.9" fill="#000"/>
<line x1="776.3" y1="1455.3" x2="776.3" y2="1469.38" stroke="#000" stroke-width="2.1"/>
<line x1="773.7" y1="1455.3" x2="778.9" y2="1455.3" stroke="#000" stroke-width="2.4"/>
<line x1="773.7" y1="1469.38" x2="778.9" y2="1469.38" stroke="#000" stroke-width="2.4"/>
<circle cx="776.3" cy="1462.34" r="4.9" fill="#000"/>
<line x1="785.85" y1="1457.65" x2="785.85" y2="1476.42" stroke="#000" stroke-width="2.1"/>
<line x1="783.25" y1="1457.65" x2="788.45" y2="1457.65" stroke="#000" stroke-width="2.4"/>
<line x1="783.25" y1="1476.42" x2="788.45" y2="1476.42" stroke="#000" stroke-width="2.4"/>
<circle cx="785.85" cy="1467.03" r="4.9" fill="#000"/>
<line x1="795.4" y1="1466.09" x2="795.4" y2="1475.48" stroke="#000" stroke-width="2.1"/>
<line x1="792.8" y1="1466.09" x2="798" y2="1466.09" stroke="#000" stroke-width="2.4"/>
<line x1="792.8" y1="1475.48" x2="798" y2="1475.48" stroke="#000" stroke-width="2.4"/>
<circle cx="795.4" cy="1470.78" r="4.9" fill="#000"/>
<line x1="804.95" y1="1455.3" x2="804.95" y2="1469.38" stroke="#000" stroke-width="2.1"/>
<line x1="802.35" y1="1455.3" x2="807.55" y2="1455.3" stroke="#000" stroke-width="2.4"/>
<line x1="802.35" y1="1469.38" x2="807.55" y2="1469.38" stroke="#000" stroke-width="2.4"/>
<circle cx="804.95" cy="1462.34" r="4.9" fill="#000"/>
<line x1="814.5" y1="1462.81" x2="814.5" y2="1478.76" stroke="#000" stroke-width="2.1"/>
<line x1="811.9" y1="1462.81" x2="817.1" y2="1462.81" stroke="#000" stroke-width="2.4"/>
<line x1="811.9" y1="1478.76" x2="817.1" y2="1478.76" stroke="#000" stroke-width="2.4"/>
<circle cx="814.5" cy="1470.78" r="4.9" fill="#000"/>
<line x1="824.05" y1="1473.13" x2="824.05" y2="1477.82" stroke="#000" stroke-width="2.1"/>
<line x1="821.45" y1="1473.13" x2="826.65" y2="1473.13" stroke="#000" stroke-width="2.4"/>
<line x1="821.45" y1="1477.82" x2="826.65" y2="1477.82" stroke="#000" stroke-width="2.4"/>
<circle cx="824.05" cy="1475.48" r="4.9" fill="#000"/>
<line x1="833.6" y1="1473.13" x2="833.6" y2="1477.82" stroke="#000" stroke-width="2.1"/>
<line x1="831" y1="1473.13" x2="836.2" y2="1473.13" stroke="#000" stroke-width="2.4"/>
<line x1="831" y1="1477.82" x2="836.2" y2="1477.82" stroke="#000" stroke-width="2.4"/>
<circle cx="833.6" cy="1475.48" r="4.9" fill="#000"/>
<circle cx="843.15" cy="1479.7" r="4.9" fill="#000"/>
<circle cx="852.7" cy="1479.7" r="4.9" fill="#000"/>
<line x1="862.25" y1="1473.13" x2="862.25" y2="1477.82" stroke="#000" stroke-width="2.1"/>
<line x1="859.65" y1="1473.13" x2="864.85" y2="1473.13" stroke="#000" stroke-width="2.4"/>
<line x1="859.65" y1="1477.82" x2="864.85" y2="1477.82" stroke="#000" stroke-width="2.4"/>
<circle cx="862.25" cy="1475.48" r="4.9" fill="#000"/>
<text transform="translate(509,1387.35) rotate(-90) scale(1.0,1)" font-size="22.5" text-anchor="middle" fill="#000" stroke="#000" stroke-width="0.35"># of jumps</text>
<line x1="547.1" y1="1663.05" x2="872.7" y2="1663.05" stroke="#a6a6a6" stroke-width="1.5"/>
<line x1="547.1" y1="1569.2" x2="872.7" y2="1569.2" stroke="#a6a6a6" stroke-width="1.5"/>
<text transform="translate(531,1762.66) scale(1.03,1)" font-size="16" text-anchor="end" fill="#000" stroke="#000" stroke-width="0.35">0</text>
<text transform="translate(531,1668.81) scale(1.03,1)" font-size="16" text-anchor="end" fill="#000" stroke="#000" stroke-width="0.35">2</text>
<text transform="translate(531,1574.96) scale(1.03,1)" font-size="16" text-anchor="end" fill="#000" stroke="#000" stroke-width="0.35">4</text>
<line x1="547.1" y1="1568.7" x2="547.1" y2="1758.1" stroke="#000" stroke-width="2.6"/>
<line x1="545.8" y1="1756.9" x2="873.2" y2="1756.9" stroke="#000" stroke-width="2.6"/>
<line x1="556.65" y1="1756.9" x2="556.65" y2="1760.1" stroke="#000" stroke-width="1.8"/>
<line x1="566.2" y1="1756.9" x2="566.2" y2="1760.1" stroke="#000" stroke-width="1.8"/>
<line x1="575.75" y1="1756.9" x2="575.75" y2="1760.1" stroke="#000" stroke-width="1.8"/>
<line x1="585.3" y1="1756.9" x2="585.3" y2="1760.1" stroke="#000" stroke-width="1.8"/>
<line x1="594.85" y1="1756.9" x2="594.85" y2="1760.1" stroke="#000" stroke-width="1.8"/>
<line x1="604.4" y1="1756.9" x2="604.4" y2="1760.1" stroke="#000" stroke-width="1.8"/>
<line x1="613.95" y1="1756.9" x2="613.95" y2="1760.1" stroke="#000" stroke-width="1.8"/>
<line x1="623.5" y1="1756.9" x2="623.5" y2="1760.1" stroke="#000" stroke-width="1.8"/>
<line x1="633.05" y1="1756.9" x2="633.05" y2="1760.1" stroke="#000" stroke-width="1.8"/>
<line x1="642.6" y1="1756.9" x2="642.6" y2="1760.1" stroke="#000" stroke-width="1.8"/>
<line x1="652.15" y1="1756.9" x2="652.15" y2="1760.1" stroke="#000" stroke-width="1.8"/>
<line x1="661.7" y1="1756.9" x2="661.7" y2="1760.1" stroke="#000" stroke-width="1.8"/>
<line x1="671.25" y1="1756.9" x2="671.25" y2="1760.1" stroke="#000" stroke-width="1.8"/>
<line x1="680.8" y1="1756.9" x2="680.8" y2="1760.1" stroke="#000" stroke-width="1.8"/>
<line x1="690.35" y1="1756.9" x2="690.35" y2="1760.1" stroke="#000" stroke-width="1.8"/>
<line x1="699.9" y1="1756.9" x2="699.9" y2="1760.1" stroke="#000" stroke-width="1.8"/>
<line x1="709.45" y1="1756.9" x2="709.45" y2="1760.1" stroke="#000" stroke-width="1.8"/>
<line x1="719" y1="1756.9" x2="719" y2="1760.1" stroke="#000" stroke-width="1.8"/>
<line x1="728.55" y1="1756.9" x2="728.55" y2="1760.1" stroke="#000" stroke-width="1.8"/>
<line x1="738.1" y1="1756.9" x2="738.1" y2="1760.1" stroke="#000" stroke-width="1.8"/>
<line x1="747.65" y1="1756.9" x2="747.65" y2="1760.1" stroke="#000" stroke-width="1.8"/>
<line x1="757.2" y1="1756.9" x2="757.2" y2="1760.1" stroke="#000" stroke-width="1.8"/>
<line x1="766.75" y1="1756.9" x2="766.75" y2="1760.1" stroke="#000" stroke-width="1.8"/>
<line x1="776.3" y1="1756.9" x2="776.3" y2="1760.1" stroke="#000" stroke-width="1.8"/>
<line x1="785.85" y1="1756.9" x2="785.85" y2="1760.1" stroke="#000" stroke-width="1.8"/>
<line x1="795.4" y1="1756.9" x2="795.4" y2="1760.1" stroke="#000" stroke-width="1.8"/>
<line x1="804.95" y1="1756.9" x2="804.95" y2="1760.1" stroke="#000" stroke-width="1.8"/>
<line x1="814.5" y1="1756.9" x2="814.5" y2="1760.1" stroke="#000" stroke-width="1.8"/>
<line x1="824.05" y1="1756.9" x2="824.05" y2="1760.1" stroke="#000" stroke-width="1.8"/>
<line x1="833.6" y1="1756.9" x2="833.6" y2="1760.1" stroke="#000" stroke-width="1.8"/>
<line x1="843.15" y1="1756.9" x2="843.15" y2="1760.1" stroke="#000" stroke-width="1.8"/>
<line x1="852.7" y1="1756.9" x2="852.7" y2="1760.1" stroke="#000" stroke-width="1.8"/>
<line x1="862.25" y1="1756.9" x2="862.25" y2="1760.1" stroke="#000" stroke-width="1.8"/>
<line x1="871.8" y1="1756.9" x2="871.8" y2="1760.1" stroke="#000" stroke-width="1.8"/>
<polyline points="556.65,1756.9 566.2,1752.21 575.75,1756.9 585.3,1747.52 594.85,1756.9" fill="none" stroke="#000" stroke-width="2.3" stroke-linejoin="round"/>
<polyline points="613.95,1756.9 623.5,1752.21 633.05,1747.52 642.6,1738.13 652.15,1742.82" fill="none" stroke="#000" stroke-width="2.3" stroke-linejoin="round"/>
<polyline points="671.25,1733.44 680.8,1701.06 690.35,1691.21 699.9,1695.9 709.45,1653.66" fill="none" stroke="#000" stroke-width="2.3" stroke-linejoin="round"/>
<polyline points="728.55,1728.75 738.1,1724.05 747.65,1733.91 757.2,1724.05 766.75,1747.05 776.3,1743.29 785.85,1733.44 795.4,1756.9 804.95,1756.9 814.5,1747.98 824.05,1742.35 833.6,1738.13 843.15,1747.05 852.7,1756.9 862.25,1747.05" fill="none" stroke="#000" stroke-width="2.3" stroke-linejoin="round"/>
<circle cx="556.65" cy="1756.9" r="4.9" fill="#000"/>
<line x1="566.2" y1="1747.52" x2="566.2" y2="1756.9" stroke="#000" stroke-width="2.1"/>
<line x1="563.6" y1="1747.52" x2="568.8" y2="1747.52" stroke="#000" stroke-width="2.4"/>
<line x1="563.6" y1="1756.9" x2="568.8" y2="1756.9" stroke="#000" stroke-width="2.4"/>
<circle cx="566.2" cy="1752.21" r="4.9" fill="#000"/>
<circle cx="575.75" cy="1756.9" r="4.9" fill="#000"/>
<line x1="585.3" y1="1738.6" x2="585.3" y2="1756.43" stroke="#000" stroke-width="2.1"/>
<line x1="582.7" y1="1738.6" x2="587.9" y2="1738.6" stroke="#000" stroke-width="2.4"/>
<line x1="582.7" y1="1756.43" x2="587.9" y2="1756.43" stroke="#000" stroke-width="2.4"/>
<circle cx="585.3" cy="1747.52" r="4.9" fill="#000"/>
<circle cx="594.85" cy="1756.9" r="4.9" fill="#000"/>
<circle cx="613.95" cy="1756.9" r="4.9" fill="#000"/>
<line x1="623.5" y1="1749.86" x2="623.5" y2="1754.55" stroke="#000" stroke-width="2.1"/>
<line x1="620.9" y1="1749.86" x2="626.1" y2="1749.86" stroke="#000" stroke-width="2.4"/>
<line x1="620.9" y1="1754.55" x2="626.1" y2="1754.55" stroke="#000" stroke-width="2.4"/>
<circle cx="623.5" cy="1752.21" r="4.9" fill="#000"/>
<line x1="633.05" y1="1738.6" x2="633.05" y2="1756.43" stroke="#000" stroke-width="2.1"/>
<line x1="630.45" y1="1738.6" x2="635.65" y2="1738.6" stroke="#000" stroke-width="2.4"/>
<line x1="630.45" y1="1756.43" x2="635.65" y2="1756.43" stroke="#000" stroke-width="2.4"/>
<circle cx="633.05" cy="1747.52" r="4.9" fill="#000"/>
<line x1="642.6" y1="1724.99" x2="642.6" y2="1751.27" stroke="#000" stroke-width="2.1"/>
<line x1="640" y1="1724.99" x2="645.2" y2="1724.99" stroke="#000" stroke-width="2.4"/>
<line x1="640" y1="1751.27" x2="645.2" y2="1751.27" stroke="#000" stroke-width="2.4"/>
<circle cx="642.6" cy="1738.13" r="4.9" fill="#000"/>
<line x1="652.15" y1="1735.78" x2="652.15" y2="1749.86" stroke="#000" stroke-width="2.1"/>
<line x1="649.55" y1="1735.78" x2="654.75" y2="1735.78" stroke="#000" stroke-width="2.4"/>
<line x1="649.55" y1="1749.86" x2="654.75" y2="1749.86" stroke="#000" stroke-width="2.4"/>
<circle cx="652.15" cy="1742.82" r="4.9" fill="#000"/>
<line x1="671.25" y1="1714.2" x2="671.25" y2="1752.68" stroke="#000" stroke-width="2.1"/>
<line x1="668.65" y1="1714.2" x2="673.85" y2="1714.2" stroke="#000" stroke-width="2.4"/>
<line x1="668.65" y1="1752.68" x2="673.85" y2="1752.68" stroke="#000" stroke-width="2.4"/>
<circle cx="671.25" cy="1733.44" r="4.9" fill="#000"/>
<line x1="680.8" y1="1671.03" x2="680.8" y2="1731.09" stroke="#000" stroke-width="2.1"/>
<line x1="678.2" y1="1671.03" x2="683.4" y2="1671.03" stroke="#000" stroke-width="2.4"/>
<line x1="678.2" y1="1731.09" x2="683.4" y2="1731.09" stroke="#000" stroke-width="2.4"/>
<circle cx="680.8" cy="1701.06" r="4.9" fill="#000"/>
<line x1="690.35" y1="1664.46" x2="690.35" y2="1717.95" stroke="#000" stroke-width="2.1"/>
<line x1="687.75" y1="1664.46" x2="692.95" y2="1664.46" stroke="#000" stroke-width="2.4"/>
<line x1="687.75" y1="1717.95" x2="692.95" y2="1717.95" stroke="#000" stroke-width="2.4"/>
<circle cx="690.35" cy="1691.21" r="4.9" fill="#000"/>
<line x1="699.9" y1="1668.68" x2="699.9" y2="1723.11" stroke="#000" stroke-width="2.1"/>
<line x1="697.3" y1="1668.68" x2="702.5" y2="1668.68" stroke="#000" stroke-width="2.4"/>
<line x1="697.3" y1="1723.11" x2="702.5" y2="1723.11" stroke="#000" stroke-width="2.4"/>
<circle cx="699.9" cy="1695.9" r="4.9" fill="#000"/>
<line x1="709.45" y1="1621.76" x2="709.45" y2="1685.57" stroke="#000" stroke-width="2.1"/>
<line x1="706.85" y1="1621.76" x2="712.05" y2="1621.76" stroke="#000" stroke-width="2.4"/>
<line x1="706.85" y1="1685.57" x2="712.05" y2="1685.57" stroke="#000" stroke-width="2.4"/>
<circle cx="709.45" cy="1653.66" r="4.9" fill="#000"/>
<line x1="728.55" y1="1717.95" x2="728.55" y2="1739.54" stroke="#000" stroke-width="2.1"/>
<line x1="725.95" y1="1717.95" x2="731.15" y2="1717.95" stroke="#000" stroke-width="2.4"/>
<line x1="725.95" y1="1739.54" x2="731.15" y2="1739.54" stroke="#000" stroke-width="2.4"/>
<circle cx="728.55" cy="1728.75" r="4.9" fill="#000"/>
<line x1="738.1" y1="1704.81" x2="738.1" y2="1743.29" stroke="#000" stroke-width="2.1"/>
<line x1="735.5" y1="1704.81" x2="740.7" y2="1704.81" stroke="#000" stroke-width="2.4"/>
<line x1="735.5" y1="1743.29" x2="740.7" y2="1743.29" stroke="#000" stroke-width="2.4"/>
<circle cx="738.1" cy="1724.05" r="4.9" fill="#000"/>
<line x1="747.65" y1="1718.89" x2="747.65" y2="1748.92" stroke="#000" stroke-width="2.1"/>
<line x1="745.05" y1="1718.89" x2="750.25" y2="1718.89" stroke="#000" stroke-width="2.4"/>
<line x1="745.05" y1="1748.92" x2="750.25" y2="1748.92" stroke="#000" stroke-width="2.4"/>
<circle cx="747.65" cy="1733.91" r="4.9" fill="#000"/>
<line x1="757.2" y1="1708.1" x2="757.2" y2="1740.01" stroke="#000" stroke-width="2.1"/>
<line x1="754.6" y1="1708.1" x2="759.8" y2="1708.1" stroke="#000" stroke-width="2.4"/>
<line x1="754.6" y1="1740.01" x2="759.8" y2="1740.01" stroke="#000" stroke-width="2.4"/>
<circle cx="757.2" cy="1724.05" r="4.9" fill="#000"/>
<line x1="766.75" y1="1741.41" x2="766.75" y2="1752.68" stroke="#000" stroke-width="2.1"/>
<line x1="764.15" y1="1741.41" x2="769.35" y2="1741.41" stroke="#000" stroke-width="2.4"/>
<line x1="764.15" y1="1752.68" x2="769.35" y2="1752.68" stroke="#000" stroke-width="2.4"/>
<circle cx="766.75" cy="1747.05" r="4.9" fill="#000"/>
<line x1="776.3" y1="1732.97" x2="776.3" y2="1753.62" stroke="#000" stroke-width="2.1"/>
<line x1="773.7" y1="1732.97" x2="778.9" y2="1732.97" stroke="#000" stroke-width="2.4"/>
<line x1="773.7" y1="1753.62" x2="778.9" y2="1753.62" stroke="#000" stroke-width="2.4"/>
<circle cx="776.3" cy="1743.29" r="4.9" fill="#000"/>
<line x1="785.85" y1="1722.18" x2="785.85" y2="1744.7" stroke="#000" stroke-width="2.1"/>
<line x1="783.25" y1="1722.18" x2="788.45" y2="1722.18" stroke="#000" stroke-width="2.4"/>
<line x1="783.25" y1="1744.7" x2="788.45" y2="1744.7" stroke="#000" stroke-width="2.4"/>
<circle cx="785.85" cy="1733.44" r="4.9" fill="#000"/>
<circle cx="795.4" cy="1756.9" r="4.9" fill="#000"/>
<circle cx="804.95" cy="1756.9" r="4.9" fill="#000"/>
<line x1="814.5" y1="1740.95" x2="814.5" y2="1755.02" stroke="#000" stroke-width="2.1"/>
<line x1="811.9" y1="1740.95" x2="817.1" y2="1740.95" stroke="#000" stroke-width="2.4"/>
<line x1="811.9" y1="1755.02" x2="817.1" y2="1755.02" stroke="#000" stroke-width="2.4"/>
<circle cx="814.5" cy="1747.98" r="4.9" fill="#000"/>
<line x1="824.05" y1="1728.28" x2="824.05" y2="1756.43" stroke="#000" stroke-width="2.1"/>
<line x1="821.45" y1="1728.28" x2="826.65" y2="1728.28" stroke="#000" stroke-width="2.4"/>
<line x1="821.45" y1="1756.43" x2="826.65" y2="1756.43" stroke="#000" stroke-width="2.4"/>
<circle cx="824.05" cy="1742.35" r="4.9" fill="#000"/>
<line x1="833.6" y1="1727.34" x2="833.6" y2="1748.92" stroke="#000" stroke-width="2.1"/>
<line x1="831" y1="1727.34" x2="836.2" y2="1727.34" stroke="#000" stroke-width="2.4"/>
<line x1="831" y1="1748.92" x2="836.2" y2="1748.92" stroke="#000" stroke-width="2.4"/>
<circle cx="833.6" cy="1738.13" r="4.9" fill="#000"/>
<line x1="843.15" y1="1738.13" x2="843.15" y2="1755.96" stroke="#000" stroke-width="2.1"/>
<line x1="840.55" y1="1738.13" x2="845.75" y2="1738.13" stroke="#000" stroke-width="2.4"/>
<line x1="840.55" y1="1755.96" x2="845.75" y2="1755.96" stroke="#000" stroke-width="2.4"/>
<circle cx="843.15" cy="1747.05" r="4.9" fill="#000"/>
<circle cx="852.7" cy="1756.9" r="4.9" fill="#000"/>
<line x1="862.25" y1="1738.13" x2="862.25" y2="1755.96" stroke="#000" stroke-width="2.1"/>
<line x1="859.65" y1="1738.13" x2="864.85" y2="1738.13" stroke="#000" stroke-width="2.4"/>
<line x1="859.65" y1="1755.96" x2="864.85" y2="1755.96" stroke="#000" stroke-width="2.4"/>
<circle cx="862.25" cy="1747.05" r="4.9" fill="#000"/>
<text transform="translate(509,1664.55) rotate(-90) scale(1.0,1)" font-size="22.5" text-anchor="middle" fill="#000" stroke="#000" stroke-width="0.35"># of jumps</text>
<line x1="547.1" y1="1940.1" x2="872.7" y2="1940.1" stroke="#a6a6a6" stroke-width="1.5"/>
<line x1="547.1" y1="1846.1" x2="872.7" y2="1846.1" stroke="#a6a6a6" stroke-width="1.5"/>
<text transform="translate(531,2039.86) scale(1.03,1)" font-size="16" text-anchor="end" fill="#000" stroke="#000" stroke-width="0.35">0</text>
<text transform="translate(531,1945.86) scale(1.03,1)" font-size="16" text-anchor="end" fill="#000" stroke="#000" stroke-width="0.35">2</text>
<text transform="translate(531,1851.86) scale(1.03,1)" font-size="16" text-anchor="end" fill="#000" stroke="#000" stroke-width="0.35">4</text>
<line x1="547.1" y1="1845.6" x2="547.1" y2="2035.3" stroke="#000" stroke-width="2.6"/>
<line x1="545.8" y1="2034.1" x2="873.2" y2="2034.1" stroke="#000" stroke-width="2.6"/>
<line x1="556.65" y1="2034.1" x2="556.65" y2="2037.3" stroke="#000" stroke-width="1.8"/>
<line x1="566.2" y1="2034.1" x2="566.2" y2="2037.3" stroke="#000" stroke-width="1.8"/>
<line x1="575.75" y1="2034.1" x2="575.75" y2="2037.3" stroke="#000" stroke-width="1.8"/>
<line x1="585.3" y1="2034.1" x2="585.3" y2="2037.3" stroke="#000" stroke-width="1.8"/>
<line x1="594.85" y1="2034.1" x2="594.85" y2="2037.3" stroke="#000" stroke-width="1.8"/>
<line x1="604.4" y1="2034.1" x2="604.4" y2="2037.3" stroke="#000" stroke-width="1.8"/>
<line x1="613.95" y1="2034.1" x2="613.95" y2="2037.3" stroke="#000" stroke-width="1.8"/>
<line x1="623.5" y1="2034.1" x2="623.5" y2="2037.3" stroke="#000" stroke-width="1.8"/>
<line x1="633.05" y1="2034.1" x2="633.05" y2="2037.3" stroke="#000" stroke-width="1.8"/>
<line x1="642.6" y1="2034.1" x2="642.6" y2="2037.3" stroke="#000" stroke-width="1.8"/>
<line x1="652.15" y1="2034.1" x2="652.15" y2="2037.3" stroke="#000" stroke-width="1.8"/>
<line x1="661.7" y1="2034.1" x2="661.7" y2="2037.3" stroke="#000" stroke-width="1.8"/>
<line x1="671.25" y1="2034.1" x2="671.25" y2="2037.3" stroke="#000" stroke-width="1.8"/>
<line x1="680.8" y1="2034.1" x2="680.8" y2="2037.3" stroke="#000" stroke-width="1.8"/>
<line x1="690.35" y1="2034.1" x2="690.35" y2="2037.3" stroke="#000" stroke-width="1.8"/>
<line x1="699.9" y1="2034.1" x2="699.9" y2="2037.3" stroke="#000" stroke-width="1.8"/>
<line x1="709.45" y1="2034.1" x2="709.45" y2="2037.3" stroke="#000" stroke-width="1.8"/>
<line x1="719" y1="2034.1" x2="719" y2="2037.3" stroke="#000" stroke-width="1.8"/>
<line x1="728.55" y1="2034.1" x2="728.55" y2="2037.3" stroke="#000" stroke-width="1.8"/>
<line x1="738.1" y1="2034.1" x2="738.1" y2="2037.3" stroke="#000" stroke-width="1.8"/>
<line x1="747.65" y1="2034.1" x2="747.65" y2="2037.3" stroke="#000" stroke-width="1.8"/>
<line x1="757.2" y1="2034.1" x2="757.2" y2="2037.3" stroke="#000" stroke-width="1.8"/>
<line x1="766.75" y1="2034.1" x2="766.75" y2="2037.3" stroke="#000" stroke-width="1.8"/>
<line x1="776.3" y1="2034.1" x2="776.3" y2="2037.3" stroke="#000" stroke-width="1.8"/>
<line x1="785.85" y1="2034.1" x2="785.85" y2="2037.3" stroke="#000" stroke-width="1.8"/>
<line x1="795.4" y1="2034.1" x2="795.4" y2="2037.3" stroke="#000" stroke-width="1.8"/>
<line x1="804.95" y1="2034.1" x2="804.95" y2="2037.3" stroke="#000" stroke-width="1.8"/>
<line x1="814.5" y1="2034.1" x2="814.5" y2="2037.3" stroke="#000" stroke-width="1.8"/>
<line x1="824.05" y1="2034.1" x2="824.05" y2="2037.3" stroke="#000" stroke-width="1.8"/>
<line x1="833.6" y1="2034.1" x2="833.6" y2="2037.3" stroke="#000" stroke-width="1.8"/>
<line x1="843.15" y1="2034.1" x2="843.15" y2="2037.3" stroke="#000" stroke-width="1.8"/>
<line x1="852.7" y1="2034.1" x2="852.7" y2="2037.3" stroke="#000" stroke-width="1.8"/>
<line x1="862.25" y1="2034.1" x2="862.25" y2="2037.3" stroke="#000" stroke-width="1.8"/>
<line x1="871.8" y1="2034.1" x2="871.8" y2="2037.3" stroke="#000" stroke-width="1.8"/>
<polyline points="556.65,2034.1 566.2,2034.1 575.75,2024.7 585.3,2034.1 594.85,2034.1" fill="none" stroke="#000" stroke-width="2.3" stroke-linejoin="round"/>
<polyline points="613.95,2034.1 623.5,2034.1 633.05,2034.1 642.6,2034.1 652.15,2029.4" fill="none" stroke="#000" stroke-width="2.3" stroke-linejoin="round"/>
<polyline points="671.25,2034.1 680.8,2020 690.35,1987.1 699.9,2001.2 709.45,2006.37" fill="none" stroke="#000" stroke-width="2.3" stroke-linejoin="round"/>
<polyline points="728.55,1991.8 738.1,2006.37 747.65,2015.3 757.2,2020 766.75,2025.17 776.3,2019.53 785.85,2029.4 795.4,2034.1 804.95,2024.7 814.5,2024.7 824.05,2029.4 833.6,2034.1 843.15,2029.4 852.7,2034.1 862.25,2034.1" fill="none" stroke="#000" stroke-width="2.3" stroke-linejoin="round"/>
<circle cx="556.65" cy="2034.1" r="4.9" fill="#000"/>
<circle cx="566.2" cy="2034.1" r="4.9" fill="#000"/>
<line x1="575.75" y1="2015.77" x2="575.75" y2="2033.63" stroke="#000" stroke-width="2.1"/>
<line x1="573.15" y1="2015.77" x2="578.35" y2="2015.77" stroke="#000" stroke-width="2.4"/>
<line x1="573.15" y1="2033.63" x2="578.35" y2="2033.63" stroke="#000" stroke-width="2.4"/>
<circle cx="575.75" cy="2024.7" r="4.9" fill="#000"/>
<circle cx="585.3" cy="2034.1" r="4.9" fill="#000"/>
<circle cx="594.85" cy="2034.1" r="4.9" fill="#000"/>
<circle cx="613.95" cy="2034.1" r="4.9" fill="#000"/>
<circle cx="623.5" cy="2034.1" r="4.9" fill="#000"/>
<circle cx="633.05" cy="2034.1" r="4.9" fill="#000"/>
<circle cx="642.6" cy="2034.1" r="4.9" fill="#000"/>
<line x1="652.15" y1="2027.05" x2="652.15" y2="2031.75" stroke="#000" stroke-width="2.1"/>
<line x1="649.55" y1="2027.05" x2="654.75" y2="2027.05" stroke="#000" stroke-width="2.4"/>
<line x1="649.55" y1="2031.75" x2="654.75" y2="2031.75" stroke="#000" stroke-width="2.4"/>
<circle cx="652.15" cy="2029.4" r="4.9" fill="#000"/>
<circle cx="671.25" cy="2034.1" r="4.9" fill="#000"/>
<line x1="680.8" y1="2005.9" x2="680.8" y2="2034.1" stroke="#000" stroke-width="2.1"/>
<line x1="678.2" y1="2005.9" x2="683.4" y2="2005.9" stroke="#000" stroke-width="2.4"/>
<line x1="678.2" y1="2034.1" x2="683.4" y2="2034.1" stroke="#000" stroke-width="2.4"/>
<circle cx="680.8" cy="2020" r="4.9" fill="#000"/>
<line x1="690.35" y1="1961.72" x2="690.35" y2="2012.48" stroke="#000" stroke-width="2.1"/>
<line x1="687.75" y1="1961.72" x2="692.95" y2="1961.72" stroke="#000" stroke-width="2.4"/>
<line x1="687.75" y1="2012.48" x2="692.95" y2="2012.48" stroke="#000" stroke-width="2.4"/>
<circle cx="690.35" cy="1987.1" r="4.9" fill="#000"/>
<line x1="699.9" y1="1982.87" x2="699.9" y2="2019.53" stroke="#000" stroke-width="2.1"/>
<line x1="697.3" y1="1982.87" x2="702.5" y2="1982.87" stroke="#000" stroke-width="2.4"/>
<line x1="697.3" y1="2019.53" x2="702.5" y2="2019.53" stroke="#000" stroke-width="2.4"/>
<circle cx="699.9" cy="2001.2" r="4.9" fill="#000"/>
<line x1="709.45" y1="1982.87" x2="709.45" y2="2029.87" stroke="#000" stroke-width="2.1"/>
<line x1="706.85" y1="1982.87" x2="712.05" y2="1982.87" stroke="#000" stroke-width="2.4"/>
<line x1="706.85" y1="2029.87" x2="712.05" y2="2029.87" stroke="#000" stroke-width="2.4"/>
<circle cx="709.45" cy="2006.37" r="4.9" fill="#000"/>
<line x1="728.55" y1="1971.12" x2="728.55" y2="2012.48" stroke="#000" stroke-width="2.1"/>
<line x1="725.95" y1="1971.12" x2="731.15" y2="1971.12" stroke="#000" stroke-width="2.4"/>
<line x1="725.95" y1="2012.48" x2="731.15" y2="2012.48" stroke="#000" stroke-width="2.4"/>
<circle cx="728.55" cy="1991.8" r="4.9" fill="#000"/>
<line x1="738.1" y1="1990.39" x2="738.1" y2="2022.35" stroke="#000" stroke-width="2.1"/>
<line x1="735.5" y1="1990.39" x2="740.7" y2="1990.39" stroke="#000" stroke-width="2.4"/>
<line x1="735.5" y1="2022.35" x2="740.7" y2="2022.35" stroke="#000" stroke-width="2.4"/>
<circle cx="738.1" cy="2006.37" r="4.9" fill="#000"/>
<line x1="747.65" y1="2004.96" x2="747.65" y2="2025.64" stroke="#000" stroke-width="2.1"/>
<line x1="745.05" y1="2004.96" x2="750.25" y2="2004.96" stroke="#000" stroke-width="2.4"/>
<line x1="745.05" y1="2025.64" x2="750.25" y2="2025.64" stroke="#000" stroke-width="2.4"/>
<circle cx="747.65" cy="2015.3" r="4.9" fill="#000"/>
<line x1="757.2" y1="2010.13" x2="757.2" y2="2029.87" stroke="#000" stroke-width="2.1"/>
<line x1="754.6" y1="2010.13" x2="759.8" y2="2010.13" stroke="#000" stroke-width="2.4"/>
<line x1="754.6" y1="2029.87" x2="759.8" y2="2029.87" stroke="#000" stroke-width="2.4"/>
<circle cx="757.2" cy="2020" r="4.9" fill="#000"/>
<line x1="766.75" y1="2019.06" x2="766.75" y2="2031.28" stroke="#000" stroke-width="2.1"/>
<line x1="764.15" y1="2019.06" x2="769.35" y2="2019.06" stroke="#000" stroke-width="2.4"/>
<line x1="764.15" y1="2031.28" x2="769.35" y2="2031.28" stroke="#000" stroke-width="2.4"/>
<circle cx="766.75" cy="2025.17" r="4.9" fill="#000"/>
<line x1="776.3" y1="2009.66" x2="776.3" y2="2029.4" stroke="#000" stroke-width="2.1"/>
<line x1="773.7" y1="2009.66" x2="778.9" y2="2009.66" stroke="#000" stroke-width="2.4"/>
<line x1="773.7" y1="2029.4" x2="778.9" y2="2029.4" stroke="#000" stroke-width="2.4"/>
<circle cx="776.3" cy="2019.53" r="4.9" fill="#000"/>
<line x1="785.85" y1="2027.05" x2="785.85" y2="2031.75" stroke="#000" stroke-width="2.1"/>
<line x1="783.25" y1="2027.05" x2="788.45" y2="2027.05" stroke="#000" stroke-width="2.4"/>
<line x1="783.25" y1="2031.75" x2="788.45" y2="2031.75" stroke="#000" stroke-width="2.4"/>
<circle cx="785.85" cy="2029.4" r="4.9" fill="#000"/>
<circle cx="795.4" cy="2034.1" r="4.9" fill="#000"/>
<line x1="804.95" y1="2017.65" x2="804.95" y2="2031.75" stroke="#000" stroke-width="2.1"/>
<line x1="802.35" y1="2017.65" x2="807.55" y2="2017.65" stroke="#000" stroke-width="2.4"/>
<line x1="802.35" y1="2031.75" x2="807.55" y2="2031.75" stroke="#000" stroke-width="2.4"/>
<circle cx="804.95" cy="2024.7" r="4.9" fill="#000"/>
<line x1="814.5" y1="2016.71" x2="814.5" y2="2032.69" stroke="#000" stroke-width="2.1"/>
<line x1="811.9" y1="2016.71" x2="817.1" y2="2016.71" stroke="#000" stroke-width="2.4"/>
<line x1="811.9" y1="2032.69" x2="817.1" y2="2032.69" stroke="#000" stroke-width="2.4"/>
<circle cx="814.5" cy="2024.7" r="4.9" fill="#000"/>
<line x1="824.05" y1="2027.05" x2="824.05" y2="2031.75" stroke="#000" stroke-width="2.1"/>
<line x1="821.45" y1="2027.05" x2="826.65" y2="2027.05" stroke="#000" stroke-width="2.4"/>
<line x1="821.45" y1="2031.75" x2="826.65" y2="2031.75" stroke="#000" stroke-width="2.4"/>
<circle cx="824.05" cy="2029.4" r="4.9" fill="#000"/>
<circle cx="833.6" cy="2034.1" r="4.9" fill="#000"/>
<line x1="843.15" y1="2027.05" x2="843.15" y2="2031.75" stroke="#000" stroke-width="2.1"/>
<line x1="840.55" y1="2027.05" x2="845.75" y2="2027.05" stroke="#000" stroke-width="2.4"/>
<line x1="840.55" y1="2031.75" x2="845.75" y2="2031.75" stroke="#000" stroke-width="2.4"/>
<circle cx="843.15" cy="2029.4" r="4.9" fill="#000"/>
<circle cx="852.7" cy="2034.1" r="4.9" fill="#000"/>
<circle cx="862.25" cy="2034.1" r="4.9" fill="#000"/>
<text transform="translate(509,1941.6) rotate(-90) scale(1.0,1)" font-size="22.5" text-anchor="middle" fill="#000" stroke="#000" stroke-width="0.35"># of jumps</text>
<line x1="547.1" y1="2219.15" x2="872.7" y2="2219.15" stroke="#a6a6a6" stroke-width="1.5"/>
<line x1="547.1" y1="2125.1" x2="872.7" y2="2125.1" stroke="#a6a6a6" stroke-width="1.5"/>
<text transform="translate(531,2318.96) scale(1.03,1)" font-size="16" text-anchor="end" fill="#000" stroke="#000" stroke-width="0.35">0</text>
<text transform="translate(531,2224.91) scale(1.03,1)" font-size="16" text-anchor="end" fill="#000" stroke="#000" stroke-width="0.35">2</text>
<text transform="translate(531,2130.86) scale(1.03,1)" font-size="16" text-anchor="end" fill="#000" stroke="#000" stroke-width="0.35">4</text>
<line x1="547.1" y1="2124.6" x2="547.1" y2="2314.4" stroke="#000" stroke-width="2.6"/>
<line x1="545.8" y1="2313.2" x2="873.2" y2="2313.2" stroke="#000" stroke-width="2.6"/>
<line x1="556.65" y1="2313.2" x2="556.65" y2="2316.4" stroke="#000" stroke-width="1.8"/>
<line x1="566.2" y1="2313.2" x2="566.2" y2="2316.4" stroke="#000" stroke-width="1.8"/>
<line x1="575.75" y1="2313.2" x2="575.75" y2="2316.4" stroke="#000" stroke-width="1.8"/>
<line x1="585.3" y1="2313.2" x2="585.3" y2="2316.4" stroke="#000" stroke-width="1.8"/>
<line x1="594.85" y1="2313.2" x2="594.85" y2="2316.4" stroke="#000" stroke-width="1.8"/>
<line x1="604.4" y1="2313.2" x2="604.4" y2="2316.4" stroke="#000" stroke-width="1.8"/>
<line x1="613.95" y1="2313.2" x2="613.95" y2="2316.4" stroke="#000" stroke-width="1.8"/>
<line x1="623.5" y1="2313.2" x2="623.5" y2="2316.4" stroke="#000" stroke-width="1.8"/>
<line x1="633.05" y1="2313.2" x2="633.05" y2="2316.4" stroke="#000" stroke-width="1.8"/>
<line x1="642.6" y1="2313.2" x2="642.6" y2="2316.4" stroke="#000" stroke-width="1.8"/>
<line x1="652.15" y1="2313.2" x2="652.15" y2="2316.4" stroke="#000" stroke-width="1.8"/>
<line x1="661.7" y1="2313.2" x2="661.7" y2="2316.4" stroke="#000" stroke-width="1.8"/>
<line x1="671.25" y1="2313.2" x2="671.25" y2="2316.4" stroke="#000" stroke-width="1.8"/>
<line x1="680.8" y1="2313.2" x2="680.8" y2="2316.4" stroke="#000" stroke-width="1.8"/>
<line x1="690.35" y1="2313.2" x2="690.35" y2="2316.4" stroke="#000" stroke-width="1.8"/>
<line x1="699.9" y1="2313.2" x2="699.9" y2="2316.4" stroke="#000" stroke-width="1.8"/>
<line x1="709.45" y1="2313.2" x2="709.45" y2="2316.4" stroke="#000" stroke-width="1.8"/>
<line x1="719" y1="2313.2" x2="719" y2="2316.4" stroke="#000" stroke-width="1.8"/>
<line x1="728.55" y1="2313.2" x2="728.55" y2="2316.4" stroke="#000" stroke-width="1.8"/>
<line x1="738.1" y1="2313.2" x2="738.1" y2="2316.4" stroke="#000" stroke-width="1.8"/>
<line x1="747.65" y1="2313.2" x2="747.65" y2="2316.4" stroke="#000" stroke-width="1.8"/>
<line x1="757.2" y1="2313.2" x2="757.2" y2="2316.4" stroke="#000" stroke-width="1.8"/>
<line x1="766.75" y1="2313.2" x2="766.75" y2="2316.4" stroke="#000" stroke-width="1.8"/>
<line x1="776.3" y1="2313.2" x2="776.3" y2="2316.4" stroke="#000" stroke-width="1.8"/>
<line x1="785.85" y1="2313.2" x2="785.85" y2="2316.4" stroke="#000" stroke-width="1.8"/>
<line x1="795.4" y1="2313.2" x2="795.4" y2="2316.4" stroke="#000" stroke-width="1.8"/>
<line x1="804.95" y1="2313.2" x2="804.95" y2="2316.4" stroke="#000" stroke-width="1.8"/>
<line x1="814.5" y1="2313.2" x2="814.5" y2="2316.4" stroke="#000" stroke-width="1.8"/>
<line x1="824.05" y1="2313.2" x2="824.05" y2="2316.4" stroke="#000" stroke-width="1.8"/>
<line x1="833.6" y1="2313.2" x2="833.6" y2="2316.4" stroke="#000" stroke-width="1.8"/>
<line x1="843.15" y1="2313.2" x2="843.15" y2="2316.4" stroke="#000" stroke-width="1.8"/>
<line x1="852.7" y1="2313.2" x2="852.7" y2="2316.4" stroke="#000" stroke-width="1.8"/>
<line x1="862.25" y1="2313.2" x2="862.25" y2="2316.4" stroke="#000" stroke-width="1.8"/>
<line x1="871.8" y1="2313.2" x2="871.8" y2="2316.4" stroke="#000" stroke-width="1.8"/>
<polyline points="556.65,2313.2 566.2,2313.2 575.75,2313.2 585.3,2313.2 594.85,2313.2" fill="none" stroke="#000" stroke-width="2.3" stroke-linejoin="round"/>
<polyline points="613.95,2313.2 623.5,2313.2 633.05,2313.2 642.6,2313.2 652.15,2313.2" fill="none" stroke="#000" stroke-width="2.3" stroke-linejoin="round"/>
<polyline points="671.25,2308.5 680.8,2313.2 690.35,2308.5 699.9,2313.2 709.45,2313.2" fill="none" stroke="#000" stroke-width="2.3" stroke-linejoin="round"/>
<polyline points="728.55,2303.79 738.1,2313.2 747.65,2303.79 757.2,2313.2 766.75,2308.5 776.3,2303.79 785.85,2313.2 795.4,2308.5 804.95,2313.2 814.5,2313.2 824.05,2313.2 833.6,2313.2 843.15,2313.2 852.7,2313.2 862.25,2313.2" fill="none" stroke="#000" stroke-width="2.3" stroke-linejoin="round"/>
<circle cx="556.65" cy="2313.2" r="4.9" fill="#000"/>
<circle cx="566.2" cy="2313.2" r="4.9" fill="#000"/>
<circle cx="575.75" cy="2313.2" r="4.9" fill="#000"/>
<circle cx="585.3" cy="2313.2" r="4.9" fill="#000"/>
<circle cx="594.85" cy="2313.2" r="4.9" fill="#000"/>
<circle cx="613.95" cy="2313.2" r="4.9" fill="#000"/>
<circle cx="623.5" cy="2313.2" r="4.9" fill="#000"/>
<circle cx="633.05" cy="2313.2" r="4.9" fill="#000"/>
<circle cx="642.6" cy="2313.2" r="4.9" fill="#000"/>
<circle cx="652.15" cy="2313.2" r="4.9" fill="#000"/>
<line x1="671.25" y1="2306.15" x2="671.25" y2="2310.85" stroke="#000" stroke-width="2.1"/>
<line x1="668.65" y1="2306.15" x2="673.85" y2="2306.15" stroke="#000" stroke-width="2.4"/>
<line x1="668.65" y1="2310.85" x2="673.85" y2="2310.85" stroke="#000" stroke-width="2.4"/>
<circle cx="671.25" cy="2308.5" r="4.9" fill="#000"/>
<circle cx="680.8" cy="2313.2" r="4.9" fill="#000"/>
<line x1="690.35" y1="2306.15" x2="690.35" y2="2310.85" stroke="#000" stroke-width="2.1"/>
<line x1="687.75" y1="2306.15" x2="692.95" y2="2306.15" stroke="#000" stroke-width="2.4"/>
<line x1="687.75" y1="2310.85" x2="692.95" y2="2310.85" stroke="#000" stroke-width="2.4"/>
<circle cx="690.35" cy="2308.5" r="4.9" fill="#000"/>
<circle cx="699.9" cy="2313.2" r="4.9" fill="#000"/>
<circle cx="709.45" cy="2313.2" r="4.9" fill="#000"/>
<line x1="728.55" y1="2299.09" x2="728.55" y2="2308.5" stroke="#000" stroke-width="2.1"/>
<line x1="725.95" y1="2299.09" x2="731.15" y2="2299.09" stroke="#000" stroke-width="2.4"/>
<line x1="725.95" y1="2308.5" x2="731.15" y2="2308.5" stroke="#000" stroke-width="2.4"/>
<circle cx="728.55" cy="2303.79" r="4.9" fill="#000"/>
<circle cx="738.1" cy="2313.2" r="4.9" fill="#000"/>
<line x1="747.65" y1="2299.09" x2="747.65" y2="2308.5" stroke="#000" stroke-width="2.1"/>
<line x1="745.05" y1="2299.09" x2="750.25" y2="2299.09" stroke="#000" stroke-width="2.4"/>
<line x1="745.05" y1="2308.5" x2="750.25" y2="2308.5" stroke="#000" stroke-width="2.4"/>
<circle cx="747.65" cy="2303.79" r="4.9" fill="#000"/>
<circle cx="757.2" cy="2313.2" r="4.9" fill="#000"/>
<line x1="766.75" y1="2306.15" x2="766.75" y2="2310.85" stroke="#000" stroke-width="2.1"/>
<line x1="764.15" y1="2306.15" x2="769.35" y2="2306.15" stroke="#000" stroke-width="2.4"/>
<line x1="764.15" y1="2310.85" x2="769.35" y2="2310.85" stroke="#000" stroke-width="2.4"/>
<circle cx="766.75" cy="2308.5" r="4.9" fill="#000"/>
<line x1="776.3" y1="2299.09" x2="776.3" y2="2308.5" stroke="#000" stroke-width="2.1"/>
<line x1="773.7" y1="2299.09" x2="778.9" y2="2299.09" stroke="#000" stroke-width="2.4"/>
<line x1="773.7" y1="2308.5" x2="778.9" y2="2308.5" stroke="#000" stroke-width="2.4"/>
<circle cx="776.3" cy="2303.79" r="4.9" fill="#000"/>
<circle cx="785.85" cy="2313.2" r="4.9" fill="#000"/>
<line x1="795.4" y1="2306.15" x2="795.4" y2="2310.85" stroke="#000" stroke-width="2.1"/>
<line x1="792.8" y1="2306.15" x2="798" y2="2306.15" stroke="#000" stroke-width="2.4"/>
<line x1="792.8" y1="2310.85" x2="798" y2="2310.85" stroke="#000" stroke-width="2.4"/>
<circle cx="795.4" cy="2308.5" r="4.9" fill="#000"/>
<circle cx="804.95" cy="2313.2" r="4.9" fill="#000"/>
<circle cx="814.5" cy="2313.2" r="4.9" fill="#000"/>
<circle cx="824.05" cy="2313.2" r="4.9" fill="#000"/>
<circle cx="833.6" cy="2313.2" r="4.9" fill="#000"/>
<circle cx="843.15" cy="2313.2" r="4.9" fill="#000"/>
<circle cx="852.7" cy="2313.2" r="4.9" fill="#000"/>
<circle cx="862.25" cy="2313.2" r="4.9" fill="#000"/>
<text transform="translate(509,2220.65) rotate(-90) scale(1.0,1)" font-size="22.5" text-anchor="middle" fill="#000" stroke="#000" stroke-width="0.35"># of jumps</text>
<text x="874" y="2349.6" font-size="22.4" text-anchor="end" fill="#000" stroke="#000" stroke-width="0.35">Trials</text>
<text transform="translate(937.5,1213.1) scale(0.9,1)" font-size="53" text-anchor="start" fill="#000" stroke="#000" stroke-width="0.35">C1</text>
<text x="1049.3" y="1228.5" font-size="27.7" text-anchor="start" fill="#000" stroke="#000" stroke-width="0.35">Comparisons for factor dB</text>
<text transform="translate(1466,1215.5) scale(0.99,1)" font-size="53" text-anchor="start" fill="#000" stroke="#000" stroke-width="0.35">C2</text>
<text x="1586.8" y="1229.6" font-size="27.7" text-anchor="start" fill="#000" stroke="#000" stroke-width="0.35">Comparisons for factor mA</text>
<line x1="1054" y1="1525" x2="1413.5" y2="1525" stroke="#a6a6a6" stroke-width="1.6"/>
<text transform="translate(1035.6,1531.84) scale(1.04,1)" font-size="19" text-anchor="end" fill="#000" stroke="#000" stroke-width="0.35">0</text>
<line x1="1054" y1="1451.74" x2="1413.5" y2="1451.74" stroke="#a6a6a6" stroke-width="1.6"/>
<text transform="translate(1035.6,1458.58) scale(1.04,1)" font-size="19" text-anchor="end" fill="#000" stroke="#000" stroke-width="0.35">200</text>
<line x1="1054" y1="1378.48" x2="1413.5" y2="1378.48" stroke="#a6a6a6" stroke-width="1.6"/>
<text transform="translate(1035.6,1385.32) scale(1.04,1)" font-size="19" text-anchor="end" fill="#000" stroke="#000" stroke-width="0.35">400</text>
<line x1="1054" y1="1305.22" x2="1413.5" y2="1305.22" stroke="#a6a6a6" stroke-width="1.6"/>
<text transform="translate(1035.6,1312.06) scale(1.04,1)" font-size="19" text-anchor="end" fill="#000" stroke="#000" stroke-width="0.35">600</text>
<text x="1095.4" y="1558" font-size="20.5" text-anchor="middle" fill="#000" stroke="#000" stroke-width="0.35">Day1</text>
<text x="1187.6" y="1558" font-size="20.5" text-anchor="middle" fill="#000" stroke="#000" stroke-width="0.35">Day2</text>
<text x="1279.6" y="1558" font-size="20.5" text-anchor="middle" fill="#000" stroke="#000" stroke-width="0.35">Day3</text>
<text x="1371.2" y="1558" font-size="20.5" text-anchor="middle" fill="#000" stroke="#000" stroke-width="0.35">Day4</text>
<text transform="translate(977.3,1417) rotate(-90) scale(1.0,1)" font-size="23" text-anchor="middle" fill="#000" stroke="#000" stroke-width="0.35">Total motion (A.U.)</text>
<text transform="translate(1223.2,1287.6) scale(1.04,1)" font-size="27.3" text-anchor="middle" fill="#000" stroke="#000" stroke-width="0.35">Motions</text>
<polyline points="1098.94,1361.63 1188.81,1437.09 1278.69,1370.79 1368.56,1440.75" fill="none" stroke="#000" stroke-width="2.6" stroke-linejoin="round"/>
<polyline points="1098.94,1338.19 1188.81,1472.25 1278.69,1471.89 1368.56,1478.11" fill="none" stroke="#000" stroke-width="2.6" stroke-linejoin="round"/>
<line x1="1098.94" y1="1346.98" x2="1098.94" y2="1376.28" stroke="#000" stroke-width="2.6"/>
<line x1="1095.94" y1="1346.98" x2="1101.94" y2="1346.98" stroke="#000" stroke-width="2.6"/>
<line x1="1095.94" y1="1376.28" x2="1101.94" y2="1376.28" stroke="#000" stroke-width="2.6"/>
<line x1="1188.81" y1="1429.03" x2="1188.81" y2="1445.15" stroke="#000" stroke-width="2.6"/>
<line x1="1185.81" y1="1429.03" x2="1191.81" y2="1429.03" stroke="#000" stroke-width="2.6"/>
<line x1="1185.81" y1="1445.15" x2="1191.81" y2="1445.15" stroke="#000" stroke-width="2.6"/>
<line x1="1278.69" y1="1347.34" x2="1278.69" y2="1394.23" stroke="#000" stroke-width="2.6"/>
<line x1="1275.69" y1="1347.34" x2="1281.69" y2="1347.34" stroke="#000" stroke-width="2.6"/>
<line x1="1275.69" y1="1394.23" x2="1281.69" y2="1394.23" stroke="#000" stroke-width="2.6"/>
<line x1="1368.56" y1="1425.73" x2="1368.56" y2="1455.77" stroke="#000" stroke-width="2.6"/>
<line x1="1365.56" y1="1425.73" x2="1371.56" y2="1425.73" stroke="#000" stroke-width="2.6"/>
<line x1="1365.56" y1="1455.77" x2="1371.56" y2="1455.77" stroke="#000" stroke-width="2.6"/>
<line x1="1098.94" y1="1330.13" x2="1098.94" y2="1346.25" stroke="#000" stroke-width="2.6"/>
<line x1="1095.94" y1="1330.13" x2="1101.94" y2="1330.13" stroke="#000" stroke-width="2.6"/>
<line x1="1095.94" y1="1346.25" x2="1101.94" y2="1346.25" stroke="#000" stroke-width="2.6"/>
<line x1="1278.69" y1="1462" x2="1278.69" y2="1481.78" stroke="#000" stroke-width="2.6"/>
<line x1="1275.69" y1="1462" x2="1281.69" y2="1462" stroke="#000" stroke-width="2.6"/>
<line x1="1275.69" y1="1481.78" x2="1281.69" y2="1481.78" stroke="#000" stroke-width="2.6"/>
<line x1="1368.56" y1="1469.69" x2="1368.56" y2="1486.54" stroke="#000" stroke-width="2.6"/>
<line x1="1365.56" y1="1469.69" x2="1371.56" y2="1469.69" stroke="#000" stroke-width="2.6"/>
<line x1="1365.56" y1="1486.54" x2="1371.56" y2="1486.54" stroke="#000" stroke-width="2.6"/>
<circle cx="1098.94" cy="1361.63" r="6.0" fill="#000"/>
<circle cx="1188.81" cy="1437.09" r="6.0" fill="#000"/>
<circle cx="1278.69" cy="1370.79" r="6.0" fill="#000"/>
<circle cx="1368.56" cy="1440.75" r="6.0" fill="#000"/>
<circle cx="1098.94" cy="1338.19" r="4.9" fill="#fff" stroke="#000" stroke-width="2.5"/>
<circle cx="1188.81" cy="1472.25" r="4.9" fill="#fff" stroke="#000" stroke-width="2.5"/>
<circle cx="1278.69" cy="1471.89" r="4.9" fill="#fff" stroke="#000" stroke-width="2.5"/>
<circle cx="1368.56" cy="1478.11" r="4.9" fill="#fff" stroke="#000" stroke-width="2.5"/>
<text x="1332" y="1363.4" font-size="27.3" text-anchor="start" fill="#000" stroke="#000" stroke-width="0.35">95 dB</text>
<line x1="1343.1" y1="1369.3" x2="1333.71" y2="1388.42" stroke="#000" stroke-width="2.5"/>
<polygon points="1329.3,1397.4 1329.66,1385.32 1333.05,1389.77 1338.64,1389.73" fill="#1a1414"/>
<text x="1077.4" y="1507" font-size="27.3" text-anchor="start" fill="#000" stroke="#000" stroke-width="0.35">75 dB</text>
<line x1="1150.8" y1="1482.7" x2="1161.19" y2="1458.96" stroke="#000" stroke-width="2.5"/>
<polygon points="1165.2,1449.8 1165.37,1461.88 1161.79,1457.59 1156.21,1457.87" fill="#1a1414"/>
<polyline points="1199.3,1436 1208.2,1436 1208.2,1472.3 1199.3,1472.3" fill="none" stroke="#e3161f" stroke-width="2.5"/>
<text x="1218.1" y="1476.8" font-size="43" text-anchor="middle" fill="#e3161f" stroke="#e3161f" stroke-width="0.4">*</text>
<polyline points="1288.2,1370 1297.6,1370 1297.6,1473.5 1288.2,1473.5" fill="none" stroke="#e3161f" stroke-width="2.5"/>
<text x="1307.2" y="1446.4" font-size="43" text-anchor="middle" fill="#e3161f" stroke="#e3161f" stroke-width="0.4">*</text>
<polyline points="1377.9,1441.9 1387.5,1441.9 1387.5,1478.2 1377.9,1478.2" fill="none" stroke="#e3161f" stroke-width="2.5"/>
<text x="1397.2" y="1482.7" font-size="43" text-anchor="middle" fill="#e3161f" stroke="#e3161f" stroke-width="0.4">*</text>
<line x1="1053.5" y1="1880.1" x2="1413.5" y2="1880.1" stroke="#a6a6a6" stroke-width="1.6"/>
<text transform="translate(1034.8,1886.94) scale(1.04,1)" font-size="19" text-anchor="end" fill="#000" stroke="#000" stroke-width="0.35">0</text>
<line x1="1053.5" y1="1825.1" x2="1413.5" y2="1825.1" stroke="#a6a6a6" stroke-width="1.6"/>
<text transform="translate(1034.8,1831.94) scale(1.04,1)" font-size="19" text-anchor="end" fill="#000" stroke="#000" stroke-width="0.35">25</text>
<line x1="1053.5" y1="1770.1" x2="1413.5" y2="1770.1" stroke="#a6a6a6" stroke-width="1.6"/>
<text transform="translate(1034.8,1776.94) scale(1.04,1)" font-size="19" text-anchor="end" fill="#000" stroke="#000" stroke-width="0.35">50</text>
<line x1="1053.5" y1="1715.1" x2="1413.5" y2="1715.1" stroke="#a6a6a6" stroke-width="1.6"/>
<text transform="translate(1034.8,1721.94) scale(1.04,1)" font-size="19" text-anchor="end" fill="#000" stroke="#000" stroke-width="0.35">75</text>
<line x1="1053.5" y1="1660.1" x2="1413.5" y2="1660.1" stroke="#a6a6a6" stroke-width="1.6"/>
<text transform="translate(1034.8,1666.94) scale(1.04,1)" font-size="19" text-anchor="end" fill="#000" stroke="#000" stroke-width="0.35">100</text>
<text x="1095.4" y="1917" font-size="20.5" text-anchor="middle" fill="#000" stroke="#000" stroke-width="0.35">Day1</text>
<text x="1187.6" y="1917" font-size="20.5" text-anchor="middle" fill="#000" stroke="#000" stroke-width="0.35">Day2</text>
<text x="1279.6" y="1917" font-size="20.5" text-anchor="middle" fill="#000" stroke="#000" stroke-width="0.35">Day3</text>
<text x="1371.2" y="1917" font-size="20.5" text-anchor="middle" fill="#000" stroke="#000" stroke-width="0.35">Day4</text>
<text transform="translate(977.7,1764) rotate(-90) scale(1.0,1)" font-size="23" text-anchor="middle" fill="#000" stroke="#000" stroke-width="0.35">% freezing</text>
<text transform="translate(1228.8,1640.8) scale(1.04,1)" font-size="27.3" text-anchor="middle" fill="#000" stroke="#000" stroke-width="0.35">Freezing</text>
<polyline points="1098.5,1858.54 1188.5,1797.38 1278.5,1773.4 1368.5,1743.92" fill="none" stroke="#000" stroke-width="2.6" stroke-linejoin="round"/>
<polyline points="1098.5,1873.5 1188.5,1779.12 1278.5,1725.22 1368.5,1722.8" fill="none" stroke="#000" stroke-width="2.6" stroke-linejoin="round"/>
<line x1="1098.5" y1="1855.9" x2="1098.5" y2="1861.18" stroke="#000" stroke-width="2.6"/>
<line x1="1095.5" y1="1855.9" x2="1101.5" y2="1855.9" stroke="#000" stroke-width="2.6"/>
<line x1="1095.5" y1="1861.18" x2="1101.5" y2="1861.18" stroke="#000" stroke-width="2.6"/>
<line x1="1188.5" y1="1789.9" x2="1188.5" y2="1804.86" stroke="#000" stroke-width="2.6"/>
<line x1="1185.5" y1="1789.9" x2="1191.5" y2="1789.9" stroke="#000" stroke-width="2.6"/>
<line x1="1185.5" y1="1804.86" x2="1191.5" y2="1804.86" stroke="#000" stroke-width="2.6"/>
<line x1="1278.5" y1="1765.92" x2="1278.5" y2="1780.88" stroke="#000" stroke-width="2.6"/>
<line x1="1275.5" y1="1765.92" x2="1281.5" y2="1765.92" stroke="#000" stroke-width="2.6"/>
<line x1="1275.5" y1="1780.88" x2="1281.5" y2="1780.88" stroke="#000" stroke-width="2.6"/>
<line x1="1368.5" y1="1735.12" x2="1368.5" y2="1752.72" stroke="#000" stroke-width="2.6"/>
<line x1="1365.5" y1="1735.12" x2="1371.5" y2="1735.12" stroke="#000" stroke-width="2.6"/>
<line x1="1365.5" y1="1752.72" x2="1371.5" y2="1752.72" stroke="#000" stroke-width="2.6"/>
<line x1="1098.5" y1="1871.3" x2="1098.5" y2="1875.7" stroke="#000" stroke-width="2.6"/>
<line x1="1095.5" y1="1871.3" x2="1101.5" y2="1871.3" stroke="#000" stroke-width="2.6"/>
<line x1="1095.5" y1="1875.7" x2="1101.5" y2="1875.7" stroke="#000" stroke-width="2.6"/>
<line x1="1188.5" y1="1775.82" x2="1188.5" y2="1782.42" stroke="#000" stroke-width="2.6"/>
<line x1="1185.5" y1="1775.82" x2="1191.5" y2="1775.82" stroke="#000" stroke-width="2.6"/>
<line x1="1185.5" y1="1782.42" x2="1191.5" y2="1782.42" stroke="#000" stroke-width="2.6"/>
<line x1="1278.5" y1="1717.74" x2="1278.5" y2="1732.7" stroke="#000" stroke-width="2.6"/>
<line x1="1275.5" y1="1717.74" x2="1281.5" y2="1717.74" stroke="#000" stroke-width="2.6"/>
<line x1="1275.5" y1="1732.7" x2="1281.5" y2="1732.7" stroke="#000" stroke-width="2.6"/>
<line x1="1368.5" y1="1715.32" x2="1368.5" y2="1730.28" stroke="#000" stroke-width="2.6"/>
<line x1="1365.5" y1="1715.32" x2="1371.5" y2="1715.32" stroke="#000" stroke-width="2.6"/>
<line x1="1365.5" y1="1730.28" x2="1371.5" y2="1730.28" stroke="#000" stroke-width="2.6"/>
<circle cx="1098.5" cy="1858.54" r="6.0" fill="#000"/>
<circle cx="1188.5" cy="1797.38" r="6.0" fill="#000"/>
<circle cx="1278.5" cy="1773.4" r="6.0" fill="#000"/>
<circle cx="1368.5" cy="1743.92" r="6.0" fill="#000"/>
<circle cx="1098.5" cy="1873.5" r="4.9" fill="#fff" stroke="#000" stroke-width="2.5"/>
<circle cx="1188.5" cy="1779.12" r="4.9" fill="#fff" stroke="#000" stroke-width="2.5"/>
<circle cx="1278.5" cy="1725.22" r="4.9" fill="#fff" stroke="#000" stroke-width="2.5"/>
<circle cx="1368.5" cy="1722.8" r="4.9" fill="#fff" stroke="#000" stroke-width="2.5"/>
<text x="1153.4" y="1709.8" font-size="27.3" text-anchor="start" fill="#000" stroke="#000" stroke-width="0.35">75 dB</text>
<line x1="1197.1" y1="1715.3" x2="1219.47" y2="1736.69" stroke="#000" stroke-width="2.5"/>
<polygon points="1226.7,1743.6 1215.29,1739.61 1220.56,1737.73 1222.2,1732.38" fill="#1a1414"/>
<text x="1332" y="1820.6" font-size="27.3" text-anchor="start" fill="#000" stroke="#000" stroke-width="0.35">95 dB</text>
<line x1="1335" y1="1797" x2="1323.73" y2="1776.01" stroke="#000" stroke-width="2.5"/>
<polygon points="1319,1767.2 1328.61,1774.53 1323.02,1774.69 1319.8,1779.26" fill="#1a1414"/>
<polyline points="1106.8,1856.9 1115.4,1856.9 1115.4,1872.9 1106.8,1872.9" fill="none" stroke="#e3161f" stroke-width="2.5"/>
<text x="1125.3" y="1887.3" font-size="43" text-anchor="middle" fill="#e3161f" stroke="#e3161f" stroke-width="0.4">*</text>
<polyline points="1199.6,1777.9 1207.8,1777.9 1207.8,1801.5 1199.6,1801.5" fill="none" stroke="#e3161f" stroke-width="2.5"/>
<text x="1218" y="1800" font-size="43" text-anchor="middle" fill="#e3161f" stroke="#e3161f" stroke-width="0.4">*</text>
<polyline points="1288.2,1724.7 1297.7,1724.7 1297.7,1772 1288.2,1772" fill="none" stroke="#e3161f" stroke-width="2.5"/>
<text x="1307.3" y="1771.3" font-size="43" text-anchor="middle" fill="#e3161f" stroke="#e3161f" stroke-width="0.4">*</text>
<line x1="1042.5" y1="2251.2" x2="1413.5" y2="2251.2" stroke="#a6a6a6" stroke-width="1.6"/>
<text transform="translate(1025.3,2258.04) scale(1.04,1)" font-size="19" text-anchor="end" fill="#000" stroke="#000" stroke-width="0.35">-2</text>
<line x1="1042.5" y1="2215.1" x2="1413.5" y2="2215.1" stroke="#a6a6a6" stroke-width="1.6"/>
<text transform="translate(1025.3,2221.94) scale(1.04,1)" font-size="19" text-anchor="end" fill="#000" stroke="#000" stroke-width="0.35">0</text>
<line x1="1042.5" y1="2179" x2="1413.5" y2="2179" stroke="#a6a6a6" stroke-width="1.6"/>
<text transform="translate(1025.3,2185.84) scale(1.04,1)" font-size="19" text-anchor="end" fill="#000" stroke="#000" stroke-width="0.35">2</text>
<line x1="1042.5" y1="2142.9" x2="1413.5" y2="2142.9" stroke="#a6a6a6" stroke-width="1.6"/>
<text transform="translate(1025.3,2149.74) scale(1.04,1)" font-size="19" text-anchor="end" fill="#000" stroke="#000" stroke-width="0.35">4</text>
<line x1="1042.5" y1="2106.8" x2="1413.5" y2="2106.8" stroke="#a6a6a6" stroke-width="1.6"/>
<text transform="translate(1025.3,2113.64) scale(1.04,1)" font-size="19" text-anchor="end" fill="#000" stroke="#000" stroke-width="0.35">6</text>
<line x1="1042.5" y1="2070.7" x2="1413.5" y2="2070.7" stroke="#a6a6a6" stroke-width="1.6"/>
<text transform="translate(1025.3,2077.54) scale(1.04,1)" font-size="19" text-anchor="end" fill="#000" stroke="#000" stroke-width="0.35">8</text>
<line x1="1042.5" y1="2034.6" x2="1413.5" y2="2034.6" stroke="#a6a6a6" stroke-width="1.6"/>
<text transform="translate(1025.3,2041.44) scale(1.04,1)" font-size="19" text-anchor="end" fill="#000" stroke="#000" stroke-width="0.35">10</text>
<text x="1095.4" y="2287" font-size="20.5" text-anchor="middle" fill="#000" stroke="#000" stroke-width="0.35">Day1</text>
<text x="1187.6" y="2287" font-size="20.5" text-anchor="middle" fill="#000" stroke="#000" stroke-width="0.35">Day2</text>
<text x="1279.6" y="2287" font-size="20.5" text-anchor="middle" fill="#000" stroke="#000" stroke-width="0.35">Day3</text>
<text x="1371.2" y="2287" font-size="20.5" text-anchor="middle" fill="#000" stroke="#000" stroke-width="0.35">Day4</text>
<text transform="translate(977.7,2158.5) rotate(-90) scale(1.0,1)" font-size="23" text-anchor="middle" fill="#000" stroke="#000" stroke-width="0.35">Total # of jumps</text>
<text transform="translate(1215.6,2013.9) scale(1.04,1)" font-size="27.3" text-anchor="middle" fill="#000" stroke="#000" stroke-width="0.35">Jumps</text>
<polyline points="1088.88,2209.32 1181.62,2204.81 1274.38,2096.69 1367.12,2157.34" fill="none" stroke="#000" stroke-width="2.6" stroke-linejoin="round"/>
<polyline points="1088.88,2213.48 1181.62,2214.56 1274.38,2189.83 1367.12,2188.75" fill="none" stroke="#000" stroke-width="2.6" stroke-linejoin="round"/>
<line x1="1274.38" y1="2066.91" x2="1274.38" y2="2126.47" stroke="#000" stroke-width="2.6"/>
<line x1="1271.38" y1="2066.91" x2="1277.38" y2="2066.91" stroke="#000" stroke-width="2.6"/>
<line x1="1271.38" y1="2126.47" x2="1277.38" y2="2126.47" stroke="#000" stroke-width="2.6"/>
<line x1="1367.12" y1="2138.39" x2="1367.12" y2="2176.29" stroke="#000" stroke-width="2.6"/>
<line x1="1364.12" y1="2138.39" x2="1370.12" y2="2138.39" stroke="#000" stroke-width="2.6"/>
<line x1="1364.12" y1="2176.29" x2="1370.12" y2="2176.29" stroke="#000" stroke-width="2.6"/>
<line x1="1274.38" y1="2176.83" x2="1274.38" y2="2202.83" stroke="#000" stroke-width="2.6"/>
<line x1="1271.38" y1="2176.83" x2="1277.38" y2="2176.83" stroke="#000" stroke-width="2.6"/>
<line x1="1271.38" y1="2202.83" x2="1277.38" y2="2202.83" stroke="#000" stroke-width="2.6"/>
<line x1="1367.12" y1="2177.01" x2="1367.12" y2="2200.48" stroke="#000" stroke-width="2.6"/>
<line x1="1364.12" y1="2177.01" x2="1370.12" y2="2177.01" stroke="#000" stroke-width="2.6"/>
<line x1="1364.12" y1="2200.48" x2="1370.12" y2="2200.48" stroke="#000" stroke-width="2.6"/>
<circle cx="1088.88" cy="2209.32" r="6.0" fill="#000"/>
<circle cx="1181.62" cy="2204.81" r="6.0" fill="#000"/>
<circle cx="1274.38" cy="2096.69" r="6.0" fill="#000"/>
<circle cx="1367.12" cy="2157.34" r="6.0" fill="#000"/>
<circle cx="1088.88" cy="2213.48" r="4.9" fill="#fff" stroke="#000" stroke-width="2.5"/>
<circle cx="1181.62" cy="2214.56" r="4.9" fill="#fff" stroke="#000" stroke-width="2.5"/>
<circle cx="1274.38" cy="2189.83" r="4.9" fill="#fff" stroke="#000" stroke-width="2.5"/>
<circle cx="1367.12" cy="2188.75" r="4.9" fill="#fff" stroke="#000" stroke-width="2.5"/>
<text x="1154.4" y="2098.5" font-size="27.3" text-anchor="start" fill="#000" stroke="#000" stroke-width="0.35">95 dB</text>
<line x1="1192.4" y1="2106.1" x2="1212.26" y2="2134.41" stroke="#000" stroke-width="2.5"/>
<polygon points="1218,2142.6 1207.59,2136.47 1213.12,2135.64 1215.78,2130.72" fill="#1a1414"/>
<text x="1331" y="2243.2" font-size="27.3" text-anchor="start" fill="#000" stroke="#000" stroke-width="0.35">75 dB</text>
<line x1="1331.3" y1="2216.1" x2="1324.3" y2="2204.88" stroke="#000" stroke-width="2.5"/>
<polygon points="1319,2196.4 1329.07,2203.08 1323.5,2203.61 1320.58,2208.38" fill="#1a1414"/>
<polyline points="1283.3,2095 1292.6,2095 1292.6,2189.8 1283.3,2189.8" fill="none" stroke="#e3161f" stroke-width="2.5"/>
<text x="1302.2" y="2163.5" font-size="43" text-anchor="middle" fill="#e3161f" stroke="#e3161f" stroke-width="0.4">*</text>
<line x1="1586.5" y1="1524.2" x2="1946.3" y2="1524.2" stroke="#a6a6a6" stroke-width="1.6"/>
<text transform="translate(1569.1,1531.04) scale(1.04,1)" font-size="19" text-anchor="end" fill="#000" stroke="#000" stroke-width="0.35">0</text>
<line x1="1586.5" y1="1451.4" x2="1946.3" y2="1451.4" stroke="#a6a6a6" stroke-width="1.6"/>
<text transform="translate(1569.1,1458.24) scale(1.04,1)" font-size="19" text-anchor="end" fill="#000" stroke="#000" stroke-width="0.35">200</text>
<line x1="1586.5" y1="1378.6" x2="1946.3" y2="1378.6" stroke="#a6a6a6" stroke-width="1.6"/>
<text transform="translate(1569.1,1385.44) scale(1.04,1)" font-size="19" text-anchor="end" fill="#000" stroke="#000" stroke-width="0.35">400</text>
<line x1="1586.5" y1="1305.8" x2="1946.3" y2="1305.8" stroke="#a6a6a6" stroke-width="1.6"/>
<text transform="translate(1569.1,1312.64) scale(1.04,1)" font-size="19" text-anchor="end" fill="#000" stroke="#000" stroke-width="0.35">600</text>
<text x="1629.6" y="1558" font-size="20.5" text-anchor="middle" fill="#000" stroke="#000" stroke-width="0.35">Day1</text>
<text x="1721.3" y="1558" font-size="20.5" text-anchor="middle" fill="#000" stroke="#000" stroke-width="0.35">Day2</text>
<text x="1813.2" y="1558" font-size="20.5" text-anchor="middle" fill="#000" stroke="#000" stroke-width="0.35">Day3</text>
<text x="1904.6" y="1558" font-size="20.5" text-anchor="middle" fill="#000" stroke="#000" stroke-width="0.35">Day4</text>
<text transform="translate(1508.8,1416.6) rotate(-90) scale(1.0,1)" font-size="23" text-anchor="middle" fill="#000" stroke="#000" stroke-width="0.35">Total motion (A.U.)</text>
<text transform="translate(1755.5,1288) scale(1.04,1)" font-size="27.3" text-anchor="middle" fill="#000" stroke="#000" stroke-width="0.35">Motions</text>
<polyline points="1631.47,1340.02 1721.42,1453.95 1811.38,1405.17 1901.32,1442.3" fill="none" stroke="#000" stroke-width="2.6" stroke-linejoin="round"/>
<polyline points="1631.47,1360.4 1721.42,1453.95 1811.38,1434.66 1901.32,1477.24" fill="none" stroke="#000" stroke-width="2.6" stroke-linejoin="round"/>
<line x1="1631.47" y1="1330.92" x2="1631.47" y2="1349.12" stroke="#000" stroke-width="2.6"/>
<line x1="1628.47" y1="1330.92" x2="1634.47" y2="1330.92" stroke="#000" stroke-width="2.6"/>
<line x1="1628.47" y1="1349.12" x2="1634.47" y2="1349.12" stroke="#000" stroke-width="2.6"/>
<line x1="1721.42" y1="1445.94" x2="1721.42" y2="1461.96" stroke="#000" stroke-width="2.6"/>
<line x1="1718.42" y1="1445.94" x2="1724.42" y2="1445.94" stroke="#000" stroke-width="2.6"/>
<line x1="1718.42" y1="1461.96" x2="1724.42" y2="1461.96" stroke="#000" stroke-width="2.6"/>
<line x1="1811.38" y1="1380.42" x2="1811.38" y2="1429.92" stroke="#000" stroke-width="2.6"/>
<line x1="1808.38" y1="1380.42" x2="1814.38" y2="1380.42" stroke="#000" stroke-width="2.6"/>
<line x1="1808.38" y1="1429.92" x2="1814.38" y2="1429.92" stroke="#000" stroke-width="2.6"/>
<line x1="1901.32" y1="1425.92" x2="1901.32" y2="1458.68" stroke="#000" stroke-width="2.6"/>
<line x1="1898.32" y1="1425.92" x2="1904.32" y2="1425.92" stroke="#000" stroke-width="2.6"/>
<line x1="1898.32" y1="1458.68" x2="1904.32" y2="1458.68" stroke="#000" stroke-width="2.6"/>
<line x1="1631.47" y1="1345.84" x2="1631.47" y2="1374.96" stroke="#000" stroke-width="2.6"/>
<line x1="1628.47" y1="1345.84" x2="1634.47" y2="1345.84" stroke="#000" stroke-width="2.6"/>
<line x1="1628.47" y1="1374.96" x2="1634.47" y2="1374.96" stroke="#000" stroke-width="2.6"/>
<line x1="1721.42" y1="1448.85" x2="1721.42" y2="1459.04" stroke="#000" stroke-width="2.6"/>
<line x1="1718.42" y1="1448.85" x2="1724.42" y2="1448.85" stroke="#000" stroke-width="2.6"/>
<line x1="1718.42" y1="1459.04" x2="1724.42" y2="1459.04" stroke="#000" stroke-width="2.6"/>
<line x1="1811.38" y1="1418.28" x2="1811.38" y2="1451.04" stroke="#000" stroke-width="2.6"/>
<line x1="1808.38" y1="1418.28" x2="1814.38" y2="1418.28" stroke="#000" stroke-width="2.6"/>
<line x1="1808.38" y1="1451.04" x2="1814.38" y2="1451.04" stroke="#000" stroke-width="2.6"/>
<line x1="1901.32" y1="1470.69" x2="1901.32" y2="1483.8" stroke="#000" stroke-width="2.6"/>
<line x1="1898.32" y1="1470.69" x2="1904.32" y2="1470.69" stroke="#000" stroke-width="2.6"/>
<line x1="1898.32" y1="1483.8" x2="1904.32" y2="1483.8" stroke="#000" stroke-width="2.6"/>
<circle cx="1631.47" cy="1340.02" r="6.0" fill="#000"/>
<circle cx="1721.42" cy="1453.95" r="6.0" fill="#000"/>
<circle cx="1811.38" cy="1405.17" r="6.0" fill="#000"/>
<circle cx="1901.32" cy="1442.3" r="6.0" fill="#000"/>
<circle cx="1631.47" cy="1360.4" r="4.9" fill="#fff" stroke="#000" stroke-width="2.5"/>
<circle cx="1721.42" cy="1453.95" r="4.9" fill="#fff" stroke="#000" stroke-width="2.5"/>
<circle cx="1811.38" cy="1434.66" r="4.9" fill="#fff" stroke="#000" stroke-width="2.5"/>
<circle cx="1901.32" cy="1477.24" r="4.9" fill="#fff" stroke="#000" stroke-width="2.5"/>
<text x="1863.1" y="1384.7" font-size="27.3" text-anchor="start" fill="#000" stroke="#000" stroke-width="0.35">0.9 mA</text>
<line x1="1874.4" y1="1390.8" x2="1864.89" y2="1409.22" stroke="#000" stroke-width="2.5"/>
<polygon points="1860.3,1418.1 1860.91,1406.03 1864.2,1410.55 1869.79,1410.62" fill="#1a1414"/>
<text x="1745.7" y="1503.3" font-size="27.3" text-anchor="start" fill="#000" stroke="#000" stroke-width="0.35">0.4 mA</text>
<line x1="1834" y1="1483.6" x2="1844.93" y2="1470.72" stroke="#000" stroke-width="2.5"/>
<polygon points="1851.4,1463.1 1848.09,1474.72 1845.9,1469.58 1840.47,1468.25" fill="#1a1414"/>
<line x1="1586.5" y1="1880" x2="1946.3" y2="1880" stroke="#a6a6a6" stroke-width="1.6"/>
<text transform="translate(1569.1,1886.84) scale(1.04,1)" font-size="19" text-anchor="end" fill="#000" stroke="#000" stroke-width="0.35">0</text>
<line x1="1586.5" y1="1825.05" x2="1946.3" y2="1825.05" stroke="#a6a6a6" stroke-width="1.6"/>
<text transform="translate(1569.1,1831.89) scale(1.04,1)" font-size="19" text-anchor="end" fill="#000" stroke="#000" stroke-width="0.35">25</text>
<line x1="1586.5" y1="1770.1" x2="1946.3" y2="1770.1" stroke="#a6a6a6" stroke-width="1.6"/>
<text transform="translate(1569.1,1776.94) scale(1.04,1)" font-size="19" text-anchor="end" fill="#000" stroke="#000" stroke-width="0.35">50</text>
<line x1="1586.5" y1="1715.15" x2="1946.3" y2="1715.15" stroke="#a6a6a6" stroke-width="1.6"/>
<text transform="translate(1569.1,1721.99) scale(1.04,1)" font-size="19" text-anchor="end" fill="#000" stroke="#000" stroke-width="0.35">75</text>
<line x1="1586.5" y1="1660.2" x2="1946.3" y2="1660.2" stroke="#a6a6a6" stroke-width="1.6"/>
<text transform="translate(1569.1,1667.04) scale(1.04,1)" font-size="19" text-anchor="end" fill="#000" stroke="#000" stroke-width="0.35">100</text>
<text x="1629.6" y="1917" font-size="20.5" text-anchor="middle" fill="#000" stroke="#000" stroke-width="0.35">Day1</text>
<text x="1721.3" y="1917" font-size="20.5" text-anchor="middle" fill="#000" stroke="#000" stroke-width="0.35">Day2</text>
<text x="1813.2" y="1917" font-size="20.5" text-anchor="middle" fill="#000" stroke="#000" stroke-width="0.35">Day3</text>
<text x="1904.6" y="1917" font-size="20.5" text-anchor="middle" fill="#000" stroke="#000" stroke-width="0.35">Day4</text>
<text transform="translate(1508.5,1766) rotate(-90) scale(1.0,1)" font-size="23" text-anchor="middle" fill="#000" stroke="#000" stroke-width="0.35">% freezing</text>
<text transform="translate(1758.5,1641) scale(1.04,1)" font-size="27.3" text-anchor="middle" fill="#000" stroke="#000" stroke-width="0.35">Freezing</text>
<polyline points="1631.47,1869.45 1721.42,1784.39 1811.38,1751.42 1901.32,1740.21" fill="none" stroke="#000" stroke-width="2.6" stroke-linejoin="round"/>
<polyline points="1631.47,1861.1 1721.42,1790.98 1811.38,1748.78 1901.32,1725.92" fill="none" stroke="#000" stroke-width="2.6" stroke-linejoin="round"/>
<line x1="1631.47" y1="1867.25" x2="1631.47" y2="1871.65" stroke="#000" stroke-width="2.6"/>
<line x1="1628.47" y1="1867.25" x2="1634.47" y2="1867.25" stroke="#000" stroke-width="2.6"/>
<line x1="1628.47" y1="1871.65" x2="1634.47" y2="1871.65" stroke="#000" stroke-width="2.6"/>
<line x1="1721.42" y1="1777.79" x2="1721.42" y2="1790.98" stroke="#000" stroke-width="2.6"/>
<line x1="1718.42" y1="1777.79" x2="1724.42" y2="1777.79" stroke="#000" stroke-width="2.6"/>
<line x1="1718.42" y1="1790.98" x2="1724.42" y2="1790.98" stroke="#000" stroke-width="2.6"/>
<line x1="1811.38" y1="1742.62" x2="1811.38" y2="1760.21" stroke="#000" stroke-width="2.6"/>
<line x1="1808.38" y1="1742.62" x2="1814.38" y2="1742.62" stroke="#000" stroke-width="2.6"/>
<line x1="1808.38" y1="1760.21" x2="1814.38" y2="1760.21" stroke="#000" stroke-width="2.6"/>
<line x1="1901.32" y1="1731.42" x2="1901.32" y2="1749" stroke="#000" stroke-width="2.6"/>
<line x1="1898.32" y1="1731.42" x2="1904.32" y2="1731.42" stroke="#000" stroke-width="2.6"/>
<line x1="1898.32" y1="1749" x2="1904.32" y2="1749" stroke="#000" stroke-width="2.6"/>
<line x1="1631.47" y1="1857.8" x2="1631.47" y2="1864.39" stroke="#000" stroke-width="2.6"/>
<line x1="1628.47" y1="1857.8" x2="1634.47" y2="1857.8" stroke="#000" stroke-width="2.6"/>
<line x1="1628.47" y1="1864.39" x2="1634.47" y2="1864.39" stroke="#000" stroke-width="2.6"/>
<line x1="1721.42" y1="1787.68" x2="1721.42" y2="1794.28" stroke="#000" stroke-width="2.6"/>
<line x1="1718.42" y1="1787.68" x2="1724.42" y2="1787.68" stroke="#000" stroke-width="2.6"/>
<line x1="1718.42" y1="1794.28" x2="1724.42" y2="1794.28" stroke="#000" stroke-width="2.6"/>
<line x1="1811.38" y1="1742.19" x2="1811.38" y2="1755.37" stroke="#000" stroke-width="2.6"/>
<line x1="1808.38" y1="1742.19" x2="1814.38" y2="1742.19" stroke="#000" stroke-width="2.6"/>
<line x1="1808.38" y1="1755.37" x2="1814.38" y2="1755.37" stroke="#000" stroke-width="2.6"/>
<line x1="1901.32" y1="1719.33" x2="1901.32" y2="1732.51" stroke="#000" stroke-width="2.6"/>
<line x1="1898.32" y1="1719.33" x2="1904.32" y2="1719.33" stroke="#000" stroke-width="2.6"/>
<line x1="1898.32" y1="1732.51" x2="1904.32" y2="1732.51" stroke="#000" stroke-width="2.6"/>
<circle cx="1631.47" cy="1869.45" r="6.0" fill="#000"/>
<circle cx="1721.42" cy="1784.39" r="6.0" fill="#000"/>
<circle cx="1811.38" cy="1751.42" r="6.0" fill="#000"/>
<circle cx="1901.32" cy="1740.21" r="6.0" fill="#000"/>
<circle cx="1631.47" cy="1861.1" r="4.9" fill="#fff" stroke="#000" stroke-width="2.5"/>
<circle cx="1721.42" cy="1790.98" r="4.9" fill="#fff" stroke="#000" stroke-width="2.5"/>
<circle cx="1811.38" cy="1748.78" r="4.9" fill="#fff" stroke="#000" stroke-width="2.5"/>
<circle cx="1901.32" cy="1725.92" r="4.9" fill="#fff" stroke="#000" stroke-width="2.5"/>
<text x="1749.2" y="1693.5" font-size="27.3" text-anchor="start" fill="#000" stroke="#000" stroke-width="0.35">0.4 mA</text>
<line x1="1830.9" y1="1700.4" x2="1850.28" y2="1721.79" stroke="#000" stroke-width="2.5"/>
<polygon points="1857,1729.2 1845.91,1724.41 1851.29,1722.9 1853.32,1717.69" fill="#1a1414"/>
<text x="1833" y="1810.5" font-size="27.3" text-anchor="start" fill="#000" stroke="#000" stroke-width="0.35">0.9 mA</text>
<line x1="1854.5" y1="1783.2" x2="1857.57" y2="1761.9" stroke="#000" stroke-width="2.5"/>
<polygon points="1859,1752 1862.38,1763.6 1857.79,1760.41 1852.48,1762.17" fill="#1a1414"/>
<line x1="1575.8" y1="2251.2" x2="1946.3" y2="2251.2" stroke="#a6a6a6" stroke-width="1.6"/>
<text transform="translate(1557.6,2258.04) scale(1.04,1)" font-size="19" text-anchor="end" fill="#000" stroke="#000" stroke-width="0.35">-2</text>
<line x1="1575.8" y1="2215.1" x2="1946.3" y2="2215.1" stroke="#a6a6a6" stroke-width="1.6"/>
<text transform="translate(1557.6,2221.94) scale(1.04,1)" font-size="19" text-anchor="end" fill="#000" stroke="#000" stroke-width="0.35">0</text>
<line x1="1575.8" y1="2179" x2="1946.3" y2="2179" stroke="#a6a6a6" stroke-width="1.6"/>
<text transform="translate(1557.6,2185.84) scale(1.04,1)" font-size="19" text-anchor="end" fill="#000" stroke="#000" stroke-width="0.35">2</text>
<line x1="1575.8" y1="2142.9" x2="1946.3" y2="2142.9" stroke="#a6a6a6" stroke-width="1.6"/>
<text transform="translate(1557.6,2149.74) scale(1.04,1)" font-size="19" text-anchor="end" fill="#000" stroke="#000" stroke-width="0.35">4</text>
<line x1="1575.8" y1="2106.8" x2="1946.3" y2="2106.8" stroke="#a6a6a6" stroke-width="1.6"/>
<text transform="translate(1557.6,2113.64) scale(1.04,1)" font-size="19" text-anchor="end" fill="#000" stroke="#000" stroke-width="0.35">6</text>
<line x1="1575.8" y1="2070.7" x2="1946.3" y2="2070.7" stroke="#a6a6a6" stroke-width="1.6"/>
<text transform="translate(1557.6,2077.54) scale(1.04,1)" font-size="19" text-anchor="end" fill="#000" stroke="#000" stroke-width="0.35">8</text>
<line x1="1575.8" y1="2034.6" x2="1946.3" y2="2034.6" stroke="#a6a6a6" stroke-width="1.6"/>
<text transform="translate(1557.6,2041.44) scale(1.04,1)" font-size="19" text-anchor="end" fill="#000" stroke="#000" stroke-width="0.35">10</text>
<text x="1629.6" y="2287" font-size="20.5" text-anchor="middle" fill="#000" stroke="#000" stroke-width="0.35">Day1</text>
<text x="1721.3" y="2287" font-size="20.5" text-anchor="middle" fill="#000" stroke="#000" stroke-width="0.35">Day2</text>
<text x="1813.2" y="2287" font-size="20.5" text-anchor="middle" fill="#000" stroke="#000" stroke-width="0.35">Day3</text>
<text x="1904.6" y="2287" font-size="20.5" text-anchor="middle" fill="#000" stroke="#000" stroke-width="0.35">Day4</text>
<text transform="translate(1508.5,2158.5) rotate(-90) scale(1.0,1)" font-size="23" text-anchor="middle" fill="#000" stroke="#000" stroke-width="0.35">Total # of jumps</text>
<text transform="translate(1746,2014) scale(1.04,1)" font-size="27.3" text-anchor="middle" fill="#000" stroke="#000" stroke-width="0.35">Jumps</text>
<polyline points="1622.11,2212.39 1714.74,2214.56 1807.36,2131.35 1899.99,2160.05" fill="none" stroke="#000" stroke-width="2.6" stroke-linejoin="round"/>
<polyline points="1622.11,2212.39 1714.74,2205.17 1807.36,2153.37 1899.99,2186.22" fill="none" stroke="#000" stroke-width="2.6" stroke-linejoin="round"/>
<line x1="1807.36" y1="2103.37" x2="1807.36" y2="2159.33" stroke="#000" stroke-width="2.6"/>
<line x1="1804.36" y1="2103.37" x2="1810.36" y2="2103.37" stroke="#000" stroke-width="2.6"/>
<line x1="1804.36" y1="2159.33" x2="1810.36" y2="2159.33" stroke="#000" stroke-width="2.6"/>
<line x1="1899.99" y1="2141.09" x2="1899.99" y2="2179" stroke="#000" stroke-width="2.6"/>
<line x1="1896.99" y1="2141.09" x2="1902.99" y2="2141.09" stroke="#000" stroke-width="2.6"/>
<line x1="1896.99" y1="2179" x2="1902.99" y2="2179" stroke="#000" stroke-width="2.6"/>
<line x1="1714.74" y1="2202.46" x2="1714.74" y2="2207.88" stroke="#000" stroke-width="2.6"/>
<line x1="1711.74" y1="2202.46" x2="1717.74" y2="2202.46" stroke="#000" stroke-width="2.6"/>
<line x1="1711.74" y1="2207.88" x2="1717.74" y2="2207.88" stroke="#000" stroke-width="2.6"/>
<line x1="1807.36" y1="2130.81" x2="1807.36" y2="2175.93" stroke="#000" stroke-width="2.6"/>
<line x1="1804.36" y1="2130.81" x2="1810.36" y2="2130.81" stroke="#000" stroke-width="2.6"/>
<line x1="1804.36" y1="2175.93" x2="1810.36" y2="2175.93" stroke="#000" stroke-width="2.6"/>
<line x1="1899.99" y1="2176.29" x2="1899.99" y2="2196.15" stroke="#000" stroke-width="2.6"/>
<line x1="1896.99" y1="2176.29" x2="1902.99" y2="2176.29" stroke="#000" stroke-width="2.6"/>
<line x1="1896.99" y1="2196.15" x2="1902.99" y2="2196.15" stroke="#000" stroke-width="2.6"/>
<circle cx="1622.11" cy="2212.39" r="6.0" fill="#000"/>
<circle cx="1714.74" cy="2214.56" r="6.0" fill="#000"/>
<circle cx="1807.36" cy="2131.35" r="6.0" fill="#000"/>
<circle cx="1899.99" cy="2160.05" r="6.0" fill="#000"/>
<circle cx="1622.11" cy="2212.39" r="4.9" fill="#fff" stroke="#000" stroke-width="2.5"/>
<circle cx="1714.74" cy="2205.17" r="4.9" fill="#fff" stroke="#000" stroke-width="2.5"/>
<circle cx="1807.36" cy="2153.37" r="4.9" fill="#fff" stroke="#000" stroke-width="2.5"/>
<circle cx="1899.99" cy="2186.22" r="4.9" fill="#fff" stroke="#000" stroke-width="2.5"/>
<text x="1852" y="2103.6" font-size="27.3" text-anchor="start" fill="#000" stroke="#000" stroke-width="0.35">0.9 mA</text>
<line x1="1863.3" y1="2109.8" x2="1853.89" y2="2128.56" stroke="#000" stroke-width="2.5"/>
<polygon points="1849.4,2137.5 1849.86,2125.43 1853.21,2129.9 1858.8,2129.91" fill="#1a1414"/>
<text x="1782.7" y="2223.7" font-size="27.3" text-anchor="start" fill="#000" stroke="#000" stroke-width="0.35">0.4 mA</text>
<line x1="1837.1" y1="2201.1" x2="1848.03" y2="2188.22" stroke="#000" stroke-width="2.5"/>
<polygon points="1854.5,2180.6 1851.19,2192.22 1849,2187.08 1843.57,2185.75" fill="#1a1414"/>
</svg>
</body></html>
